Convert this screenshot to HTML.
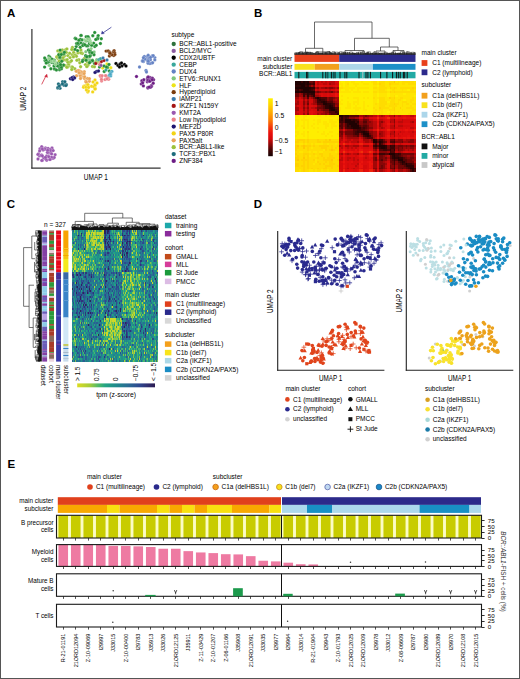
<!DOCTYPE html>
<html><head><meta charset="utf-8"><style>
html,body{margin:0;padding:0;background:#fff;}
svg{display:block;font-family:"Liberation Sans",sans-serif;}
</style></head><body>
<svg width="520" height="679" viewBox="0 0 520 679">
<rect x="0" y="0" width="520" height="679" fill="#fff"/>
<text x="6.9" y="16.6" font-size="11.5" fill="#000" font-weight="bold">A</text>
<g fill="#9cc23a" stroke="#fff" stroke-width="0.35" stroke-opacity="0.6"><circle cx="65.7" cy="49.6" r="1.7"/><circle cx="72.1" cy="54.8" r="1.7"/><circle cx="57.7" cy="58.2" r="1.7"/><circle cx="57.1" cy="56.4" r="1.7"/><circle cx="68.7" cy="65.8" r="1.7"/><circle cx="59.7" cy="51.4" r="1.7"/><circle cx="74.8" cy="68.7" r="1.7"/><circle cx="73.3" cy="55.5" r="1.7"/><circle cx="81.8" cy="53.0" r="1.7"/><circle cx="65.3" cy="65.6" r="1.7"/><circle cx="61.4" cy="60.0" r="1.7"/><circle cx="75.2" cy="54.9" r="1.7"/><circle cx="72.4" cy="47.5" r="1.7"/><circle cx="57.8" cy="50.9" r="1.7"/><circle cx="76.4" cy="56.3" r="1.7"/><circle cx="65.4" cy="60.1" r="1.7"/><circle cx="69.6" cy="53.2" r="1.7"/><circle cx="79.8" cy="62.8" r="1.7"/><circle cx="63.3" cy="59.8" r="1.7"/><circle cx="71.8" cy="67.0" r="1.7"/><circle cx="77.9" cy="52.9" r="1.7"/><circle cx="68.5" cy="64.2" r="1.7"/><circle cx="60.6" cy="57.7" r="1.7"/><circle cx="78.9" cy="59.8" r="1.7"/><circle cx="82.3" cy="53.5" r="1.7"/><circle cx="76.9" cy="60.3" r="1.7"/><circle cx="73.4" cy="56.9" r="1.7"/><circle cx="70.2" cy="61.9" r="1.7"/><circle cx="80.7" cy="52.8" r="1.7"/><circle cx="67.6" cy="62.0" r="1.7"/><circle cx="56.7" cy="57.1" r="1.7"/><circle cx="59.9" cy="51.9" r="1.7"/><circle cx="67.7" cy="66.9" r="1.7"/><circle cx="58.4" cy="56.8" r="1.7"/><circle cx="72.5" cy="67.2" r="1.7"/><circle cx="80.6" cy="66.7" r="1.7"/><circle cx="64.4" cy="56.0" r="1.7"/><circle cx="66.8" cy="67.2" r="1.7"/><circle cx="61.3" cy="51.6" r="1.7"/><circle cx="63.0" cy="57.6" r="1.7"/><circle cx="73.7" cy="52.3" r="1.7"/><circle cx="67.1" cy="59.6" r="1.7"/><circle cx="71.5" cy="60.8" r="1.7"/><circle cx="67.8" cy="55.6" r="1.7"/><circle cx="59.1" cy="61.2" r="1.7"/><circle cx="62.3" cy="49.9" r="1.7"/><circle cx="59.0" cy="54.7" r="1.7"/><circle cx="74.4" cy="49.6" r="1.7"/><circle cx="63.6" cy="54.3" r="1.7"/><circle cx="66.9" cy="48.9" r="1.7"/><circle cx="70.0" cy="57.6" r="1.7"/><circle cx="66.3" cy="52.4" r="1.7"/><circle cx="80.9" cy="49.9" r="1.7"/><circle cx="71.8" cy="49.5" r="1.7"/><circle cx="71.8" cy="69.5" r="1.7"/></g>
<g fill="#9cc23a" stroke="#fff" stroke-width="0.35" stroke-opacity="0.6"><circle cx="88.2" cy="59.9" r="1.7"/><circle cx="86.7" cy="66.4" r="1.7"/><circle cx="92.5" cy="66.5" r="1.7"/><circle cx="89.3" cy="57.6" r="1.7"/><circle cx="87.6" cy="62.3" r="1.7"/><circle cx="84.4" cy="58.5" r="1.7"/><circle cx="88.1" cy="65.1" r="1.7"/><circle cx="99.3" cy="61.2" r="1.7"/><circle cx="99.3" cy="59.8" r="1.7"/><circle cx="87.5" cy="57.6" r="1.7"/><circle cx="87.1" cy="57.3" r="1.7"/><circle cx="97.4" cy="61.7" r="1.7"/><circle cx="94.4" cy="66.8" r="1.7"/><circle cx="85.4" cy="64.6" r="1.7"/><circle cx="96.0" cy="61.6" r="1.7"/><circle cx="86.9" cy="66.6" r="1.7"/></g>
<g fill="#80c67e" stroke="#fff" stroke-width="0.35" stroke-opacity="0.6"><circle cx="88.7" cy="59.6" r="1.7"/><circle cx="89.6" cy="61.4" r="1.7"/><circle cx="94.1" cy="52.0" r="1.7"/><circle cx="85.8" cy="51.8" r="1.7"/><circle cx="96.7" cy="59.7" r="1.7"/><circle cx="88.9" cy="56.6" r="1.7"/><circle cx="91.4" cy="61.2" r="1.7"/><circle cx="90.1" cy="60.5" r="1.7"/></g>
<g fill="#268f36" stroke="#fff" stroke-width="0.35" stroke-opacity="0.6"><circle cx="97.8" cy="37.5" r="1.7"/><circle cx="80.6" cy="39.6" r="1.7"/><circle cx="80.2" cy="47.2" r="1.7"/><circle cx="80.8" cy="42.9" r="1.7"/><circle cx="83.6" cy="43.9" r="1.7"/><circle cx="90.5" cy="55.5" r="1.7"/><circle cx="85.6" cy="55.9" r="1.7"/><circle cx="88.0" cy="45.8" r="1.7"/><circle cx="86.2" cy="36.8" r="1.7"/><circle cx="78.2" cy="44.3" r="1.7"/><circle cx="94.8" cy="46.5" r="1.7"/><circle cx="82.8" cy="45.5" r="1.7"/><circle cx="89.7" cy="52.4" r="1.7"/><circle cx="76.2" cy="46.6" r="1.7"/><circle cx="80.5" cy="39.2" r="1.7"/><circle cx="96.2" cy="45.2" r="1.7"/><circle cx="89.9" cy="51.8" r="1.7"/><circle cx="100.4" cy="43.5" r="1.7"/><circle cx="91.4" cy="45.1" r="1.7"/><circle cx="88.4" cy="50.0" r="1.7"/><circle cx="86.6" cy="45.9" r="1.7"/><circle cx="87.3" cy="56.5" r="1.7"/><circle cx="94.0" cy="54.8" r="1.7"/><circle cx="101.3" cy="38.7" r="1.7"/><circle cx="89.8" cy="56.5" r="1.7"/><circle cx="98.2" cy="35.6" r="1.7"/><circle cx="76.6" cy="43.5" r="1.7"/><circle cx="75.2" cy="38.3" r="1.7"/><circle cx="75.2" cy="49.4" r="1.7"/><circle cx="77.6" cy="50.6" r="1.7"/><circle cx="92.8" cy="35.7" r="1.7"/><circle cx="84.9" cy="44.7" r="1.7"/><circle cx="77.8" cy="43.2" r="1.7"/><circle cx="88.5" cy="40.8" r="1.7"/><circle cx="78.9" cy="40.3" r="1.7"/><circle cx="94.7" cy="32.5" r="1.7"/><circle cx="89.6" cy="43.5" r="1.7"/><circle cx="91.7" cy="45.3" r="1.7"/><circle cx="76.1" cy="38.9" r="1.7"/><circle cx="81.1" cy="35.4" r="1.7"/><circle cx="85.7" cy="55.7" r="1.7"/><circle cx="97.6" cy="38.7" r="1.7"/><circle cx="90.1" cy="50.2" r="1.7"/><circle cx="93.6" cy="43.1" r="1.7"/><circle cx="92.0" cy="52.8" r="1.7"/><circle cx="86.6" cy="40.8" r="1.7"/><circle cx="89.6" cy="56.1" r="1.7"/><circle cx="81.0" cy="35.4" r="1.7"/><circle cx="88.8" cy="38.2" r="1.7"/><circle cx="82.4" cy="39.9" r="1.7"/><circle cx="95.8" cy="39.5" r="1.7"/><circle cx="88.0" cy="36.6" r="1.7"/></g>
<g fill="#268f36" stroke="#fff" stroke-width="0.35" stroke-opacity="0.6"><circle cx="59.9" cy="63.5" r="1.7"/><circle cx="47.4" cy="62.0" r="1.7"/><circle cx="61.8" cy="61.2" r="1.7"/><circle cx="54.4" cy="68.9" r="1.7"/><circle cx="52.0" cy="62.6" r="1.7"/><circle cx="50.9" cy="68.8" r="1.7"/><circle cx="59.3" cy="65.1" r="1.7"/><circle cx="52.3" cy="59.6" r="1.7"/><circle cx="44.6" cy="67.1" r="1.7"/><circle cx="48.9" cy="56.1" r="1.7"/><circle cx="63.0" cy="65.7" r="1.7"/><circle cx="49.5" cy="57.6" r="1.7"/><circle cx="49.7" cy="61.7" r="1.7"/><circle cx="46.6" cy="61.5" r="1.7"/><circle cx="50.1" cy="59.8" r="1.7"/><circle cx="53.9" cy="62.6" r="1.7"/><circle cx="47.6" cy="62.6" r="1.7"/><circle cx="45.1" cy="60.6" r="1.7"/><circle cx="50.0" cy="57.4" r="1.7"/><circle cx="56.5" cy="63.1" r="1.7"/><circle cx="60.3" cy="65.5" r="1.7"/><circle cx="59.5" cy="69.7" r="1.7"/><circle cx="52.0" cy="59.2" r="1.7"/><circle cx="59.7" cy="65.2" r="1.7"/><circle cx="63.5" cy="64.9" r="1.7"/><circle cx="59.9" cy="68.4" r="1.7"/><circle cx="46.2" cy="63.0" r="1.7"/><circle cx="54.6" cy="68.9" r="1.7"/><circle cx="61.5" cy="68.7" r="1.7"/><circle cx="56.4" cy="70.0" r="1.7"/><circle cx="58.7" cy="66.2" r="1.7"/><circle cx="46.1" cy="59.9" r="1.7"/><circle cx="55.8" cy="64.9" r="1.7"/><circle cx="57.4" cy="65.9" r="1.7"/><circle cx="61.3" cy="67.2" r="1.7"/><circle cx="54.6" cy="63.2" r="1.7"/><circle cx="59.9" cy="57.8" r="1.7"/><circle cx="44.7" cy="58.0" r="1.7"/><circle cx="59.8" cy="56.9" r="1.7"/><circle cx="54.4" cy="60.3" r="1.7"/><circle cx="54.0" cy="66.0" r="1.7"/><circle cx="60.6" cy="64.7" r="1.7"/></g>
<g fill="#268f36" stroke="#fff" stroke-width="0.35" stroke-opacity="0.6"><circle cx="82.7" cy="60.1" r="1.7"/><circle cx="99.5" cy="67.1" r="1.7"/><circle cx="94.5" cy="63.4" r="1.7"/><circle cx="109.3" cy="71.0" r="1.7"/><circle cx="104.2" cy="71.5" r="1.7"/><circle cx="92.4" cy="60.3" r="1.7"/><circle cx="106.4" cy="67.3" r="1.7"/><circle cx="92.4" cy="60.8" r="1.7"/><circle cx="82.5" cy="61.5" r="1.7"/><circle cx="107.6" cy="67.4" r="1.7"/><circle cx="89.9" cy="62.3" r="1.7"/><circle cx="89.5" cy="62.8" r="1.7"/><circle cx="86.8" cy="56.8" r="1.7"/><circle cx="86.0" cy="60.3" r="1.7"/></g>
<g fill="#268f36" stroke="#fff" stroke-width="0.35" stroke-opacity="0.6"><circle cx="60.1" cy="50.1" r="1.7"/><circle cx="58.7" cy="54.7" r="1.7"/><circle cx="63.8" cy="53.9" r="1.7"/><circle cx="61.3" cy="54.5" r="1.7"/><circle cx="64.4" cy="52.3" r="1.7"/></g>
<g fill="#8fd08a" stroke="#fff" stroke-width="0.35" stroke-opacity="0.6"><circle cx="55.3" cy="62.5" r="1.7"/><circle cx="55.5" cy="64.4" r="1.7"/><circle cx="49.0" cy="58.5" r="1.7"/><circle cx="51.6" cy="61.4" r="1.7"/><circle cx="49.2" cy="65.4" r="1.7"/><circle cx="54.2" cy="61.0" r="1.7"/></g>
<g fill="#8fd08a" stroke="#fff" stroke-width="0.35" stroke-opacity="0.6"><circle cx="90.9" cy="42.7" r="1.7"/><circle cx="84.7" cy="39.9" r="1.7"/><circle cx="90.0" cy="40.6" r="1.7"/><circle cx="89.2" cy="39.7" r="1.7"/><circle cx="87.5" cy="39.1" r="1.7"/><circle cx="85.8" cy="41.1" r="1.7"/><circle cx="91.1" cy="48.6" r="1.7"/></g>
<g fill="#7c3c0c" stroke="#fff" stroke-width="0.35" stroke-opacity="0.6"><circle cx="113.0" cy="52.1" r="1.7"/><circle cx="109.6" cy="53.0" r="1.7"/><circle cx="109.3" cy="51.6" r="1.7"/><circle cx="106.1" cy="51.1" r="1.7"/><circle cx="110.5" cy="53.8" r="1.7"/><circle cx="114.1" cy="50.6" r="1.7"/><circle cx="108.2" cy="50.9" r="1.7"/><circle cx="109.5" cy="52.4" r="1.7"/><circle cx="114.5" cy="52.6" r="1.7"/><circle cx="109.4" cy="56.0" r="1.7"/><circle cx="113.8" cy="55.5" r="1.7"/><circle cx="110.7" cy="54.2" r="1.7"/><circle cx="114.9" cy="54.5" r="1.7"/><circle cx="112.0" cy="54.8" r="1.7"/><circle cx="110.1" cy="53.2" r="1.7"/></g>
<g fill="#000000" stroke="#fff" stroke-width="0.35" stroke-opacity="0.6"><circle cx="116.0" cy="63.5" r="1.7"/><circle cx="118.0" cy="65.5" r="1.7"/><circle cx="120.0" cy="64.0" r="1.7"/><circle cx="122.0" cy="66.0" r="1.7"/><circle cx="121.5" cy="63.0" r="1.7"/><circle cx="124.5" cy="64.5" r="1.7"/><circle cx="126.0" cy="66.0" r="1.7"/><circle cx="119.5" cy="67.0" r="1.7"/></g>
<g fill="#eaa458" stroke="#fff" stroke-width="0.35" stroke-opacity="0.6"><circle cx="76.6" cy="75.7" r="1.7"/><circle cx="83.3" cy="74.1" r="1.7"/><circle cx="78.8" cy="70.4" r="1.7"/><circle cx="81.3" cy="76.7" r="1.7"/><circle cx="80.8" cy="75.2" r="1.7"/><circle cx="81.3" cy="71.9" r="1.7"/><circle cx="84.3" cy="71.8" r="1.7"/><circle cx="79.4" cy="73.0" r="1.7"/><circle cx="84.4" cy="78.4" r="1.7"/><circle cx="84.6" cy="76.8" r="1.7"/><circle cx="79.8" cy="71.1" r="1.7"/><circle cx="80.1" cy="75.7" r="1.7"/><circle cx="81.4" cy="72.3" r="1.7"/><circle cx="80.5" cy="78.5" r="1.7"/><circle cx="79.9" cy="72.9" r="1.7"/><circle cx="84.1" cy="73.6" r="1.7"/></g>
<g fill="#eaa458" stroke="#fff" stroke-width="0.35" stroke-opacity="0.6"><circle cx="89.3" cy="81.2" r="1.7"/><circle cx="87.5" cy="78.5" r="1.7"/><circle cx="89.4" cy="78.7" r="1.7"/><circle cx="85.8" cy="81.3" r="1.7"/><circle cx="86.3" cy="82.3" r="1.7"/></g>
<g fill="#eaa458" stroke="#fff" stroke-width="0.35" stroke-opacity="0.6"><circle cx="78.0" cy="70.6" r="1.7"/><circle cx="76.3" cy="71.3" r="1.7"/><circle cx="79.0" cy="72.8" r="1.7"/></g>
<g fill="#f2d414" stroke="#fff" stroke-width="0.35" stroke-opacity="0.6"><circle cx="84.9" cy="86.3" r="1.7"/><circle cx="83.8" cy="86.3" r="1.7"/><circle cx="95.1" cy="85.6" r="1.7"/><circle cx="91.6" cy="86.2" r="1.7"/><circle cx="87.9" cy="85.6" r="1.7"/><circle cx="86.6" cy="85.9" r="1.7"/><circle cx="87.6" cy="91.0" r="1.7"/><circle cx="93.7" cy="86.8" r="1.7"/><circle cx="83.6" cy="87.2" r="1.7"/><circle cx="87.8" cy="92.1" r="1.7"/><circle cx="85.5" cy="86.0" r="1.7"/><circle cx="88.3" cy="90.9" r="1.7"/><circle cx="95.0" cy="84.8" r="1.7"/><circle cx="92.7" cy="91.9" r="1.7"/><circle cx="87.4" cy="85.0" r="1.7"/><circle cx="95.4" cy="88.8" r="1.7"/><circle cx="86.4" cy="89.9" r="1.7"/><circle cx="87.1" cy="85.0" r="1.7"/><circle cx="94.9" cy="89.0" r="1.7"/><circle cx="86.0" cy="87.2" r="1.7"/><circle cx="88.0" cy="84.8" r="1.7"/><circle cx="88.6" cy="87.4" r="1.7"/></g>
<g fill="#f2d414" stroke="#fff" stroke-width="0.35" stroke-opacity="0.6"><circle cx="95.0" cy="80.0" r="1.7"/><circle cx="93.0" cy="82.0" r="1.7"/><circle cx="97.0" cy="83.0" r="1.7"/></g>
<g fill="#1c6c7c" stroke="#fff" stroke-width="0.35" stroke-opacity="0.6"><circle cx="66.1" cy="84.6" r="1.7"/><circle cx="66.4" cy="84.7" r="1.7"/><circle cx="62.7" cy="83.4" r="1.7"/><circle cx="59.9" cy="85.2" r="1.7"/><circle cx="60.0" cy="88.2" r="1.7"/><circle cx="57.7" cy="88.0" r="1.7"/><circle cx="58.4" cy="83.9" r="1.7"/><circle cx="58.1" cy="87.3" r="1.7"/><circle cx="64.1" cy="83.5" r="1.7"/><circle cx="59.2" cy="86.1" r="1.7"/><circle cx="64.0" cy="85.3" r="1.7"/><circle cx="65.9" cy="85.6" r="1.7"/><circle cx="62.6" cy="81.8" r="1.7"/><circle cx="64.9" cy="81.8" r="1.7"/><circle cx="62.4" cy="83.9" r="1.7"/></g>
<g fill="#1c1470" stroke="#fff" stroke-width="0.35" stroke-opacity="0.6"><circle cx="73.5" cy="76.9" r="1.7"/><circle cx="70.4" cy="78.7" r="1.7"/><circle cx="72.6" cy="77.8" r="1.7"/><circle cx="72.0" cy="77.8" r="1.7"/><circle cx="74.6" cy="78.0" r="1.7"/><circle cx="72.7" cy="79.6" r="1.7"/></g>
<g fill="#1c1470" stroke="#fff" stroke-width="0.35" stroke-opacity="0.6"><circle cx="96.5" cy="71.5" r="1.7"/><circle cx="98.5" cy="71.0" r="1.7"/><circle cx="95.0" cy="72.5" r="1.7"/></g>
<g fill="#ec8088" stroke="#fff" stroke-width="0.35" stroke-opacity="0.6"><circle cx="100.2" cy="75.7" r="1.7"/><circle cx="108.7" cy="79.2" r="1.7"/><circle cx="108.3" cy="77.4" r="1.7"/><circle cx="107.7" cy="78.0" r="1.7"/><circle cx="101.6" cy="81.0" r="1.7"/><circle cx="105.0" cy="79.6" r="1.7"/><circle cx="101.2" cy="77.3" r="1.7"/><circle cx="100.4" cy="75.8" r="1.7"/><circle cx="101.5" cy="79.4" r="1.7"/><circle cx="105.5" cy="75.8" r="1.7"/><circle cx="105.8" cy="75.7" r="1.7"/><circle cx="102.1" cy="75.8" r="1.7"/><circle cx="107.0" cy="78.9" r="1.7"/></g>
<g fill="#ec8088" stroke="#fff" stroke-width="0.35" stroke-opacity="0.6"><circle cx="100.4" cy="62.7" r="1.7"/><circle cx="99.5" cy="64.5" r="1.7"/></g>
<g fill="#48a8c4" stroke="#fff" stroke-width="0.35" stroke-opacity="0.6"><circle cx="110.8" cy="74.0" r="1.7"/><circle cx="111.9" cy="71.4" r="1.7"/><circle cx="109.3" cy="75.2" r="1.7"/><circle cx="110.5" cy="72.9" r="1.7"/><circle cx="110.7" cy="75.9" r="1.7"/><circle cx="110.2" cy="74.3" r="1.7"/></g>
<g fill="#a41414" stroke="#fff" stroke-width="0.35" stroke-opacity="0.6"><circle cx="95.8" cy="63.5" r="1.7"/><circle cx="101.5" cy="61.5" r="1.7"/><circle cx="104.0" cy="60.5" r="1.7"/></g>
<g fill="#3aa89c" stroke="#fff" stroke-width="0.35" stroke-opacity="0.6"><circle cx="98.8" cy="59.6" r="1.7"/><circle cx="100.5" cy="58.8" r="1.7"/><circle cx="106.0" cy="70.0" r="1.7"/></g>
<g fill="#ece418" stroke="#fff" stroke-width="0.35" stroke-opacity="0.6"><circle cx="110.8" cy="67.7" r="1.7"/><circle cx="102.7" cy="68.1" r="1.7"/><circle cx="107.0" cy="64.0" r="1.7"/></g>
<g fill="#268f36" stroke="#fff" stroke-width="0.35" stroke-opacity="0.6"><circle cx="104.0" cy="66.0" r="1.7"/><circle cx="106.5" cy="67.0" r="1.7"/><circle cx="109.0" cy="64.5" r="1.7"/></g>
<g fill="#3a7aac" stroke="#fff" stroke-width="0.35" stroke-opacity="0.6"><circle cx="103.0" cy="58.0" r="1.7"/><circle cx="107.0" cy="60.0" r="1.7"/></g>
<g fill="#8c5aa0" stroke="#fff" stroke-width="0.35" stroke-opacity="0.6"><circle cx="101.0" cy="65.5" r="1.7"/></g>
<g fill="#6482c4" stroke="#fff" stroke-width="0.35" stroke-opacity="0.6"><circle cx="146.9" cy="59.0" r="1.7"/><circle cx="146.7" cy="56.9" r="1.7"/><circle cx="151.8" cy="56.2" r="1.7"/><circle cx="148.4" cy="62.7" r="1.7"/><circle cx="148.2" cy="63.3" r="1.7"/><circle cx="148.0" cy="56.4" r="1.7"/><circle cx="142.3" cy="60.9" r="1.7"/><circle cx="151.5" cy="63.1" r="1.7"/><circle cx="143.5" cy="61.5" r="1.7"/><circle cx="147.2" cy="59.8" r="1.7"/><circle cx="143.8" cy="58.1" r="1.7"/><circle cx="149.9" cy="63.5" r="1.7"/><circle cx="143.6" cy="60.2" r="1.7"/><circle cx="144.3" cy="56.5" r="1.7"/><circle cx="148.2" cy="55.3" r="1.7"/><circle cx="154.8" cy="57.6" r="1.7"/><circle cx="154.8" cy="59.9" r="1.7"/><circle cx="153.0" cy="55.6" r="1.7"/><circle cx="152.6" cy="56.3" r="1.7"/><circle cx="148.1" cy="63.0" r="1.7"/><circle cx="153.1" cy="55.8" r="1.7"/><circle cx="145.0" cy="59.1" r="1.7"/><circle cx="149.1" cy="58.4" r="1.7"/><circle cx="143.4" cy="57.8" r="1.7"/><circle cx="152.6" cy="62.8" r="1.7"/><circle cx="142.7" cy="61.0" r="1.7"/><circle cx="150.4" cy="59.8" r="1.7"/><circle cx="150.5" cy="57.4" r="1.7"/><circle cx="148.0" cy="60.4" r="1.7"/><circle cx="148.2" cy="61.2" r="1.7"/></g>
<g fill="#6482c4" stroke="#fff" stroke-width="0.35" stroke-opacity="0.6"><circle cx="139.5" cy="67.0" r="1.7"/><circle cx="146.0" cy="70.5" r="1.7"/><circle cx="146.5" cy="72.0" r="1.7"/></g>
<g fill="#6c1c84" stroke="#fff" stroke-width="0.35" stroke-opacity="0.6"><circle cx="147.3" cy="81.8" r="1.7"/><circle cx="141.3" cy="83.9" r="1.7"/><circle cx="147.9" cy="79.3" r="1.7"/><circle cx="151.7" cy="85.9" r="1.7"/><circle cx="147.4" cy="78.7" r="1.7"/><circle cx="147.6" cy="77.8" r="1.7"/><circle cx="142.8" cy="81.7" r="1.7"/><circle cx="142.3" cy="81.8" r="1.7"/><circle cx="148.1" cy="77.0" r="1.7"/><circle cx="149.9" cy="77.5" r="1.7"/><circle cx="151.3" cy="85.8" r="1.7"/><circle cx="148.2" cy="77.2" r="1.7"/><circle cx="148.1" cy="81.0" r="1.7"/><circle cx="151.2" cy="86.3" r="1.7"/><circle cx="147.9" cy="88.0" r="1.7"/><circle cx="141.9" cy="80.7" r="1.7"/><circle cx="151.6" cy="78.4" r="1.7"/><circle cx="153.6" cy="79.8" r="1.7"/><circle cx="152.4" cy="78.2" r="1.7"/><circle cx="148.0" cy="87.5" r="1.7"/><circle cx="143.9" cy="79.7" r="1.7"/><circle cx="148.1" cy="80.3" r="1.7"/><circle cx="150.5" cy="87.2" r="1.7"/><circle cx="143.4" cy="85.9" r="1.7"/><circle cx="142.6" cy="82.9" r="1.7"/><circle cx="149.9" cy="80.8" r="1.7"/><circle cx="153.2" cy="83.2" r="1.7"/><circle cx="149.1" cy="87.1" r="1.7"/><circle cx="149.8" cy="81.2" r="1.7"/><circle cx="152.2" cy="79.7" r="1.7"/></g>
<g fill="#6c1c84" stroke="#fff" stroke-width="0.35" stroke-opacity="0.6"><circle cx="136.5" cy="76.5" r="1.7"/></g>
<g fill="#9a58b0" stroke="#fff" stroke-width="0.35" stroke-opacity="0.6"><circle cx="55.1" cy="154.8" r="1.7"/><circle cx="44.0" cy="158.1" r="1.7"/><circle cx="45.5" cy="147.9" r="1.7"/><circle cx="52.1" cy="149.3" r="1.7"/><circle cx="48.0" cy="156.3" r="1.7"/><circle cx="48.5" cy="152.3" r="1.7"/><circle cx="46.7" cy="160.3" r="1.7"/><circle cx="40.0" cy="148.8" r="1.7"/><circle cx="39.6" cy="151.0" r="1.7"/><circle cx="41.6" cy="154.9" r="1.7"/><circle cx="48.1" cy="148.4" r="1.7"/><circle cx="48.7" cy="153.1" r="1.7"/><circle cx="42.0" cy="147.5" r="1.7"/><circle cx="39.4" cy="155.9" r="1.7"/><circle cx="53.0" cy="158.4" r="1.7"/><circle cx="44.8" cy="149.4" r="1.7"/><circle cx="47.6" cy="150.9" r="1.7"/><circle cx="49.1" cy="152.5" r="1.7"/><circle cx="54.2" cy="157.5" r="1.7"/><circle cx="42.1" cy="160.4" r="1.7"/><circle cx="38.5" cy="154.0" r="1.7"/><circle cx="44.8" cy="149.0" r="1.7"/><circle cx="37.9" cy="154.4" r="1.7"/><circle cx="41.2" cy="155.4" r="1.7"/><circle cx="46.6" cy="155.9" r="1.7"/><circle cx="52.0" cy="147.9" r="1.7"/><circle cx="43.1" cy="150.1" r="1.7"/><circle cx="51.5" cy="157.2" r="1.7"/><circle cx="50.8" cy="152.9" r="1.7"/><circle cx="50.8" cy="152.7" r="1.7"/><circle cx="41.7" cy="146.7" r="1.7"/><circle cx="43.6" cy="157.8" r="1.7"/><circle cx="49.9" cy="159.4" r="1.7"/><circle cx="50.2" cy="149.5" r="1.7"/><circle cx="47.4" cy="152.4" r="1.7"/><circle cx="51.6" cy="153.9" r="1.7"/><circle cx="42.4" cy="155.9" r="1.7"/><circle cx="42.3" cy="149.0" r="1.7"/><circle cx="50.8" cy="150.5" r="1.7"/><circle cx="53.2" cy="150.6" r="1.7"/><circle cx="41.9" cy="160.5" r="1.7"/><circle cx="48.8" cy="156.8" r="1.7"/><circle cx="46.0" cy="159.3" r="1.7"/><circle cx="50.0" cy="159.6" r="1.7"/><circle cx="45.4" cy="157.4" r="1.7"/><circle cx="47.7" cy="150.2" r="1.7"/></g>
<g fill="#9a58b0" stroke="#fff" stroke-width="0.35" stroke-opacity="0.6"><circle cx="38.0" cy="159.0" r="1.7"/></g>
<path d="M111.4 27.2 L102.4 33.3" stroke="#3a3a96" stroke-width="0.8" fill="none"/>
<path d="M101.3 34.1 L102.1 30.9 L104.3 33.6 Z" stroke="#3a3a96" stroke-width="0.3" fill="#3a3a96"/>
<path d="M41.7 84.4 L46.2 75.4" stroke="#d0283c" stroke-width="0.8" fill="none"/>
<path d="M46.9 74 L44.6 76.4 L47.6 77.4 Z" stroke="#d0283c" stroke-width="0.3" fill="#d0283c"/>
<line x1="31.90" y1="29.00" x2="31.90" y2="168.60" stroke="#333" stroke-width="1.2"/>
<line x1="31.30" y1="168.10" x2="160.60" y2="168.10" stroke="#333" stroke-width="1.2"/>
<text x="26.4" y="98.7" font-size="8.8" text-anchor="middle" textLength="24" lengthAdjust="spacingAndGlyphs" transform="rotate(-90 26.4 98.7)">UMAP 2</text>
<text x="95.8" y="180.0" font-size="8.8" text-anchor="middle" textLength="23.9" lengthAdjust="spacingAndGlyphs">UMAP 1</text>
<text x="171.5" y="36.6" font-size="6.5">subtype</text>
<circle cx="173.7" cy="44.00" r="2.15" fill="#2e723c"/>
<text x="179.2" y="46.2" font-size="6.5">BCR::ABL1-positive</text>
<circle cx="173.7" cy="50.88" r="2.15" fill="#8c5aa0"/>
<text x="179.2" y="53.1" font-size="6.5">BCL2/MYC</text>
<circle cx="173.7" cy="57.76" r="2.15" fill="#000000"/>
<text x="179.2" y="60.0" font-size="6.5">CDX2/UBTF</text>
<circle cx="173.7" cy="64.64" r="2.15" fill="#3aa89c"/>
<text x="179.2" y="66.9" font-size="6.5">CEBP</text>
<circle cx="173.7" cy="71.52" r="2.15" fill="#6482c4"/>
<text x="179.2" y="73.8" font-size="6.5">DUX4</text>
<circle cx="173.7" cy="78.40" r="2.15" fill="#80c67e"/>
<text x="179.2" y="80.7" font-size="6.5">ETV6::RUNX1</text>
<circle cx="173.7" cy="85.28" r="2.15" fill="#ece418"/>
<text x="179.2" y="87.5" font-size="6.5">HLF</text>
<circle cx="173.7" cy="92.16" r="2.15" fill="#7c3c0c"/>
<text x="179.2" y="94.4" font-size="6.5">Hyperdiploid</text>
<circle cx="173.7" cy="99.04" r="2.15" fill="#3a7aac"/>
<text x="179.2" y="101.3" font-size="6.5">iAMP21</text>
<circle cx="173.7" cy="105.92" r="2.15" fill="#a41414"/>
<text x="179.2" y="108.2" font-size="6.5">IKZF1 N159Y</text>
<circle cx="173.7" cy="112.80" r="2.15" fill="#9a58b0"/>
<text x="179.2" y="115.0" font-size="6.5">KMT2A</text>
<circle cx="173.7" cy="119.68" r="2.15" fill="#ec8088"/>
<text x="179.2" y="121.9" font-size="6.5">Low hypodiploid</text>
<circle cx="173.7" cy="126.56" r="2.15" fill="#1c1470"/>
<text x="179.2" y="128.8" font-size="6.5">MEF2D</text>
<circle cx="173.7" cy="133.44" r="2.15" fill="#f2d414"/>
<text x="179.2" y="135.7" font-size="6.5">PAX5 P80R</text>
<circle cx="173.7" cy="140.32" r="2.15" fill="#eaa458"/>
<text x="179.2" y="142.6" font-size="6.5">PAX5alt</text>
<circle cx="173.7" cy="147.20" r="2.15" fill="#9cc23a"/>
<text x="179.2" y="149.4" font-size="6.5">BCR::ABL1-like</text>
<circle cx="173.7" cy="154.08" r="2.15" fill="#1c6c7c"/>
<text x="179.2" y="156.3" font-size="6.5">TCF3::PBX1</text>
<circle cx="173.7" cy="160.96" r="2.15" fill="#6c1c84"/>
<text x="179.2" y="163.2" font-size="6.5">ZNF384</text>
<text x="254.0" y="16.6" font-size="11.5" fill="#000" font-weight="bold">B</text>
<path d="M314.5 48.3V22H372V38.3 M305.5 52V48.3H322.8V52 M354.5 50.5V38.3H389.3V47 M380.5 51V47H398V50.5 M345 53V50.5H364V53 M299 53.5V52.3H311V53.5 M316 53.5V52H330V53.5 M376 53.5V51H385V53.5 M393 53.5V50.5H404V53.5" stroke="#3a3a3a" stroke-width="0.75" fill="none"/>
<path d="M294.8 54.8V52.7H296.9V54.8M296.8 54.8V52.6H299.0V54.8M298.5 54.8V52.6H300.1V54.8M299.8 54.8V51.8H302.6V54.8M301.6 54.8V53.2H303.0V54.8M302.8 54.8V53.6H304.1V54.8M304.0 54.8V52.8H306.5V54.8M305.5 54.8V52.7H306.7V54.8M306.1 54.8V52.1H307.7V54.8M307.0 54.8V52.5H309.1V54.8M308.9 54.8V52.9H311.2V54.8M310.6 54.8V52.5H313.1V54.8M312.2 54.8V53.6H315.4V54.8M315.2 54.8V52.2H317.8V54.8M316.8 54.8V51.7H318.5V54.8M318.3 54.8V53.3H320.3V54.8M319.7 54.8V53.3H322.8V54.8M321.3 54.8V53.4H322.9V54.8M322.5 54.8V52.4H325.6V54.8M324.2 54.8V53.2H326.6V54.8M325.7 54.8V52.3H327.1V54.8M327.1 54.8V51.8H329.8V54.8M328.8 54.8V51.7H330.2V54.8M330.0 54.8V52.7H331.6V54.8M331.2 54.8V53.1H332.7V54.8M332.0 54.8V51.8H334.5V54.8M333.8 54.8V52.1H335.4V54.8M335.4 54.8V52.2H338.2V54.8M338.1 54.8V52.4H339.7V54.8M339.6 54.8V51.8H342.0V54.8M342.0 54.8V52.1H343.7V54.8M343.5 54.8V52.2H345.3V54.8M344.5 54.8V52.8H345.9V54.8M345.3 54.8V52.3H347.7V54.8M347.1 54.8V52.6H350.2V54.8M349.5 54.8V52.0H352.5V54.8M351.2 54.8V53.2H354.2V54.8M353.1 54.8V53.1H354.7V54.8M354.6 54.8V53.5H356.2V54.8M356.1 54.8V52.4H358.5V54.8M357.5 54.8V53.5H358.7V54.8M358.3 54.8V52.1H360.9V54.8M360.6 54.8V52.2H363.0V54.8M362.0 54.8V51.7H364.7V54.8M363.7 54.8V53.3H366.0V54.8M365.5 54.8V53.4H367.3V54.8M366.6 54.8V52.1H367.8V54.8M367.5 54.8V52.0H368.8V54.8M368.4 54.8V51.9H370.7V54.8M370.0 54.8V53.6H373.0V54.8M372.5 54.8V52.8H375.0V54.8M373.9 54.8V51.6H375.2V54.8M375.1 54.8V53.5H377.7V54.8M376.5 54.8V52.6H378.9V54.8M378.6 54.8V53.6H380.5V54.8M379.6 54.8V53.1H381.9V54.8M381.8 54.8V53.0H384.5V54.8M384.2 54.8V52.3H387.2V54.8M386.7 54.8V53.3H389.7V54.8M388.9 54.8V53.3H391.6V54.8M391.0 54.8V52.4H393.5V54.8M393.0 54.8V51.8H395.4V54.8M395.0 54.8V53.4H398.2V54.8M397.7 54.8V53.1H399.7V54.8M399.3 54.8V53.3H401.4V54.8M400.4 54.8V51.7H403.1V54.8M402.6 54.8V52.1H404.7V54.8M404.4 54.8V52.8H406.6V54.8M406.5 54.8V51.6H408.2V54.8M407.6 54.8V52.0H410.2V54.8M409.1 54.8V52.9H412.1V54.8M411.3 54.8V52.3H414.3V54.8M413.8 54.8V52.5H415.3V54.8" stroke="#1a1a1a" stroke-width="0.5" fill="none"/>
<rect x="294.50" y="53.30" width="121.00" height="1.60" fill="#1a1a1a"/>
<rect x="294.50" y="54.80" width="44.70" height="7.10" fill="#e8401c"/>
<rect x="339.20" y="54.80" width="76.30" height="7.10" fill="#2c2a8c"/>
<rect x="294.50" y="63.90" width="20.30" height="5.90" fill="#f8e21c"/>
<rect x="314.80" y="63.90" width="24.40" height="5.90" fill="#f2a01c"/>
<rect x="339.20" y="63.90" width="33.70" height="5.90" fill="#acd6ea"/>
<rect x="372.90" y="63.90" width="42.60" height="5.90" fill="#1c90c8"/>
<rect x="294.50" y="71.90" width="121.00" height="6.40" fill="#22aaa4"/>
<rect x="298.30" y="71.90" width="1.00" height="6.40" fill="#111"/>
<rect x="306.10" y="71.90" width="1.00" height="6.40" fill="#111"/>
<rect x="307.30" y="71.90" width="1.00" height="6.40" fill="#111"/>
<rect x="322.30" y="71.90" width="1.00" height="6.40" fill="#111"/>
<rect x="325.30" y="71.90" width="1.00" height="6.40" fill="#111"/>
<rect x="330.90" y="71.90" width="1.00" height="6.40" fill="#111"/>
<rect x="334.50" y="71.90" width="1.00" height="6.40" fill="#111"/>
<rect x="339.50" y="71.90" width="1.00" height="6.40" fill="#111"/>
<rect x="344.40" y="71.90" width="1.00" height="6.40" fill="#111"/>
<rect x="346.30" y="71.90" width="1.00" height="6.40" fill="#111"/>
<rect x="358.50" y="71.90" width="1.00" height="6.40" fill="#111"/>
<rect x="365.50" y="71.90" width="1.00" height="6.40" fill="#111"/>
<rect x="367.40" y="71.90" width="1.00" height="6.40" fill="#111"/>
<rect x="369.90" y="71.90" width="1.00" height="6.40" fill="#111"/>
<rect x="380.10" y="71.90" width="1.00" height="6.40" fill="#111"/>
<rect x="386.40" y="71.90" width="1.00" height="6.40" fill="#111"/>
<rect x="392.10" y="71.90" width="1.00" height="6.40" fill="#111"/>
<rect x="395.90" y="71.90" width="1.00" height="6.40" fill="#111"/>
<rect x="397.80" y="71.90" width="1.00" height="6.40" fill="#111"/>
<rect x="399.70" y="71.90" width="1.00" height="6.40" fill="#111"/>
<rect x="402.90" y="71.90" width="1.00" height="6.40" fill="#111"/>
<rect x="404.20" y="71.90" width="1.00" height="6.40" fill="#111"/>
<rect x="406.70" y="71.90" width="1.00" height="6.40" fill="#111"/>
<rect x="327.20" y="71.90" width="1.20" height="6.40" fill="#0c4c4c"/>
<rect x="332.70" y="71.90" width="1.20" height="6.40" fill="#0c4c4c"/>
<rect x="362.40" y="71.90" width="0.90" height="6.40" fill="#c8c8c8"/>
<text x="292.3" y="60.6" font-size="6.5" text-anchor="end">main cluster</text>
<text x="292.3" y="68.5" font-size="6.5" text-anchor="end">subcluster</text>
<text x="292.3" y="76.2" font-size="6.5" text-anchor="end">BCR::ABL1</text>
<path shape-rendering="crispEdges" fill="#1f0202" d="M294.5 80.7h6.2v2.2h-6.2zM302.6 80.7h2.2v2.2h-2.2zM306.6 80.7h2.2v2.2h-2.2zM294.5 82.7h10.2v2.2h-10.2zM306.6 82.7h2.2v2.2h-2.2zM300.6 84.7h4.2v2.2h-4.2zM294.5 86.7h16.3v2.2h-16.3zM302.6 88.8h6.2v2.2h-6.2zM294.5 90.8h4.2v2.2h-4.2zM300.6 90.8h14.3v2.2h-14.3zM316.7 96.8h2.2v2.2h-2.2zM322.7 100.8h2.2v2.2h-2.2zM322.7 102.8h4.2v2.2h-4.2zM328.8 104.9h2.2v2.2h-2.2zM328.8 106.9h4.2v2.2h-4.2zM330.8 108.9h4.2v2.2h-4.2zM338.9 114.9h4.2v2.2h-4.2zM344.9 119.0h6.2v2.2h-6.2zM344.9 121.0h10.2v2.2h-10.2zM348.9 123.0h8.2v2.2h-8.2zM351.0 125.0h8.2v2.2h-8.2zM353.0 127.0h6.2v2.2h-6.2zM363.1 131.0h2.2v2.2h-2.2zM363.1 133.0h6.2v2.2h-6.2zM367.1 135.1h2.2v2.2h-2.2zM373.1 139.1h2.2v2.2h-2.2zM373.1 141.1h4.2v2.2h-4.2zM379.2 141.1h2.2v2.2h-2.2zM379.2 145.1h6.2v2.2h-6.2zM381.2 147.1h4.2v2.2h-4.2zM389.3 153.2h6.2v2.2h-6.2zM393.3 155.2h2.2v2.2h-2.2zM393.3 157.2h2.2v2.2h-2.2zM397.4 157.2h2.2v2.2h-2.2zM397.4 159.2h6.2v2.2h-6.2zM401.4 161.2h2.2v2.2h-2.2zM405.4 163.2h2.2v2.2h-2.2zM409.4 167.3h4.2v2.2h-4.2z"/>
<path shape-rendering="crispEdges" fill="#2d0303" d="M304.6 80.7h2.2v2.2h-2.2zM304.6 82.7h2.2v2.2h-2.2zM294.5 84.7h6.2v2.2h-6.2zM306.6 84.7h2.2v2.2h-2.2zM310.6 86.7h4.2v2.2h-4.2zM296.5 88.8h2.2v2.2h-2.2zM308.6 88.8h2.2v2.2h-2.2zM298.5 90.8h2.2v2.2h-2.2zM306.6 92.8h2.2v2.2h-2.2zM310.6 92.8h4.2v2.2h-4.2zM306.6 94.8h2.2v2.2h-2.2zM312.6 94.8h2.2v2.2h-2.2zM318.7 98.8h2.2v2.2h-2.2zM320.7 100.8h2.2v2.2h-2.2zM324.8 100.8h2.2v2.2h-2.2zM326.8 102.8h4.2v2.2h-4.2zM324.8 104.9h4.2v2.2h-4.2zM330.8 104.9h2.2v2.2h-2.2zM324.8 106.9h4.2v2.2h-4.2zM332.8 106.9h2.2v2.2h-2.2zM328.8 108.9h2.2v2.2h-2.2zM334.8 110.9h2.2v2.2h-2.2zM336.9 112.9h2.2v2.2h-2.2zM344.9 114.9h4.2v2.2h-4.2zM340.9 116.9h2.2v2.2h-2.2zM340.9 119.0h2.2v2.2h-2.2zM353.0 119.0h2.2v2.2h-2.2zM357.0 121.0h2.2v2.2h-2.2zM346.9 123.0h2.2v2.2h-2.2zM346.9 125.0h2.2v2.2h-2.2zM351.0 127.0h2.2v2.2h-2.2zM359.0 127.0h2.2v2.2h-2.2zM357.0 131.0h2.2v2.2h-2.2zM361.1 131.0h2.2v2.2h-2.2zM365.1 131.0h2.2v2.2h-2.2zM365.1 135.1h2.2v2.2h-2.2zM375.2 139.1h2.2v2.2h-2.2zM381.2 141.1h2.2v2.2h-2.2zM379.2 143.1h2.2v2.2h-2.2zM375.2 145.1h2.2v2.2h-2.2zM385.2 145.1h2.2v2.2h-2.2zM389.3 145.1h2.2v2.2h-2.2zM393.3 145.1h2.2v2.2h-2.2zM379.2 147.1h2.2v2.2h-2.2zM385.2 147.1h2.2v2.2h-2.2zM389.3 149.2h2.2v2.2h-2.2zM393.3 149.2h2.2v2.2h-2.2zM397.4 153.2h2.2v2.2h-2.2zM391.3 155.2h2.2v2.2h-2.2zM391.3 157.2h2.2v2.2h-2.2zM395.3 157.2h2.2v2.2h-2.2zM399.4 157.2h4.2v2.2h-4.2zM393.3 159.2h2.2v2.2h-2.2zM403.4 161.2h2.2v2.2h-2.2zM401.4 163.2h2.2v2.2h-2.2zM405.4 165.3h8.2v2.2h-8.2zM411.5 169.3h2.2v2.2h-2.2z"/>
<path shape-rendering="crispEdges" fill="#3c0404" d="M300.6 80.7h2.2v2.2h-2.2zM308.6 82.7h2.2v2.2h-2.2zM312.6 82.7h2.2v2.2h-2.2zM304.6 84.7h2.2v2.2h-2.2zM294.5 88.8h2.2v2.2h-2.2zM300.6 88.8h2.2v2.2h-2.2zM310.6 88.8h2.2v2.2h-2.2zM302.6 92.8h2.2v2.2h-2.2zM308.6 92.8h2.2v2.2h-2.2zM302.6 94.8h2.2v2.2h-2.2zM314.7 96.8h2.2v2.2h-2.2zM318.7 96.8h2.2v2.2h-2.2zM316.7 98.8h2.2v2.2h-2.2zM320.7 98.8h4.2v2.2h-4.2zM316.7 100.8h4.2v2.2h-4.2zM330.8 102.8h2.2v2.2h-2.2zM334.8 108.9h2.2v2.2h-2.2zM336.9 110.9h2.2v2.2h-2.2zM342.9 114.9h2.2v2.2h-2.2zM344.9 116.9h2.2v2.2h-2.2zM338.9 119.0h2.2v2.2h-2.2zM351.0 119.0h2.2v2.2h-2.2zM355.0 119.0h2.2v2.2h-2.2zM338.9 121.0h4.2v2.2h-4.2zM355.0 121.0h2.2v2.2h-2.2zM357.0 123.0h2.2v2.2h-2.2zM348.9 125.0h2.2v2.2h-2.2zM346.9 127.0h4.2v2.2h-4.2zM363.1 127.0h2.2v2.2h-2.2zM357.0 129.0h4.2v2.2h-4.2zM355.0 131.0h2.2v2.2h-2.2zM359.0 131.0h2.2v2.2h-2.2zM367.1 131.0h2.2v2.2h-2.2zM355.0 133.0h4.2v2.2h-4.2zM363.1 135.1h2.2v2.2h-2.2zM369.1 135.1h2.2v2.2h-2.2zM379.2 139.1h4.2v2.2h-4.2zM393.3 141.1h2.2v2.2h-2.2zM373.1 145.1h2.2v2.2h-2.2zM391.3 145.1h2.2v2.2h-2.2zM389.3 147.1h6.2v2.2h-6.2zM383.2 149.2h4.2v2.2h-4.2zM389.3 151.2h2.2v2.2h-2.2zM379.2 153.2h6.2v2.2h-6.2zM395.3 153.2h2.2v2.2h-2.2zM399.4 153.2h2.2v2.2h-2.2zM395.3 155.2h4.2v2.2h-4.2zM393.3 161.2h2.2v2.2h-2.2zM399.4 161.2h2.2v2.2h-2.2zM393.3 163.2h2.2v2.2h-2.2zM403.4 163.2h2.2v2.2h-2.2zM407.4 163.2h4.2v2.2h-4.2zM393.3 167.3h2.2v2.2h-2.2zM407.4 167.3h2.2v2.2h-2.2zM413.5 167.3h2.2v2.2h-2.2z"/>
<path shape-rendering="crispEdges" fill="#520404" d="M312.6 80.7h2.2v2.2h-2.2zM310.6 82.7h2.2v2.2h-2.2zM298.5 88.8h2.2v2.2h-2.2zM312.6 88.8h2.2v2.2h-2.2zM304.6 92.8h2.2v2.2h-2.2zM310.6 94.8h2.2v2.2h-2.2zM306.6 96.8h2.2v2.2h-2.2zM320.7 96.8h6.2v2.2h-6.2zM324.8 98.8h2.2v2.2h-2.2zM326.8 100.8h6.2v2.2h-6.2zM316.7 102.8h6.2v2.2h-6.2zM332.8 102.8h2.2v2.2h-2.2zM322.7 104.9h2.2v2.2h-2.2zM332.8 104.9h2.2v2.2h-2.2zM322.7 106.9h2.2v2.2h-2.2zM334.8 106.9h4.2v2.2h-4.2zM336.9 108.9h2.2v2.2h-2.2zM328.8 110.9h6.2v2.2h-6.2zM330.8 112.9h6.2v2.2h-6.2zM348.9 114.9h10.2v2.2h-10.2zM338.9 116.9h2.2v2.2h-2.2zM342.9 116.9h2.2v2.2h-2.2zM346.9 116.9h2.2v2.2h-2.2zM342.9 119.0h2.2v2.2h-2.2zM357.0 119.0h2.2v2.2h-2.2zM342.9 121.0h2.2v2.2h-2.2zM363.1 121.0h4.2v2.2h-4.2zM340.9 123.0h2.2v2.2h-2.2zM344.9 123.0h2.2v2.2h-2.2zM338.9 125.0h4.2v2.2h-4.2zM344.9 125.0h2.2v2.2h-2.2zM359.0 125.0h2.2v2.2h-2.2zM363.1 125.0h4.2v2.2h-4.2zM340.9 127.0h2.2v2.2h-2.2zM344.9 127.0h2.2v2.2h-2.2zM361.1 127.0h2.2v2.2h-2.2zM365.1 127.0h2.2v2.2h-2.2zM353.0 129.0h4.2v2.2h-4.2zM361.1 129.0h4.2v2.2h-4.2zM353.0 131.0h2.2v2.2h-2.2zM353.0 133.0h2.2v2.2h-2.2zM361.1 133.0h2.2v2.2h-2.2zM357.0 135.1h2.2v2.2h-2.2zM367.1 137.1h6.2v2.2h-6.2zM393.3 139.1h2.2v2.2h-2.2zM377.2 141.1h2.2v2.2h-2.2zM383.2 141.1h2.2v2.2h-2.2zM389.3 141.1h4.2v2.2h-4.2zM375.2 143.1h2.2v2.2h-2.2zM381.2 143.1h2.2v2.2h-2.2zM377.2 145.1h2.2v2.2h-2.2zM375.2 147.1h2.2v2.2h-2.2zM379.2 149.2h4.2v2.2h-4.2zM387.3 149.2h2.2v2.2h-2.2zM391.3 149.2h2.2v2.2h-2.2zM391.3 151.2h4.2v2.2h-4.2zM385.2 153.2h4.2v2.2h-4.2zM389.3 155.2h2.2v2.2h-2.2zM399.4 155.2h2.2v2.2h-2.2zM389.3 157.2h2.2v2.2h-2.2zM403.4 157.2h2.2v2.2h-2.2zM381.2 159.2h2.2v2.2h-2.2zM391.3 159.2h2.2v2.2h-2.2zM395.3 159.2h2.2v2.2h-2.2zM403.4 159.2h4.2v2.2h-4.2zM397.4 161.2h2.2v2.2h-2.2zM405.4 161.2h2.2v2.2h-2.2zM399.4 163.2h2.2v2.2h-2.2zM411.5 163.2h2.2v2.2h-2.2zM393.3 165.3h2.2v2.2h-2.2zM403.4 165.3h2.2v2.2h-2.2zM401.4 167.3h2.2v2.2h-2.2zM405.4 167.3h2.2v2.2h-2.2zM409.4 169.3h2.2v2.2h-2.2zM413.5 169.3h2.2v2.2h-2.2z"/>
<path shape-rendering="crispEdges" fill="#6d0505" d="M308.6 80.7h4.2v2.2h-4.2zM308.6 84.7h2.2v2.2h-2.2zM312.6 84.7h2.2v2.2h-2.2zM316.7 90.8h2.2v2.2h-2.2zM330.8 90.8h2.2v2.2h-2.2zM294.5 92.8h4.2v2.2h-4.2zM294.5 94.8h4.2v2.2h-4.2zM308.6 94.8h2.2v2.2h-2.2zM312.6 96.8h2.2v2.2h-2.2zM328.8 96.8h4.2v2.2h-4.2zM328.8 98.8h4.2v2.2h-4.2zM306.6 102.8h2.2v2.2h-2.2zM320.7 104.9h2.2v2.2h-2.2zM316.7 106.9h6.2v2.2h-6.2zM316.7 108.9h2.2v2.2h-2.2zM322.7 108.9h6.2v2.2h-6.2zM328.8 112.9h2.2v2.2h-2.2zM365.1 114.9h2.2v2.2h-2.2zM363.1 119.0h4.2v2.2h-4.2zM338.9 123.0h2.2v2.2h-2.2zM363.1 123.0h4.2v2.2h-4.2zM361.1 125.0h2.2v2.2h-2.2zM367.1 125.0h2.2v2.2h-2.2zM338.9 127.0h2.2v2.2h-2.2zM367.1 127.0h2.2v2.2h-2.2zM365.1 129.0h2.2v2.2h-2.2zM338.9 131.0h4.2v2.2h-4.2zM344.9 131.0h8.2v2.2h-8.2zM340.9 133.0h2.2v2.2h-2.2zM344.9 133.0h8.2v2.2h-8.2zM369.1 133.0h2.2v2.2h-2.2zM353.0 135.1h4.2v2.2h-4.2zM371.1 135.1h2.2v2.2h-2.2zM365.1 137.1h2.2v2.2h-2.2zM377.2 139.1h2.2v2.2h-2.2zM383.2 139.1h2.2v2.2h-2.2zM389.3 139.1h4.2v2.2h-4.2zM385.2 141.1h2.2v2.2h-2.2zM401.4 141.1h2.2v2.2h-2.2zM387.3 145.1h2.2v2.2h-2.2zM397.4 145.1h6.2v2.2h-6.2zM405.4 145.1h2.2v2.2h-2.2zM409.4 145.1h4.2v2.2h-4.2zM373.1 147.1h2.2v2.2h-2.2zM387.3 147.1h2.2v2.2h-2.2zM397.4 147.1h2.2v2.2h-2.2zM401.4 147.1h2.2v2.2h-2.2zM397.4 149.2h2.2v2.2h-2.2zM373.1 153.2h4.2v2.2h-4.2zM401.4 153.2h12.3v2.2h-12.3zM379.2 155.2h4.2v2.2h-4.2zM401.4 155.2h2.2v2.2h-2.2zM375.2 157.2h2.2v2.2h-2.2zM379.2 157.2h4.2v2.2h-4.2zM385.2 157.2h2.2v2.2h-2.2zM405.4 157.2h2.2v2.2h-2.2zM409.4 157.2h4.2v2.2h-4.2zM375.2 159.2h2.2v2.2h-2.2zM379.2 159.2h2.2v2.2h-2.2zM389.3 159.2h2.2v2.2h-2.2zM407.4 159.2h4.2v2.2h-4.2zM389.3 161.2h4.2v2.2h-4.2zM407.4 161.2h6.2v2.2h-6.2zM391.3 163.2h2.2v2.2h-2.2zM397.4 163.2h2.2v2.2h-2.2zM381.2 165.3h2.2v2.2h-2.2zM389.3 165.3h2.2v2.2h-2.2zM397.4 165.3h6.2v2.2h-6.2zM379.2 167.3h4.2v2.2h-4.2zM389.3 167.3h4.2v2.2h-4.2zM397.4 167.3h4.2v2.2h-4.2zM403.4 167.3h2.2v2.2h-2.2z"/>
<path shape-rendering="crispEdges" fill="#870606" d="M316.7 86.7h2.2v2.2h-2.2zM324.8 86.7h2.2v2.2h-2.2zM328.8 86.7h4.2v2.2h-4.2zM314.7 90.8h2.2v2.2h-2.2zM318.7 90.8h2.2v2.2h-2.2zM324.8 90.8h2.2v2.2h-2.2zM328.8 90.8h2.2v2.2h-2.2zM300.6 92.8h2.2v2.2h-2.2zM304.6 94.8h2.2v2.2h-2.2zM302.6 96.8h2.2v2.2h-2.2zM326.8 96.8h2.2v2.2h-2.2zM332.8 96.8h2.2v2.2h-2.2zM314.7 98.8h2.2v2.2h-2.2zM326.8 98.8h2.2v2.2h-2.2zM302.6 100.8h2.2v2.2h-2.2zM306.6 100.8h2.2v2.2h-2.2zM314.7 100.8h2.2v2.2h-2.2zM332.8 100.8h2.2v2.2h-2.2zM302.6 102.8h2.2v2.2h-2.2zM334.8 102.8h4.2v2.2h-4.2zM316.7 104.9h4.2v2.2h-4.2zM336.9 104.9h2.2v2.2h-2.2zM302.6 106.9h2.2v2.2h-2.2zM306.6 106.9h2.2v2.2h-2.2zM320.7 108.9h2.2v2.2h-2.2zM324.8 110.9h4.2v2.2h-4.2zM306.6 112.9h2.2v2.2h-2.2zM324.8 112.9h2.2v2.2h-2.2zM363.1 114.9h2.2v2.2h-2.2zM367.1 114.9h2.2v2.2h-2.2zM393.3 114.9h2.2v2.2h-2.2zM348.9 116.9h6.2v2.2h-6.2zM367.1 119.0h2.2v2.2h-2.2zM393.3 119.0h2.2v2.2h-2.2zM359.0 121.0h4.2v2.2h-4.2zM367.1 121.0h4.2v2.2h-4.2zM381.2 121.0h2.2v2.2h-2.2zM393.3 121.0h2.2v2.2h-2.2zM342.9 123.0h2.2v2.2h-2.2zM359.0 123.0h4.2v2.2h-4.2zM367.1 123.0h2.2v2.2h-2.2zM342.9 125.0h2.2v2.2h-2.2zM393.3 125.0h2.2v2.2h-2.2zM369.1 127.0h4.2v2.2h-4.2zM346.9 129.0h6.2v2.2h-6.2zM367.1 129.0h2.2v2.2h-2.2zM369.1 131.0h4.2v2.2h-4.2zM393.3 131.0h2.2v2.2h-2.2zM338.9 133.0h2.2v2.2h-2.2zM359.0 133.0h2.2v2.2h-2.2zM371.1 133.0h2.2v2.2h-2.2zM379.2 133.0h2.2v2.2h-2.2zM338.9 135.1h4.2v2.2h-4.2zM346.9 135.1h6.2v2.2h-6.2zM361.1 135.1h2.2v2.2h-2.2zM363.1 137.1h2.2v2.2h-2.2zM371.1 139.1h2.2v2.2h-2.2zM397.4 139.1h6.2v2.2h-6.2zM409.4 139.1h4.2v2.2h-4.2zM395.3 141.1h6.2v2.2h-6.2zM407.4 141.1h6.2v2.2h-6.2zM373.1 143.1h2.2v2.2h-2.2zM383.2 143.1h2.2v2.2h-2.2zM393.3 143.1h2.2v2.2h-2.2zM395.3 145.1h2.2v2.2h-2.2zM403.4 145.1h2.2v2.2h-2.2zM407.4 145.1h2.2v2.2h-2.2zM377.2 147.1h2.2v2.2h-2.2zM395.3 147.1h2.2v2.2h-2.2zM399.4 147.1h2.2v2.2h-2.2zM405.4 147.1h2.2v2.2h-2.2zM409.4 147.1h4.2v2.2h-4.2zM375.2 149.2h2.2v2.2h-2.2zM399.4 149.2h4.2v2.2h-4.2zM379.2 151.2h8.2v2.2h-8.2zM383.2 155.2h2.2v2.2h-2.2zM403.4 155.2h4.2v2.2h-4.2zM409.4 155.2h4.2v2.2h-4.2zM373.1 157.2h2.2v2.2h-2.2zM383.2 157.2h2.2v2.2h-2.2zM407.4 157.2h2.2v2.2h-2.2zM373.1 159.2h2.2v2.2h-2.2zM383.2 159.2h4.2v2.2h-4.2zM411.5 159.2h2.2v2.2h-2.2zM379.2 161.2h4.2v2.2h-4.2zM395.3 161.2h2.2v2.2h-2.2zM379.2 163.2h6.2v2.2h-6.2zM389.3 163.2h2.2v2.2h-2.2zM395.3 163.2h2.2v2.2h-2.2zM413.5 163.2h2.2v2.2h-2.2zM379.2 165.3h2.2v2.2h-2.2zM383.2 165.3h2.2v2.2h-2.2zM391.3 165.3h2.2v2.2h-2.2zM413.5 165.3h2.2v2.2h-2.2zM373.1 167.3h4.2v2.2h-4.2zM383.2 167.3h2.2v2.2h-2.2zM393.3 169.3h2.2v2.2h-2.2zM407.4 169.3h2.2v2.2h-2.2z"/>
<path shape-rendering="crispEdges" fill="#a20707" d="M328.8 82.7h2.2v2.2h-2.2zM310.6 84.7h2.2v2.2h-2.2zM314.7 86.7h2.2v2.2h-2.2zM320.7 86.7h4.2v2.2h-4.2zM326.8 86.7h2.2v2.2h-2.2zM332.8 86.7h2.2v2.2h-2.2zM336.9 86.7h2.2v2.2h-2.2zM320.7 90.8h4.2v2.2h-4.2zM326.8 90.8h2.2v2.2h-2.2zM332.8 90.8h2.2v2.2h-2.2zM336.9 90.8h2.2v2.2h-2.2zM298.5 92.8h2.2v2.2h-2.2zM298.5 94.8h4.2v2.2h-4.2zM314.7 94.8h4.2v2.2h-4.2zM294.5 96.8h4.2v2.2h-4.2zM304.6 96.8h2.2v2.2h-2.2zM310.6 96.8h2.2v2.2h-2.2zM334.8 96.8h4.2v2.2h-4.2zM302.6 98.8h2.2v2.2h-2.2zM306.6 98.8h2.2v2.2h-2.2zM312.6 98.8h2.2v2.2h-2.2zM332.8 98.8h2.2v2.2h-2.2zM336.9 98.8h2.2v2.2h-2.2zM296.5 100.8h2.2v2.2h-2.2zM312.6 100.8h2.2v2.2h-2.2zM334.8 100.8h4.2v2.2h-4.2zM294.5 102.8h4.2v2.2h-4.2zM312.6 102.8h4.2v2.2h-4.2zM302.6 104.9h2.2v2.2h-2.2zM306.6 104.9h2.2v2.2h-2.2zM334.8 104.9h2.2v2.2h-2.2zM294.5 106.9h4.2v2.2h-4.2zM314.7 106.9h2.2v2.2h-2.2zM294.5 108.9h4.2v2.2h-4.2zM302.6 108.9h2.2v2.2h-2.2zM306.6 108.9h2.2v2.2h-2.2zM318.7 108.9h2.2v2.2h-2.2zM306.6 110.9h2.2v2.2h-2.2zM322.7 110.9h2.2v2.2h-2.2zM302.6 112.9h2.2v2.2h-2.2zM316.7 112.9h2.2v2.2h-2.2zM320.7 112.9h4.2v2.2h-4.2zM326.8 112.9h2.2v2.2h-2.2zM359.0 114.9h4.2v2.2h-4.2zM369.1 114.9h4.2v2.2h-4.2zM381.2 114.9h2.2v2.2h-2.2zM355.0 116.9h4.2v2.2h-4.2zM363.1 116.9h2.2v2.2h-2.2zM359.0 119.0h4.2v2.2h-4.2zM371.1 121.0h2.2v2.2h-2.2zM379.2 121.0h2.2v2.2h-2.2zM389.3 121.0h2.2v2.2h-2.2zM411.5 121.0h2.2v2.2h-2.2zM369.1 123.0h4.2v2.2h-4.2zM379.2 123.0h2.2v2.2h-2.2zM393.3 123.0h2.2v2.2h-2.2zM369.1 125.0h4.2v2.2h-4.2zM379.2 125.0h2.2v2.2h-2.2zM342.9 127.0h2.2v2.2h-2.2zM381.2 127.0h2.2v2.2h-2.2zM393.3 127.0h2.2v2.2h-2.2zM338.9 129.0h4.2v2.2h-4.2zM344.9 129.0h2.2v2.2h-2.2zM342.9 131.0h2.2v2.2h-2.2zM373.1 131.0h4.2v2.2h-4.2zM379.2 131.0h4.2v2.2h-4.2zM373.1 133.0h4.2v2.2h-4.2zM381.2 133.0h2.2v2.2h-2.2zM389.3 133.0h2.2v2.2h-2.2zM393.3 133.0h2.2v2.2h-2.2zM344.9 135.1h2.2v2.2h-2.2zM359.0 135.1h2.2v2.2h-2.2zM373.1 135.1h4.2v2.2h-4.2zM379.2 135.1h4.2v2.2h-4.2zM393.3 135.1h2.2v2.2h-2.2zM340.9 137.1h2.2v2.2h-2.2zM346.9 137.1h12.2v2.2h-12.2zM373.1 137.1h2.2v2.2h-2.2zM363.1 139.1h6.2v2.2h-6.2zM385.2 139.1h2.2v2.2h-2.2zM395.3 139.1h2.2v2.2h-2.2zM405.4 139.1h4.2v2.2h-4.2zM357.0 141.1h2.2v2.2h-2.2zM365.1 141.1h4.2v2.2h-4.2zM371.1 141.1h2.2v2.2h-2.2zM403.4 141.1h4.2v2.2h-4.2zM377.2 143.1h2.2v2.2h-2.2zM391.3 143.1h2.2v2.2h-2.2zM338.9 145.1h2.2v2.2h-2.2zM344.9 145.1h4.2v2.2h-4.2zM353.0 145.1h6.2v2.2h-6.2zM363.1 145.1h6.2v2.2h-6.2zM413.5 145.1h2.2v2.2h-2.2zM403.4 147.1h2.2v2.2h-2.2zM407.4 147.1h2.2v2.2h-2.2zM373.1 149.2h2.2v2.2h-2.2zM395.3 149.2h2.2v2.2h-2.2zM403.4 149.2h2.2v2.2h-2.2zM407.4 149.2h2.2v2.2h-2.2zM411.5 149.2h2.2v2.2h-2.2zM387.3 151.2h2.2v2.2h-2.2zM397.4 151.2h4.2v2.2h-4.2zM340.9 153.2h2.2v2.2h-2.2zM346.9 153.2h2.2v2.2h-2.2zM357.0 153.2h2.2v2.2h-2.2zM377.2 153.2h2.2v2.2h-2.2zM413.5 153.2h2.2v2.2h-2.2zM373.1 155.2h4.2v2.2h-4.2zM385.2 155.2h2.2v2.2h-2.2zM407.4 155.2h2.2v2.2h-2.2zM387.3 157.2h2.2v2.2h-2.2zM413.5 157.2h2.2v2.2h-2.2zM413.5 159.2h2.2v2.2h-2.2zM373.1 161.2h4.2v2.2h-4.2zM383.2 161.2h2.2v2.2h-2.2zM373.1 163.2h4.2v2.2h-4.2zM385.2 163.2h2.2v2.2h-2.2zM373.1 165.3h4.2v2.2h-4.2zM395.3 165.3h2.2v2.2h-2.2zM385.2 167.3h2.2v2.2h-2.2zM395.3 167.3h2.2v2.2h-2.2zM375.2 169.3h2.2v2.2h-2.2zM379.2 169.3h4.2v2.2h-4.2zM391.3 169.3h2.2v2.2h-2.2zM397.4 169.3h6.2v2.2h-6.2zM405.4 169.3h2.2v2.2h-2.2z"/>
<path shape-rendering="crispEdges" fill="#bc0909" d="M316.7 80.7h2.2v2.2h-2.2zM320.7 80.7h2.2v2.2h-2.2zM324.8 80.7h2.2v2.2h-2.2zM328.8 80.7h6.2v2.2h-6.2zM316.7 82.7h2.2v2.2h-2.2zM322.7 82.7h4.2v2.2h-4.2zM330.8 82.7h4.2v2.2h-4.2zM318.7 86.7h2.2v2.2h-2.2zM334.8 86.7h2.2v2.2h-2.2zM316.7 88.8h2.2v2.2h-2.2zM328.8 88.8h2.2v2.2h-2.2zM334.8 90.8h2.2v2.2h-2.2zM314.7 92.8h4.2v2.2h-4.2zM318.7 94.8h2.2v2.2h-2.2zM300.6 96.8h2.2v2.2h-2.2zM308.6 96.8h2.2v2.2h-2.2zM294.5 98.8h4.2v2.2h-4.2zM334.8 98.8h2.2v2.2h-2.2zM294.5 100.8h2.2v2.2h-2.2zM304.6 100.8h2.2v2.2h-2.2zM304.6 102.8h2.2v2.2h-2.2zM310.6 102.8h2.2v2.2h-2.2zM294.5 104.9h2.2v2.2h-2.2zM304.6 106.9h2.2v2.2h-2.2zM310.6 106.9h4.2v2.2h-4.2zM294.5 110.9h2.2v2.2h-2.2zM302.6 110.9h2.2v2.2h-2.2zM316.7 110.9h6.2v2.2h-6.2zM294.5 112.9h4.2v2.2h-4.2zM318.7 112.9h2.2v2.2h-2.2zM373.1 114.9h4.2v2.2h-4.2zM379.2 114.9h2.2v2.2h-2.2zM383.2 114.9h2.2v2.2h-2.2zM389.3 114.9h4.2v2.2h-4.2zM397.4 114.9h4.2v2.2h-4.2zM409.4 114.9h4.2v2.2h-4.2zM365.1 116.9h4.2v2.2h-4.2zM369.1 119.0h4.2v2.2h-4.2zM379.2 119.0h4.2v2.2h-4.2zM389.3 119.0h4.2v2.2h-4.2zM401.4 119.0h2.2v2.2h-2.2zM373.1 121.0h4.2v2.2h-4.2zM383.2 121.0h2.2v2.2h-2.2zM391.3 121.0h2.2v2.2h-2.2zM397.4 121.0h6.2v2.2h-6.2zM409.4 121.0h2.2v2.2h-2.2zM373.1 123.0h4.2v2.2h-4.2zM381.2 123.0h2.2v2.2h-2.2zM373.1 125.0h4.2v2.2h-4.2zM381.2 125.0h2.2v2.2h-2.2zM389.3 125.0h4.2v2.2h-4.2zM397.4 125.0h6.2v2.2h-6.2zM373.1 127.0h4.2v2.2h-4.2zM379.2 127.0h2.2v2.2h-2.2zM383.2 127.0h2.2v2.2h-2.2zM389.3 127.0h4.2v2.2h-4.2zM409.4 127.0h4.2v2.2h-4.2zM369.1 129.0h4.2v2.2h-4.2zM383.2 131.0h2.2v2.2h-2.2zM389.3 131.0h4.2v2.2h-4.2zM399.4 131.0h2.2v2.2h-2.2zM411.5 131.0h2.2v2.2h-2.2zM342.9 133.0h2.2v2.2h-2.2zM383.2 133.0h2.2v2.2h-2.2zM391.3 133.0h2.2v2.2h-2.2zM397.4 133.0h2.2v2.2h-2.2zM383.2 135.1h2.2v2.2h-2.2zM389.3 135.1h2.2v2.2h-2.2zM338.9 137.1h2.2v2.2h-2.2zM344.9 137.1h2.2v2.2h-2.2zM361.1 137.1h2.2v2.2h-2.2zM375.2 137.1h2.2v2.2h-2.2zM379.2 137.1h2.2v2.2h-2.2zM338.9 139.1h4.2v2.2h-4.2zM346.9 139.1h4.2v2.2h-4.2zM353.0 139.1h6.2v2.2h-6.2zM369.1 139.1h2.2v2.2h-2.2zM387.3 139.1h2.2v2.2h-2.2zM403.4 139.1h2.2v2.2h-2.2zM413.5 139.1h2.2v2.2h-2.2zM338.9 141.1h2.2v2.2h-2.2zM344.9 141.1h4.2v2.2h-4.2zM351.0 141.1h6.2v2.2h-6.2zM363.1 141.1h2.2v2.2h-2.2zM369.1 141.1h2.2v2.2h-2.2zM387.3 141.1h2.2v2.2h-2.2zM413.5 141.1h2.2v2.2h-2.2zM385.2 143.1h2.2v2.2h-2.2zM389.3 143.1h2.2v2.2h-2.2zM399.4 143.1h2.2v2.2h-2.2zM340.9 145.1h2.2v2.2h-2.2zM348.9 145.1h4.2v2.2h-4.2zM340.9 147.1h2.2v2.2h-2.2zM346.9 147.1h2.2v2.2h-2.2zM351.0 147.1h2.2v2.2h-2.2zM355.0 147.1h2.2v2.2h-2.2zM413.5 147.1h2.2v2.2h-2.2zM405.4 149.2h2.2v2.2h-2.2zM409.4 149.2h2.2v2.2h-2.2zM375.2 151.2h2.2v2.2h-2.2zM395.3 151.2h2.2v2.2h-2.2zM401.4 151.2h2.2v2.2h-2.2zM338.9 153.2h2.2v2.2h-2.2zM344.9 153.2h2.2v2.2h-2.2zM348.9 153.2h2.2v2.2h-2.2zM353.0 153.2h4.2v2.2h-4.2zM363.1 153.2h6.2v2.2h-6.2zM387.3 155.2h2.2v2.2h-2.2zM413.5 155.2h2.2v2.2h-2.2zM340.9 157.2h2.2v2.2h-2.2zM346.9 157.2h4.2v2.2h-4.2zM353.0 157.2h2.2v2.2h-2.2zM365.1 157.2h2.2v2.2h-2.2zM338.9 159.2h4.2v2.2h-4.2zM346.9 159.2h2.2v2.2h-2.2zM353.0 159.2h2.2v2.2h-2.2zM357.0 159.2h2.2v2.2h-2.2zM377.2 159.2h2.2v2.2h-2.2zM387.3 159.2h2.2v2.2h-2.2zM385.2 161.2h2.2v2.2h-2.2zM413.5 161.2h2.2v2.2h-2.2zM357.0 163.2h2.2v2.2h-2.2zM355.0 165.3h2.2v2.2h-2.2zM385.2 165.3h2.2v2.2h-2.2zM346.9 167.3h2.2v2.2h-2.2zM353.0 167.3h2.2v2.2h-2.2zM383.2 169.3h2.2v2.2h-2.2zM389.3 169.3h2.2v2.2h-2.2zM403.4 169.3h2.2v2.2h-2.2z"/>
<path shape-rendering="crispEdges" fill="#d50a0a" d="M318.7 80.7h2.2v2.2h-2.2zM322.7 80.7h2.2v2.2h-2.2zM326.8 80.7h2.2v2.2h-2.2zM318.7 82.7h4.2v2.2h-4.2zM326.8 82.7h2.2v2.2h-2.2zM334.8 82.7h4.2v2.2h-4.2zM316.7 84.7h2.2v2.2h-2.2zM328.8 84.7h4.2v2.2h-4.2zM314.7 88.8h2.2v2.2h-2.2zM318.7 88.8h10.2v2.2h-10.2zM330.8 88.8h4.2v2.2h-4.2zM318.7 92.8h2.2v2.2h-2.2zM322.7 92.8h4.2v2.2h-4.2zM328.8 92.8h2.2v2.2h-2.2zM322.7 94.8h4.2v2.2h-4.2zM328.8 94.8h4.2v2.2h-4.2zM298.5 96.8h2.2v2.2h-2.2zM304.6 98.8h2.2v2.2h-2.2zM308.6 98.8h4.2v2.2h-4.2zM298.5 100.8h4.2v2.2h-4.2zM308.6 100.8h4.2v2.2h-4.2zM298.5 102.8h4.2v2.2h-4.2zM308.6 102.8h2.2v2.2h-2.2zM296.5 104.9h2.2v2.2h-2.2zM300.6 104.9h2.2v2.2h-2.2zM304.6 104.9h2.2v2.2h-2.2zM312.6 104.9h4.2v2.2h-4.2zM298.5 106.9h4.2v2.2h-4.2zM308.6 106.9h2.2v2.2h-2.2zM304.6 108.9h2.2v2.2h-2.2zM308.6 108.9h2.2v2.2h-2.2zM312.6 108.9h4.2v2.2h-4.2zM296.5 110.9h2.2v2.2h-2.2zM304.6 110.9h2.2v2.2h-2.2zM314.7 110.9h2.2v2.2h-2.2zM304.6 112.9h2.2v2.2h-2.2zM312.6 112.9h4.2v2.2h-4.2zM395.3 114.9h2.2v2.2h-2.2zM401.4 114.9h2.2v2.2h-2.2zM405.4 114.9h4.2v2.2h-4.2zM393.3 116.9h2.2v2.2h-2.2zM373.1 119.0h4.2v2.2h-4.2zM383.2 119.0h2.2v2.2h-2.2zM397.4 119.0h4.2v2.2h-4.2zM403.4 119.0h10.2v2.2h-10.2zM395.3 121.0h2.2v2.2h-2.2zM403.4 121.0h6.2v2.2h-6.2zM383.2 123.0h2.2v2.2h-2.2zM389.3 123.0h4.2v2.2h-4.2zM397.4 123.0h6.2v2.2h-6.2zM409.4 123.0h4.2v2.2h-4.2zM383.2 125.0h4.2v2.2h-4.2zM403.4 125.0h10.2v2.2h-10.2zM395.3 127.0h8.2v2.2h-8.2zM405.4 127.0h2.2v2.2h-2.2zM379.2 129.0h2.2v2.2h-2.2zM393.3 129.0h2.2v2.2h-2.2zM385.2 131.0h2.2v2.2h-2.2zM397.4 131.0h2.2v2.2h-2.2zM401.4 131.0h4.2v2.2h-4.2zM407.4 131.0h4.2v2.2h-4.2zM385.2 133.0h2.2v2.2h-2.2zM401.4 133.0h2.2v2.2h-2.2zM409.4 133.0h4.2v2.2h-4.2zM342.9 135.1h2.2v2.2h-2.2zM391.3 135.1h2.2v2.2h-2.2zM397.4 135.1h4.2v2.2h-4.2zM409.4 135.1h4.2v2.2h-4.2zM359.0 137.1h2.2v2.2h-2.2zM381.2 137.1h2.2v2.2h-2.2zM393.3 137.1h2.2v2.2h-2.2zM344.9 139.1h2.2v2.2h-2.2zM351.0 139.1h2.2v2.2h-2.2zM340.9 141.1h2.2v2.2h-2.2zM348.9 141.1h2.2v2.2h-2.2zM397.4 143.1h2.2v2.2h-2.2zM401.4 143.1h2.2v2.2h-2.2zM409.4 143.1h4.2v2.2h-4.2zM359.0 145.1h4.2v2.2h-4.2zM369.1 145.1h4.2v2.2h-4.2zM338.9 147.1h2.2v2.2h-2.2zM344.9 147.1h2.2v2.2h-2.2zM348.9 147.1h2.2v2.2h-2.2zM353.0 147.1h2.2v2.2h-2.2zM357.0 147.1h2.2v2.2h-2.2zM363.1 147.1h6.2v2.2h-6.2zM338.9 149.2h2.2v2.2h-2.2zM346.9 149.2h2.2v2.2h-2.2zM351.0 149.2h4.2v2.2h-4.2zM357.0 149.2h2.2v2.2h-2.2zM377.2 149.2h2.2v2.2h-2.2zM413.5 149.2h2.2v2.2h-2.2zM373.1 151.2h2.2v2.2h-2.2zM403.4 151.2h2.2v2.2h-2.2zM407.4 151.2h6.2v2.2h-6.2zM351.0 153.2h2.2v2.2h-2.2zM338.9 155.2h4.2v2.2h-4.2zM346.9 155.2h2.2v2.2h-2.2zM355.0 155.2h2.2v2.2h-2.2zM365.1 155.2h2.2v2.2h-2.2zM338.9 157.2h2.2v2.2h-2.2zM344.9 157.2h2.2v2.2h-2.2zM351.0 157.2h2.2v2.2h-2.2zM355.0 157.2h4.2v2.2h-4.2zM363.1 157.2h2.2v2.2h-2.2zM367.1 157.2h2.2v2.2h-2.2zM377.2 157.2h2.2v2.2h-2.2zM344.9 159.2h2.2v2.2h-2.2zM348.9 159.2h4.2v2.2h-4.2zM355.0 159.2h2.2v2.2h-2.2zM363.1 159.2h6.2v2.2h-6.2zM338.9 161.2h2.2v2.2h-2.2zM353.0 161.2h6.2v2.2h-6.2zM387.3 161.2h2.2v2.2h-2.2zM338.9 163.2h4.2v2.2h-4.2zM346.9 163.2h2.2v2.2h-2.2zM351.0 163.2h6.2v2.2h-6.2zM338.9 165.3h4.2v2.2h-4.2zM346.9 165.3h2.2v2.2h-2.2zM357.0 165.3h2.2v2.2h-2.2zM363.1 165.3h4.2v2.2h-4.2zM338.9 167.3h4.2v2.2h-4.2zM344.9 167.3h2.2v2.2h-2.2zM351.0 167.3h2.2v2.2h-2.2zM355.0 167.3h4.2v2.2h-4.2zM363.1 167.3h4.2v2.2h-4.2zM377.2 167.3h2.2v2.2h-2.2zM387.3 167.3h2.2v2.2h-2.2zM340.9 169.3h2.2v2.2h-2.2zM373.1 169.3h2.2v2.2h-2.2zM385.2 169.3h2.2v2.2h-2.2zM395.3 169.3h2.2v2.2h-2.2z"/>
<path shape-rendering="crispEdges" fill="#dd0c0b" d="M314.7 80.7h2.2v2.2h-2.2zM334.8 80.7h4.2v2.2h-4.2zM314.7 82.7h2.2v2.2h-2.2zM322.7 84.7h6.2v2.2h-6.2zM332.8 84.7h2.2v2.2h-2.2zM336.9 84.7h2.2v2.2h-2.2zM336.9 88.8h2.2v2.2h-2.2zM320.7 92.8h2.2v2.2h-2.2zM326.8 92.8h2.2v2.2h-2.2zM330.8 92.8h4.2v2.2h-4.2zM320.7 94.8h2.2v2.2h-2.2zM326.8 94.8h2.2v2.2h-2.2zM332.8 94.8h2.2v2.2h-2.2zM298.5 98.8h4.2v2.2h-4.2zM298.5 104.9h2.2v2.2h-2.2zM308.6 104.9h4.2v2.2h-4.2zM298.5 108.9h4.2v2.2h-4.2zM310.6 108.9h2.2v2.2h-2.2zM298.5 110.9h4.2v2.2h-4.2zM312.6 110.9h2.2v2.2h-2.2zM298.5 112.9h4.2v2.2h-4.2zM308.6 112.9h2.2v2.2h-2.2zM385.2 114.9h4.2v2.2h-4.2zM403.4 114.9h2.2v2.2h-2.2zM413.5 114.9h2.2v2.2h-2.2zM359.0 116.9h4.2v2.2h-4.2zM369.1 116.9h4.2v2.2h-4.2zM379.2 116.9h4.2v2.2h-4.2zM389.3 116.9h4.2v2.2h-4.2zM385.2 119.0h2.2v2.2h-2.2zM395.3 119.0h2.2v2.2h-2.2zM413.5 119.0h2.2v2.2h-2.2zM385.2 121.0h2.2v2.2h-2.2zM413.5 121.0h2.2v2.2h-2.2zM385.2 123.0h2.2v2.2h-2.2zM395.3 123.0h2.2v2.2h-2.2zM403.4 123.0h6.2v2.2h-6.2zM395.3 125.0h2.2v2.2h-2.2zM385.2 127.0h2.2v2.2h-2.2zM403.4 127.0h2.2v2.2h-2.2zM407.4 127.0h2.2v2.2h-2.2zM413.5 127.0h2.2v2.2h-2.2zM342.9 129.0h2.2v2.2h-2.2zM373.1 129.0h4.2v2.2h-4.2zM381.2 129.0h4.2v2.2h-4.2zM391.3 129.0h2.2v2.2h-2.2zM401.4 129.0h2.2v2.2h-2.2zM395.3 131.0h2.2v2.2h-2.2zM405.4 131.0h2.2v2.2h-2.2zM413.5 131.0h2.2v2.2h-2.2zM395.3 133.0h2.2v2.2h-2.2zM399.4 133.0h2.2v2.2h-2.2zM403.4 133.0h6.2v2.2h-6.2zM377.2 135.1h2.2v2.2h-2.2zM385.2 135.1h2.2v2.2h-2.2zM395.3 135.1h2.2v2.2h-2.2zM401.4 135.1h6.2v2.2h-6.2zM342.9 137.1h2.2v2.2h-2.2zM383.2 137.1h2.2v2.2h-2.2zM389.3 137.1h4.2v2.2h-4.2zM397.4 137.1h2.2v2.2h-2.2zM361.1 139.1h2.2v2.2h-2.2zM342.9 141.1h2.2v2.2h-2.2zM359.0 141.1h4.2v2.2h-4.2zM353.0 143.1h2.2v2.2h-2.2zM387.3 143.1h2.2v2.2h-2.2zM395.3 143.1h2.2v2.2h-2.2zM403.4 143.1h6.2v2.2h-6.2zM342.9 145.1h2.2v2.2h-2.2zM361.1 147.1h2.2v2.2h-2.2zM369.1 147.1h4.2v2.2h-4.2zM340.9 149.2h2.2v2.2h-2.2zM344.9 149.2h2.2v2.2h-2.2zM348.9 149.2h2.2v2.2h-2.2zM363.1 149.2h6.2v2.2h-6.2zM405.4 151.2h2.2v2.2h-2.2zM413.5 151.2h2.2v2.2h-2.2zM342.9 153.2h2.2v2.2h-2.2zM359.0 153.2h4.2v2.2h-4.2zM369.1 153.2h4.2v2.2h-4.2zM344.9 155.2h2.2v2.2h-2.2zM348.9 155.2h6.2v2.2h-6.2zM357.0 155.2h2.2v2.2h-2.2zM367.1 155.2h2.2v2.2h-2.2zM377.2 155.2h2.2v2.2h-2.2zM371.1 157.2h2.2v2.2h-2.2zM369.1 159.2h2.2v2.2h-2.2zM340.9 161.2h2.2v2.2h-2.2zM344.9 161.2h6.2v2.2h-6.2zM363.1 161.2h4.2v2.2h-4.2zM377.2 161.2h2.2v2.2h-2.2zM344.9 163.2h2.2v2.2h-2.2zM348.9 163.2h2.2v2.2h-2.2zM363.1 163.2h6.2v2.2h-6.2zM377.2 163.2h2.2v2.2h-2.2zM387.3 163.2h2.2v2.2h-2.2zM344.9 165.3h2.2v2.2h-2.2zM348.9 165.3h6.2v2.2h-6.2zM367.1 165.3h2.2v2.2h-2.2zM377.2 165.3h2.2v2.2h-2.2zM387.3 165.3h2.2v2.2h-2.2zM348.9 167.3h2.2v2.2h-2.2zM361.1 167.3h2.2v2.2h-2.2zM367.1 167.3h2.2v2.2h-2.2zM338.9 169.3h2.2v2.2h-2.2zM344.9 169.3h4.2v2.2h-4.2zM353.0 169.3h4.2v2.2h-4.2zM363.1 169.3h2.2v2.2h-2.2z"/>
<path shape-rendering="crispEdges" fill="#e40e0c" d="M314.7 84.7h2.2v2.2h-2.2zM318.7 84.7h4.2v2.2h-4.2zM334.8 84.7h2.2v2.2h-2.2zM334.8 88.8h2.2v2.2h-2.2zM336.9 92.8h2.2v2.2h-2.2zM336.9 94.8h2.2v2.2h-2.2zM308.6 110.9h4.2v2.2h-4.2zM310.6 112.9h2.2v2.2h-2.2zM377.2 114.9h2.2v2.2h-2.2zM373.1 116.9h4.2v2.2h-4.2zM383.2 116.9h2.2v2.2h-2.2zM397.4 116.9h6.2v2.2h-6.2zM405.4 116.9h8.2v2.2h-8.2zM387.3 119.0h2.2v2.2h-2.2zM377.2 121.0h2.2v2.2h-2.2zM387.3 121.0h2.2v2.2h-2.2zM413.5 123.0h2.2v2.2h-2.2zM377.2 125.0h2.2v2.2h-2.2zM387.3 125.0h2.2v2.2h-2.2zM413.5 125.0h2.2v2.2h-2.2zM377.2 127.0h2.2v2.2h-2.2zM387.3 127.0h2.2v2.2h-2.2zM385.2 129.0h2.2v2.2h-2.2zM389.3 129.0h2.2v2.2h-2.2zM397.4 129.0h4.2v2.2h-4.2zM403.4 129.0h2.2v2.2h-2.2zM407.4 129.0h6.2v2.2h-6.2zM377.2 131.0h2.2v2.2h-2.2zM387.3 131.0h2.2v2.2h-2.2zM377.2 133.0h2.2v2.2h-2.2zM387.3 133.0h2.2v2.2h-2.2zM413.5 133.0h2.2v2.2h-2.2zM407.4 135.1h2.2v2.2h-2.2zM385.2 137.1h2.2v2.2h-2.2zM399.4 137.1h4.2v2.2h-4.2zM405.4 137.1h2.2v2.2h-2.2zM409.4 137.1h4.2v2.2h-4.2zM342.9 139.1h2.2v2.2h-2.2zM359.0 139.1h2.2v2.2h-2.2zM338.9 143.1h4.2v2.2h-4.2zM346.9 143.1h2.2v2.2h-2.2zM351.0 143.1h2.2v2.2h-2.2zM355.0 143.1h4.2v2.2h-4.2zM363.1 143.1h6.2v2.2h-6.2zM413.5 143.1h2.2v2.2h-2.2zM342.9 147.1h2.2v2.2h-2.2zM359.0 147.1h2.2v2.2h-2.2zM355.0 149.2h2.2v2.2h-2.2zM369.1 149.2h4.2v2.2h-4.2zM338.9 151.2h4.2v2.2h-4.2zM346.9 151.2h2.2v2.2h-2.2zM353.0 151.2h6.2v2.2h-6.2zM363.1 151.2h4.2v2.2h-4.2zM377.2 151.2h2.2v2.2h-2.2zM363.1 155.2h2.2v2.2h-2.2zM342.9 157.2h2.2v2.2h-2.2zM359.0 157.2h4.2v2.2h-4.2zM369.1 157.2h2.2v2.2h-2.2zM342.9 159.2h2.2v2.2h-2.2zM359.0 159.2h4.2v2.2h-4.2zM371.1 159.2h2.2v2.2h-2.2zM351.0 161.2h2.2v2.2h-2.2zM359.0 161.2h2.2v2.2h-2.2zM367.1 161.2h2.2v2.2h-2.2zM371.1 161.2h2.2v2.2h-2.2zM342.9 163.2h2.2v2.2h-2.2zM361.1 163.2h2.2v2.2h-2.2zM371.1 165.3h2.2v2.2h-2.2zM342.9 167.3h2.2v2.2h-2.2zM359.0 167.3h2.2v2.2h-2.2zM369.1 167.3h4.2v2.2h-4.2zM348.9 169.3h4.2v2.2h-4.2zM357.0 169.3h2.2v2.2h-2.2zM365.1 169.3h4.2v2.2h-4.2zM377.2 169.3h2.2v2.2h-2.2zM387.3 169.3h2.2v2.2h-2.2z"/>
<path shape-rendering="crispEdges" fill="#eb140c" d="M334.8 92.8h2.2v2.2h-2.2zM334.8 94.8h2.2v2.2h-2.2zM385.2 116.9h2.2v2.2h-2.2zM395.3 116.9h2.2v2.2h-2.2zM403.4 116.9h2.2v2.2h-2.2zM377.2 119.0h2.2v2.2h-2.2zM377.2 123.0h2.2v2.2h-2.2zM387.3 123.0h2.2v2.2h-2.2zM395.3 129.0h2.2v2.2h-2.2zM405.4 129.0h2.2v2.2h-2.2zM387.3 135.1h2.2v2.2h-2.2zM413.5 135.1h2.2v2.2h-2.2zM377.2 137.1h2.2v2.2h-2.2zM387.3 137.1h2.2v2.2h-2.2zM395.3 137.1h2.2v2.2h-2.2zM403.4 137.1h2.2v2.2h-2.2zM407.4 137.1h2.2v2.2h-2.2zM413.5 137.1h2.2v2.2h-2.2zM344.9 143.1h2.2v2.2h-2.2zM348.9 143.1h2.2v2.2h-2.2zM369.1 143.1h4.2v2.2h-4.2zM342.9 149.2h2.2v2.2h-2.2zM359.0 149.2h4.2v2.2h-4.2zM344.9 151.2h2.2v2.2h-2.2zM348.9 151.2h4.2v2.2h-4.2zM367.1 151.2h2.2v2.2h-2.2zM342.9 155.2h2.2v2.2h-2.2zM359.0 155.2h4.2v2.2h-4.2zM369.1 155.2h4.2v2.2h-4.2zM342.9 161.2h2.2v2.2h-2.2zM361.1 161.2h2.2v2.2h-2.2zM369.1 161.2h2.2v2.2h-2.2zM359.0 163.2h2.2v2.2h-2.2zM369.1 163.2h4.2v2.2h-4.2zM342.9 165.3h2.2v2.2h-2.2zM359.0 165.3h4.2v2.2h-4.2zM369.1 165.3h2.2v2.2h-2.2z"/>
<path shape-rendering="crispEdges" fill="#ef230b" d="M413.5 116.9h2.2v2.2h-2.2zM377.2 129.0h2.2v2.2h-2.2zM387.3 129.0h2.2v2.2h-2.2zM413.5 129.0h2.2v2.2h-2.2zM359.0 143.1h4.2v2.2h-4.2zM359.0 151.2h2.2v2.2h-2.2zM371.1 151.2h2.2v2.2h-2.2zM342.9 169.3h2.2v2.2h-2.2zM359.0 169.3h4.2v2.2h-4.2zM369.1 169.3h4.2v2.2h-4.2z"/>
<path shape-rendering="crispEdges" fill="#f2310a" d="M377.2 116.9h2.2v2.2h-2.2zM387.3 116.9h2.2v2.2h-2.2zM342.9 143.1h2.2v2.2h-2.2zM342.9 151.2h2.2v2.2h-2.2zM361.1 151.2h2.2v2.2h-2.2zM369.1 151.2h2.2v2.2h-2.2z"/>
<path shape-rendering="crispEdges" fill="#ffc600" d="M393.3 80.7h2.2v2.2h-2.2zM328.8 139.1h2.2v2.2h-2.2zM296.5 145.1h2.2v2.2h-2.2zM302.6 145.1h2.2v2.2h-2.2zM302.6 147.1h2.2v2.2h-2.2zM330.8 149.2h2.2v2.2h-2.2zM302.6 157.2h2.2v2.2h-2.2zM296.5 159.2h2.2v2.2h-2.2zM330.8 159.2h2.2v2.2h-2.2z"/>
<path shape-rendering="crispEdges" fill="#ffd200" d="M379.2 82.7h2.2v2.2h-2.2zM389.3 82.7h2.2v2.2h-2.2zM389.3 86.7h2.2v2.2h-2.2zM393.3 86.7h2.2v2.2h-2.2zM411.5 86.7h2.2v2.2h-2.2zM389.3 90.8h2.2v2.2h-2.2zM393.3 90.8h2.2v2.2h-2.2zM389.3 96.8h2.2v2.2h-2.2zM393.3 96.8h2.2v2.2h-2.2zM393.3 102.8h2.2v2.2h-2.2zM379.2 106.9h2.2v2.2h-2.2zM393.3 106.9h2.2v2.2h-2.2zM399.4 106.9h2.2v2.2h-2.2zM393.3 108.9h2.2v2.2h-2.2zM393.3 112.9h2.2v2.2h-2.2zM296.5 139.1h8.2v2.2h-8.2zM306.6 139.1h2.2v2.2h-2.2zM316.7 139.1h2.2v2.2h-2.2zM324.8 139.1h2.2v2.2h-2.2zM294.5 141.1h4.2v2.2h-4.2zM302.6 141.1h2.2v2.2h-2.2zM306.6 141.1h2.2v2.2h-2.2zM316.7 141.1h4.2v2.2h-4.2zM322.7 141.1h16.3v2.2h-16.3zM294.5 145.1h2.2v2.2h-2.2zM300.6 145.1h2.2v2.2h-2.2zM304.6 145.1h6.2v2.2h-6.2zM312.6 145.1h2.2v2.2h-2.2zM318.7 145.1h10.2v2.2h-10.2zM330.8 145.1h2.2v2.2h-2.2zM336.9 145.1h2.2v2.2h-2.2zM294.5 147.1h4.2v2.2h-4.2zM306.6 147.1h2.2v2.2h-2.2zM320.7 147.1h6.2v2.2h-6.2zM330.8 147.1h2.2v2.2h-2.2zM334.8 147.1h2.2v2.2h-2.2zM294.5 149.2h2.2v2.2h-2.2zM306.6 149.2h2.2v2.2h-2.2zM324.8 149.2h2.2v2.2h-2.2zM328.8 149.2h2.2v2.2h-2.2zM332.8 149.2h2.2v2.2h-2.2zM294.5 153.2h2.2v2.2h-2.2zM302.6 153.2h6.2v2.2h-6.2zM312.6 153.2h2.2v2.2h-2.2zM318.7 153.2h4.2v2.2h-4.2zM328.8 153.2h2.2v2.2h-2.2zM336.9 153.2h2.2v2.2h-2.2zM296.5 155.2h2.2v2.2h-2.2zM302.6 155.2h2.2v2.2h-2.2zM306.6 155.2h2.2v2.2h-2.2zM320.7 155.2h2.2v2.2h-2.2zM328.8 155.2h4.2v2.2h-4.2zM294.5 157.2h4.2v2.2h-4.2zM306.6 157.2h2.2v2.2h-2.2zM316.7 157.2h2.2v2.2h-2.2zM322.7 157.2h2.2v2.2h-2.2zM326.8 157.2h8.2v2.2h-8.2zM294.5 159.2h2.2v2.2h-2.2zM300.6 159.2h8.2v2.2h-8.2zM312.6 159.2h2.2v2.2h-2.2zM322.7 159.2h8.2v2.2h-8.2zM336.9 159.2h2.2v2.2h-2.2zM302.6 161.2h2.2v2.2h-2.2zM306.6 161.2h2.2v2.2h-2.2zM316.7 161.2h2.2v2.2h-2.2zM324.8 161.2h2.2v2.2h-2.2zM328.8 161.2h4.2v2.2h-4.2zM294.5 163.2h4.2v2.2h-4.2zM302.6 163.2h2.2v2.2h-2.2zM306.6 163.2h2.2v2.2h-2.2zM318.7 163.2h2.2v2.2h-2.2zM322.7 163.2h2.2v2.2h-2.2zM328.8 163.2h6.2v2.2h-6.2zM294.5 165.3h4.2v2.2h-4.2zM300.6 165.3h4.2v2.2h-4.2zM306.6 165.3h2.2v2.2h-2.2zM324.8 165.3h8.2v2.2h-8.2zM336.9 165.3h2.2v2.2h-2.2zM302.6 167.3h2.2v2.2h-2.2zM306.6 167.3h2.2v2.2h-2.2zM310.6 167.3h2.2v2.2h-2.2zM316.7 167.3h2.2v2.2h-2.2zM322.7 167.3h4.2v2.2h-4.2zM330.8 167.3h2.2v2.2h-2.2zM302.6 169.3h2.2v2.2h-2.2z"/>
<path shape-rendering="crispEdges" fill="#ffdc00" d="M373.1 80.7h4.2v2.2h-4.2zM379.2 80.7h6.2v2.2h-6.2zM389.3 80.7h4.2v2.2h-4.2zM397.4 80.7h2.2v2.2h-2.2zM401.4 80.7h12.3v2.2h-12.3zM346.9 82.7h2.2v2.2h-2.2zM373.1 82.7h4.2v2.2h-4.2zM381.2 82.7h4.2v2.2h-4.2zM391.3 82.7h8.2v2.2h-8.2zM401.4 82.7h4.2v2.2h-4.2zM407.4 82.7h8.2v2.2h-8.2zM379.2 84.7h6.2v2.2h-6.2zM389.3 84.7h2.2v2.2h-2.2zM338.9 86.7h4.2v2.2h-4.2zM373.1 86.7h4.2v2.2h-4.2zM379.2 86.7h8.2v2.2h-8.2zM391.3 86.7h2.2v2.2h-2.2zM395.3 86.7h2.2v2.2h-2.2zM399.4 86.7h12.3v2.2h-12.3zM413.5 86.7h2.2v2.2h-2.2zM379.2 88.8h6.2v2.2h-6.2zM391.3 88.8h4.2v2.2h-4.2zM401.4 88.8h2.2v2.2h-2.2zM409.4 88.8h4.2v2.2h-4.2zM373.1 90.8h4.2v2.2h-4.2zM379.2 90.8h8.2v2.2h-8.2zM391.3 90.8h2.2v2.2h-2.2zM395.3 90.8h20.3v2.2h-20.3zM393.3 94.8h2.2v2.2h-2.2zM373.1 96.8h2.2v2.2h-2.2zM379.2 96.8h6.2v2.2h-6.2zM391.3 96.8h2.2v2.2h-2.2zM399.4 96.8h4.2v2.2h-4.2zM411.5 96.8h2.2v2.2h-2.2zM379.2 98.8h6.2v2.2h-6.2zM391.3 98.8h4.2v2.2h-4.2zM397.4 98.8h4.2v2.2h-4.2zM409.4 98.8h4.2v2.2h-4.2zM379.2 100.8h8.2v2.2h-8.2zM389.3 100.8h6.2v2.2h-6.2zM397.4 100.8h2.2v2.2h-2.2zM401.4 100.8h6.2v2.2h-6.2zM409.4 100.8h2.2v2.2h-2.2zM375.2 102.8h2.2v2.2h-2.2zM379.2 102.8h8.2v2.2h-8.2zM389.3 102.8h4.2v2.2h-4.2zM395.3 102.8h4.2v2.2h-4.2zM401.4 102.8h2.2v2.2h-2.2zM405.4 102.8h4.2v2.2h-4.2zM411.5 102.8h4.2v2.2h-4.2zM379.2 104.9h6.2v2.2h-6.2zM389.3 104.9h8.2v2.2h-8.2zM401.4 104.9h2.2v2.2h-2.2zM409.4 104.9h2.2v2.2h-2.2zM373.1 106.9h2.2v2.2h-2.2zM381.2 106.9h8.2v2.2h-8.2zM391.3 106.9h2.2v2.2h-2.2zM405.4 106.9h8.2v2.2h-8.2zM375.2 108.9h2.2v2.2h-2.2zM379.2 108.9h4.2v2.2h-4.2zM389.3 108.9h4.2v2.2h-4.2zM401.4 108.9h2.2v2.2h-2.2zM411.5 108.9h4.2v2.2h-4.2zM381.2 110.9h2.2v2.2h-2.2zM389.3 110.9h2.2v2.2h-2.2zM393.3 110.9h2.2v2.2h-2.2zM397.4 110.9h2.2v2.2h-2.2zM409.4 110.9h2.2v2.2h-2.2zM373.1 112.9h2.2v2.2h-2.2zM379.2 112.9h4.2v2.2h-4.2zM389.3 112.9h2.2v2.2h-2.2zM407.4 112.9h4.2v2.2h-4.2zM302.6 127.0h2.2v2.2h-2.2zM306.6 131.0h2.2v2.2h-2.2zM294.5 139.1h2.2v2.2h-2.2zM304.6 139.1h2.2v2.2h-2.2zM308.6 139.1h8.2v2.2h-8.2zM318.7 139.1h6.2v2.2h-6.2zM326.8 139.1h2.2v2.2h-2.2zM330.8 139.1h8.2v2.2h-8.2zM298.5 141.1h4.2v2.2h-4.2zM304.6 141.1h2.2v2.2h-2.2zM308.6 141.1h8.2v2.2h-8.2zM320.7 141.1h2.2v2.2h-2.2zM294.5 143.1h4.2v2.2h-4.2zM302.6 143.1h2.2v2.2h-2.2zM306.6 143.1h4.2v2.2h-4.2zM312.6 143.1h2.2v2.2h-2.2zM322.7 143.1h4.2v2.2h-4.2zM328.8 143.1h6.2v2.2h-6.2zM336.9 143.1h2.2v2.2h-2.2zM298.5 145.1h2.2v2.2h-2.2zM310.6 145.1h2.2v2.2h-2.2zM314.7 145.1h4.2v2.2h-4.2zM328.8 145.1h2.2v2.2h-2.2zM332.8 145.1h4.2v2.2h-4.2zM298.5 147.1h4.2v2.2h-4.2zM304.6 147.1h2.2v2.2h-2.2zM308.6 147.1h2.2v2.2h-2.2zM312.6 147.1h8.2v2.2h-8.2zM326.8 147.1h4.2v2.2h-4.2zM332.8 147.1h2.2v2.2h-2.2zM336.9 147.1h2.2v2.2h-2.2zM296.5 149.2h10.2v2.2h-10.2zM308.6 149.2h14.3v2.2h-14.3zM326.8 149.2h2.2v2.2h-2.2zM334.8 149.2h4.2v2.2h-4.2zM294.5 151.2h4.2v2.2h-4.2zM302.6 151.2h6.2v2.2h-6.2zM310.6 151.2h2.2v2.2h-2.2zM316.7 151.2h2.2v2.2h-2.2zM322.7 151.2h12.2v2.2h-12.2zM336.9 151.2h2.2v2.2h-2.2zM296.5 153.2h6.2v2.2h-6.2zM308.6 153.2h4.2v2.2h-4.2zM314.7 153.2h4.2v2.2h-4.2zM322.7 153.2h6.2v2.2h-6.2zM330.8 153.2h6.2v2.2h-6.2zM294.5 155.2h2.2v2.2h-2.2zM298.5 155.2h4.2v2.2h-4.2zM304.6 155.2h2.2v2.2h-2.2zM310.6 155.2h4.2v2.2h-4.2zM316.7 155.2h4.2v2.2h-4.2zM322.7 155.2h6.2v2.2h-6.2zM332.8 155.2h6.2v2.2h-6.2zM298.5 157.2h4.2v2.2h-4.2zM304.6 157.2h2.2v2.2h-2.2zM308.6 157.2h8.2v2.2h-8.2zM318.7 157.2h4.2v2.2h-4.2zM324.8 157.2h2.2v2.2h-2.2zM334.8 157.2h4.2v2.2h-4.2zM298.5 159.2h2.2v2.2h-2.2zM308.6 159.2h4.2v2.2h-4.2zM316.7 159.2h6.2v2.2h-6.2zM332.8 159.2h4.2v2.2h-4.2zM294.5 161.2h8.2v2.2h-8.2zM304.6 161.2h2.2v2.2h-2.2zM308.6 161.2h6.2v2.2h-6.2zM318.7 161.2h6.2v2.2h-6.2zM326.8 161.2h2.2v2.2h-2.2zM332.8 161.2h6.2v2.2h-6.2zM298.5 163.2h4.2v2.2h-4.2zM304.6 163.2h2.2v2.2h-2.2zM308.6 163.2h4.2v2.2h-4.2zM314.7 163.2h4.2v2.2h-4.2zM320.7 163.2h2.2v2.2h-2.2zM324.8 163.2h4.2v2.2h-4.2zM334.8 163.2h4.2v2.2h-4.2zM298.5 165.3h2.2v2.2h-2.2zM304.6 165.3h2.2v2.2h-2.2zM308.6 165.3h16.3v2.2h-16.3zM332.8 165.3h4.2v2.2h-4.2zM294.5 167.3h8.2v2.2h-8.2zM304.6 167.3h2.2v2.2h-2.2zM308.6 167.3h2.2v2.2h-2.2zM312.6 167.3h4.2v2.2h-4.2zM318.7 167.3h4.2v2.2h-4.2zM326.8 167.3h4.2v2.2h-4.2zM332.8 167.3h6.2v2.2h-6.2zM294.5 169.3h4.2v2.2h-4.2zM300.6 169.3h2.2v2.2h-2.2zM304.6 169.3h4.2v2.2h-4.2zM312.6 169.3h2.2v2.2h-2.2zM316.7 169.3h4.2v2.2h-4.2zM322.7 169.3h4.2v2.2h-4.2zM328.8 169.3h10.2v2.2h-10.2z"/>
<path shape-rendering="crispEdges" fill="#ffe500" d="M338.9 80.7h2.2v2.2h-2.2zM344.9 80.7h4.2v2.2h-4.2zM351.0 80.7h4.2v2.2h-4.2zM361.1 80.7h2.2v2.2h-2.2zM371.1 80.7h2.2v2.2h-2.2zM385.2 80.7h4.2v2.2h-4.2zM395.3 80.7h2.2v2.2h-2.2zM399.4 80.7h2.2v2.2h-2.2zM413.5 80.7h2.2v2.2h-2.2zM338.9 82.7h4.2v2.2h-4.2zM344.9 82.7h2.2v2.2h-2.2zM353.0 82.7h6.2v2.2h-6.2zM363.1 82.7h6.2v2.2h-6.2zM377.2 82.7h2.2v2.2h-2.2zM385.2 82.7h4.2v2.2h-4.2zM399.4 82.7h2.2v2.2h-2.2zM405.4 82.7h2.2v2.2h-2.2zM340.9 84.7h2.2v2.2h-2.2zM344.9 84.7h4.2v2.2h-4.2zM355.0 84.7h2.2v2.2h-2.2zM373.1 84.7h4.2v2.2h-4.2zM385.2 84.7h4.2v2.2h-4.2zM391.3 84.7h24.3v2.2h-24.3zM342.9 86.7h12.3v2.2h-12.3zM357.0 86.7h12.3v2.2h-12.3zM377.2 86.7h2.2v2.2h-2.2zM387.3 86.7h2.2v2.2h-2.2zM397.4 86.7h2.2v2.2h-2.2zM338.9 88.8h2.2v2.2h-2.2zM344.9 88.8h4.2v2.2h-4.2zM351.0 88.8h2.2v2.2h-2.2zM357.0 88.8h2.2v2.2h-2.2zM373.1 88.8h6.2v2.2h-6.2zM385.2 88.8h2.2v2.2h-2.2zM389.3 88.8h2.2v2.2h-2.2zM395.3 88.8h6.2v2.2h-6.2zM403.4 88.8h4.2v2.2h-4.2zM413.5 88.8h2.2v2.2h-2.2zM338.9 90.8h12.3v2.2h-12.3zM353.0 90.8h8.2v2.2h-8.2zM363.1 90.8h6.2v2.2h-6.2zM377.2 90.8h2.2v2.2h-2.2zM387.3 90.8h2.2v2.2h-2.2zM373.1 92.8h4.2v2.2h-4.2zM379.2 92.8h8.2v2.2h-8.2zM389.3 92.8h14.3v2.2h-14.3zM405.4 92.8h10.2v2.2h-10.2zM340.9 94.8h2.2v2.2h-2.2zM373.1 94.8h4.2v2.2h-4.2zM379.2 94.8h8.2v2.2h-8.2zM389.3 94.8h4.2v2.2h-4.2zM397.4 94.8h16.3v2.2h-16.3zM346.9 96.8h2.2v2.2h-2.2zM353.0 96.8h6.2v2.2h-6.2zM363.1 96.8h2.2v2.2h-2.2zM367.1 96.8h2.2v2.2h-2.2zM375.2 96.8h4.2v2.2h-4.2zM385.2 96.8h4.2v2.2h-4.2zM395.3 96.8h4.2v2.2h-4.2zM403.4 96.8h8.2v2.2h-8.2zM413.5 96.8h2.2v2.2h-2.2zM340.9 98.8h2.2v2.2h-2.2zM357.0 98.8h2.2v2.2h-2.2zM373.1 98.8h4.2v2.2h-4.2zM385.2 98.8h6.2v2.2h-6.2zM395.3 98.8h2.2v2.2h-2.2zM401.4 98.8h2.2v2.2h-2.2zM405.4 98.8h4.2v2.2h-4.2zM413.5 98.8h2.2v2.2h-2.2zM338.9 100.8h2.2v2.2h-2.2zM346.9 100.8h2.2v2.2h-2.2zM353.0 100.8h6.2v2.2h-6.2zM363.1 100.8h2.2v2.2h-2.2zM373.1 100.8h4.2v2.2h-4.2zM395.3 100.8h2.2v2.2h-2.2zM399.4 100.8h2.2v2.2h-2.2zM407.4 100.8h2.2v2.2h-2.2zM411.5 100.8h4.2v2.2h-4.2zM338.9 102.8h4.2v2.2h-4.2zM346.9 102.8h4.2v2.2h-4.2zM353.0 102.8h2.2v2.2h-2.2zM357.0 102.8h2.2v2.2h-2.2zM363.1 102.8h2.2v2.2h-2.2zM373.1 102.8h2.2v2.2h-2.2zM377.2 102.8h2.2v2.2h-2.2zM387.3 102.8h2.2v2.2h-2.2zM399.4 102.8h2.2v2.2h-2.2zM403.4 102.8h2.2v2.2h-2.2zM409.4 102.8h2.2v2.2h-2.2zM346.9 104.9h4.2v2.2h-4.2zM355.0 104.9h2.2v2.2h-2.2zM363.1 104.9h2.2v2.2h-2.2zM367.1 104.9h2.2v2.2h-2.2zM373.1 104.9h6.2v2.2h-6.2zM385.2 104.9h4.2v2.2h-4.2zM397.4 104.9h4.2v2.2h-4.2zM403.4 104.9h6.2v2.2h-6.2zM411.5 104.9h4.2v2.2h-4.2zM338.9 106.9h2.2v2.2h-2.2zM344.9 106.9h6.2v2.2h-6.2zM353.0 106.9h8.2v2.2h-8.2zM363.1 106.9h2.2v2.2h-2.2zM375.2 106.9h4.2v2.2h-4.2zM389.3 106.9h2.2v2.2h-2.2zM395.3 106.9h4.2v2.2h-4.2zM401.4 106.9h4.2v2.2h-4.2zM413.5 106.9h2.2v2.2h-2.2zM338.9 108.9h2.2v2.2h-2.2zM355.0 108.9h4.2v2.2h-4.2zM363.1 108.9h4.2v2.2h-4.2zM373.1 108.9h2.2v2.2h-2.2zM377.2 108.9h2.2v2.2h-2.2zM383.2 108.9h6.2v2.2h-6.2zM395.3 108.9h6.2v2.2h-6.2zM403.4 108.9h8.2v2.2h-8.2zM373.1 110.9h8.2v2.2h-8.2zM383.2 110.9h4.2v2.2h-4.2zM391.3 110.9h2.2v2.2h-2.2zM395.3 110.9h2.2v2.2h-2.2zM399.4 110.9h10.2v2.2h-10.2zM411.5 110.9h4.2v2.2h-4.2zM355.0 112.9h2.2v2.2h-2.2zM375.2 112.9h2.2v2.2h-2.2zM383.2 112.9h6.2v2.2h-6.2zM391.3 112.9h2.2v2.2h-2.2zM395.3 112.9h12.3v2.2h-12.3zM411.5 112.9h4.2v2.2h-4.2zM294.5 114.9h4.2v2.2h-4.2zM302.6 114.9h4.2v2.2h-4.2zM316.7 114.9h4.2v2.2h-4.2zM324.8 114.9h2.2v2.2h-2.2zM328.8 114.9h6.2v2.2h-6.2zM302.6 116.9h2.2v2.2h-2.2zM294.5 119.0h4.2v2.2h-4.2zM300.6 119.0h8.2v2.2h-8.2zM312.6 119.0h2.2v2.2h-2.2zM316.7 119.0h4.2v2.2h-4.2zM328.8 119.0h4.2v2.2h-4.2zM336.9 119.0h2.2v2.2h-2.2zM296.5 121.0h2.2v2.2h-2.2zM302.6 121.0h2.2v2.2h-2.2zM306.6 121.0h2.2v2.2h-2.2zM316.7 121.0h4.2v2.2h-4.2zM322.7 121.0h4.2v2.2h-4.2zM328.8 121.0h8.2v2.2h-8.2zM296.5 123.0h2.2v2.2h-2.2zM302.6 123.0h2.2v2.2h-2.2zM306.6 123.0h2.2v2.2h-2.2zM312.6 123.0h2.2v2.2h-2.2zM316.7 123.0h2.2v2.2h-2.2zM322.7 123.0h6.2v2.2h-6.2zM330.8 123.0h4.2v2.2h-4.2zM294.5 125.0h4.2v2.2h-4.2zM300.6 125.0h4.2v2.2h-4.2zM306.6 125.0h2.2v2.2h-2.2zM310.6 125.0h2.2v2.2h-2.2zM324.8 125.0h4.2v2.2h-4.2zM330.8 125.0h6.2v2.2h-6.2zM294.5 127.0h2.2v2.2h-2.2zM306.6 127.0h2.2v2.2h-2.2zM312.6 127.0h2.2v2.2h-2.2zM316.7 127.0h2.2v2.2h-2.2zM324.8 127.0h2.2v2.2h-2.2zM330.8 127.0h2.2v2.2h-2.2zM294.5 131.0h4.2v2.2h-4.2zM302.6 131.0h2.2v2.2h-2.2zM316.7 131.0h2.2v2.2h-2.2zM322.7 131.0h2.2v2.2h-2.2zM328.8 131.0h4.2v2.2h-4.2zM296.5 133.0h2.2v2.2h-2.2zM300.6 133.0h4.2v2.2h-4.2zM306.6 133.0h2.2v2.2h-2.2zM320.7 133.0h4.2v2.2h-4.2zM326.8 133.0h2.2v2.2h-2.2zM336.9 133.0h2.2v2.2h-2.2zM294.5 135.1h2.2v2.2h-2.2zM302.6 135.1h2.2v2.2h-2.2zM306.6 135.1h2.2v2.2h-2.2zM324.8 135.1h2.2v2.2h-2.2zM330.8 135.1h2.2v2.2h-2.2zM306.6 137.1h2.2v2.2h-2.2zM298.5 143.1h4.2v2.2h-4.2zM304.6 143.1h2.2v2.2h-2.2zM310.6 143.1h2.2v2.2h-2.2zM314.7 143.1h8.2v2.2h-8.2zM326.8 143.1h2.2v2.2h-2.2zM334.8 143.1h2.2v2.2h-2.2zM310.6 147.1h2.2v2.2h-2.2zM322.7 149.2h2.2v2.2h-2.2zM298.5 151.2h4.2v2.2h-4.2zM308.6 151.2h2.2v2.2h-2.2zM312.6 151.2h4.2v2.2h-4.2zM318.7 151.2h4.2v2.2h-4.2zM334.8 151.2h2.2v2.2h-2.2zM308.6 155.2h2.2v2.2h-2.2zM314.7 155.2h2.2v2.2h-2.2zM314.7 159.2h2.2v2.2h-2.2zM314.7 161.2h2.2v2.2h-2.2zM312.6 163.2h2.2v2.2h-2.2zM298.5 169.3h2.2v2.2h-2.2zM308.6 169.3h4.2v2.2h-4.2zM314.7 169.3h2.2v2.2h-2.2zM320.7 169.3h2.2v2.2h-2.2zM326.8 169.3h2.2v2.2h-2.2z"/>
<path shape-rendering="crispEdges" fill="#ffee00" d="M340.9 80.7h4.2v2.2h-4.2zM348.9 80.7h2.2v2.2h-2.2zM355.0 80.7h6.2v2.2h-6.2zM363.1 80.7h8.2v2.2h-8.2zM377.2 80.7h2.2v2.2h-2.2zM342.9 82.7h2.2v2.2h-2.2zM348.9 82.7h4.2v2.2h-4.2zM359.0 82.7h4.2v2.2h-4.2zM369.1 82.7h4.2v2.2h-4.2zM338.9 84.7h2.2v2.2h-2.2zM342.9 84.7h2.2v2.2h-2.2zM348.9 84.7h6.2v2.2h-6.2zM357.0 84.7h16.3v2.2h-16.3zM377.2 84.7h2.2v2.2h-2.2zM355.0 86.7h2.2v2.2h-2.2zM369.1 86.7h4.2v2.2h-4.2zM340.9 88.8h4.2v2.2h-4.2zM348.9 88.8h2.2v2.2h-2.2zM353.0 88.8h4.2v2.2h-4.2zM359.0 88.8h14.3v2.2h-14.3zM387.3 88.8h2.2v2.2h-2.2zM407.4 88.8h2.2v2.2h-2.2zM351.0 90.8h2.2v2.2h-2.2zM361.1 90.8h2.2v2.2h-2.2zM369.1 90.8h4.2v2.2h-4.2zM338.9 92.8h34.4v2.2h-34.4zM377.2 92.8h2.2v2.2h-2.2zM387.3 92.8h2.2v2.2h-2.2zM403.4 92.8h2.2v2.2h-2.2zM338.9 94.8h2.2v2.2h-2.2zM342.9 94.8h30.4v2.2h-30.4zM377.2 94.8h2.2v2.2h-2.2zM387.3 94.8h2.2v2.2h-2.2zM395.3 94.8h2.2v2.2h-2.2zM413.5 94.8h2.2v2.2h-2.2zM338.9 96.8h8.2v2.2h-8.2zM348.9 96.8h4.2v2.2h-4.2zM359.0 96.8h4.2v2.2h-4.2zM365.1 96.8h2.2v2.2h-2.2zM369.1 96.8h4.2v2.2h-4.2zM338.9 98.8h2.2v2.2h-2.2zM342.9 98.8h14.3v2.2h-14.3zM359.0 98.8h14.3v2.2h-14.3zM377.2 98.8h2.2v2.2h-2.2zM403.4 98.8h2.2v2.2h-2.2zM340.9 100.8h6.2v2.2h-6.2zM348.9 100.8h4.2v2.2h-4.2zM359.0 100.8h4.2v2.2h-4.2zM365.1 100.8h8.2v2.2h-8.2zM377.2 100.8h2.2v2.2h-2.2zM387.3 100.8h2.2v2.2h-2.2zM342.9 102.8h4.2v2.2h-4.2zM351.0 102.8h2.2v2.2h-2.2zM355.0 102.8h2.2v2.2h-2.2zM359.0 102.8h4.2v2.2h-4.2zM365.1 102.8h8.2v2.2h-8.2zM338.9 104.9h8.2v2.2h-8.2zM351.0 104.9h4.2v2.2h-4.2zM357.0 104.9h6.2v2.2h-6.2zM365.1 104.9h2.2v2.2h-2.2zM369.1 104.9h4.2v2.2h-4.2zM340.9 106.9h4.2v2.2h-4.2zM351.0 106.9h2.2v2.2h-2.2zM361.1 106.9h2.2v2.2h-2.2zM365.1 106.9h8.2v2.2h-8.2zM340.9 108.9h14.3v2.2h-14.3zM359.0 108.9h4.2v2.2h-4.2zM367.1 108.9h6.2v2.2h-6.2zM338.9 110.9h34.4v2.2h-34.4zM387.3 110.9h2.2v2.2h-2.2zM338.9 112.9h16.3v2.2h-16.3zM357.0 112.9h16.3v2.2h-16.3zM377.2 112.9h2.2v2.2h-2.2zM298.5 114.9h4.2v2.2h-4.2zM306.6 114.9h10.2v2.2h-10.2zM320.7 114.9h4.2v2.2h-4.2zM326.8 114.9h2.2v2.2h-2.2zM334.8 114.9h4.2v2.2h-4.2zM294.5 116.9h8.2v2.2h-8.2zM304.6 116.9h34.4v2.2h-34.4zM298.5 119.0h2.2v2.2h-2.2zM308.6 119.0h4.2v2.2h-4.2zM314.7 119.0h2.2v2.2h-2.2zM320.7 119.0h8.2v2.2h-8.2zM332.8 119.0h4.2v2.2h-4.2zM294.5 121.0h2.2v2.2h-2.2zM298.5 121.0h4.2v2.2h-4.2zM304.6 121.0h2.2v2.2h-2.2zM308.6 121.0h8.2v2.2h-8.2zM320.7 121.0h2.2v2.2h-2.2zM326.8 121.0h2.2v2.2h-2.2zM336.9 121.0h2.2v2.2h-2.2zM294.5 123.0h2.2v2.2h-2.2zM298.5 123.0h4.2v2.2h-4.2zM304.6 123.0h2.2v2.2h-2.2zM308.6 123.0h4.2v2.2h-4.2zM314.7 123.0h2.2v2.2h-2.2zM318.7 123.0h4.2v2.2h-4.2zM328.8 123.0h2.2v2.2h-2.2zM334.8 123.0h4.2v2.2h-4.2zM298.5 125.0h2.2v2.2h-2.2zM304.6 125.0h2.2v2.2h-2.2zM308.6 125.0h2.2v2.2h-2.2zM312.6 125.0h12.3v2.2h-12.3zM328.8 125.0h2.2v2.2h-2.2zM336.9 125.0h2.2v2.2h-2.2zM296.5 127.0h6.2v2.2h-6.2zM304.6 127.0h2.2v2.2h-2.2zM308.6 127.0h4.2v2.2h-4.2zM314.7 127.0h2.2v2.2h-2.2zM318.7 127.0h6.2v2.2h-6.2zM326.8 127.0h4.2v2.2h-4.2zM332.8 127.0h6.2v2.2h-6.2zM294.5 129.0h44.5v2.2h-44.5zM298.5 131.0h4.2v2.2h-4.2zM304.6 131.0h2.2v2.2h-2.2zM308.6 131.0h8.2v2.2h-8.2zM318.7 131.0h4.2v2.2h-4.2zM324.8 131.0h4.2v2.2h-4.2zM332.8 131.0h6.2v2.2h-6.2zM294.5 133.0h2.2v2.2h-2.2zM298.5 133.0h2.2v2.2h-2.2zM304.6 133.0h2.2v2.2h-2.2zM308.6 133.0h12.2v2.2h-12.2zM324.8 133.0h2.2v2.2h-2.2zM328.8 133.0h8.2v2.2h-8.2zM296.5 135.1h6.2v2.2h-6.2zM304.6 135.1h2.2v2.2h-2.2zM308.6 135.1h16.3v2.2h-16.3zM326.8 135.1h4.2v2.2h-4.2zM332.8 135.1h6.2v2.2h-6.2zM294.5 137.1h12.3v2.2h-12.3zM308.6 137.1h30.4v2.2h-30.4z"/>
<defs><linearGradient id="gB" x1="0" y1="1" x2="0" y2="0"><stop offset="0" stop-color="#180202"/><stop offset="0.1" stop-color="#400404"/><stop offset="0.2" stop-color="#8a0606"/><stop offset="0.3" stop-color="#d40a0a"/><stop offset="0.4" stop-color="#ea100c"/><stop offset="0.5" stop-color="#f4380a"/><stop offset="0.62" stop-color="#fc7c04"/><stop offset="0.75" stop-color="#ffa800"/><stop offset="0.88" stop-color="#ffd400"/><stop offset="1" stop-color="#fff200"/></linearGradient></defs>
<rect x="268.20" y="98.30" width="4.60" height="57.90" fill="url(#gB)"/>
<text x="274.8" y="105.9" font-size="6.8">1</text>
<text x="274.8" y="118.1" font-size="6.8">0.5</text>
<text x="274.8" y="130.3" font-size="6.8">0</text>
<text x="274.8" y="142.6" font-size="6.8">−0.5</text>
<text x="274.8" y="154.4" font-size="6.8">−1</text>
<text x="421.6" y="55.2" font-size="6.5">main cluster</text>
<rect x="421.60" y="60.10" width="5.80" height="5.80" fill="#e8401c"/>
<text x="432.2" y="65.2" font-size="6.5">C1 (multilineage)</text>
<rect x="421.60" y="69.40" width="5.80" height="5.80" fill="#2c2a8c"/>
<text x="432.2" y="74.5" font-size="6.5">C2 (lymphoid)</text>
<text x="421.6" y="86.9" font-size="6.5">subcluster</text>
<rect x="421.60" y="92.80" width="5.80" height="5.80" fill="#f2a01c"/>
<text x="432.2" y="97.9" font-size="6.5">C1a (delHBS1L)</text>
<rect x="421.60" y="102.30" width="5.80" height="5.80" fill="#f8e21c"/>
<text x="432.2" y="107.4" font-size="6.5">C1b (del7)</text>
<rect x="421.60" y="111.80" width="5.80" height="5.80" fill="#acd6ea"/>
<text x="432.2" y="116.9" font-size="6.5">C2a (IKZF1)</text>
<rect x="421.60" y="121.30" width="5.80" height="5.80" fill="#1c90c8"/>
<text x="432.2" y="126.4" font-size="6.5">C2b (CDKN2A/PAX5)</text>
<text x="421.6" y="139.4" font-size="6.5">BCR::ABL1</text>
<rect x="421.60" y="143.50" width="5.80" height="5.80" fill="#111"/>
<text x="432.2" y="148.6" font-size="6.5">Major</text>
<rect x="421.60" y="153.00" width="5.80" height="5.80" fill="#22aaa4"/>
<text x="432.2" y="158.1" font-size="6.5">minor</text>
<rect x="421.60" y="162.10" width="5.80" height="5.80" fill="#c8c8c8"/>
<text x="432.2" y="167.2" font-size="6.5">atypical</text>
<text x="6.8" y="207.5" font-size="11.5" fill="#000" font-weight="bold">C</text>
<text x="44.0" y="227.3" font-size="6.5">n = 327</text>
<path d="M84.7 221.4V213.3H122.8V218 M75.2 225V221.4H93.4V225 M112.4 223.2V218H132.3V222.3 M107.7 225V223.2H118.4V225 M126.2 225V222.3H139.2V225 M136 225V223.7H150V225 M72.5 226V224.5H80V226 M88 226V224H97V226 M99 226V224.6H104V226 M142 226V224.2H155V226" stroke="#3a3a3a" stroke-width="0.7" fill="none"/>
<path d="M71.7 228V226.0H73.2V228M73.0 228V225.0H75.1V228M74.9 228V225.6H77.7V228M77.0 228V224.6H78.7V228M78.2 228V224.7H80.5V228M80.3 228V225.1H81.9V228M81.1 228V226.1H84.3V228M84.1 228V224.7H86.6V228M85.8 228V224.8H88.0V228M87.9 228V224.9H89.8V228M89.7 228V226.5H91.1V228M90.7 228V225.3H93.0V228M92.4 228V224.7H94.0V228M93.9 228V226.2H95.6V228M94.9 228V226.4H98.0V228M97.7 228V225.8H100.4V228M100.0 228V225.6H101.5V228M101.3 228V226.4H102.9V228M102.8 228V225.3H104.9V228M104.3 228V226.6H106.3V228M105.7 228V224.8H106.9V228M106.8 228V225.6H109.9V228M109.1 228V226.1H111.4V228M110.5 228V225.7H112.9V228M112.5 228V224.9H114.1V228M113.5 228V225.3H116.6V228M116.0 228V224.8H117.8V228M117.0 228V226.2H119.8V228M118.9 228V226.0H121.5V228M121.3 228V225.4H124.4V228M124.4 228V225.8H127.6V228M127.4 228V225.4H129.6V228M128.7 228V224.9H131.7V228M130.3 228V226.1H133.1V228M132.4 228V224.7H135.3V228M134.2 228V225.4H136.0V228M135.2 228V225.3H136.6V228M136.5 228V226.1H139.7V228M138.9 228V226.5H140.6V228M140.2 228V224.7H142.8V228M141.8 228V226.2H144.6V228M144.5 228V225.5H146.9V228M146.4 228V225.2H149.3V228M148.6 228V226.1H150.3V228M149.5 228V226.5H152.1V228M150.8 228V225.9H153.2V228M153.0 228V225.1H155.4V228M154.7 228V226.4H157.8V228M156.4 228V224.8H157.8V228M157.2 228V224.9H158.0V228" stroke="#2a2a2a" stroke-width="0.5" fill="none"/>
<path fill="#111" d="M71.7 230.4 L71.7 227.1 L72.5 226.8 L73.6 226.7 L74.5 226.0 L75.4 226.5 L76.9 226.9 L77.7 227.2 L79.3 227.4 L80.9 225.6 L82.1 225.7 L83.7 226.0 L85.1 226.2 L86.6 226.3 L87.3 226.5 L88.4 227.7 L89.4 226.8 L90.7 227.8 L91.5 227.0 L92.8 227.3 L94.5 226.3 L96.0 226.8 L97.3 225.7 L98.9 227.8 L100.0 226.3 L101.8 225.8 L102.6 225.8 L104.2 227.3 L105.4 227.0 L106.1 227.1 L107.3 226.8 L108.4 226.5 L109.4 225.7 L110.5 226.2 L112.0 227.5 L113.5 226.6 L114.5 226.5 L115.7 227.1 L117.5 225.8 L118.7 226.7 L120.2 227.6 L121.7 227.0 L123.3 227.1 L124.9 227.2 L126.4 226.2 L128.1 226.5 L129.5 227.5 L131.2 227.9 L131.9 226.3 L133.0 226.5 L133.8 226.9 L134.6 226.3 L136.4 227.3 L137.6 225.8 L139.3 227.2 L140.2 226.4 L141.7 227.2 L142.6 227.8 L143.7 226.2 L145.3 226.0 L146.8 226.1 L148.1 226.2 L149.2 227.8 L150.5 226.6 L151.8 226.2 L152.7 226.5 L153.7 226.0 L155.5 225.7 L157.1 227.7 L158.1 227.5 L158.1 230.4Z"/>
<path d="M23.6 306.3V247.6H31.8 M31.8 236V258.7 M31.8 236H36.5 M31.8 258.7H35 M23.6 306.3H29.1 M29.1 285.2V327.5 M28.8 285.2H34 M29.1 327.5H33.2 M33.2 318V347.4 M33.2 318H36 M33.2 347.4H35.5 M34.5 262V272H36.5 M35 292V302H37 M34.5 334V340H36.5 M35.2 350V358H37 M34.7 242V250H36.8" stroke="#3a3a3a" stroke-width="0.7" fill="none"/>
<path d="M40 230.6H35.7V233.7H40M40 232.2H35.8V235.4H40M40 234.0H36.2V236.5H40M40 236.4H37.5V238.0H40M40 237.4H37.5V239.9H40M40 239.5H37.0V242.5H40M40 241.1H36.7V244.0H40M40 243.0H37.3V244.6H40M40 244.3H37.1V247.3H40M40 247.3H36.9V249.6H40M40 249.2H37.5V250.9H40M40 250.3H37.5V253.0H40M40 252.6H37.2V254.1H40M40 253.8H35.5V255.4H40M40 255.0H37.4V256.3H40M40 256.0H36.3V258.2H40M40 257.8H36.1V260.8H40M40 259.9H36.1V262.3H40M40 261.8H36.4V264.1H40M40 263.7H35.6V266.0H40M40 265.9H36.3V267.9H40M40 267.3H37.5V270.3H40M40 269.6H35.6V271.6H40M40 271.5H36.6V273.0H40M40 272.5H36.2V274.4H40M40 273.6H36.6V274.9H40M40 274.8H35.8V277.3H40M40 276.9H36.3V278.2H40M40 278.1H36.4V281.1H40M40 280.9H36.6V283.1H40M40 282.6H37.0V285.8H40M40 285.0H36.8V287.6H40M40 286.8H37.2V289.6H40M40 289.0H35.4V292.1H40M40 291.3H36.1V293.8H40M40 292.8H36.4V295.4H40M40 294.4H37.5V295.7H40M40 295.3H35.9V296.7H40M40 296.2H35.8V299.1H40M40 298.1H36.4V299.4H40M40 298.9H37.0V300.8H40M40 300.7H35.5V303.6H40M40 302.7H35.5V305.6H40M40 304.4H36.2V306.6H40M40 306.3H36.4V309.0H40M40 308.0H36.0V309.6H40M40 308.9H35.7V311.4H40M40 311.3H35.5V313.8H40M40 313.1H35.5V315.5H40M40 314.9H37.1V316.2H40M40 315.6H37.6V318.0H40M40 317.8H36.6V319.5H40M40 318.8H37.3V320.7H40M40 320.5H36.2V321.7H40M40 321.5H37.2V323.0H40M40 323.0H36.2V325.3H40M40 325.1H35.8V327.3H40M40 326.5H37.2V328.0H40M40 327.7H37.2V330.2H40M40 330.2H36.3V331.8H40M40 331.7H36.3V334.4H40M40 333.9H35.8V335.5H40M40 334.8H35.9V336.7H40M40 336.3H35.7V339.4H40M40 338.7H36.7V341.6H40M40 341.0H35.4V343.7H40M40 343.6H37.2V346.2H40M40 346.0H35.5V347.4H40M40 346.8H37.5V349.0H40M40 348.9H36.8V350.9H40M40 350.7H37.5V352.5H40M40 352.5H37.4V355.1H40M40 354.9H36.1V357.4H40M40 356.5H35.5V358.1H40M40 358.1H35.5V359.9H40M40 359.3H36.4V360.7H40M40 360.2H36.4V361.5H40" stroke="#2a2a2a" stroke-width="0.5" fill="none"/>
<path fill="#111" d="M41.8 230.5 L37.8 230.5 L37.7 232.4 L38.9 234.0 L37.8 236.1 L39.1 237.0 L37.5 238.5 L37.5 239.5 L37.3 240.7 L39.2 241.6 L37.2 243.5 L38.8 245.0 L37.2 246.5 L37.8 247.8 L38.3 249.9 L38.4 251.3 L38.5 252.2 L38.5 254.1 L37.6 255.4 L37.2 256.2 L38.0 257.3 L37.5 259.1 L38.4 260.6 L37.0 262.3 L38.3 264.4 L37.5 265.6 L39.1 267.4 L37.9 268.6 L37.4 270.2 L39.0 271.6 L38.8 273.2 L38.9 274.3 L37.5 276.2 L38.5 277.8 L38.3 279.4 L38.2 280.5 L38.8 281.8 L39.2 283.1 L37.5 284.7 L37.3 286.1 L37.1 288.0 L37.7 289.6 L37.3 291.5 L38.6 293.2 L37.3 294.4 L38.4 295.7 L37.0 296.9 L38.8 298.3 L39.1 299.3 L37.4 300.8 L37.8 301.7 L37.4 303.2 L38.1 304.1 L38.0 305.3 L38.5 306.7 L37.5 308.3 L38.9 309.4 L37.3 310.2 L38.8 311.1 L39.0 312.7 L37.7 314.4 L38.6 315.8 L38.8 316.9 L37.1 318.3 L38.2 319.6 L39.0 320.6 L38.1 322.7 L38.5 324.7 L37.3 326.3 L39.0 328.4 L37.8 329.8 L38.4 330.7 L37.9 332.7 L38.3 334.0 L37.4 335.9 L38.4 337.1 L38.8 337.9 L38.8 339.2 L37.4 340.6 L37.2 341.4 L38.7 342.6 L38.4 344.5 L38.5 345.7 L37.8 347.6 L38.0 348.5 L37.4 349.6 L37.2 350.9 L37.6 353.0 L38.6 355.0 L39.0 355.9 L38.2 357.8 L38.1 359.8 L37.3 360.7 L38.5 361.5 L41.8 361.5Z"/>
<rect x="42.20" y="230.50" width="4.90" height="1.10" fill="#8440a4"/>
<rect x="42.20" y="231.50" width="4.90" height="3.30" fill="#8440a4"/>
<rect x="42.20" y="234.70" width="4.90" height="1.10" fill="#8440a4"/>
<rect x="42.20" y="235.70" width="4.90" height="1.10" fill="#8ccce8"/>
<rect x="42.20" y="236.70" width="4.90" height="6.10" fill="#6a5cb8"/>
<rect x="42.20" y="242.70" width="4.90" height="1.70" fill="#b8a4e2"/>
<rect x="42.20" y="244.30" width="4.90" height="1.10" fill="#8ccce8"/>
<rect x="42.20" y="245.30" width="4.90" height="1.70" fill="#8440a4"/>
<rect x="42.20" y="246.90" width="4.90" height="6.10" fill="#8440a4"/>
<rect x="42.20" y="252.90" width="4.90" height="3.30" fill="#8440a4"/>
<rect x="42.20" y="256.10" width="4.90" height="4.60" fill="#8440a4"/>
<rect x="42.20" y="260.60" width="4.90" height="1.10" fill="#6a5cb8"/>
<rect x="42.20" y="261.60" width="4.90" height="3.30" fill="#8440a4"/>
<rect x="42.20" y="264.80" width="4.90" height="1.70" fill="#8440a4"/>
<rect x="42.20" y="266.40" width="4.90" height="2.50" fill="#8ccce8"/>
<rect x="42.20" y="268.80" width="4.90" height="1.70" fill="#8440a4"/>
<rect x="42.20" y="270.40" width="4.90" height="1.70" fill="#8440a4"/>
<rect x="42.20" y="272.00" width="4.90" height="6.10" fill="#8ccce8"/>
<rect x="42.20" y="278.00" width="4.90" height="1.10" fill="#6a5cb8"/>
<rect x="42.20" y="279.00" width="4.90" height="2.50" fill="#8440a4"/>
<rect x="42.20" y="281.40" width="4.90" height="1.70" fill="#6a5cb8"/>
<rect x="42.20" y="283.00" width="4.90" height="3.30" fill="#8440a4"/>
<rect x="42.20" y="286.20" width="4.90" height="6.10" fill="#8ccce8"/>
<rect x="42.20" y="292.20" width="4.90" height="3.30" fill="#8ccce8"/>
<rect x="42.20" y="295.40" width="4.90" height="1.70" fill="#8440a4"/>
<rect x="42.20" y="297.00" width="4.90" height="3.30" fill="#6a5cb8"/>
<rect x="42.20" y="300.20" width="4.90" height="1.70" fill="#8440a4"/>
<rect x="42.20" y="301.80" width="4.90" height="1.70" fill="#8ccce8"/>
<rect x="42.20" y="303.40" width="4.90" height="2.50" fill="#8440a4"/>
<rect x="42.20" y="305.80" width="4.90" height="2.50" fill="#8ccce8"/>
<rect x="42.20" y="308.20" width="4.90" height="3.30" fill="#8ccce8"/>
<rect x="42.20" y="311.40" width="4.90" height="2.50" fill="#6a5cb8"/>
<rect x="42.20" y="313.80" width="4.90" height="6.10" fill="#b8a4e2"/>
<rect x="42.20" y="319.80" width="4.90" height="2.50" fill="#6a5cb8"/>
<rect x="42.20" y="322.20" width="4.90" height="4.60" fill="#8ccce8"/>
<rect x="42.20" y="326.70" width="4.90" height="4.60" fill="#6a5cb8"/>
<rect x="42.20" y="331.20" width="4.90" height="2.50" fill="#8440a4"/>
<rect x="42.20" y="333.60" width="4.90" height="1.70" fill="#8440a4"/>
<rect x="42.20" y="335.20" width="4.90" height="4.60" fill="#8440a4"/>
<rect x="42.20" y="339.70" width="4.90" height="1.10" fill="#8ccce8"/>
<rect x="42.20" y="340.70" width="4.90" height="2.50" fill="#6a5cb8"/>
<rect x="42.20" y="343.10" width="4.90" height="6.10" fill="#6a5cb8"/>
<rect x="42.20" y="349.10" width="4.90" height="1.70" fill="#8440a4"/>
<rect x="42.20" y="350.70" width="4.90" height="1.70" fill="#6a5cb8"/>
<rect x="42.20" y="352.30" width="4.90" height="3.30" fill="#8440a4"/>
<rect x="42.20" y="355.50" width="4.90" height="1.10" fill="#8ccce8"/>
<rect x="42.20" y="356.50" width="4.90" height="1.10" fill="#8440a4"/>
<rect x="42.20" y="357.50" width="4.90" height="4.10" fill="#8440a4"/>
<rect x="49.10" y="230.50" width="4.90" height="1.10" fill="#8a6a5c"/>
<rect x="49.10" y="231.50" width="4.90" height="1.70" fill="#a83c28"/>
<rect x="49.10" y="233.10" width="4.90" height="1.70" fill="#2c9a3c"/>
<rect x="49.10" y="234.70" width="4.90" height="6.10" fill="#a83c28"/>
<rect x="49.10" y="240.70" width="4.90" height="2.50" fill="#2c9a3c"/>
<rect x="49.10" y="243.10" width="4.90" height="1.10" fill="#2c9a3c"/>
<rect x="49.10" y="244.10" width="4.90" height="3.30" fill="#a83c28"/>
<rect x="49.10" y="247.30" width="4.90" height="1.10" fill="#2c9a3c"/>
<rect x="49.10" y="248.30" width="4.90" height="1.70" fill="#2c9a3c"/>
<rect x="49.10" y="249.90" width="4.90" height="3.30" fill="#e8ccd6"/>
<rect x="49.10" y="253.10" width="4.90" height="1.70" fill="#8a6a5c"/>
<rect x="49.10" y="254.70" width="4.90" height="1.70" fill="#2c9a3c"/>
<rect x="49.10" y="256.30" width="4.90" height="2.50" fill="#a83c28"/>
<rect x="49.10" y="258.70" width="4.90" height="4.60" fill="#a83c28"/>
<rect x="49.10" y="263.20" width="4.90" height="1.70" fill="#2c9a3c"/>
<rect x="49.10" y="264.80" width="4.90" height="3.30" fill="#a83c28"/>
<rect x="49.10" y="268.00" width="4.90" height="1.10" fill="#2c9a3c"/>
<rect x="49.10" y="269.00" width="4.90" height="1.70" fill="#a83c28"/>
<rect x="49.10" y="270.60" width="4.90" height="2.50" fill="#e8ccd6"/>
<rect x="49.10" y="273.00" width="4.90" height="3.30" fill="#a83c28"/>
<rect x="49.10" y="276.20" width="4.90" height="6.10" fill="#a83c28"/>
<rect x="49.10" y="282.20" width="4.90" height="4.60" fill="#2c9a3c"/>
<rect x="49.10" y="286.70" width="4.90" height="1.10" fill="#2c9a3c"/>
<rect x="49.10" y="287.70" width="4.90" height="1.70" fill="#a83c28"/>
<rect x="49.10" y="289.30" width="4.90" height="1.10" fill="#a83c28"/>
<rect x="49.10" y="290.30" width="4.90" height="3.30" fill="#8a6a5c"/>
<rect x="49.10" y="293.50" width="4.90" height="2.50" fill="#2c9a3c"/>
<rect x="49.10" y="295.90" width="4.90" height="1.10" fill="#e8ccd6"/>
<rect x="49.10" y="296.90" width="4.90" height="1.10" fill="#e8ccd6"/>
<rect x="49.10" y="297.90" width="4.90" height="3.30" fill="#a83c28"/>
<rect x="49.10" y="301.10" width="4.90" height="1.10" fill="#8a6a5c"/>
<rect x="49.10" y="302.10" width="4.90" height="1.70" fill="#2c9a3c"/>
<rect x="49.10" y="303.70" width="4.90" height="1.10" fill="#2c9a3c"/>
<rect x="49.10" y="304.70" width="4.90" height="1.70" fill="#a83c28"/>
<rect x="49.10" y="306.30" width="4.90" height="1.70" fill="#2c9a3c"/>
<rect x="49.10" y="307.90" width="4.90" height="3.30" fill="#a83c28"/>
<rect x="49.10" y="311.10" width="4.90" height="4.60" fill="#2c9a3c"/>
<rect x="49.10" y="315.60" width="4.90" height="2.50" fill="#2c9a3c"/>
<rect x="49.10" y="318.00" width="4.90" height="1.70" fill="#2c9a3c"/>
<rect x="49.10" y="319.60" width="4.90" height="4.60" fill="#2c9a3c"/>
<rect x="49.10" y="324.10" width="4.90" height="1.70" fill="#a83c28"/>
<rect x="49.10" y="325.70" width="4.90" height="3.30" fill="#2c9a3c"/>
<rect x="49.10" y="328.90" width="4.90" height="2.50" fill="#a83c28"/>
<rect x="49.10" y="331.30" width="4.90" height="4.60" fill="#a83c28"/>
<rect x="49.10" y="335.80" width="4.90" height="6.10" fill="#8a6a5c"/>
<rect x="49.10" y="341.80" width="4.90" height="6.10" fill="#a83c28"/>
<rect x="49.10" y="347.80" width="4.90" height="4.60" fill="#a83c28"/>
<rect x="49.10" y="352.30" width="4.90" height="1.10" fill="#2c9a3c"/>
<rect x="49.10" y="353.30" width="4.90" height="1.10" fill="#d8407c"/>
<rect x="49.10" y="354.30" width="4.90" height="4.60" fill="#8a6a5c"/>
<rect x="49.10" y="358.80" width="4.90" height="1.70" fill="#e8ccd6"/>
<rect x="49.10" y="360.40" width="4.90" height="1.20" fill="#e8ccd6"/>
<rect x="56.10" y="230.50" width="4.90" height="41.90" fill="#e8081c"/>
<rect x="56.10" y="272.30" width="4.90" height="7.30" fill="#4a2c92"/>
<rect x="56.10" y="279.50" width="4.90" height="82.10" fill="#3a3aa8"/>
<rect x="56.10" y="234.00" width="4.90" height="0.80" fill="#f06070"/>
<rect x="56.10" y="239.50" width="4.90" height="0.80" fill="#f05060"/>
<rect x="56.10" y="246.00" width="4.90" height="0.80" fill="#f04050"/>
<rect x="56.10" y="251.50" width="4.90" height="0.80" fill="#f8a0a8"/>
<rect x="56.10" y="256.00" width="4.90" height="0.80" fill="#f06070"/>
<rect x="56.10" y="259.50" width="4.90" height="0.80" fill="#f8b0b8"/>
<rect x="56.10" y="265.00" width="4.90" height="0.80" fill="#f03040"/>
<rect x="56.10" y="268.50" width="4.90" height="0.80" fill="#f07080"/>
<rect x="56.10" y="315.50" width="4.90" height="0.80" fill="#7878c8"/>
<rect x="56.10" y="340.50" width="4.90" height="0.80" fill="#7070c0"/>
<rect x="56.10" y="343.80" width="4.90" height="0.80" fill="#8a3a9a"/>
<rect x="56.10" y="276.00" width="4.90" height="0.80" fill="#3a3aa8"/>
<rect x="63.30" y="230.50" width="5.10" height="22.30" fill="#f8a400"/>
<rect x="63.30" y="252.70" width="5.10" height="6.30" fill="#f6c610"/>
<rect x="63.30" y="258.90" width="5.10" height="13.50" fill="#f4e81c"/>
<rect x="63.30" y="272.30" width="5.10" height="7.30" fill="#3a6aa6"/>
<rect x="63.30" y="279.50" width="5.10" height="38.10" fill="#3a84c8"/>
<rect x="63.30" y="317.50" width="5.10" height="26.60" fill="#d0e6f6"/>
<rect x="63.30" y="344.00" width="5.10" height="2.10" fill="#c8cc60"/>
<rect x="63.30" y="346.00" width="5.10" height="15.60" fill="#c8dcec"/>
<rect x="63.30" y="248.00" width="5.10" height="1.00" fill="#f8c820"/>
<rect x="63.30" y="250.50" width="5.10" height="1.00" fill="#f8d020"/>
<rect x="63.30" y="255.00" width="5.10" height="1.00" fill="#f4a800"/>
<rect x="63.30" y="284.00" width="5.10" height="1.00" fill="#5a9ad0"/>
<rect x="63.30" y="291.00" width="5.10" height="1.00" fill="#6aa8d8"/>
<rect x="63.30" y="300.00" width="5.10" height="1.00" fill="#5a98d0"/>
<rect x="63.30" y="348.00" width="5.10" height="1.00" fill="#3a84c8"/>
<rect x="63.30" y="352.00" width="5.10" height="1.00" fill="#a8b8c8"/>
<rect x="63.30" y="355.00" width="5.10" height="1.00" fill="#3a84c8"/>
<rect x="63.30" y="358.00" width="5.10" height="1.00" fill="#b8c8d8"/>
<path shape-rendering="crispEdges" fill="#2e235f" d="M103.8 230.4h2.2v2.1h-2.2zM106.9 230.4h2.2v2.1h-2.2zM80.7 232.4h1.2v2.1h-1.2zM103.8 232.4h2.2v2.1h-2.2zM106.9 232.4h1.2v2.1h-1.2zM77.7 234.4h1.2v2.1h-1.2zM108.9 234.4h1.2v2.1h-1.2zM121.9 234.4h1.2v2.1h-1.2zM123.9 234.4h1.2v2.1h-1.2zM143.0 234.4h1.2v2.1h-1.2zM104.9 236.4h1.2v2.1h-1.2zM108.9 236.4h1.2v2.1h-1.2zM105.9 238.4h1.2v2.1h-1.2zM108.9 238.4h2.2v2.1h-2.2zM123.9 238.4h1.2v2.1h-1.2zM104.9 240.3h1.2v2.1h-1.2zM107.9 240.3h1.2v2.1h-1.2zM127.0 240.3h1.2v2.1h-1.2zM129.0 240.3h1.2v2.1h-1.2zM104.9 242.3h1.2v2.1h-1.2zM106.9 242.3h1.2v2.1h-1.2zM121.9 242.3h1.2v2.1h-1.2zM126.0 242.3h1.2v2.1h-1.2zM107.9 244.3h1.2v2.1h-1.2zM108.9 246.3h1.2v2.1h-1.2zM122.9 246.3h1.2v2.1h-1.2zM83.8 248.3h1.2v2.1h-1.2zM105.9 248.3h1.2v2.1h-1.2zM109.9 248.3h1.2v2.1h-1.2zM126.0 252.3h2.2v2.1h-2.2zM121.9 254.3h1.2v2.1h-1.2zM123.9 254.3h1.2v2.1h-1.2zM121.9 256.2h1.2v2.1h-1.2zM107.9 260.2h1.2v2.1h-1.2zM129.0 262.2h1.2v2.1h-1.2zM107.9 268.2h1.2v2.1h-1.2zM124.9 270.2h1.2v2.1h-1.2zM76.7 274.1h1.2v2.1h-1.2zM79.7 274.1h1.2v2.1h-1.2zM103.8 274.1h1.2v2.1h-1.2zM90.8 276.1h1.2v2.1h-1.2zM155.1 278.1h1.2v2.1h-1.2zM105.9 280.1h1.2v2.1h-1.2zM75.7 282.1h1.2v2.1h-1.2zM80.7 284.1h1.2v2.1h-1.2zM76.7 286.1h1.2v2.1h-1.2zM85.8 286.1h1.2v2.1h-1.2zM104.9 286.1h1.2v2.1h-1.2zM71.7 288.0h1.2v2.1h-1.2zM80.7 288.0h1.2v2.1h-1.2zM88.8 288.0h1.2v2.1h-1.2zM89.8 290.0h1.2v2.1h-1.2zM75.7 292.0h1.2v2.1h-1.2zM82.8 292.0h1.2v2.1h-1.2zM86.8 292.0h1.2v2.1h-1.2zM79.7 296.0h1.2v2.1h-1.2zM79.7 298.0h1.2v2.1h-1.2zM108.9 298.0h1.2v2.1h-1.2zM78.7 300.0h1.2v2.1h-1.2zM89.8 300.0h1.2v2.1h-1.2zM82.8 304.0h1.2v2.1h-1.2zM84.8 304.0h1.2v2.1h-1.2zM119.9 307.9h1.2v2.1h-1.2zM79.7 309.9h1.2v2.1h-1.2zM107.9 309.9h1.2v2.1h-1.2zM115.9 309.9h1.2v2.1h-1.2zM119.9 309.9h1.2v2.1h-1.2zM87.8 311.9h1.2v2.1h-1.2zM89.8 311.9h1.2v2.1h-1.2zM104.9 311.9h1.2v2.1h-1.2zM156.1 311.9h1.2v2.1h-1.2zM77.7 315.9h1.2v2.1h-1.2zM89.8 315.9h1.2v2.1h-1.2zM104.9 315.9h1.2v2.1h-1.2zM115.9 315.9h1.2v2.1h-1.2zM121.9 317.9h1.2v2.1h-1.2zM124.9 321.8h1.2v2.1h-1.2zM87.8 323.8h1.2v2.1h-1.2zM98.8 323.8h1.2v2.1h-1.2zM149.1 323.8h1.2v2.1h-1.2zM123.9 325.8h1.2v2.1h-1.2zM145.0 327.8h1.2v2.1h-1.2zM97.8 333.8h1.2v2.1h-1.2zM126.0 335.8h1.2v2.1h-1.2zM75.7 345.7h1.2v2.1h-1.2zM108.9 347.7h1.2v2.1h-1.2z"/>
<path shape-rendering="crispEdges" fill="#2f367a" d="M127.0 230.4h1.2v2.1h-1.2zM129.0 230.4h1.2v2.1h-1.2zM141.0 230.4h1.2v2.1h-1.2zM107.9 232.4h1.2v2.1h-1.2zM121.9 232.4h1.2v2.1h-1.2zM126.0 232.4h1.2v2.1h-1.2zM129.0 232.4h1.2v2.1h-1.2zM80.7 234.4h1.2v2.1h-1.2zM104.9 234.4h1.2v2.1h-1.2zM124.9 234.4h1.2v2.1h-1.2zM127.0 234.4h2.2v2.1h-2.2zM103.8 236.4h1.2v2.1h-1.2zM107.9 236.4h1.2v2.1h-1.2zM103.8 238.4h2.2v2.1h-2.2zM124.9 238.4h3.2v2.1h-3.2zM142.0 238.4h1.2v2.1h-1.2zM153.1 238.4h1.2v2.1h-1.2zM103.8 240.3h1.2v2.1h-1.2zM109.9 240.3h1.2v2.1h-1.2zM112.9 240.3h1.2v2.1h-1.2zM128.0 240.3h1.2v2.1h-1.2zM130.0 240.3h1.2v2.1h-1.2zM153.1 240.3h1.2v2.1h-1.2zM127.0 242.3h1.2v2.1h-1.2zM129.0 242.3h1.2v2.1h-1.2zM104.9 244.3h1.2v2.1h-1.2zM121.9 244.3h1.2v2.1h-1.2zM127.0 244.3h1.2v2.1h-1.2zM129.0 244.3h1.2v2.1h-1.2zM104.9 246.3h2.2v2.1h-2.2zM107.9 246.3h1.2v2.1h-1.2zM126.0 246.3h1.2v2.1h-1.2zM130.0 246.3h1.2v2.1h-1.2zM153.1 246.3h1.2v2.1h-1.2zM77.7 248.3h1.2v2.1h-1.2zM124.9 248.3h2.2v2.1h-2.2zM128.0 248.3h2.2v2.1h-2.2zM140.0 248.3h1.2v2.1h-1.2zM121.9 250.3h2.2v2.1h-2.2zM124.9 250.3h1.2v2.1h-1.2zM106.9 252.3h2.2v2.1h-2.2zM119.9 252.3h1.2v2.1h-1.2zM121.9 252.3h1.2v2.1h-1.2zM104.9 254.3h1.2v2.1h-1.2zM126.0 254.3h2.2v2.1h-2.2zM127.0 256.2h1.2v2.1h-1.2zM137.0 258.2h1.2v2.1h-1.2zM104.9 260.2h1.2v2.1h-1.2zM106.9 260.2h1.2v2.1h-1.2zM140.0 260.2h2.2v2.1h-2.2zM130.0 262.2h1.2v2.1h-1.2zM128.0 264.2h1.2v2.1h-1.2zM140.0 264.2h1.2v2.1h-1.2zM107.9 266.2h1.2v2.1h-1.2zM126.0 266.2h1.2v2.1h-1.2zM104.9 268.2h1.2v2.1h-1.2zM126.0 268.2h2.2v2.1h-2.2zM121.9 270.2h1.2v2.1h-1.2zM126.0 270.2h1.2v2.1h-1.2zM128.0 270.2h1.2v2.1h-1.2zM75.7 272.1h1.2v2.1h-1.2zM78.7 272.1h1.2v2.1h-1.2zM82.8 272.1h1.2v2.1h-1.2zM84.8 272.1h2.2v2.1h-2.2zM115.9 272.1h1.2v2.1h-1.2zM71.7 274.1h2.2v2.1h-2.2zM75.7 274.1h1.2v2.1h-1.2zM88.8 274.1h1.2v2.1h-1.2zM90.8 274.1h1.2v2.1h-1.2zM118.9 274.1h1.2v2.1h-1.2zM72.7 276.1h1.2v2.1h-1.2zM84.8 276.1h1.2v2.1h-1.2zM115.9 276.1h1.2v2.1h-1.2zM104.9 280.1h1.2v2.1h-1.2zM112.9 280.1h1.2v2.1h-1.2zM81.7 282.1h1.2v2.1h-1.2zM87.8 282.1h1.2v2.1h-1.2zM104.9 282.1h1.2v2.1h-1.2zM145.0 282.1h1.2v2.1h-1.2zM115.9 284.1h1.2v2.1h-1.2zM149.1 284.1h1.2v2.1h-1.2zM75.7 286.1h1.2v2.1h-1.2zM88.8 286.1h1.2v2.1h-1.2zM111.9 286.1h1.2v2.1h-1.2zM152.1 286.1h1.2v2.1h-1.2zM78.7 288.0h1.2v2.1h-1.2zM98.8 288.0h1.2v2.1h-1.2zM86.8 290.0h1.2v2.1h-1.2zM88.8 290.0h1.2v2.1h-1.2zM104.9 290.0h1.2v2.1h-1.2zM81.7 292.0h1.2v2.1h-1.2zM92.8 292.0h1.2v2.1h-1.2zM107.9 292.0h1.2v2.1h-1.2zM80.7 294.0h1.2v2.1h-1.2zM89.8 296.0h1.2v2.1h-1.2zM108.9 296.0h1.2v2.1h-1.2zM86.8 298.0h1.2v2.1h-1.2zM113.9 298.0h1.2v2.1h-1.2zM154.1 298.0h1.2v2.1h-1.2zM76.7 300.0h1.2v2.1h-1.2zM80.7 300.0h2.2v2.1h-2.2zM88.8 300.0h1.2v2.1h-1.2zM107.9 300.0h1.2v2.1h-1.2zM114.9 300.0h1.2v2.1h-1.2zM77.7 302.0h1.2v2.1h-1.2zM83.8 302.0h1.2v2.1h-1.2zM118.9 302.0h1.2v2.1h-1.2zM85.8 304.0h1.2v2.1h-1.2zM90.8 304.0h1.2v2.1h-1.2zM111.9 304.0h1.2v2.1h-1.2zM83.8 305.9h1.2v2.1h-1.2zM86.8 305.9h1.2v2.1h-1.2zM115.9 305.9h1.2v2.1h-1.2zM71.7 307.9h1.2v2.1h-1.2zM106.9 307.9h1.2v2.1h-1.2zM98.8 309.9h1.2v2.1h-1.2zM114.9 309.9h1.2v2.1h-1.2zM75.7 311.9h1.2v2.1h-1.2zM78.7 311.9h1.2v2.1h-1.2zM84.8 311.9h1.2v2.1h-1.2zM91.8 311.9h1.2v2.1h-1.2zM84.8 313.9h1.2v2.1h-1.2zM106.9 313.9h1.2v2.1h-1.2zM78.7 315.9h1.2v2.1h-1.2zM99.8 319.9h1.2v2.1h-1.2zM135.0 319.9h1.2v2.1h-1.2zM122.9 321.8h1.2v2.1h-1.2zM126.0 321.8h1.2v2.1h-1.2zM126.0 323.8h1.2v2.1h-1.2zM128.0 323.8h1.2v2.1h-1.2zM141.0 325.8h1.2v2.1h-1.2zM99.8 327.8h1.2v2.1h-1.2zM121.9 327.8h1.2v2.1h-1.2zM102.8 329.8h1.2v2.1h-1.2zM123.9 329.8h1.2v2.1h-1.2zM126.0 329.8h1.2v2.1h-1.2zM130.0 329.8h1.2v2.1h-1.2zM140.0 329.8h1.2v2.1h-1.2zM145.0 329.8h1.2v2.1h-1.2zM126.0 331.8h1.2v2.1h-1.2zM143.0 331.8h1.2v2.1h-1.2zM121.9 333.8h1.2v2.1h-1.2zM126.0 333.8h1.2v2.1h-1.2zM145.0 333.8h1.2v2.1h-1.2zM121.9 335.8h1.2v2.1h-1.2zM127.0 335.8h1.2v2.1h-1.2zM129.0 335.8h1.2v2.1h-1.2zM90.8 337.7h1.2v2.1h-1.2zM84.8 349.7h1.2v2.1h-1.2zM103.8 355.6h1.2v2.1h-1.2z"/>
<path shape-rendering="crispEdges" fill="#2e4a90" d="M108.9 230.4h1.2v2.1h-1.2zM121.9 230.4h3.2v2.1h-3.2zM126.0 230.4h1.2v2.1h-1.2zM146.0 230.4h1.2v2.1h-1.2zM108.9 232.4h1.2v2.1h-1.2zM114.9 232.4h1.2v2.1h-1.2zM127.0 232.4h1.2v2.1h-1.2zM83.8 234.4h1.2v2.1h-1.2zM105.9 234.4h1.2v2.1h-1.2zM122.9 234.4h1.2v2.1h-1.2zM129.0 234.4h1.2v2.1h-1.2zM138.0 234.4h1.2v2.1h-1.2zM81.7 236.4h1.2v2.1h-1.2zM122.9 236.4h2.2v2.1h-2.2zM126.0 236.4h2.2v2.1h-2.2zM77.7 238.4h1.2v2.1h-1.2zM106.9 238.4h1.2v2.1h-1.2zM121.9 238.4h2.2v2.1h-2.2zM129.0 238.4h1.2v2.1h-1.2zM139.0 238.4h1.2v2.1h-1.2zM143.0 238.4h1.2v2.1h-1.2zM154.1 238.4h1.2v2.1h-1.2zM84.8 240.3h1.2v2.1h-1.2zM105.9 240.3h1.2v2.1h-1.2zM121.9 240.3h1.2v2.1h-1.2zM123.9 240.3h3.2v2.1h-3.2zM140.0 240.3h1.2v2.1h-1.2zM143.0 240.3h1.2v2.1h-1.2zM72.7 242.3h1.2v2.1h-1.2zM103.8 242.3h1.2v2.1h-1.2zM112.9 242.3h1.2v2.1h-1.2zM130.0 242.3h1.2v2.1h-1.2zM135.0 242.3h1.2v2.1h-1.2zM142.0 242.3h2.2v2.1h-2.2zM148.1 242.3h1.2v2.1h-1.2zM154.1 242.3h1.2v2.1h-1.2zM77.7 244.3h1.2v2.1h-1.2zM84.8 244.3h1.2v2.1h-1.2zM106.9 244.3h1.2v2.1h-1.2zM123.9 244.3h1.2v2.1h-1.2zM126.0 244.3h1.2v2.1h-1.2zM106.9 246.3h1.2v2.1h-1.2zM109.9 246.3h1.2v2.1h-1.2zM127.0 246.3h2.2v2.1h-2.2zM141.0 246.3h2.2v2.1h-2.2zM104.9 248.3h1.2v2.1h-1.2zM121.9 248.3h1.2v2.1h-1.2zM123.9 248.3h1.2v2.1h-1.2zM127.0 248.3h1.2v2.1h-1.2zM130.0 248.3h1.2v2.1h-1.2zM141.0 248.3h1.2v2.1h-1.2zM152.1 248.3h1.2v2.1h-1.2zM127.0 250.3h1.2v2.1h-1.2zM142.0 250.3h2.2v2.1h-2.2zM104.9 252.3h1.2v2.1h-1.2zM123.9 252.3h1.2v2.1h-1.2zM103.8 254.3h1.2v2.1h-1.2zM124.9 256.2h2.2v2.1h-2.2zM99.8 258.2h1.2v2.1h-1.2zM121.9 258.2h1.2v2.1h-1.2zM123.9 258.2h1.2v2.1h-1.2zM126.0 258.2h1.2v2.1h-1.2zM129.0 258.2h1.2v2.1h-1.2zM150.1 258.2h1.2v2.1h-1.2zM121.9 260.2h1.2v2.1h-1.2zM129.0 260.2h1.2v2.1h-1.2zM146.0 260.2h1.2v2.1h-1.2zM154.1 260.2h1.2v2.1h-1.2zM108.9 262.2h1.2v2.1h-1.2zM121.9 262.2h1.2v2.1h-1.2zM123.9 262.2h2.2v2.1h-2.2zM140.0 262.2h1.2v2.1h-1.2zM141.0 264.2h1.2v2.1h-1.2zM123.9 266.2h1.2v2.1h-1.2zM96.8 268.2h1.2v2.1h-1.2zM103.8 268.2h1.2v2.1h-1.2zM135.0 268.2h1.2v2.1h-1.2zM104.9 270.2h1.2v2.1h-1.2zM123.9 270.2h1.2v2.1h-1.2zM152.1 270.2h1.2v2.1h-1.2zM71.7 272.1h1.2v2.1h-1.2zM81.7 272.1h1.2v2.1h-1.2zM90.8 272.1h1.2v2.1h-1.2zM92.8 272.1h1.2v2.1h-1.2zM98.8 272.1h1.2v2.1h-1.2zM103.8 272.1h1.2v2.1h-1.2zM105.9 272.1h1.2v2.1h-1.2zM110.9 272.1h1.2v2.1h-1.2zM112.9 272.1h1.2v2.1h-1.2zM118.9 272.1h1.2v2.1h-1.2zM157.1 272.1h1.2v2.1h-1.2zM78.7 274.1h1.2v2.1h-1.2zM84.8 274.1h1.2v2.1h-1.2zM87.8 274.1h1.2v2.1h-1.2zM92.8 274.1h1.2v2.1h-1.2zM104.9 274.1h2.2v2.1h-2.2zM108.9 274.1h1.2v2.1h-1.2zM77.7 276.1h1.2v2.1h-1.2zM83.8 276.1h1.2v2.1h-1.2zM92.8 276.1h1.2v2.1h-1.2zM103.8 276.1h2.2v2.1h-2.2zM148.1 276.1h1.2v2.1h-1.2zM150.1 276.1h1.2v2.1h-1.2zM78.7 278.1h1.2v2.1h-1.2zM80.7 278.1h1.2v2.1h-1.2zM85.8 278.1h1.2v2.1h-1.2zM98.8 278.1h1.2v2.1h-1.2zM104.9 278.1h1.2v2.1h-1.2zM108.9 278.1h1.2v2.1h-1.2zM110.9 278.1h1.2v2.1h-1.2zM75.7 280.1h2.2v2.1h-2.2zM80.7 280.1h1.2v2.1h-1.2zM82.8 280.1h1.2v2.1h-1.2zM87.8 280.1h1.2v2.1h-1.2zM115.9 280.1h1.2v2.1h-1.2zM156.1 280.1h1.2v2.1h-1.2zM72.7 282.1h1.2v2.1h-1.2zM77.7 282.1h1.2v2.1h-1.2zM80.7 282.1h1.2v2.1h-1.2zM86.8 282.1h1.2v2.1h-1.2zM88.8 282.1h1.2v2.1h-1.2zM117.9 282.1h1.2v2.1h-1.2zM120.9 282.1h1.2v2.1h-1.2zM156.1 282.1h1.2v2.1h-1.2zM71.7 284.1h1.2v2.1h-1.2zM75.7 284.1h1.2v2.1h-1.2zM77.7 284.1h1.2v2.1h-1.2zM84.8 284.1h3.2v2.1h-3.2zM104.9 284.1h1.2v2.1h-1.2zM145.0 284.1h1.2v2.1h-1.2zM79.7 286.1h1.2v2.1h-1.2zM82.8 286.1h1.2v2.1h-1.2zM86.8 286.1h1.2v2.1h-1.2zM99.8 286.1h2.2v2.1h-2.2zM115.9 286.1h3.2v2.1h-3.2zM120.9 286.1h1.2v2.1h-1.2zM149.1 286.1h1.2v2.1h-1.2zM153.1 286.1h1.2v2.1h-1.2zM73.7 288.0h1.2v2.1h-1.2zM76.7 288.0h1.2v2.1h-1.2zM82.8 288.0h1.2v2.1h-1.2zM107.9 288.0h3.2v2.1h-3.2zM115.9 288.0h1.2v2.1h-1.2zM117.9 288.0h1.2v2.1h-1.2zM73.7 290.0h1.2v2.1h-1.2zM75.7 290.0h1.2v2.1h-1.2zM79.7 290.0h1.2v2.1h-1.2zM82.8 290.0h1.2v2.1h-1.2zM108.9 290.0h1.2v2.1h-1.2zM111.9 290.0h1.2v2.1h-1.2zM72.7 292.0h1.2v2.1h-1.2zM77.7 292.0h2.2v2.1h-2.2zM83.8 292.0h1.2v2.1h-1.2zM87.8 292.0h1.2v2.1h-1.2zM91.8 292.0h1.2v2.1h-1.2zM117.9 292.0h1.2v2.1h-1.2zM153.1 292.0h1.2v2.1h-1.2zM72.7 294.0h1.2v2.1h-1.2zM75.7 294.0h5.2v2.1h-5.2zM92.8 294.0h1.2v2.1h-1.2zM104.9 294.0h1.2v2.1h-1.2zM107.9 294.0h1.2v2.1h-1.2zM110.9 294.0h1.2v2.1h-1.2zM112.9 294.0h1.2v2.1h-1.2zM118.9 294.0h1.2v2.1h-1.2zM149.1 294.0h1.2v2.1h-1.2zM75.7 296.0h1.2v2.1h-1.2zM82.8 296.0h1.2v2.1h-1.2zM88.8 296.0h1.2v2.1h-1.2zM91.8 296.0h1.2v2.1h-1.2zM99.8 296.0h1.2v2.1h-1.2zM104.9 296.0h1.2v2.1h-1.2zM115.9 296.0h1.2v2.1h-1.2zM149.1 296.0h1.2v2.1h-1.2zM153.1 296.0h1.2v2.1h-1.2zM71.7 298.0h1.2v2.1h-1.2zM76.7 298.0h1.2v2.1h-1.2zM95.8 298.0h1.2v2.1h-1.2zM109.9 298.0h1.2v2.1h-1.2zM111.9 298.0h1.2v2.1h-1.2zM117.9 298.0h1.2v2.1h-1.2zM79.7 300.0h1.2v2.1h-1.2zM82.8 300.0h1.2v2.1h-1.2zM86.8 300.0h1.2v2.1h-1.2zM104.9 300.0h1.2v2.1h-1.2zM108.9 300.0h1.2v2.1h-1.2zM115.9 300.0h1.2v2.1h-1.2zM120.9 300.0h1.2v2.1h-1.2zM150.1 300.0h1.2v2.1h-1.2zM72.7 302.0h1.2v2.1h-1.2zM80.7 302.0h1.2v2.1h-1.2zM104.9 302.0h1.2v2.1h-1.2zM115.9 302.0h1.2v2.1h-1.2zM88.8 304.0h1.2v2.1h-1.2zM92.8 304.0h1.2v2.1h-1.2zM115.9 304.0h1.2v2.1h-1.2zM79.7 305.9h1.2v2.1h-1.2zM82.8 305.9h1.2v2.1h-1.2zM90.8 305.9h1.2v2.1h-1.2zM103.8 305.9h1.2v2.1h-1.2zM114.9 305.9h1.2v2.1h-1.2zM72.7 307.9h1.2v2.1h-1.2zM76.7 307.9h1.2v2.1h-1.2zM81.7 307.9h1.2v2.1h-1.2zM84.8 307.9h1.2v2.1h-1.2zM90.8 307.9h1.2v2.1h-1.2zM96.8 307.9h1.2v2.1h-1.2zM154.1 307.9h1.2v2.1h-1.2zM76.7 309.9h1.2v2.1h-1.2zM80.7 309.9h1.2v2.1h-1.2zM88.8 309.9h1.2v2.1h-1.2zM105.9 309.9h1.2v2.1h-1.2zM108.9 309.9h1.2v2.1h-1.2zM113.9 309.9h1.2v2.1h-1.2zM117.9 309.9h1.2v2.1h-1.2zM71.7 311.9h1.2v2.1h-1.2zM76.7 311.9h1.2v2.1h-1.2zM82.8 311.9h1.2v2.1h-1.2zM86.8 311.9h1.2v2.1h-1.2zM90.8 311.9h1.2v2.1h-1.2zM96.8 311.9h1.2v2.1h-1.2zM98.8 311.9h1.2v2.1h-1.2zM107.9 311.9h1.2v2.1h-1.2zM110.9 311.9h1.2v2.1h-1.2zM115.9 311.9h2.2v2.1h-2.2zM126.0 311.9h1.2v2.1h-1.2zM154.1 311.9h1.2v2.1h-1.2zM71.7 313.9h1.2v2.1h-1.2zM76.7 313.9h1.2v2.1h-1.2zM80.7 313.9h1.2v2.1h-1.2zM90.8 313.9h1.2v2.1h-1.2zM96.8 313.9h1.2v2.1h-1.2zM107.9 313.9h1.2v2.1h-1.2zM109.9 313.9h1.2v2.1h-1.2zM74.7 315.9h1.2v2.1h-1.2zM103.8 315.9h1.2v2.1h-1.2zM120.9 315.9h1.2v2.1h-1.2zM81.7 317.9h1.2v2.1h-1.2zM126.0 317.9h2.2v2.1h-2.2zM130.0 317.9h1.2v2.1h-1.2zM90.8 319.9h1.2v2.1h-1.2zM128.0 319.9h1.2v2.1h-1.2zM80.7 321.8h1.2v2.1h-1.2zM121.9 321.8h1.2v2.1h-1.2zM127.0 321.8h3.2v2.1h-3.2zM123.9 323.8h2.2v2.1h-2.2zM129.0 323.8h2.2v2.1h-2.2zM135.0 323.8h1.2v2.1h-1.2zM141.0 323.8h1.2v2.1h-1.2zM90.8 325.8h1.2v2.1h-1.2zM121.9 325.8h2.2v2.1h-2.2zM128.0 325.8h1.2v2.1h-1.2zM149.1 325.8h1.2v2.1h-1.2zM98.8 327.8h1.2v2.1h-1.2zM96.8 329.8h1.2v2.1h-1.2zM122.9 329.8h1.2v2.1h-1.2zM129.0 329.8h1.2v2.1h-1.2zM94.8 331.8h1.2v2.1h-1.2zM123.9 331.8h1.2v2.1h-1.2zM127.0 331.8h1.2v2.1h-1.2zM76.7 333.8h1.2v2.1h-1.2zM80.7 333.8h1.2v2.1h-1.2zM127.0 333.8h1.2v2.1h-1.2zM74.7 335.8h1.2v2.1h-1.2zM92.8 335.8h1.2v2.1h-1.2zM95.8 335.8h1.2v2.1h-1.2zM123.9 335.8h1.2v2.1h-1.2zM145.0 335.8h1.2v2.1h-1.2zM99.8 337.7h1.2v2.1h-1.2zM121.9 337.7h1.2v2.1h-1.2zM140.0 337.7h1.2v2.1h-1.2zM152.1 337.7h2.2v2.1h-2.2zM104.9 341.7h1.2v2.1h-1.2zM132.0 343.7h1.2v2.1h-1.2zM77.7 347.7h1.2v2.1h-1.2zM79.7 347.7h1.2v2.1h-1.2zM98.8 347.7h1.2v2.1h-1.2zM112.9 347.7h1.2v2.1h-1.2zM80.7 349.7h1.2v2.1h-1.2zM82.8 349.7h1.2v2.1h-1.2zM71.7 351.7h1.2v2.1h-1.2zM76.7 351.7h1.2v2.1h-1.2zM83.8 351.7h1.2v2.1h-1.2zM119.9 351.7h1.2v2.1h-1.2zM104.9 353.6h1.2v2.1h-1.2zM141.0 353.6h1.2v2.1h-1.2zM78.7 355.6h1.2v2.1h-1.2zM81.7 355.6h1.2v2.1h-1.2zM97.8 355.6h2.2v2.1h-2.2zM97.8 357.6h1.2v2.1h-1.2zM98.8 359.6h1.2v2.1h-1.2z"/>
<path shape-rendering="crispEdges" fill="#2b5e93" d="M72.7 230.4h1.2v2.1h-1.2zM77.7 230.4h1.2v2.1h-1.2zM105.9 230.4h1.2v2.1h-1.2zM128.0 230.4h1.2v2.1h-1.2zM130.0 230.4h1.2v2.1h-1.2zM137.0 230.4h1.2v2.1h-1.2zM142.0 230.4h1.2v2.1h-1.2zM145.0 230.4h1.2v2.1h-1.2zM157.1 230.4h1.2v2.1h-1.2zM83.8 232.4h1.2v2.1h-1.2zM105.9 232.4h1.2v2.1h-1.2zM112.9 232.4h1.2v2.1h-1.2zM141.0 232.4h1.2v2.1h-1.2zM155.1 232.4h1.2v2.1h-1.2zM78.7 234.4h1.2v2.1h-1.2zM103.8 234.4h1.2v2.1h-1.2zM110.9 234.4h1.2v2.1h-1.2zM126.0 234.4h1.2v2.1h-1.2zM141.0 234.4h2.2v2.1h-2.2zM146.0 234.4h1.2v2.1h-1.2zM154.1 234.4h1.2v2.1h-1.2zM156.1 234.4h1.2v2.1h-1.2zM77.7 236.4h1.2v2.1h-1.2zM80.7 236.4h1.2v2.1h-1.2zM106.9 236.4h1.2v2.1h-1.2zM124.9 236.4h1.2v2.1h-1.2zM128.0 236.4h2.2v2.1h-2.2zM141.0 236.4h1.2v2.1h-1.2zM80.7 238.4h1.2v2.1h-1.2zM112.9 238.4h1.2v2.1h-1.2zM130.0 238.4h1.2v2.1h-1.2zM144.0 238.4h1.2v2.1h-1.2zM148.1 238.4h1.2v2.1h-1.2zM156.1 238.4h1.2v2.1h-1.2zM75.7 240.3h1.2v2.1h-1.2zM110.9 240.3h2.2v2.1h-2.2zM138.0 240.3h1.2v2.1h-1.2zM141.0 240.3h1.2v2.1h-1.2zM145.0 240.3h1.2v2.1h-1.2zM107.9 242.3h3.2v2.1h-3.2zM115.9 242.3h1.2v2.1h-1.2zM122.9 242.3h1.2v2.1h-1.2zM140.0 242.3h1.2v2.1h-1.2zM149.1 242.3h1.2v2.1h-1.2zM156.1 242.3h1.2v2.1h-1.2zM79.7 244.3h1.2v2.1h-1.2zM108.9 244.3h2.2v2.1h-2.2zM124.9 244.3h1.2v2.1h-1.2zM130.0 244.3h1.2v2.1h-1.2zM79.7 246.3h1.2v2.1h-1.2zM82.8 246.3h1.2v2.1h-1.2zM84.8 246.3h1.2v2.1h-1.2zM103.8 246.3h1.2v2.1h-1.2zM121.9 246.3h1.2v2.1h-1.2zM123.9 246.3h2.2v2.1h-2.2zM156.1 246.3h1.2v2.1h-1.2zM106.9 248.3h3.2v2.1h-3.2zM145.0 248.3h1.2v2.1h-1.2zM153.1 248.3h1.2v2.1h-1.2zM155.1 248.3h1.2v2.1h-1.2zM97.8 250.3h1.2v2.1h-1.2zM109.9 250.3h1.2v2.1h-1.2zM118.9 250.3h1.2v2.1h-1.2zM130.0 250.3h1.2v2.1h-1.2zM148.1 250.3h1.2v2.1h-1.2zM96.8 252.3h1.2v2.1h-1.2zM98.8 252.3h1.2v2.1h-1.2zM103.8 252.3h1.2v2.1h-1.2zM108.9 252.3h1.2v2.1h-1.2zM122.9 252.3h1.2v2.1h-1.2zM130.0 252.3h1.2v2.1h-1.2zM140.0 252.3h1.2v2.1h-1.2zM142.0 252.3h1.2v2.1h-1.2zM150.1 252.3h1.2v2.1h-1.2zM153.1 252.3h1.2v2.1h-1.2zM106.9 254.3h2.2v2.1h-2.2zM109.9 254.3h1.2v2.1h-1.2zM112.9 254.3h1.2v2.1h-1.2zM129.0 254.3h2.2v2.1h-2.2zM149.1 254.3h1.2v2.1h-1.2zM140.0 256.2h1.2v2.1h-1.2zM142.0 256.2h1.2v2.1h-1.2zM156.1 256.2h1.2v2.1h-1.2zM101.8 258.2h1.2v2.1h-1.2zM104.9 258.2h1.2v2.1h-1.2zM112.9 258.2h1.2v2.1h-1.2zM127.0 258.2h2.2v2.1h-2.2zM130.0 258.2h1.2v2.1h-1.2zM141.0 258.2h1.2v2.1h-1.2zM154.1 258.2h1.2v2.1h-1.2zM109.9 260.2h1.2v2.1h-1.2zM155.1 260.2h1.2v2.1h-1.2zM109.9 262.2h1.2v2.1h-1.2zM126.0 262.2h3.2v2.1h-3.2zM137.0 262.2h1.2v2.1h-1.2zM103.8 264.2h2.2v2.1h-2.2zM108.9 264.2h1.2v2.1h-1.2zM111.9 264.2h1.2v2.1h-1.2zM121.9 264.2h1.2v2.1h-1.2zM129.0 264.2h1.2v2.1h-1.2zM143.0 264.2h1.2v2.1h-1.2zM155.1 264.2h1.2v2.1h-1.2zM121.9 266.2h1.2v2.1h-1.2zM127.0 266.2h1.2v2.1h-1.2zM99.8 268.2h1.2v2.1h-1.2zM106.9 268.2h1.2v2.1h-1.2zM108.9 268.2h1.2v2.1h-1.2zM123.9 268.2h1.2v2.1h-1.2zM128.0 268.2h1.2v2.1h-1.2zM103.8 270.2h1.2v2.1h-1.2zM112.9 270.2h1.2v2.1h-1.2zM127.0 270.2h1.2v2.1h-1.2zM129.0 270.2h1.2v2.1h-1.2zM142.0 270.2h1.2v2.1h-1.2zM72.7 272.1h1.2v2.1h-1.2zM77.7 272.1h1.2v2.1h-1.2zM80.7 272.1h1.2v2.1h-1.2zM87.8 272.1h2.2v2.1h-2.2zM101.8 272.1h1.2v2.1h-1.2zM104.9 272.1h1.2v2.1h-1.2zM106.9 272.1h1.2v2.1h-1.2zM111.9 272.1h1.2v2.1h-1.2zM113.9 272.1h1.2v2.1h-1.2zM117.9 272.1h1.2v2.1h-1.2zM119.9 272.1h1.2v2.1h-1.2zM135.0 272.1h1.2v2.1h-1.2zM149.1 272.1h1.2v2.1h-1.2zM153.1 272.1h1.2v2.1h-1.2zM77.7 274.1h1.2v2.1h-1.2zM80.7 274.1h1.2v2.1h-1.2zM82.8 274.1h1.2v2.1h-1.2zM89.8 274.1h1.2v2.1h-1.2zM107.9 274.1h1.2v2.1h-1.2zM112.9 274.1h1.2v2.1h-1.2zM120.9 274.1h1.2v2.1h-1.2zM146.0 274.1h1.2v2.1h-1.2zM150.1 274.1h1.2v2.1h-1.2zM153.1 274.1h1.2v2.1h-1.2zM71.7 276.1h1.2v2.1h-1.2zM73.7 276.1h1.2v2.1h-1.2zM82.8 276.1h1.2v2.1h-1.2zM85.8 276.1h1.2v2.1h-1.2zM87.8 276.1h1.2v2.1h-1.2zM89.8 276.1h1.2v2.1h-1.2zM149.1 276.1h1.2v2.1h-1.2zM154.1 276.1h1.2v2.1h-1.2zM156.1 276.1h1.2v2.1h-1.2zM103.8 278.1h1.2v2.1h-1.2zM149.1 278.1h1.2v2.1h-1.2zM77.7 280.1h1.2v2.1h-1.2zM81.7 280.1h1.2v2.1h-1.2zM85.8 280.1h1.2v2.1h-1.2zM89.8 280.1h1.2v2.1h-1.2zM95.8 280.1h1.2v2.1h-1.2zM99.8 280.1h2.2v2.1h-2.2zM106.9 280.1h1.2v2.1h-1.2zM110.9 280.1h1.2v2.1h-1.2zM116.9 280.1h2.2v2.1h-2.2zM120.9 280.1h1.2v2.1h-1.2zM71.7 282.1h1.2v2.1h-1.2zM105.9 282.1h1.2v2.1h-1.2zM107.9 282.1h1.2v2.1h-1.2zM115.9 282.1h1.2v2.1h-1.2zM119.9 282.1h1.2v2.1h-1.2zM143.0 282.1h1.2v2.1h-1.2zM149.1 282.1h1.2v2.1h-1.2zM78.7 284.1h1.2v2.1h-1.2zM81.7 284.1h1.2v2.1h-1.2zM88.8 284.1h3.2v2.1h-3.2zM94.8 284.1h1.2v2.1h-1.2zM103.8 284.1h1.2v2.1h-1.2zM106.9 284.1h1.2v2.1h-1.2zM110.9 284.1h1.2v2.1h-1.2zM150.1 284.1h1.2v2.1h-1.2zM73.7 286.1h1.2v2.1h-1.2zM78.7 286.1h1.2v2.1h-1.2zM80.7 286.1h1.2v2.1h-1.2zM83.8 286.1h1.2v2.1h-1.2zM87.8 286.1h1.2v2.1h-1.2zM92.8 286.1h1.2v2.1h-1.2zM105.9 286.1h1.2v2.1h-1.2zM112.9 286.1h2.2v2.1h-2.2zM119.9 286.1h1.2v2.1h-1.2zM137.0 286.1h1.2v2.1h-1.2zM148.1 286.1h1.2v2.1h-1.2zM77.7 288.0h1.2v2.1h-1.2zM84.8 288.0h1.2v2.1h-1.2zM90.8 288.0h1.2v2.1h-1.2zM97.8 288.0h1.2v2.1h-1.2zM104.9 288.0h1.2v2.1h-1.2zM112.9 288.0h1.2v2.1h-1.2zM114.9 288.0h1.2v2.1h-1.2zM116.9 288.0h1.2v2.1h-1.2zM142.0 288.0h2.2v2.1h-2.2zM72.7 290.0h1.2v2.1h-1.2zM76.7 290.0h2.2v2.1h-2.2zM87.8 290.0h1.2v2.1h-1.2zM90.8 290.0h1.2v2.1h-1.2zM93.8 290.0h1.2v2.1h-1.2zM97.8 290.0h1.2v2.1h-1.2zM113.9 290.0h1.2v2.1h-1.2zM115.9 290.0h1.2v2.1h-1.2zM117.9 290.0h3.2v2.1h-3.2zM130.0 290.0h1.2v2.1h-1.2zM147.0 290.0h1.2v2.1h-1.2zM149.1 290.0h1.2v2.1h-1.2zM152.1 290.0h1.2v2.1h-1.2zM156.1 290.0h1.2v2.1h-1.2zM76.7 292.0h1.2v2.1h-1.2zM79.7 292.0h1.2v2.1h-1.2zM84.8 292.0h1.2v2.1h-1.2zM89.8 292.0h2.2v2.1h-2.2zM97.8 292.0h1.2v2.1h-1.2zM105.9 292.0h1.2v2.1h-1.2zM112.9 292.0h2.2v2.1h-2.2zM119.9 292.0h1.2v2.1h-1.2zM145.0 292.0h2.2v2.1h-2.2zM156.1 292.0h1.2v2.1h-1.2zM81.7 294.0h3.2v2.1h-3.2zM90.8 294.0h1.2v2.1h-1.2zM103.8 294.0h1.2v2.1h-1.2zM148.1 294.0h1.2v2.1h-1.2zM152.1 294.0h1.2v2.1h-1.2zM78.7 296.0h1.2v2.1h-1.2zM80.7 296.0h1.2v2.1h-1.2zM83.8 296.0h2.2v2.1h-2.2zM86.8 296.0h1.2v2.1h-1.2zM90.8 296.0h1.2v2.1h-1.2zM98.8 296.0h1.2v2.1h-1.2zM107.9 296.0h1.2v2.1h-1.2zM109.9 296.0h2.2v2.1h-2.2zM114.9 296.0h1.2v2.1h-1.2zM145.0 296.0h1.2v2.1h-1.2zM150.1 296.0h1.2v2.1h-1.2zM152.1 296.0h1.2v2.1h-1.2zM77.7 298.0h2.2v2.1h-2.2zM80.7 298.0h1.2v2.1h-1.2zM83.8 298.0h1.2v2.1h-1.2zM88.8 298.0h1.2v2.1h-1.2zM90.8 298.0h1.2v2.1h-1.2zM105.9 298.0h1.2v2.1h-1.2zM107.9 298.0h1.2v2.1h-1.2zM140.0 298.0h1.2v2.1h-1.2zM153.1 298.0h1.2v2.1h-1.2zM156.1 298.0h1.2v2.1h-1.2zM71.7 300.0h1.2v2.1h-1.2zM74.7 300.0h1.2v2.1h-1.2zM77.7 300.0h1.2v2.1h-1.2zM83.8 300.0h1.2v2.1h-1.2zM95.8 300.0h1.2v2.1h-1.2zM103.8 300.0h1.2v2.1h-1.2zM105.9 300.0h1.2v2.1h-1.2zM109.9 300.0h2.2v2.1h-2.2zM112.9 300.0h1.2v2.1h-1.2zM119.9 300.0h1.2v2.1h-1.2zM146.0 300.0h1.2v2.1h-1.2zM75.7 302.0h1.2v2.1h-1.2zM82.8 302.0h1.2v2.1h-1.2zM85.8 302.0h1.2v2.1h-1.2zM97.8 302.0h1.2v2.1h-1.2zM72.7 304.0h1.2v2.1h-1.2zM76.7 304.0h1.2v2.1h-1.2zM78.7 304.0h2.2v2.1h-2.2zM107.9 304.0h2.2v2.1h-2.2zM120.9 304.0h1.2v2.1h-1.2zM149.1 304.0h1.2v2.1h-1.2zM153.1 304.0h1.2v2.1h-1.2zM157.1 304.0h1.2v2.1h-1.2zM71.7 305.9h1.2v2.1h-1.2zM76.7 305.9h1.2v2.1h-1.2zM84.8 305.9h1.2v2.1h-1.2zM88.8 305.9h2.2v2.1h-2.2zM92.8 305.9h1.2v2.1h-1.2zM105.9 305.9h1.2v2.1h-1.2zM107.9 305.9h1.2v2.1h-1.2zM154.1 305.9h1.2v2.1h-1.2zM77.7 307.9h2.2v2.1h-2.2zM83.8 307.9h1.2v2.1h-1.2zM88.8 307.9h1.2v2.1h-1.2zM111.9 307.9h1.2v2.1h-1.2zM115.9 307.9h1.2v2.1h-1.2zM123.9 307.9h1.2v2.1h-1.2zM142.0 307.9h1.2v2.1h-1.2zM75.7 309.9h1.2v2.1h-1.2zM81.7 309.9h2.2v2.1h-2.2zM84.8 309.9h1.2v2.1h-1.2zM89.8 309.9h1.2v2.1h-1.2zM99.8 309.9h1.2v2.1h-1.2zM103.8 309.9h2.2v2.1h-2.2zM112.9 309.9h1.2v2.1h-1.2zM146.0 309.9h1.2v2.1h-1.2zM150.1 309.9h1.2v2.1h-1.2zM80.7 311.9h1.2v2.1h-1.2zM88.8 311.9h1.2v2.1h-1.2zM106.9 311.9h1.2v2.1h-1.2zM149.1 311.9h2.2v2.1h-2.2zM78.7 313.9h1.2v2.1h-1.2zM82.8 313.9h1.2v2.1h-1.2zM87.8 313.9h1.2v2.1h-1.2zM95.8 313.9h1.2v2.1h-1.2zM114.9 313.9h1.2v2.1h-1.2zM118.9 313.9h1.2v2.1h-1.2zM145.0 313.9h1.2v2.1h-1.2zM156.1 313.9h1.2v2.1h-1.2zM83.8 315.9h1.2v2.1h-1.2zM87.8 315.9h1.2v2.1h-1.2zM109.9 315.9h1.2v2.1h-1.2zM117.9 315.9h1.2v2.1h-1.2zM119.9 315.9h1.2v2.1h-1.2zM154.1 315.9h1.2v2.1h-1.2zM82.8 317.9h1.2v2.1h-1.2zM86.8 317.9h1.2v2.1h-1.2zM95.8 317.9h2.2v2.1h-2.2zM98.8 317.9h1.2v2.1h-1.2zM102.8 317.9h1.2v2.1h-1.2zM129.0 317.9h1.2v2.1h-1.2zM148.1 317.9h1.2v2.1h-1.2zM82.8 319.9h1.2v2.1h-1.2zM126.0 319.9h2.2v2.1h-2.2zM129.0 319.9h1.2v2.1h-1.2zM78.7 321.8h1.2v2.1h-1.2zM93.8 321.8h1.2v2.1h-1.2zM95.8 321.8h2.2v2.1h-2.2zM123.9 321.8h1.2v2.1h-1.2zM140.0 321.8h1.2v2.1h-1.2zM80.7 323.8h1.2v2.1h-1.2zM88.8 323.8h1.2v2.1h-1.2zM99.8 323.8h1.2v2.1h-1.2zM121.9 323.8h1.2v2.1h-1.2zM146.0 323.8h1.2v2.1h-1.2zM152.1 323.8h1.2v2.1h-1.2zM78.7 325.8h1.2v2.1h-1.2zM85.8 325.8h1.2v2.1h-1.2zM89.8 325.8h1.2v2.1h-1.2zM94.8 325.8h1.2v2.1h-1.2zM126.0 325.8h1.2v2.1h-1.2zM129.0 325.8h1.2v2.1h-1.2zM142.0 325.8h1.2v2.1h-1.2zM148.1 325.8h1.2v2.1h-1.2zM77.7 327.8h1.2v2.1h-1.2zM91.8 327.8h1.2v2.1h-1.2zM102.8 327.8h1.2v2.1h-1.2zM126.0 327.8h2.2v2.1h-2.2zM129.0 327.8h1.2v2.1h-1.2zM135.0 327.8h1.2v2.1h-1.2zM140.0 327.8h2.2v2.1h-2.2zM153.1 327.8h1.2v2.1h-1.2zM79.7 329.8h1.2v2.1h-1.2zM87.8 329.8h1.2v2.1h-1.2zM95.8 329.8h1.2v2.1h-1.2zM99.8 329.8h1.2v2.1h-1.2zM121.9 329.8h1.2v2.1h-1.2zM127.0 329.8h2.2v2.1h-2.2zM131.0 329.8h1.2v2.1h-1.2zM143.0 329.8h1.2v2.1h-1.2zM151.1 329.8h1.2v2.1h-1.2zM153.1 329.8h1.2v2.1h-1.2zM91.8 331.8h1.2v2.1h-1.2zM145.0 331.8h1.2v2.1h-1.2zM152.1 331.8h2.2v2.1h-2.2zM78.7 333.8h1.2v2.1h-1.2zM88.8 333.8h1.2v2.1h-1.2zM90.8 333.8h1.2v2.1h-1.2zM100.8 333.8h1.2v2.1h-1.2zM78.7 335.8h1.2v2.1h-1.2zM84.8 335.8h1.2v2.1h-1.2zM94.8 335.8h1.2v2.1h-1.2zM128.0 335.8h1.2v2.1h-1.2zM130.0 335.8h1.2v2.1h-1.2zM79.7 337.7h1.2v2.1h-1.2zM86.8 337.7h1.2v2.1h-1.2zM93.8 337.7h1.2v2.1h-1.2zM98.8 337.7h1.2v2.1h-1.2zM100.8 337.7h1.2v2.1h-1.2zM122.9 337.7h1.2v2.1h-1.2zM126.0 337.7h1.2v2.1h-1.2zM129.0 337.7h1.2v2.1h-1.2zM143.0 337.7h1.2v2.1h-1.2zM156.1 339.7h1.2v2.1h-1.2zM82.8 341.7h1.2v2.1h-1.2zM99.8 341.7h1.2v2.1h-1.2zM115.9 341.7h1.2v2.1h-1.2zM142.0 341.7h1.2v2.1h-1.2zM78.7 345.7h1.2v2.1h-1.2zM80.7 345.7h1.2v2.1h-1.2zM82.8 345.7h1.2v2.1h-1.2zM99.8 345.7h2.2v2.1h-2.2zM103.8 345.7h1.2v2.1h-1.2zM121.9 345.7h1.2v2.1h-1.2zM145.0 345.7h1.2v2.1h-1.2zM152.1 345.7h1.2v2.1h-1.2zM83.8 347.7h1.2v2.1h-1.2zM141.0 347.7h1.2v2.1h-1.2zM145.0 347.7h1.2v2.1h-1.2zM148.1 347.7h1.2v2.1h-1.2zM75.7 349.7h1.2v2.1h-1.2zM90.8 349.7h1.2v2.1h-1.2zM99.8 349.7h1.2v2.1h-1.2zM121.9 349.7h1.2v2.1h-1.2zM128.0 349.7h1.2v2.1h-1.2zM77.7 351.7h1.2v2.1h-1.2zM80.7 351.7h1.2v2.1h-1.2zM84.8 351.7h1.2v2.1h-1.2zM88.8 351.7h1.2v2.1h-1.2zM100.8 351.7h1.2v2.1h-1.2zM121.9 351.7h1.2v2.1h-1.2zM126.0 351.7h1.2v2.1h-1.2zM141.0 351.7h1.2v2.1h-1.2zM145.0 351.7h1.2v2.1h-1.2zM153.1 351.7h1.2v2.1h-1.2zM71.7 353.6h1.2v2.1h-1.2zM78.7 353.6h1.2v2.1h-1.2zM80.7 353.6h1.2v2.1h-1.2zM90.8 353.6h1.2v2.1h-1.2zM153.1 353.6h1.2v2.1h-1.2zM71.7 355.6h1.2v2.1h-1.2zM77.7 355.6h1.2v2.1h-1.2zM80.7 355.6h1.2v2.1h-1.2zM84.8 355.6h2.2v2.1h-2.2zM90.8 355.6h1.2v2.1h-1.2zM95.8 355.6h1.2v2.1h-1.2zM99.8 355.6h1.2v2.1h-1.2zM106.9 355.6h1.2v2.1h-1.2zM126.0 355.6h1.2v2.1h-1.2zM140.0 355.6h1.2v2.1h-1.2zM153.1 355.6h1.2v2.1h-1.2zM156.1 355.6h1.2v2.1h-1.2zM84.8 357.6h2.2v2.1h-2.2zM92.8 357.6h1.2v2.1h-1.2zM95.8 357.6h1.2v2.1h-1.2zM108.9 357.6h1.2v2.1h-1.2zM112.9 357.6h1.2v2.1h-1.2zM138.0 357.6h1.2v2.1h-1.2zM71.7 359.6h1.2v2.1h-1.2zM73.7 359.6h1.2v2.1h-1.2zM82.8 359.6h2.2v2.1h-2.2zM91.8 359.6h2.2v2.1h-2.2zM112.9 359.6h1.2v2.1h-1.2zM115.9 359.6h1.2v2.1h-1.2zM118.9 359.6h1.2v2.1h-1.2zM126.0 359.6h1.2v2.1h-1.2zM141.0 359.6h1.2v2.1h-1.2zM145.0 359.6h1.2v2.1h-1.2z"/>
<path shape-rendering="crispEdges" fill="#287192" d="M83.8 230.4h2.2v2.1h-2.2zM109.9 230.4h1.2v2.1h-1.2zM115.9 230.4h1.2v2.1h-1.2zM124.9 230.4h1.2v2.1h-1.2zM133.0 230.4h1.2v2.1h-1.2zM135.0 230.4h1.2v2.1h-1.2zM148.1 230.4h1.2v2.1h-1.2zM150.1 230.4h3.2v2.1h-3.2zM155.1 230.4h1.2v2.1h-1.2zM77.7 232.4h1.2v2.1h-1.2zM84.8 232.4h1.2v2.1h-1.2zM122.9 232.4h1.2v2.1h-1.2zM124.9 232.4h1.2v2.1h-1.2zM137.0 232.4h2.2v2.1h-2.2zM140.0 232.4h1.2v2.1h-1.2zM153.1 232.4h1.2v2.1h-1.2zM75.7 234.4h1.2v2.1h-1.2zM106.9 234.4h2.2v2.1h-2.2zM109.9 234.4h1.2v2.1h-1.2zM115.9 234.4h1.2v2.1h-1.2zM117.9 234.4h1.2v2.1h-1.2zM119.9 234.4h1.2v2.1h-1.2zM130.0 234.4h1.2v2.1h-1.2zM148.1 234.4h1.2v2.1h-1.2zM152.1 234.4h2.2v2.1h-2.2zM71.7 236.4h1.2v2.1h-1.2zM82.8 236.4h1.2v2.1h-1.2zM111.9 236.4h1.2v2.1h-1.2zM137.0 236.4h1.2v2.1h-1.2zM142.0 236.4h1.2v2.1h-1.2zM146.0 236.4h1.2v2.1h-1.2zM157.1 236.4h1.2v2.1h-1.2zM71.7 238.4h1.2v2.1h-1.2zM74.7 238.4h1.2v2.1h-1.2zM76.7 238.4h1.2v2.1h-1.2zM81.7 238.4h2.2v2.1h-2.2zM84.8 238.4h1.2v2.1h-1.2zM107.9 238.4h1.2v2.1h-1.2zM115.9 238.4h1.2v2.1h-1.2zM117.9 238.4h1.2v2.1h-1.2zM133.0 238.4h1.2v2.1h-1.2zM135.0 238.4h1.2v2.1h-1.2zM145.0 238.4h1.2v2.1h-1.2zM80.7 240.3h1.2v2.1h-1.2zM106.9 240.3h1.2v2.1h-1.2zM108.9 240.3h1.2v2.1h-1.2zM115.9 240.3h1.2v2.1h-1.2zM122.9 240.3h1.2v2.1h-1.2zM131.0 240.3h1.2v2.1h-1.2zM156.1 240.3h1.2v2.1h-1.2zM75.7 242.3h1.2v2.1h-1.2zM80.7 242.3h1.2v2.1h-1.2zM82.8 242.3h1.2v2.1h-1.2zM105.9 242.3h1.2v2.1h-1.2zM118.9 242.3h1.2v2.1h-1.2zM123.9 242.3h1.2v2.1h-1.2zM128.0 242.3h1.2v2.1h-1.2zM141.0 242.3h1.2v2.1h-1.2zM144.0 242.3h1.2v2.1h-1.2zM155.1 242.3h1.2v2.1h-1.2zM75.7 244.3h1.2v2.1h-1.2zM80.7 244.3h2.2v2.1h-2.2zM103.8 244.3h1.2v2.1h-1.2zM110.9 244.3h1.2v2.1h-1.2zM114.9 244.3h1.2v2.1h-1.2zM137.0 244.3h1.2v2.1h-1.2zM140.0 244.3h2.2v2.1h-2.2zM153.1 244.3h1.2v2.1h-1.2zM157.1 244.3h1.2v2.1h-1.2zM77.7 246.3h1.2v2.1h-1.2zM113.9 246.3h1.2v2.1h-1.2zM119.9 246.3h1.2v2.1h-1.2zM129.0 246.3h1.2v2.1h-1.2zM137.0 246.3h1.2v2.1h-1.2zM140.0 246.3h1.2v2.1h-1.2zM145.0 246.3h1.2v2.1h-1.2zM155.1 246.3h1.2v2.1h-1.2zM81.7 248.3h1.2v2.1h-1.2zM112.9 248.3h1.2v2.1h-1.2zM115.9 248.3h1.2v2.1h-1.2zM122.9 248.3h1.2v2.1h-1.2zM133.0 248.3h1.2v2.1h-1.2zM142.0 248.3h2.2v2.1h-2.2zM149.1 248.3h1.2v2.1h-1.2zM93.8 250.3h1.2v2.1h-1.2zM98.8 250.3h1.2v2.1h-1.2zM104.9 250.3h1.2v2.1h-1.2zM106.9 250.3h1.2v2.1h-1.2zM131.0 250.3h1.2v2.1h-1.2zM141.0 250.3h1.2v2.1h-1.2zM152.1 250.3h1.2v2.1h-1.2zM154.1 250.3h1.2v2.1h-1.2zM86.8 252.3h1.2v2.1h-1.2zM93.8 252.3h1.2v2.1h-1.2zM102.8 252.3h1.2v2.1h-1.2zM105.9 252.3h1.2v2.1h-1.2zM128.0 252.3h2.2v2.1h-2.2zM137.0 252.3h1.2v2.1h-1.2zM145.0 252.3h1.2v2.1h-1.2zM156.1 252.3h1.2v2.1h-1.2zM105.9 254.3h1.2v2.1h-1.2zM117.9 254.3h1.2v2.1h-1.2zM141.0 254.3h2.2v2.1h-2.2zM150.1 254.3h1.2v2.1h-1.2zM104.9 256.2h1.2v2.1h-1.2zM108.9 256.2h1.2v2.1h-1.2zM123.9 256.2h1.2v2.1h-1.2zM129.0 256.2h1.2v2.1h-1.2zM152.1 256.2h1.2v2.1h-1.2zM87.8 258.2h2.2v2.1h-2.2zM106.9 258.2h4.2v2.1h-4.2zM111.9 258.2h1.2v2.1h-1.2zM114.9 258.2h1.2v2.1h-1.2zM117.9 258.2h1.2v2.1h-1.2zM131.0 258.2h1.2v2.1h-1.2zM139.0 258.2h1.2v2.1h-1.2zM142.0 258.2h2.2v2.1h-2.2zM149.1 258.2h1.2v2.1h-1.2zM156.1 258.2h1.2v2.1h-1.2zM103.8 260.2h1.2v2.1h-1.2zM105.9 260.2h1.2v2.1h-1.2zM108.9 260.2h1.2v2.1h-1.2zM112.9 260.2h1.2v2.1h-1.2zM117.9 260.2h1.2v2.1h-1.2zM122.9 260.2h6.2v2.1h-6.2zM142.0 260.2h2.2v2.1h-2.2zM145.0 260.2h1.2v2.1h-1.2zM153.1 260.2h1.2v2.1h-1.2zM156.1 260.2h1.2v2.1h-1.2zM94.8 262.2h1.2v2.1h-1.2zM104.9 262.2h1.2v2.1h-1.2zM106.9 262.2h1.2v2.1h-1.2zM122.9 262.2h1.2v2.1h-1.2zM145.0 262.2h1.2v2.1h-1.2zM97.8 264.2h2.2v2.1h-2.2zM105.9 264.2h1.2v2.1h-1.2zM115.9 264.2h1.2v2.1h-1.2zM120.9 264.2h1.2v2.1h-1.2zM122.9 264.2h1.2v2.1h-1.2zM124.9 264.2h1.2v2.1h-1.2zM127.0 264.2h1.2v2.1h-1.2zM135.0 264.2h1.2v2.1h-1.2zM139.0 264.2h1.2v2.1h-1.2zM142.0 264.2h1.2v2.1h-1.2zM104.9 266.2h3.2v2.1h-3.2zM122.9 266.2h1.2v2.1h-1.2zM128.0 266.2h1.2v2.1h-1.2zM142.0 266.2h2.2v2.1h-2.2zM146.0 266.2h1.2v2.1h-1.2zM153.1 266.2h1.2v2.1h-1.2zM157.1 266.2h1.2v2.1h-1.2zM124.9 268.2h1.2v2.1h-1.2zM140.0 268.2h1.2v2.1h-1.2zM143.0 268.2h1.2v2.1h-1.2zM149.1 268.2h1.2v2.1h-1.2zM157.1 268.2h1.2v2.1h-1.2zM88.8 270.2h1.2v2.1h-1.2zM91.8 270.2h1.2v2.1h-1.2zM105.9 270.2h1.2v2.1h-1.2zM108.9 270.2h2.2v2.1h-2.2zM122.9 270.2h1.2v2.1h-1.2zM130.0 270.2h2.2v2.1h-2.2zM138.0 270.2h4.2v2.1h-4.2zM146.0 270.2h1.2v2.1h-1.2zM148.1 270.2h1.2v2.1h-1.2zM150.1 270.2h1.2v2.1h-1.2zM153.1 270.2h1.2v2.1h-1.2zM76.7 272.1h1.2v2.1h-1.2zM86.8 272.1h1.2v2.1h-1.2zM99.8 272.1h1.2v2.1h-1.2zM107.9 272.1h2.2v2.1h-2.2zM114.9 272.1h1.2v2.1h-1.2zM116.9 272.1h1.2v2.1h-1.2zM137.0 272.1h1.2v2.1h-1.2zM143.0 272.1h1.2v2.1h-1.2zM148.1 272.1h1.2v2.1h-1.2zM152.1 272.1h1.2v2.1h-1.2zM154.1 272.1h1.2v2.1h-1.2zM156.1 272.1h1.2v2.1h-1.2zM81.7 274.1h1.2v2.1h-1.2zM85.8 274.1h1.2v2.1h-1.2zM91.8 274.1h1.2v2.1h-1.2zM98.8 274.1h1.2v2.1h-1.2zM109.9 274.1h1.2v2.1h-1.2zM113.9 274.1h1.2v2.1h-1.2zM115.9 274.1h3.2v2.1h-3.2zM119.9 274.1h1.2v2.1h-1.2zM149.1 274.1h1.2v2.1h-1.2zM151.1 274.1h2.2v2.1h-2.2zM75.7 276.1h1.2v2.1h-1.2zM78.7 276.1h2.2v2.1h-2.2zM88.8 276.1h1.2v2.1h-1.2zM91.8 276.1h1.2v2.1h-1.2zM93.8 276.1h1.2v2.1h-1.2zM95.8 276.1h1.2v2.1h-1.2zM98.8 276.1h1.2v2.1h-1.2zM102.8 276.1h1.2v2.1h-1.2zM106.9 276.1h3.2v2.1h-3.2zM116.9 276.1h1.2v2.1h-1.2zM118.9 276.1h1.2v2.1h-1.2zM120.9 276.1h1.2v2.1h-1.2zM123.9 276.1h1.2v2.1h-1.2zM145.0 276.1h1.2v2.1h-1.2zM75.7 278.1h3.2v2.1h-3.2zM84.8 278.1h1.2v2.1h-1.2zM88.8 278.1h3.2v2.1h-3.2zM116.9 278.1h2.2v2.1h-2.2zM150.1 278.1h1.2v2.1h-1.2zM154.1 278.1h1.2v2.1h-1.2zM72.7 280.1h1.2v2.1h-1.2zM83.8 280.1h2.2v2.1h-2.2zM86.8 280.1h1.2v2.1h-1.2zM90.8 280.1h3.2v2.1h-3.2zM94.8 280.1h1.2v2.1h-1.2zM103.8 280.1h1.2v2.1h-1.2zM108.9 280.1h1.2v2.1h-1.2zM129.0 280.1h1.2v2.1h-1.2zM146.0 280.1h1.2v2.1h-1.2zM148.1 280.1h2.2v2.1h-2.2zM155.1 280.1h1.2v2.1h-1.2zM76.7 282.1h1.2v2.1h-1.2zM82.8 282.1h2.2v2.1h-2.2zM92.8 282.1h1.2v2.1h-1.2zM94.8 282.1h1.2v2.1h-1.2zM96.8 282.1h1.2v2.1h-1.2zM98.8 282.1h1.2v2.1h-1.2zM108.9 282.1h2.2v2.1h-2.2zM111.9 282.1h1.2v2.1h-1.2zM118.9 282.1h1.2v2.1h-1.2zM147.0 282.1h1.2v2.1h-1.2zM151.1 282.1h1.2v2.1h-1.2zM72.7 284.1h2.2v2.1h-2.2zM79.7 284.1h1.2v2.1h-1.2zM96.8 284.1h1.2v2.1h-1.2zM105.9 284.1h1.2v2.1h-1.2zM107.9 284.1h1.2v2.1h-1.2zM109.9 284.1h1.2v2.1h-1.2zM116.9 284.1h4.2v2.1h-4.2zM141.0 284.1h1.2v2.1h-1.2zM152.1 284.1h2.2v2.1h-2.2zM71.7 286.1h2.2v2.1h-2.2zM74.7 286.1h1.2v2.1h-1.2zM77.7 286.1h1.2v2.1h-1.2zM81.7 286.1h1.2v2.1h-1.2zM84.8 286.1h1.2v2.1h-1.2zM89.8 286.1h1.2v2.1h-1.2zM91.8 286.1h1.2v2.1h-1.2zM106.9 286.1h2.2v2.1h-2.2zM110.9 286.1h1.2v2.1h-1.2zM142.0 286.1h2.2v2.1h-2.2zM145.0 286.1h1.2v2.1h-1.2zM156.1 286.1h1.2v2.1h-1.2zM75.7 288.0h1.2v2.1h-1.2zM79.7 288.0h1.2v2.1h-1.2zM81.7 288.0h1.2v2.1h-1.2zM83.8 288.0h1.2v2.1h-1.2zM86.8 288.0h2.2v2.1h-2.2zM89.8 288.0h1.2v2.1h-1.2zM94.8 288.0h2.2v2.1h-2.2zM99.8 288.0h1.2v2.1h-1.2zM110.9 288.0h1.2v2.1h-1.2zM120.9 288.0h1.2v2.1h-1.2zM123.9 288.0h1.2v2.1h-1.2zM140.0 288.0h1.2v2.1h-1.2zM153.1 288.0h2.2v2.1h-2.2zM81.7 290.0h1.2v2.1h-1.2zM84.8 290.0h2.2v2.1h-2.2zM96.8 290.0h1.2v2.1h-1.2zM106.9 290.0h2.2v2.1h-2.2zM109.9 290.0h2.2v2.1h-2.2zM116.9 290.0h1.2v2.1h-1.2zM142.0 290.0h2.2v2.1h-2.2zM146.0 290.0h1.2v2.1h-1.2zM154.1 290.0h1.2v2.1h-1.2zM71.7 292.0h1.2v2.1h-1.2zM73.7 292.0h1.2v2.1h-1.2zM96.8 292.0h1.2v2.1h-1.2zM100.8 292.0h1.2v2.1h-1.2zM103.8 292.0h2.2v2.1h-2.2zM106.9 292.0h1.2v2.1h-1.2zM115.9 292.0h1.2v2.1h-1.2zM149.1 292.0h1.2v2.1h-1.2zM154.1 292.0h1.2v2.1h-1.2zM71.7 294.0h1.2v2.1h-1.2zM73.7 294.0h1.2v2.1h-1.2zM84.8 294.0h1.2v2.1h-1.2zM91.8 294.0h1.2v2.1h-1.2zM100.8 294.0h1.2v2.1h-1.2zM105.9 294.0h1.2v2.1h-1.2zM108.9 294.0h1.2v2.1h-1.2zM115.9 294.0h3.2v2.1h-3.2zM119.9 294.0h1.2v2.1h-1.2zM153.1 294.0h1.2v2.1h-1.2zM156.1 294.0h1.2v2.1h-1.2zM71.7 296.0h1.2v2.1h-1.2zM73.7 296.0h1.2v2.1h-1.2zM76.7 296.0h1.2v2.1h-1.2zM85.8 296.0h1.2v2.1h-1.2zM97.8 296.0h1.2v2.1h-1.2zM100.8 296.0h1.2v2.1h-1.2zM105.9 296.0h2.2v2.1h-2.2zM116.9 296.0h2.2v2.1h-2.2zM119.9 296.0h1.2v2.1h-1.2zM141.0 296.0h1.2v2.1h-1.2zM146.0 296.0h1.2v2.1h-1.2zM155.1 296.0h1.2v2.1h-1.2zM82.8 298.0h1.2v2.1h-1.2zM84.8 298.0h1.2v2.1h-1.2zM87.8 298.0h1.2v2.1h-1.2zM92.8 298.0h1.2v2.1h-1.2zM96.8 298.0h1.2v2.1h-1.2zM98.8 298.0h1.2v2.1h-1.2zM103.8 298.0h1.2v2.1h-1.2zM112.9 298.0h1.2v2.1h-1.2zM115.9 298.0h2.2v2.1h-2.2zM143.0 298.0h1.2v2.1h-1.2zM145.0 298.0h1.2v2.1h-1.2zM150.1 298.0h1.2v2.1h-1.2zM72.7 300.0h1.2v2.1h-1.2zM75.7 300.0h1.2v2.1h-1.2zM90.8 300.0h1.2v2.1h-1.2zM92.8 300.0h1.2v2.1h-1.2zM94.8 300.0h1.2v2.1h-1.2zM102.8 300.0h1.2v2.1h-1.2zM141.0 300.0h2.2v2.1h-2.2zM148.1 300.0h1.2v2.1h-1.2zM153.1 300.0h1.2v2.1h-1.2zM155.1 300.0h2.2v2.1h-2.2zM74.7 302.0h1.2v2.1h-1.2zM84.8 302.0h1.2v2.1h-1.2zM87.8 302.0h1.2v2.1h-1.2zM89.8 302.0h2.2v2.1h-2.2zM94.8 302.0h1.2v2.1h-1.2zM98.8 302.0h1.2v2.1h-1.2zM107.9 302.0h3.2v2.1h-3.2zM112.9 302.0h1.2v2.1h-1.2zM116.9 302.0h1.2v2.1h-1.2zM120.9 302.0h1.2v2.1h-1.2zM151.1 302.0h1.2v2.1h-1.2zM156.1 302.0h1.2v2.1h-1.2zM75.7 304.0h1.2v2.1h-1.2zM80.7 304.0h1.2v2.1h-1.2zM93.8 304.0h1.2v2.1h-1.2zM96.8 304.0h1.2v2.1h-1.2zM99.8 304.0h1.2v2.1h-1.2zM121.9 304.0h1.2v2.1h-1.2zM145.0 304.0h1.2v2.1h-1.2zM156.1 304.0h1.2v2.1h-1.2zM78.7 305.9h1.2v2.1h-1.2zM81.7 305.9h1.2v2.1h-1.2zM87.8 305.9h1.2v2.1h-1.2zM97.8 305.9h1.2v2.1h-1.2zM104.9 305.9h1.2v2.1h-1.2zM113.9 305.9h1.2v2.1h-1.2zM116.9 305.9h1.2v2.1h-1.2zM119.9 305.9h2.2v2.1h-2.2zM141.0 305.9h1.2v2.1h-1.2zM148.1 305.9h1.2v2.1h-1.2zM150.1 305.9h1.2v2.1h-1.2zM153.1 305.9h1.2v2.1h-1.2zM156.1 305.9h1.2v2.1h-1.2zM74.7 307.9h2.2v2.1h-2.2zM82.8 307.9h1.2v2.1h-1.2zM92.8 307.9h1.2v2.1h-1.2zM95.8 307.9h1.2v2.1h-1.2zM101.8 307.9h1.2v2.1h-1.2zM107.9 307.9h1.2v2.1h-1.2zM116.9 307.9h1.2v2.1h-1.2zM118.9 307.9h1.2v2.1h-1.2zM120.9 307.9h1.2v2.1h-1.2zM149.1 307.9h1.2v2.1h-1.2zM153.1 307.9h1.2v2.1h-1.2zM156.1 307.9h1.2v2.1h-1.2zM72.7 309.9h2.2v2.1h-2.2zM78.7 309.9h1.2v2.1h-1.2zM85.8 309.9h1.2v2.1h-1.2zM106.9 309.9h1.2v2.1h-1.2zM116.9 309.9h1.2v2.1h-1.2zM142.0 309.9h1.2v2.1h-1.2zM145.0 309.9h1.2v2.1h-1.2zM149.1 309.9h1.2v2.1h-1.2zM72.7 311.9h3.2v2.1h-3.2zM77.7 311.9h1.2v2.1h-1.2zM92.8 311.9h2.2v2.1h-2.2zM111.9 311.9h2.2v2.1h-2.2zM114.9 311.9h1.2v2.1h-1.2zM118.9 311.9h2.2v2.1h-2.2zM127.0 311.9h1.2v2.1h-1.2zM142.0 311.9h1.2v2.1h-1.2zM79.7 313.9h1.2v2.1h-1.2zM89.8 313.9h1.2v2.1h-1.2zM103.8 313.9h1.2v2.1h-1.2zM108.9 313.9h1.2v2.1h-1.2zM110.9 313.9h1.2v2.1h-1.2zM113.9 313.9h1.2v2.1h-1.2zM116.9 313.9h2.2v2.1h-2.2zM119.9 313.9h1.2v2.1h-1.2zM153.1 313.9h1.2v2.1h-1.2zM71.7 315.9h1.2v2.1h-1.2zM73.7 315.9h1.2v2.1h-1.2zM75.7 315.9h1.2v2.1h-1.2zM84.8 315.9h2.2v2.1h-2.2zM90.8 315.9h1.2v2.1h-1.2zM98.8 315.9h1.2v2.1h-1.2zM107.9 315.9h1.2v2.1h-1.2zM111.9 315.9h1.2v2.1h-1.2zM114.9 315.9h1.2v2.1h-1.2zM145.0 315.9h1.2v2.1h-1.2zM151.1 315.9h3.2v2.1h-3.2zM78.7 317.9h1.2v2.1h-1.2zM84.8 317.9h1.2v2.1h-1.2zM88.8 317.9h1.2v2.1h-1.2zM94.8 317.9h1.2v2.1h-1.2zM122.9 317.9h3.2v2.1h-3.2zM131.0 317.9h1.2v2.1h-1.2zM141.0 317.9h3.2v2.1h-3.2zM145.0 317.9h1.2v2.1h-1.2zM151.1 317.9h1.2v2.1h-1.2zM77.7 319.9h2.2v2.1h-2.2zM81.7 319.9h1.2v2.1h-1.2zM87.8 319.9h1.2v2.1h-1.2zM94.8 319.9h1.2v2.1h-1.2zM98.8 319.9h1.2v2.1h-1.2zM130.0 319.9h1.2v2.1h-1.2zM141.0 319.9h1.2v2.1h-1.2zM156.1 319.9h2.2v2.1h-2.2zM72.7 321.8h1.2v2.1h-1.2zM82.8 321.8h1.2v2.1h-1.2zM89.8 321.8h1.2v2.1h-1.2zM92.8 321.8h1.2v2.1h-1.2zM94.8 321.8h1.2v2.1h-1.2zM98.8 321.8h1.2v2.1h-1.2zM100.8 321.8h1.2v2.1h-1.2zM130.0 321.8h1.2v2.1h-1.2zM135.0 321.8h1.2v2.1h-1.2zM138.0 321.8h1.2v2.1h-1.2zM143.0 321.8h2.2v2.1h-2.2zM146.0 321.8h2.2v2.1h-2.2zM153.1 321.8h1.2v2.1h-1.2zM156.1 321.8h1.2v2.1h-1.2zM76.7 323.8h2.2v2.1h-2.2zM85.8 323.8h2.2v2.1h-2.2zM90.8 323.8h1.2v2.1h-1.2zM92.8 323.8h1.2v2.1h-1.2zM94.8 323.8h1.2v2.1h-1.2zM97.8 323.8h1.2v2.1h-1.2zM122.9 323.8h1.2v2.1h-1.2zM148.1 323.8h1.2v2.1h-1.2zM75.7 325.8h1.2v2.1h-1.2zM79.7 325.8h1.2v2.1h-1.2zM84.8 325.8h1.2v2.1h-1.2zM88.8 325.8h1.2v2.1h-1.2zM93.8 325.8h1.2v2.1h-1.2zM98.8 325.8h1.2v2.1h-1.2zM101.8 325.8h1.2v2.1h-1.2zM124.9 325.8h1.2v2.1h-1.2zM127.0 325.8h1.2v2.1h-1.2zM136.0 325.8h2.2v2.1h-2.2zM150.1 325.8h1.2v2.1h-1.2zM75.7 327.8h1.2v2.1h-1.2zM79.7 327.8h2.2v2.1h-2.2zM82.8 327.8h1.2v2.1h-1.2zM84.8 327.8h1.2v2.1h-1.2zM86.8 327.8h1.2v2.1h-1.2zM90.8 327.8h1.2v2.1h-1.2zM95.8 327.8h3.2v2.1h-3.2zM123.9 327.8h1.2v2.1h-1.2zM128.0 327.8h1.2v2.1h-1.2zM148.1 327.8h1.2v2.1h-1.2zM151.1 327.8h2.2v2.1h-2.2zM156.1 327.8h1.2v2.1h-1.2zM94.8 329.8h1.2v2.1h-1.2zM124.9 329.8h1.2v2.1h-1.2zM146.0 329.8h1.2v2.1h-1.2zM156.1 329.8h1.2v2.1h-1.2zM82.8 331.8h1.2v2.1h-1.2zM88.8 331.8h1.2v2.1h-1.2zM90.8 331.8h1.2v2.1h-1.2zM98.8 331.8h1.2v2.1h-1.2zM102.8 331.8h1.2v2.1h-1.2zM129.0 331.8h1.2v2.1h-1.2zM133.0 331.8h1.2v2.1h-1.2zM140.0 331.8h2.2v2.1h-2.2zM150.1 331.8h1.2v2.1h-1.2zM75.7 333.8h1.2v2.1h-1.2zM86.8 333.8h1.2v2.1h-1.2zM89.8 333.8h1.2v2.1h-1.2zM124.9 333.8h1.2v2.1h-1.2zM130.0 333.8h1.2v2.1h-1.2zM133.0 333.8h1.2v2.1h-1.2zM135.0 333.8h1.2v2.1h-1.2zM143.0 333.8h2.2v2.1h-2.2zM150.1 333.8h1.2v2.1h-1.2zM77.7 335.8h1.2v2.1h-1.2zM88.8 335.8h3.2v2.1h-3.2zM93.8 335.8h1.2v2.1h-1.2zM98.8 335.8h2.2v2.1h-2.2zM122.9 335.8h1.2v2.1h-1.2zM133.0 335.8h2.2v2.1h-2.2zM139.0 335.8h3.2v2.1h-3.2zM144.0 335.8h1.2v2.1h-1.2zM156.1 335.8h1.2v2.1h-1.2zM72.7 337.7h1.2v2.1h-1.2zM80.7 337.7h1.2v2.1h-1.2zM88.8 337.7h1.2v2.1h-1.2zM91.8 337.7h1.2v2.1h-1.2zM123.9 337.7h2.2v2.1h-2.2zM127.0 337.7h2.2v2.1h-2.2zM130.0 337.7h1.2v2.1h-1.2zM135.0 337.7h1.2v2.1h-1.2zM148.1 337.7h1.2v2.1h-1.2zM81.7 339.7h1.2v2.1h-1.2zM89.8 339.7h2.2v2.1h-2.2zM132.0 339.7h1.2v2.1h-1.2zM136.0 339.7h1.2v2.1h-1.2zM78.7 341.7h1.2v2.1h-1.2zM118.9 341.7h1.2v2.1h-1.2zM121.9 341.7h1.2v2.1h-1.2zM135.0 341.7h1.2v2.1h-1.2zM139.0 341.7h1.2v2.1h-1.2zM145.0 341.7h1.2v2.1h-1.2zM152.1 341.7h1.2v2.1h-1.2zM156.1 341.7h1.2v2.1h-1.2zM78.7 343.7h1.2v2.1h-1.2zM82.8 343.7h1.2v2.1h-1.2zM110.9 343.7h1.2v2.1h-1.2zM117.9 343.7h1.2v2.1h-1.2zM127.0 343.7h1.2v2.1h-1.2zM130.0 343.7h1.2v2.1h-1.2zM133.0 343.7h1.2v2.1h-1.2zM145.0 343.7h2.2v2.1h-2.2zM149.1 343.7h1.2v2.1h-1.2zM156.1 343.7h1.2v2.1h-1.2zM72.7 345.7h2.2v2.1h-2.2zM77.7 345.7h1.2v2.1h-1.2zM79.7 345.7h1.2v2.1h-1.2zM81.7 345.7h1.2v2.1h-1.2zM84.8 345.7h1.2v2.1h-1.2zM91.8 345.7h2.2v2.1h-2.2zM95.8 345.7h1.2v2.1h-1.2zM98.8 345.7h1.2v2.1h-1.2zM113.9 345.7h1.2v2.1h-1.2zM115.9 345.7h1.2v2.1h-1.2zM122.9 345.7h2.2v2.1h-2.2zM128.0 345.7h1.2v2.1h-1.2zM134.0 345.7h2.2v2.1h-2.2zM140.0 345.7h1.2v2.1h-1.2zM143.0 345.7h1.2v2.1h-1.2zM148.1 345.7h1.2v2.1h-1.2zM151.1 345.7h1.2v2.1h-1.2zM156.1 345.7h1.2v2.1h-1.2zM74.7 347.7h1.2v2.1h-1.2zM81.7 347.7h1.2v2.1h-1.2zM88.8 347.7h3.2v2.1h-3.2zM106.9 347.7h1.2v2.1h-1.2zM119.9 347.7h1.2v2.1h-1.2zM123.9 347.7h1.2v2.1h-1.2zM147.0 347.7h1.2v2.1h-1.2zM149.1 347.7h1.2v2.1h-1.2zM76.7 349.7h1.2v2.1h-1.2zM78.7 349.7h1.2v2.1h-1.2zM97.8 349.7h1.2v2.1h-1.2zM115.9 349.7h1.2v2.1h-1.2zM126.0 349.7h1.2v2.1h-1.2zM140.0 349.7h1.2v2.1h-1.2zM143.0 349.7h1.2v2.1h-1.2zM78.7 351.7h1.2v2.1h-1.2zM95.8 351.7h1.2v2.1h-1.2zM98.8 351.7h1.2v2.1h-1.2zM101.8 351.7h1.2v2.1h-1.2zM109.9 351.7h1.2v2.1h-1.2zM115.9 351.7h1.2v2.1h-1.2zM123.9 351.7h1.2v2.1h-1.2zM156.1 351.7h1.2v2.1h-1.2zM75.7 353.6h1.2v2.1h-1.2zM84.8 353.6h1.2v2.1h-1.2zM87.8 353.6h2.2v2.1h-2.2zM96.8 353.6h3.2v2.1h-3.2zM100.8 353.6h1.2v2.1h-1.2zM120.9 353.6h1.2v2.1h-1.2zM126.0 353.6h1.2v2.1h-1.2zM145.0 353.6h1.2v2.1h-1.2zM148.1 353.6h1.2v2.1h-1.2zM76.7 355.6h1.2v2.1h-1.2zM79.7 355.6h1.2v2.1h-1.2zM82.8 355.6h1.2v2.1h-1.2zM104.9 355.6h1.2v2.1h-1.2zM127.0 355.6h1.2v2.1h-1.2zM129.0 355.6h1.2v2.1h-1.2zM141.0 355.6h1.2v2.1h-1.2zM149.1 355.6h1.2v2.1h-1.2zM152.1 355.6h1.2v2.1h-1.2zM82.8 357.6h1.2v2.1h-1.2zM87.8 357.6h1.2v2.1h-1.2zM89.8 357.6h1.2v2.1h-1.2zM103.8 357.6h1.2v2.1h-1.2zM110.9 357.6h1.2v2.1h-1.2zM115.9 357.6h1.2v2.1h-1.2zM140.0 357.6h1.2v2.1h-1.2zM156.1 357.6h1.2v2.1h-1.2zM75.7 359.6h2.2v2.1h-2.2zM78.7 359.6h2.2v2.1h-2.2zM81.7 359.6h1.2v2.1h-1.2zM85.8 359.6h1.2v2.1h-1.2zM95.8 359.6h1.2v2.1h-1.2zM105.9 359.6h1.2v2.1h-1.2zM111.9 359.6h1.2v2.1h-1.2zM122.9 359.6h1.2v2.1h-1.2zM156.1 359.6h1.2v2.1h-1.2z"/>
<path shape-rendering="crispEdges" fill="#22828e" d="M71.7 230.4h1.2v2.1h-1.2zM78.7 230.4h1.2v2.1h-1.2zM81.7 230.4h1.2v2.1h-1.2zM139.0 230.4h2.2v2.1h-2.2zM143.0 230.4h1.2v2.1h-1.2zM149.1 230.4h1.2v2.1h-1.2zM156.1 230.4h1.2v2.1h-1.2zM71.7 232.4h1.2v2.1h-1.2zM75.7 232.4h1.2v2.1h-1.2zM78.7 232.4h1.2v2.1h-1.2zM81.7 232.4h1.2v2.1h-1.2zM89.8 232.4h1.2v2.1h-1.2zM110.9 232.4h1.2v2.1h-1.2zM123.9 232.4h1.2v2.1h-1.2zM130.0 232.4h1.2v2.1h-1.2zM134.0 232.4h1.2v2.1h-1.2zM148.1 232.4h2.2v2.1h-2.2zM76.7 234.4h1.2v2.1h-1.2zM79.7 234.4h1.2v2.1h-1.2zM111.9 234.4h1.2v2.1h-1.2zM137.0 234.4h1.2v2.1h-1.2zM140.0 234.4h1.2v2.1h-1.2zM144.0 234.4h1.2v2.1h-1.2zM73.7 236.4h1.2v2.1h-1.2zM76.7 236.4h1.2v2.1h-1.2zM78.7 236.4h2.2v2.1h-2.2zM84.8 236.4h1.2v2.1h-1.2zM109.9 236.4h1.2v2.1h-1.2zM117.9 236.4h1.2v2.1h-1.2zM130.0 236.4h1.2v2.1h-1.2zM139.0 236.4h1.2v2.1h-1.2zM145.0 236.4h1.2v2.1h-1.2zM149.1 236.4h2.2v2.1h-2.2zM153.1 236.4h4.2v2.1h-4.2zM72.7 238.4h1.2v2.1h-1.2zM75.7 238.4h1.2v2.1h-1.2zM78.7 238.4h1.2v2.1h-1.2zM110.9 238.4h1.2v2.1h-1.2zM128.0 238.4h1.2v2.1h-1.2zM136.0 238.4h1.2v2.1h-1.2zM140.0 238.4h1.2v2.1h-1.2zM146.0 238.4h1.2v2.1h-1.2zM149.1 238.4h2.2v2.1h-2.2zM152.1 238.4h1.2v2.1h-1.2zM155.1 238.4h1.2v2.1h-1.2zM157.1 238.4h1.2v2.1h-1.2zM73.7 240.3h2.2v2.1h-2.2zM77.7 240.3h3.2v2.1h-3.2zM82.8 240.3h1.2v2.1h-1.2zM113.9 240.3h2.2v2.1h-2.2zM119.9 240.3h1.2v2.1h-1.2zM134.0 240.3h1.2v2.1h-1.2zM137.0 240.3h1.2v2.1h-1.2zM142.0 240.3h1.2v2.1h-1.2zM147.0 240.3h5.2v2.1h-5.2zM157.1 240.3h1.2v2.1h-1.2zM77.7 242.3h1.2v2.1h-1.2zM79.7 242.3h1.2v2.1h-1.2zM83.8 242.3h1.2v2.1h-1.2zM137.0 242.3h1.2v2.1h-1.2zM139.0 242.3h1.2v2.1h-1.2zM145.0 242.3h1.2v2.1h-1.2zM150.1 242.3h1.2v2.1h-1.2zM157.1 242.3h1.2v2.1h-1.2zM82.8 244.3h1.2v2.1h-1.2zM94.8 244.3h1.2v2.1h-1.2zM105.9 244.3h1.2v2.1h-1.2zM111.9 244.3h2.2v2.1h-2.2zM128.0 244.3h1.2v2.1h-1.2zM142.0 244.3h2.2v2.1h-2.2zM145.0 244.3h1.2v2.1h-1.2zM149.1 244.3h2.2v2.1h-2.2zM155.1 244.3h2.2v2.1h-2.2zM72.7 246.3h1.2v2.1h-1.2zM75.7 246.3h1.2v2.1h-1.2zM80.7 246.3h1.2v2.1h-1.2zM115.9 246.3h1.2v2.1h-1.2zM117.9 246.3h1.2v2.1h-1.2zM138.0 246.3h2.2v2.1h-2.2zM148.1 246.3h1.2v2.1h-1.2zM80.7 248.3h1.2v2.1h-1.2zM82.8 248.3h1.2v2.1h-1.2zM84.8 248.3h1.2v2.1h-1.2zM103.8 248.3h1.2v2.1h-1.2zM111.9 248.3h1.2v2.1h-1.2zM138.0 248.3h1.2v2.1h-1.2zM150.1 248.3h1.2v2.1h-1.2zM101.8 250.3h1.2v2.1h-1.2zM103.8 250.3h1.2v2.1h-1.2zM107.9 250.3h1.2v2.1h-1.2zM112.9 250.3h2.2v2.1h-2.2zM119.9 250.3h2.2v2.1h-2.2zM123.9 250.3h1.2v2.1h-1.2zM128.0 250.3h1.2v2.1h-1.2zM140.0 250.3h1.2v2.1h-1.2zM144.0 250.3h2.2v2.1h-2.2zM147.0 250.3h1.2v2.1h-1.2zM157.1 250.3h1.2v2.1h-1.2zM77.7 252.3h1.2v2.1h-1.2zM85.8 252.3h1.2v2.1h-1.2zM89.8 252.3h1.2v2.1h-1.2zM97.8 252.3h1.2v2.1h-1.2zM99.8 252.3h1.2v2.1h-1.2zM110.9 252.3h2.2v2.1h-2.2zM124.9 252.3h1.2v2.1h-1.2zM139.0 252.3h1.2v2.1h-1.2zM141.0 252.3h1.2v2.1h-1.2zM143.0 252.3h1.2v2.1h-1.2zM155.1 252.3h1.2v2.1h-1.2zM95.8 254.3h1.2v2.1h-1.2zM97.8 254.3h1.2v2.1h-1.2zM101.8 254.3h2.2v2.1h-2.2zM108.9 254.3h1.2v2.1h-1.2zM114.9 254.3h1.2v2.1h-1.2zM122.9 254.3h1.2v2.1h-1.2zM138.0 254.3h1.2v2.1h-1.2zM143.0 254.3h1.2v2.1h-1.2zM145.0 254.3h1.2v2.1h-1.2zM148.1 254.3h1.2v2.1h-1.2zM79.7 256.2h1.2v2.1h-1.2zM103.8 256.2h1.2v2.1h-1.2zM107.9 256.2h1.2v2.1h-1.2zM109.9 256.2h1.2v2.1h-1.2zM111.9 256.2h2.2v2.1h-2.2zM122.9 256.2h1.2v2.1h-1.2zM128.0 256.2h1.2v2.1h-1.2zM135.0 256.2h1.2v2.1h-1.2zM139.0 256.2h1.2v2.1h-1.2zM141.0 256.2h1.2v2.1h-1.2zM143.0 256.2h1.2v2.1h-1.2zM146.0 256.2h1.2v2.1h-1.2zM150.1 256.2h1.2v2.1h-1.2zM80.7 258.2h1.2v2.1h-1.2zM94.8 258.2h1.2v2.1h-1.2zM98.8 258.2h1.2v2.1h-1.2zM103.8 258.2h1.2v2.1h-1.2zM110.9 258.2h1.2v2.1h-1.2zM115.9 258.2h1.2v2.1h-1.2zM122.9 258.2h1.2v2.1h-1.2zM124.9 258.2h1.2v2.1h-1.2zM135.0 258.2h1.2v2.1h-1.2zM144.0 258.2h1.2v2.1h-1.2zM148.1 258.2h1.2v2.1h-1.2zM153.1 258.2h1.2v2.1h-1.2zM155.1 258.2h1.2v2.1h-1.2zM80.7 260.2h1.2v2.1h-1.2zM94.8 260.2h1.2v2.1h-1.2zM96.8 260.2h1.2v2.1h-1.2zM100.8 260.2h1.2v2.1h-1.2zM130.0 260.2h1.2v2.1h-1.2zM139.0 260.2h1.2v2.1h-1.2zM144.0 260.2h1.2v2.1h-1.2zM150.1 260.2h1.2v2.1h-1.2zM84.8 262.2h2.2v2.1h-2.2zM102.8 262.2h2.2v2.1h-2.2zM112.9 262.2h1.2v2.1h-1.2zM116.9 262.2h1.2v2.1h-1.2zM133.0 262.2h1.2v2.1h-1.2zM146.0 262.2h1.2v2.1h-1.2zM148.1 262.2h1.2v2.1h-1.2zM156.1 262.2h1.2v2.1h-1.2zM90.8 264.2h1.2v2.1h-1.2zM95.8 264.2h2.2v2.1h-2.2zM106.9 264.2h2.2v2.1h-2.2zM110.9 264.2h1.2v2.1h-1.2zM112.9 264.2h1.2v2.1h-1.2zM114.9 264.2h1.2v2.1h-1.2zM117.9 264.2h1.2v2.1h-1.2zM123.9 264.2h1.2v2.1h-1.2zM130.0 264.2h1.2v2.1h-1.2zM144.0 264.2h1.2v2.1h-1.2zM146.0 264.2h1.2v2.1h-1.2zM153.1 264.2h2.2v2.1h-2.2zM88.8 266.2h1.2v2.1h-1.2zM102.8 266.2h1.2v2.1h-1.2zM108.9 266.2h2.2v2.1h-2.2zM129.0 266.2h1.2v2.1h-1.2zM137.0 266.2h2.2v2.1h-2.2zM140.0 266.2h1.2v2.1h-1.2zM88.8 268.2h1.2v2.1h-1.2zM100.8 268.2h1.2v2.1h-1.2zM109.9 268.2h1.2v2.1h-1.2zM120.9 268.2h2.2v2.1h-2.2zM137.0 268.2h2.2v2.1h-2.2zM141.0 268.2h1.2v2.1h-1.2zM150.1 268.2h1.2v2.1h-1.2zM153.1 268.2h1.2v2.1h-1.2zM156.1 268.2h1.2v2.1h-1.2zM87.8 270.2h1.2v2.1h-1.2zM89.8 270.2h1.2v2.1h-1.2zM93.8 270.2h2.2v2.1h-2.2zM96.8 270.2h3.2v2.1h-3.2zM106.9 270.2h2.2v2.1h-2.2zM110.9 270.2h1.2v2.1h-1.2zM115.9 270.2h1.2v2.1h-1.2zM120.9 270.2h1.2v2.1h-1.2zM135.0 270.2h1.2v2.1h-1.2zM137.0 270.2h1.2v2.1h-1.2zM143.0 270.2h1.2v2.1h-1.2zM149.1 270.2h1.2v2.1h-1.2zM79.7 272.1h1.2v2.1h-1.2zM89.8 272.1h1.2v2.1h-1.2zM95.8 272.1h1.2v2.1h-1.2zM109.9 272.1h1.2v2.1h-1.2zM139.0 272.1h1.2v2.1h-1.2zM141.0 272.1h1.2v2.1h-1.2zM145.0 272.1h1.2v2.1h-1.2zM150.1 272.1h1.2v2.1h-1.2zM74.7 274.1h1.2v2.1h-1.2zM83.8 274.1h1.2v2.1h-1.2zM86.8 274.1h1.2v2.1h-1.2zM94.8 274.1h1.2v2.1h-1.2zM97.8 274.1h1.2v2.1h-1.2zM100.8 274.1h1.2v2.1h-1.2zM110.9 274.1h2.2v2.1h-2.2zM127.0 274.1h1.2v2.1h-1.2zM129.0 274.1h1.2v2.1h-1.2zM145.0 274.1h1.2v2.1h-1.2zM147.0 274.1h1.2v2.1h-1.2zM154.1 274.1h1.2v2.1h-1.2zM157.1 274.1h1.2v2.1h-1.2zM86.8 276.1h1.2v2.1h-1.2zM96.8 276.1h2.2v2.1h-2.2zM101.8 276.1h1.2v2.1h-1.2zM105.9 276.1h1.2v2.1h-1.2zM111.9 276.1h2.2v2.1h-2.2zM114.9 276.1h1.2v2.1h-1.2zM117.9 276.1h1.2v2.1h-1.2zM119.9 276.1h1.2v2.1h-1.2zM126.0 276.1h1.2v2.1h-1.2zM134.0 276.1h2.2v2.1h-2.2zM140.0 276.1h1.2v2.1h-1.2zM146.0 276.1h1.2v2.1h-1.2zM151.1 276.1h1.2v2.1h-1.2zM72.7 278.1h1.2v2.1h-1.2zM74.7 278.1h1.2v2.1h-1.2zM83.8 278.1h1.2v2.1h-1.2zM86.8 278.1h2.2v2.1h-2.2zM91.8 278.1h1.2v2.1h-1.2zM96.8 278.1h1.2v2.1h-1.2zM107.9 278.1h1.2v2.1h-1.2zM112.9 278.1h1.2v2.1h-1.2zM114.9 278.1h2.2v2.1h-2.2zM118.9 278.1h3.2v2.1h-3.2zM122.9 278.1h1.2v2.1h-1.2zM143.0 278.1h1.2v2.1h-1.2zM145.0 278.1h1.2v2.1h-1.2zM152.1 278.1h1.2v2.1h-1.2zM156.1 278.1h1.2v2.1h-1.2zM71.7 280.1h1.2v2.1h-1.2zM78.7 280.1h2.2v2.1h-2.2zM96.8 280.1h1.2v2.1h-1.2zM107.9 280.1h1.2v2.1h-1.2zM111.9 280.1h1.2v2.1h-1.2zM113.9 280.1h1.2v2.1h-1.2zM135.0 280.1h1.2v2.1h-1.2zM142.0 280.1h1.2v2.1h-1.2zM152.1 280.1h2.2v2.1h-2.2zM78.7 282.1h1.2v2.1h-1.2zM84.8 282.1h2.2v2.1h-2.2zM89.8 282.1h3.2v2.1h-3.2zM95.8 282.1h1.2v2.1h-1.2zM97.8 282.1h1.2v2.1h-1.2zM100.8 282.1h1.2v2.1h-1.2zM103.8 282.1h1.2v2.1h-1.2zM106.9 282.1h1.2v2.1h-1.2zM114.9 282.1h1.2v2.1h-1.2zM142.0 282.1h1.2v2.1h-1.2zM148.1 282.1h1.2v2.1h-1.2zM150.1 282.1h1.2v2.1h-1.2zM154.1 282.1h1.2v2.1h-1.2zM74.7 284.1h1.2v2.1h-1.2zM76.7 284.1h1.2v2.1h-1.2zM82.8 284.1h1.2v2.1h-1.2zM92.8 284.1h2.2v2.1h-2.2zM97.8 284.1h2.2v2.1h-2.2zM108.9 284.1h1.2v2.1h-1.2zM111.9 284.1h2.2v2.1h-2.2zM137.0 284.1h1.2v2.1h-1.2zM151.1 284.1h1.2v2.1h-1.2zM156.1 284.1h1.2v2.1h-1.2zM90.8 286.1h1.2v2.1h-1.2zM95.8 286.1h2.2v2.1h-2.2zM102.8 286.1h1.2v2.1h-1.2zM108.9 286.1h1.2v2.1h-1.2zM114.9 286.1h1.2v2.1h-1.2zM123.9 286.1h1.2v2.1h-1.2zM126.0 286.1h1.2v2.1h-1.2zM135.0 286.1h1.2v2.1h-1.2zM141.0 286.1h1.2v2.1h-1.2zM150.1 286.1h1.2v2.1h-1.2zM72.7 288.0h1.2v2.1h-1.2zM74.7 288.0h1.2v2.1h-1.2zM91.8 288.0h2.2v2.1h-2.2zM102.8 288.0h2.2v2.1h-2.2zM111.9 288.0h1.2v2.1h-1.2zM113.9 288.0h1.2v2.1h-1.2zM118.9 288.0h1.2v2.1h-1.2zM145.0 288.0h2.2v2.1h-2.2zM148.1 288.0h1.2v2.1h-1.2zM150.1 288.0h1.2v2.1h-1.2zM152.1 288.0h1.2v2.1h-1.2zM156.1 288.0h1.2v2.1h-1.2zM71.7 290.0h1.2v2.1h-1.2zM74.7 290.0h1.2v2.1h-1.2zM102.8 290.0h1.2v2.1h-1.2zM131.0 290.0h1.2v2.1h-1.2zM136.0 290.0h1.2v2.1h-1.2zM138.0 290.0h1.2v2.1h-1.2zM141.0 290.0h1.2v2.1h-1.2zM145.0 290.0h1.2v2.1h-1.2zM151.1 290.0h1.2v2.1h-1.2zM153.1 290.0h1.2v2.1h-1.2zM74.7 292.0h1.2v2.1h-1.2zM80.7 292.0h1.2v2.1h-1.2zM85.8 292.0h1.2v2.1h-1.2zM88.8 292.0h1.2v2.1h-1.2zM94.8 292.0h2.2v2.1h-2.2zM109.9 292.0h1.2v2.1h-1.2zM116.9 292.0h1.2v2.1h-1.2zM121.9 292.0h1.2v2.1h-1.2zM135.0 292.0h1.2v2.1h-1.2zM138.0 292.0h1.2v2.1h-1.2zM148.1 292.0h1.2v2.1h-1.2zM150.1 292.0h1.2v2.1h-1.2zM152.1 292.0h1.2v2.1h-1.2zM74.7 294.0h1.2v2.1h-1.2zM85.8 294.0h1.2v2.1h-1.2zM97.8 294.0h1.2v2.1h-1.2zM101.8 294.0h1.2v2.1h-1.2zM106.9 294.0h1.2v2.1h-1.2zM109.9 294.0h1.2v2.1h-1.2zM113.9 294.0h2.2v2.1h-2.2zM138.0 294.0h1.2v2.1h-1.2zM143.0 294.0h1.2v2.1h-1.2zM145.0 294.0h1.2v2.1h-1.2zM154.1 294.0h2.2v2.1h-2.2zM77.7 296.0h1.2v2.1h-1.2zM81.7 296.0h1.2v2.1h-1.2zM87.8 296.0h1.2v2.1h-1.2zM103.8 296.0h1.2v2.1h-1.2zM112.9 296.0h1.2v2.1h-1.2zM118.9 296.0h1.2v2.1h-1.2zM137.0 296.0h1.2v2.1h-1.2zM148.1 296.0h1.2v2.1h-1.2zM156.1 296.0h2.2v2.1h-2.2zM72.7 298.0h1.2v2.1h-1.2zM74.7 298.0h2.2v2.1h-2.2zM85.8 298.0h1.2v2.1h-1.2zM99.8 298.0h1.2v2.1h-1.2zM104.9 298.0h1.2v2.1h-1.2zM106.9 298.0h1.2v2.1h-1.2zM118.9 298.0h1.2v2.1h-1.2zM120.9 298.0h1.2v2.1h-1.2zM139.0 298.0h1.2v2.1h-1.2zM147.0 298.0h1.2v2.1h-1.2zM152.1 298.0h1.2v2.1h-1.2zM84.8 300.0h2.2v2.1h-2.2zM91.8 300.0h1.2v2.1h-1.2zM96.8 300.0h1.2v2.1h-1.2zM99.8 300.0h1.2v2.1h-1.2zM101.8 300.0h1.2v2.1h-1.2zM111.9 300.0h1.2v2.1h-1.2zM113.9 300.0h1.2v2.1h-1.2zM116.9 300.0h1.2v2.1h-1.2zM118.9 300.0h1.2v2.1h-1.2zM137.0 300.0h1.2v2.1h-1.2zM149.1 300.0h1.2v2.1h-1.2zM154.1 300.0h1.2v2.1h-1.2zM157.1 300.0h1.2v2.1h-1.2zM78.7 302.0h1.2v2.1h-1.2zM81.7 302.0h1.2v2.1h-1.2zM88.8 302.0h1.2v2.1h-1.2zM91.8 302.0h1.2v2.1h-1.2zM96.8 302.0h1.2v2.1h-1.2zM101.8 302.0h1.2v2.1h-1.2zM103.8 302.0h1.2v2.1h-1.2zM106.9 302.0h1.2v2.1h-1.2zM110.9 302.0h1.2v2.1h-1.2zM113.9 302.0h1.2v2.1h-1.2zM119.9 302.0h1.2v2.1h-1.2zM144.0 302.0h2.2v2.1h-2.2zM147.0 302.0h1.2v2.1h-1.2zM150.1 302.0h1.2v2.1h-1.2zM155.1 302.0h1.2v2.1h-1.2zM74.7 304.0h1.2v2.1h-1.2zM77.7 304.0h1.2v2.1h-1.2zM83.8 304.0h1.2v2.1h-1.2zM86.8 304.0h1.2v2.1h-1.2zM89.8 304.0h1.2v2.1h-1.2zM97.8 304.0h2.2v2.1h-2.2zM105.9 304.0h1.2v2.1h-1.2zM110.9 304.0h1.2v2.1h-1.2zM118.9 304.0h2.2v2.1h-2.2zM148.1 304.0h1.2v2.1h-1.2zM150.1 304.0h1.2v2.1h-1.2zM152.1 304.0h1.2v2.1h-1.2zM72.7 305.9h1.2v2.1h-1.2zM74.7 305.9h1.2v2.1h-1.2zM77.7 305.9h1.2v2.1h-1.2zM80.7 305.9h1.2v2.1h-1.2zM85.8 305.9h1.2v2.1h-1.2zM96.8 305.9h1.2v2.1h-1.2zM98.8 305.9h1.2v2.1h-1.2zM106.9 305.9h1.2v2.1h-1.2zM108.9 305.9h2.2v2.1h-2.2zM112.9 305.9h1.2v2.1h-1.2zM117.9 305.9h1.2v2.1h-1.2zM136.0 305.9h1.2v2.1h-1.2zM146.0 305.9h2.2v2.1h-2.2zM152.1 305.9h1.2v2.1h-1.2zM155.1 305.9h1.2v2.1h-1.2zM157.1 305.9h1.2v2.1h-1.2zM79.7 307.9h2.2v2.1h-2.2zM85.8 307.9h3.2v2.1h-3.2zM91.8 307.9h1.2v2.1h-1.2zM98.8 307.9h1.2v2.1h-1.2zM104.9 307.9h2.2v2.1h-2.2zM108.9 307.9h1.2v2.1h-1.2zM110.9 307.9h1.2v2.1h-1.2zM112.9 307.9h1.2v2.1h-1.2zM145.0 307.9h1.2v2.1h-1.2zM147.0 307.9h2.2v2.1h-2.2zM152.1 307.9h1.2v2.1h-1.2zM155.1 307.9h1.2v2.1h-1.2zM77.7 309.9h1.2v2.1h-1.2zM83.8 309.9h1.2v2.1h-1.2zM87.8 309.9h1.2v2.1h-1.2zM90.8 309.9h1.2v2.1h-1.2zM92.8 309.9h1.2v2.1h-1.2zM95.8 309.9h2.2v2.1h-2.2zM110.9 309.9h1.2v2.1h-1.2zM118.9 309.9h1.2v2.1h-1.2zM135.0 309.9h1.2v2.1h-1.2zM137.0 309.9h1.2v2.1h-1.2zM141.0 309.9h1.2v2.1h-1.2zM154.1 309.9h1.2v2.1h-1.2zM156.1 309.9h1.2v2.1h-1.2zM81.7 311.9h1.2v2.1h-1.2zM83.8 311.9h1.2v2.1h-1.2zM95.8 311.9h1.2v2.1h-1.2zM97.8 311.9h1.2v2.1h-1.2zM99.8 311.9h1.2v2.1h-1.2zM101.8 311.9h3.2v2.1h-3.2zM113.9 311.9h1.2v2.1h-1.2zM117.9 311.9h1.2v2.1h-1.2zM121.9 311.9h1.2v2.1h-1.2zM123.9 311.9h1.2v2.1h-1.2zM145.0 311.9h4.2v2.1h-4.2zM151.1 311.9h2.2v2.1h-2.2zM157.1 311.9h1.2v2.1h-1.2zM77.7 313.9h1.2v2.1h-1.2zM85.8 313.9h2.2v2.1h-2.2zM88.8 313.9h1.2v2.1h-1.2zM91.8 313.9h3.2v2.1h-3.2zM98.8 313.9h1.2v2.1h-1.2zM104.9 313.9h1.2v2.1h-1.2zM149.1 313.9h1.2v2.1h-1.2zM155.1 313.9h1.2v2.1h-1.2zM76.7 315.9h1.2v2.1h-1.2zM80.7 315.9h1.2v2.1h-1.2zM82.8 315.9h1.2v2.1h-1.2zM88.8 315.9h1.2v2.1h-1.2zM92.8 315.9h1.2v2.1h-1.2zM95.8 315.9h1.2v2.1h-1.2zM97.8 315.9h1.2v2.1h-1.2zM110.9 315.9h1.2v2.1h-1.2zM118.9 315.9h1.2v2.1h-1.2zM134.0 315.9h1.2v2.1h-1.2zM147.0 315.9h2.2v2.1h-2.2zM156.1 315.9h1.2v2.1h-1.2zM74.7 317.9h1.2v2.1h-1.2zM79.7 317.9h2.2v2.1h-2.2zM89.8 317.9h1.2v2.1h-1.2zM101.8 317.9h1.2v2.1h-1.2zM104.9 317.9h1.2v2.1h-1.2zM133.0 317.9h1.2v2.1h-1.2zM135.0 317.9h2.2v2.1h-2.2zM140.0 317.9h1.2v2.1h-1.2zM153.1 317.9h1.2v2.1h-1.2zM93.8 319.9h1.2v2.1h-1.2zM121.9 319.9h1.2v2.1h-1.2zM124.9 319.9h1.2v2.1h-1.2zM133.0 319.9h1.2v2.1h-1.2zM149.1 319.9h3.2v2.1h-3.2zM154.1 319.9h1.2v2.1h-1.2zM73.7 321.8h1.2v2.1h-1.2zM76.7 321.8h2.2v2.1h-2.2zM88.8 321.8h1.2v2.1h-1.2zM90.8 321.8h1.2v2.1h-1.2zM97.8 321.8h1.2v2.1h-1.2zM99.8 321.8h1.2v2.1h-1.2zM103.8 321.8h1.2v2.1h-1.2zM139.0 321.8h1.2v2.1h-1.2zM141.0 321.8h2.2v2.1h-2.2zM149.1 321.8h1.2v2.1h-1.2zM152.1 321.8h1.2v2.1h-1.2zM157.1 321.8h1.2v2.1h-1.2zM71.7 323.8h1.2v2.1h-1.2zM75.7 323.8h1.2v2.1h-1.2zM81.7 323.8h1.2v2.1h-1.2zM89.8 323.8h1.2v2.1h-1.2zM95.8 323.8h1.2v2.1h-1.2zM100.8 323.8h1.2v2.1h-1.2zM133.0 323.8h1.2v2.1h-1.2zM136.0 323.8h1.2v2.1h-1.2zM140.0 323.8h1.2v2.1h-1.2zM142.0 323.8h2.2v2.1h-2.2zM147.0 323.8h1.2v2.1h-1.2zM153.1 323.8h1.2v2.1h-1.2zM95.8 325.8h3.2v2.1h-3.2zM99.8 325.8h1.2v2.1h-1.2zM131.0 325.8h1.2v2.1h-1.2zM146.0 325.8h1.2v2.1h-1.2zM152.1 325.8h3.2v2.1h-3.2zM81.7 327.8h1.2v2.1h-1.2zM85.8 327.8h1.2v2.1h-1.2zM88.8 327.8h1.2v2.1h-1.2zM92.8 327.8h1.2v2.1h-1.2zM104.9 327.8h1.2v2.1h-1.2zM122.9 327.8h1.2v2.1h-1.2zM124.9 327.8h1.2v2.1h-1.2zM131.0 327.8h1.2v2.1h-1.2zM133.0 327.8h1.2v2.1h-1.2zM142.0 327.8h1.2v2.1h-1.2zM144.0 327.8h1.2v2.1h-1.2zM147.0 327.8h1.2v2.1h-1.2zM150.1 327.8h1.2v2.1h-1.2zM154.1 327.8h1.2v2.1h-1.2zM72.7 329.8h2.2v2.1h-2.2zM76.7 329.8h1.2v2.1h-1.2zM84.8 329.8h1.2v2.1h-1.2zM89.8 329.8h2.2v2.1h-2.2zM97.8 329.8h2.2v2.1h-2.2zM132.0 329.8h2.2v2.1h-2.2zM135.0 329.8h3.2v2.1h-3.2zM141.0 329.8h1.2v2.1h-1.2zM144.0 329.8h1.2v2.1h-1.2zM147.0 329.8h2.2v2.1h-2.2zM150.1 329.8h1.2v2.1h-1.2zM152.1 329.8h1.2v2.1h-1.2zM73.7 331.8h2.2v2.1h-2.2zM80.7 331.8h2.2v2.1h-2.2zM85.8 331.8h1.2v2.1h-1.2zM87.8 331.8h1.2v2.1h-1.2zM100.8 331.8h1.2v2.1h-1.2zM121.9 331.8h1.2v2.1h-1.2zM130.0 331.8h1.2v2.1h-1.2zM132.0 331.8h1.2v2.1h-1.2zM137.0 331.8h1.2v2.1h-1.2zM144.0 331.8h1.2v2.1h-1.2zM146.0 331.8h1.2v2.1h-1.2zM148.1 331.8h1.2v2.1h-1.2zM156.1 331.8h1.2v2.1h-1.2zM87.8 333.8h1.2v2.1h-1.2zM92.8 333.8h1.2v2.1h-1.2zM98.8 333.8h2.2v2.1h-2.2zM129.0 333.8h1.2v2.1h-1.2zM139.0 333.8h1.2v2.1h-1.2zM148.1 333.8h1.2v2.1h-1.2zM151.1 333.8h1.2v2.1h-1.2zM76.7 335.8h1.2v2.1h-1.2zM86.8 335.8h2.2v2.1h-2.2zM91.8 335.8h1.2v2.1h-1.2zM96.8 335.8h2.2v2.1h-2.2zM101.8 335.8h1.2v2.1h-1.2zM112.9 335.8h1.2v2.1h-1.2zM124.9 335.8h1.2v2.1h-1.2zM136.0 335.8h2.2v2.1h-2.2zM146.0 335.8h3.2v2.1h-3.2zM151.1 335.8h2.2v2.1h-2.2zM157.1 335.8h1.2v2.1h-1.2zM94.8 337.7h2.2v2.1h-2.2zM97.8 337.7h1.2v2.1h-1.2zM132.0 337.7h1.2v2.1h-1.2zM136.0 337.7h2.2v2.1h-2.2zM139.0 337.7h1.2v2.1h-1.2zM146.0 337.7h2.2v2.1h-2.2zM156.1 337.7h1.2v2.1h-1.2zM77.7 339.7h1.2v2.1h-1.2zM100.8 339.7h1.2v2.1h-1.2zM115.9 339.7h1.2v2.1h-1.2zM117.9 339.7h1.2v2.1h-1.2zM121.9 339.7h1.2v2.1h-1.2zM123.9 339.7h1.2v2.1h-1.2zM126.0 339.7h1.2v2.1h-1.2zM139.0 339.7h1.2v2.1h-1.2zM145.0 339.7h1.2v2.1h-1.2zM152.1 339.7h1.2v2.1h-1.2zM71.7 341.7h1.2v2.1h-1.2zM75.7 341.7h2.2v2.1h-2.2zM80.7 341.7h1.2v2.1h-1.2zM86.8 341.7h1.2v2.1h-1.2zM88.8 341.7h2.2v2.1h-2.2zM95.8 341.7h1.2v2.1h-1.2zM97.8 341.7h1.2v2.1h-1.2zM108.9 341.7h1.2v2.1h-1.2zM112.9 341.7h1.2v2.1h-1.2zM122.9 341.7h1.2v2.1h-1.2zM128.0 341.7h1.2v2.1h-1.2zM130.0 341.7h1.2v2.1h-1.2zM140.0 341.7h2.2v2.1h-2.2zM144.0 341.7h1.2v2.1h-1.2zM148.1 341.7h1.2v2.1h-1.2zM150.1 341.7h1.2v2.1h-1.2zM157.1 341.7h1.2v2.1h-1.2zM71.7 343.7h1.2v2.1h-1.2zM75.7 343.7h1.2v2.1h-1.2zM81.7 343.7h1.2v2.1h-1.2zM99.8 343.7h1.2v2.1h-1.2zM103.8 343.7h2.2v2.1h-2.2zM111.9 343.7h1.2v2.1h-1.2zM123.9 343.7h1.2v2.1h-1.2zM129.0 343.7h1.2v2.1h-1.2zM135.0 343.7h1.2v2.1h-1.2zM71.7 345.7h1.2v2.1h-1.2zM74.7 345.7h1.2v2.1h-1.2zM76.7 345.7h1.2v2.1h-1.2zM87.8 345.7h1.2v2.1h-1.2zM89.8 345.7h2.2v2.1h-2.2zM96.8 345.7h1.2v2.1h-1.2zM102.8 345.7h1.2v2.1h-1.2zM109.9 345.7h1.2v2.1h-1.2zM120.9 345.7h1.2v2.1h-1.2zM124.9 345.7h2.2v2.1h-2.2zM138.0 345.7h1.2v2.1h-1.2zM142.0 345.7h1.2v2.1h-1.2zM153.1 345.7h1.2v2.1h-1.2zM73.7 347.7h1.2v2.1h-1.2zM75.7 347.7h1.2v2.1h-1.2zM78.7 347.7h1.2v2.1h-1.2zM80.7 347.7h1.2v2.1h-1.2zM82.8 347.7h1.2v2.1h-1.2zM84.8 347.7h1.2v2.1h-1.2zM86.8 347.7h2.2v2.1h-2.2zM92.8 347.7h1.2v2.1h-1.2zM94.8 347.7h3.2v2.1h-3.2zM99.8 347.7h1.2v2.1h-1.2zM101.8 347.7h1.2v2.1h-1.2zM109.9 347.7h1.2v2.1h-1.2zM126.0 347.7h1.2v2.1h-1.2zM137.0 347.7h1.2v2.1h-1.2zM156.1 347.7h2.2v2.1h-2.2zM74.7 349.7h1.2v2.1h-1.2zM79.7 349.7h1.2v2.1h-1.2zM85.8 349.7h2.2v2.1h-2.2zM89.8 349.7h1.2v2.1h-1.2zM108.9 349.7h1.2v2.1h-1.2zM112.9 349.7h1.2v2.1h-1.2zM118.9 349.7h1.2v2.1h-1.2zM120.9 349.7h1.2v2.1h-1.2zM131.0 349.7h1.2v2.1h-1.2zM149.1 349.7h1.2v2.1h-1.2zM151.1 349.7h1.2v2.1h-1.2zM154.1 349.7h1.2v2.1h-1.2zM72.7 351.7h1.2v2.1h-1.2zM85.8 351.7h3.2v2.1h-3.2zM89.8 351.7h3.2v2.1h-3.2zM94.8 351.7h1.2v2.1h-1.2zM96.8 351.7h1.2v2.1h-1.2zM99.8 351.7h1.2v2.1h-1.2zM106.9 351.7h1.2v2.1h-1.2zM108.9 351.7h1.2v2.1h-1.2zM114.9 351.7h1.2v2.1h-1.2zM135.0 351.7h1.2v2.1h-1.2zM143.0 351.7h1.2v2.1h-1.2zM152.1 351.7h1.2v2.1h-1.2zM154.1 351.7h1.2v2.1h-1.2zM77.7 353.6h1.2v2.1h-1.2zM89.8 353.6h1.2v2.1h-1.2zM95.8 353.6h1.2v2.1h-1.2zM103.8 353.6h1.2v2.1h-1.2zM112.9 353.6h2.2v2.1h-2.2zM116.9 353.6h1.2v2.1h-1.2zM119.9 353.6h1.2v2.1h-1.2zM132.0 353.6h1.2v2.1h-1.2zM135.0 353.6h1.2v2.1h-1.2zM143.0 353.6h1.2v2.1h-1.2zM146.0 353.6h1.2v2.1h-1.2zM73.7 355.6h1.2v2.1h-1.2zM86.8 355.6h4.2v2.1h-4.2zM92.8 355.6h3.2v2.1h-3.2zM100.8 355.6h1.2v2.1h-1.2zM107.9 355.6h1.2v2.1h-1.2zM110.9 355.6h1.2v2.1h-1.2zM112.9 355.6h1.2v2.1h-1.2zM114.9 355.6h2.2v2.1h-2.2zM130.0 355.6h1.2v2.1h-1.2zM148.1 355.6h1.2v2.1h-1.2zM154.1 355.6h1.2v2.1h-1.2zM72.7 357.6h1.2v2.1h-1.2zM81.7 357.6h1.2v2.1h-1.2zM86.8 357.6h1.2v2.1h-1.2zM88.8 357.6h1.2v2.1h-1.2zM96.8 357.6h1.2v2.1h-1.2zM99.8 357.6h1.2v2.1h-1.2zM102.8 357.6h1.2v2.1h-1.2zM106.9 357.6h1.2v2.1h-1.2zM113.9 357.6h1.2v2.1h-1.2zM118.9 357.6h1.2v2.1h-1.2zM127.0 357.6h1.2v2.1h-1.2zM131.0 357.6h1.2v2.1h-1.2zM145.0 357.6h1.2v2.1h-1.2zM148.1 357.6h1.2v2.1h-1.2zM153.1 357.6h1.2v2.1h-1.2zM155.1 357.6h1.2v2.1h-1.2zM77.7 359.6h1.2v2.1h-1.2zM86.8 359.6h2.2v2.1h-2.2zM90.8 359.6h1.2v2.1h-1.2zM96.8 359.6h2.2v2.1h-2.2zM100.8 359.6h1.2v2.1h-1.2zM102.8 359.6h2.2v2.1h-2.2zM119.9 359.6h1.2v2.1h-1.2zM127.0 359.6h1.2v2.1h-1.2zM131.0 359.6h1.2v2.1h-1.2zM139.0 359.6h1.2v2.1h-1.2zM149.1 359.6h1.2v2.1h-1.2z"/>
<path shape-rendering="crispEdges" fill="#20928a" d="M75.7 230.4h1.2v2.1h-1.2zM79.7 230.4h2.2v2.1h-2.2zM92.8 230.4h1.2v2.1h-1.2zM98.8 230.4h1.2v2.1h-1.2zM112.9 230.4h1.2v2.1h-1.2zM114.9 230.4h1.2v2.1h-1.2zM116.9 230.4h1.2v2.1h-1.2zM118.9 230.4h2.2v2.1h-2.2zM131.0 230.4h1.2v2.1h-1.2zM138.0 230.4h1.2v2.1h-1.2zM147.0 230.4h1.2v2.1h-1.2zM154.1 230.4h1.2v2.1h-1.2zM72.7 232.4h3.2v2.1h-3.2zM82.8 232.4h1.2v2.1h-1.2zM109.9 232.4h1.2v2.1h-1.2zM119.9 232.4h1.2v2.1h-1.2zM128.0 232.4h1.2v2.1h-1.2zM131.0 232.4h1.2v2.1h-1.2zM139.0 232.4h1.2v2.1h-1.2zM142.0 232.4h1.2v2.1h-1.2zM144.0 232.4h3.2v2.1h-3.2zM150.1 232.4h3.2v2.1h-3.2zM154.1 232.4h1.2v2.1h-1.2zM156.1 232.4h2.2v2.1h-2.2zM71.7 234.4h3.2v2.1h-3.2zM82.8 234.4h1.2v2.1h-1.2zM112.9 234.4h3.2v2.1h-3.2zM135.0 234.4h2.2v2.1h-2.2zM145.0 234.4h1.2v2.1h-1.2zM150.1 234.4h1.2v2.1h-1.2zM157.1 234.4h1.2v2.1h-1.2zM83.8 236.4h1.2v2.1h-1.2zM105.9 236.4h1.2v2.1h-1.2zM112.9 236.4h1.2v2.1h-1.2zM115.9 236.4h1.2v2.1h-1.2zM118.9 236.4h1.2v2.1h-1.2zM135.0 236.4h1.2v2.1h-1.2zM138.0 236.4h1.2v2.1h-1.2zM140.0 236.4h1.2v2.1h-1.2zM143.0 236.4h2.2v2.1h-2.2zM79.7 238.4h1.2v2.1h-1.2zM83.8 238.4h1.2v2.1h-1.2zM88.8 238.4h1.2v2.1h-1.2zM98.8 238.4h1.2v2.1h-1.2zM102.8 238.4h1.2v2.1h-1.2zM113.9 238.4h2.2v2.1h-2.2zM138.0 238.4h1.2v2.1h-1.2zM147.0 238.4h1.2v2.1h-1.2zM72.7 240.3h1.2v2.1h-1.2zM76.7 240.3h1.2v2.1h-1.2zM83.8 240.3h1.2v2.1h-1.2zM118.9 240.3h1.2v2.1h-1.2zM132.0 240.3h1.2v2.1h-1.2zM144.0 240.3h1.2v2.1h-1.2zM152.1 240.3h1.2v2.1h-1.2zM154.1 240.3h1.2v2.1h-1.2zM71.7 242.3h1.2v2.1h-1.2zM73.7 242.3h1.2v2.1h-1.2zM76.7 242.3h1.2v2.1h-1.2zM78.7 242.3h1.2v2.1h-1.2zM111.9 242.3h1.2v2.1h-1.2zM113.9 242.3h2.2v2.1h-2.2zM117.9 242.3h1.2v2.1h-1.2zM124.9 242.3h1.2v2.1h-1.2zM132.0 242.3h1.2v2.1h-1.2zM136.0 242.3h1.2v2.1h-1.2zM138.0 242.3h1.2v2.1h-1.2zM152.1 242.3h1.2v2.1h-1.2zM78.7 244.3h1.2v2.1h-1.2zM113.9 244.3h1.2v2.1h-1.2zM115.9 244.3h1.2v2.1h-1.2zM117.9 244.3h1.2v2.1h-1.2zM122.9 244.3h1.2v2.1h-1.2zM144.0 244.3h1.2v2.1h-1.2zM147.0 244.3h2.2v2.1h-2.2zM152.1 244.3h1.2v2.1h-1.2zM73.7 246.3h2.2v2.1h-2.2zM76.7 246.3h1.2v2.1h-1.2zM110.9 246.3h1.2v2.1h-1.2zM114.9 246.3h1.2v2.1h-1.2zM120.9 246.3h1.2v2.1h-1.2zM135.0 246.3h1.2v2.1h-1.2zM144.0 246.3h1.2v2.1h-1.2zM147.0 246.3h1.2v2.1h-1.2zM150.1 246.3h1.2v2.1h-1.2zM154.1 246.3h1.2v2.1h-1.2zM71.7 248.3h1.2v2.1h-1.2zM75.7 248.3h2.2v2.1h-2.2zM78.7 248.3h1.2v2.1h-1.2zM95.8 248.3h1.2v2.1h-1.2zM134.0 248.3h1.2v2.1h-1.2zM144.0 248.3h1.2v2.1h-1.2zM71.7 250.3h1.2v2.1h-1.2zM82.8 250.3h1.2v2.1h-1.2zM89.8 250.3h1.2v2.1h-1.2zM92.8 250.3h1.2v2.1h-1.2zM96.8 250.3h1.2v2.1h-1.2zM99.8 250.3h1.2v2.1h-1.2zM111.9 250.3h1.2v2.1h-1.2zM114.9 250.3h1.2v2.1h-1.2zM116.9 250.3h1.2v2.1h-1.2zM126.0 250.3h1.2v2.1h-1.2zM129.0 250.3h1.2v2.1h-1.2zM132.0 250.3h1.2v2.1h-1.2zM135.0 250.3h1.2v2.1h-1.2zM153.1 250.3h1.2v2.1h-1.2zM155.1 250.3h2.2v2.1h-2.2zM84.8 252.3h1.2v2.1h-1.2zM87.8 252.3h2.2v2.1h-2.2zM109.9 252.3h1.2v2.1h-1.2zM114.9 252.3h5.2v2.1h-5.2zM135.0 252.3h1.2v2.1h-1.2zM149.1 252.3h1.2v2.1h-1.2zM152.1 252.3h1.2v2.1h-1.2zM154.1 252.3h1.2v2.1h-1.2zM72.7 254.3h1.2v2.1h-1.2zM82.8 254.3h1.2v2.1h-1.2zM89.8 254.3h2.2v2.1h-2.2zM92.8 254.3h1.2v2.1h-1.2zM94.8 254.3h1.2v2.1h-1.2zM96.8 254.3h1.2v2.1h-1.2zM110.9 254.3h1.2v2.1h-1.2zM115.9 254.3h1.2v2.1h-1.2zM124.9 254.3h1.2v2.1h-1.2zM128.0 254.3h1.2v2.1h-1.2zM134.0 254.3h1.2v2.1h-1.2zM140.0 254.3h1.2v2.1h-1.2zM146.0 254.3h1.2v2.1h-1.2zM154.1 254.3h1.2v2.1h-1.2zM93.8 256.2h1.2v2.1h-1.2zM96.8 256.2h2.2v2.1h-2.2zM99.8 256.2h2.2v2.1h-2.2zM105.9 256.2h2.2v2.1h-2.2zM110.9 256.2h1.2v2.1h-1.2zM114.9 256.2h1.2v2.1h-1.2zM131.0 256.2h1.2v2.1h-1.2zM153.1 256.2h2.2v2.1h-2.2zM157.1 256.2h1.2v2.1h-1.2zM84.8 258.2h2.2v2.1h-2.2zM96.8 258.2h1.2v2.1h-1.2zM100.8 258.2h1.2v2.1h-1.2zM105.9 258.2h1.2v2.1h-1.2zM116.9 258.2h1.2v2.1h-1.2zM140.0 258.2h1.2v2.1h-1.2zM145.0 258.2h1.2v2.1h-1.2zM85.8 260.2h1.2v2.1h-1.2zM98.8 260.2h1.2v2.1h-1.2zM102.8 260.2h1.2v2.1h-1.2zM110.9 260.2h1.2v2.1h-1.2zM113.9 260.2h1.2v2.1h-1.2zM115.9 260.2h1.2v2.1h-1.2zM118.9 260.2h1.2v2.1h-1.2zM134.0 260.2h2.2v2.1h-2.2zM149.1 260.2h1.2v2.1h-1.2zM151.1 260.2h1.2v2.1h-1.2zM79.7 262.2h1.2v2.1h-1.2zM90.8 262.2h1.2v2.1h-1.2zM95.8 262.2h1.2v2.1h-1.2zM105.9 262.2h1.2v2.1h-1.2zM111.9 262.2h1.2v2.1h-1.2zM115.9 262.2h1.2v2.1h-1.2zM118.9 262.2h1.2v2.1h-1.2zM138.0 262.2h2.2v2.1h-2.2zM141.0 262.2h1.2v2.1h-1.2zM144.0 262.2h1.2v2.1h-1.2zM152.1 262.2h2.2v2.1h-2.2zM155.1 262.2h1.2v2.1h-1.2zM75.7 264.2h1.2v2.1h-1.2zM88.8 264.2h1.2v2.1h-1.2zM92.8 264.2h1.2v2.1h-1.2zM99.8 264.2h2.2v2.1h-2.2zM109.9 264.2h1.2v2.1h-1.2zM113.9 264.2h1.2v2.1h-1.2zM118.9 264.2h1.2v2.1h-1.2zM126.0 264.2h1.2v2.1h-1.2zM134.0 264.2h1.2v2.1h-1.2zM152.1 264.2h1.2v2.1h-1.2zM77.7 266.2h1.2v2.1h-1.2zM84.8 266.2h1.2v2.1h-1.2zM93.8 266.2h1.2v2.1h-1.2zM97.8 266.2h1.2v2.1h-1.2zM100.8 266.2h1.2v2.1h-1.2zM103.8 266.2h1.2v2.1h-1.2zM110.9 266.2h1.2v2.1h-1.2zM115.9 266.2h1.2v2.1h-1.2zM130.0 266.2h1.2v2.1h-1.2zM133.0 266.2h1.2v2.1h-1.2zM135.0 266.2h2.2v2.1h-2.2zM149.1 266.2h1.2v2.1h-1.2zM154.1 266.2h1.2v2.1h-1.2zM72.7 268.2h1.2v2.1h-1.2zM95.8 268.2h1.2v2.1h-1.2zM97.8 268.2h2.2v2.1h-2.2zM101.8 268.2h1.2v2.1h-1.2zM110.9 268.2h3.2v2.1h-3.2zM114.9 268.2h2.2v2.1h-2.2zM122.9 268.2h1.2v2.1h-1.2zM129.0 268.2h1.2v2.1h-1.2zM152.1 268.2h1.2v2.1h-1.2zM73.7 270.2h1.2v2.1h-1.2zM86.8 270.2h1.2v2.1h-1.2zM95.8 270.2h1.2v2.1h-1.2zM99.8 270.2h1.2v2.1h-1.2zM101.8 270.2h2.2v2.1h-2.2zM114.9 270.2h1.2v2.1h-1.2zM118.9 270.2h1.2v2.1h-1.2zM132.0 270.2h1.2v2.1h-1.2zM136.0 270.2h1.2v2.1h-1.2zM145.0 270.2h1.2v2.1h-1.2zM151.1 270.2h1.2v2.1h-1.2zM154.1 270.2h3.2v2.1h-3.2zM93.8 272.1h1.2v2.1h-1.2zM120.9 272.1h1.2v2.1h-1.2zM138.0 272.1h1.2v2.1h-1.2zM140.0 272.1h1.2v2.1h-1.2zM151.1 272.1h1.2v2.1h-1.2zM155.1 272.1h1.2v2.1h-1.2zM73.7 274.1h1.2v2.1h-1.2zM93.8 274.1h1.2v2.1h-1.2zM102.8 274.1h1.2v2.1h-1.2zM106.9 274.1h1.2v2.1h-1.2zM123.9 274.1h1.2v2.1h-1.2zM128.0 274.1h1.2v2.1h-1.2zM155.1 274.1h1.2v2.1h-1.2zM76.7 276.1h1.2v2.1h-1.2zM80.7 276.1h1.2v2.1h-1.2zM94.8 276.1h1.2v2.1h-1.2zM99.8 276.1h1.2v2.1h-1.2zM121.9 276.1h1.2v2.1h-1.2zM141.0 276.1h1.2v2.1h-1.2zM143.0 276.1h1.2v2.1h-1.2zM147.0 276.1h1.2v2.1h-1.2zM79.7 278.1h1.2v2.1h-1.2zM81.7 278.1h2.2v2.1h-2.2zM92.8 278.1h4.2v2.1h-4.2zM97.8 278.1h1.2v2.1h-1.2zM101.8 278.1h1.2v2.1h-1.2zM105.9 278.1h2.2v2.1h-2.2zM148.1 278.1h1.2v2.1h-1.2zM73.7 280.1h2.2v2.1h-2.2zM88.8 280.1h1.2v2.1h-1.2zM98.8 280.1h1.2v2.1h-1.2zM102.8 280.1h1.2v2.1h-1.2zM109.9 280.1h1.2v2.1h-1.2zM118.9 280.1h2.2v2.1h-2.2zM121.9 280.1h1.2v2.1h-1.2zM126.0 280.1h1.2v2.1h-1.2zM140.0 280.1h2.2v2.1h-2.2zM150.1 280.1h1.2v2.1h-1.2zM73.7 282.1h1.2v2.1h-1.2zM79.7 282.1h1.2v2.1h-1.2zM93.8 282.1h1.2v2.1h-1.2zM99.8 282.1h1.2v2.1h-1.2zM101.8 282.1h1.2v2.1h-1.2zM112.9 282.1h2.2v2.1h-2.2zM116.9 282.1h1.2v2.1h-1.2zM126.0 282.1h1.2v2.1h-1.2zM129.0 282.1h1.2v2.1h-1.2zM135.0 282.1h1.2v2.1h-1.2zM141.0 282.1h1.2v2.1h-1.2zM146.0 282.1h1.2v2.1h-1.2zM153.1 282.1h1.2v2.1h-1.2zM155.1 282.1h1.2v2.1h-1.2zM157.1 282.1h1.2v2.1h-1.2zM87.8 284.1h1.2v2.1h-1.2zM101.8 284.1h1.2v2.1h-1.2zM120.9 284.1h1.2v2.1h-1.2zM142.0 284.1h2.2v2.1h-2.2zM146.0 284.1h1.2v2.1h-1.2zM148.1 284.1h1.2v2.1h-1.2zM154.1 284.1h1.2v2.1h-1.2zM94.8 286.1h1.2v2.1h-1.2zM97.8 286.1h2.2v2.1h-2.2zM109.9 286.1h1.2v2.1h-1.2zM127.0 286.1h1.2v2.1h-1.2zM134.0 286.1h1.2v2.1h-1.2zM136.0 286.1h1.2v2.1h-1.2zM147.0 286.1h1.2v2.1h-1.2zM151.1 286.1h1.2v2.1h-1.2zM155.1 286.1h1.2v2.1h-1.2zM85.8 288.0h1.2v2.1h-1.2zM100.8 288.0h2.2v2.1h-2.2zM105.9 288.0h2.2v2.1h-2.2zM126.0 288.0h1.2v2.1h-1.2zM134.0 288.0h1.2v2.1h-1.2zM136.0 288.0h1.2v2.1h-1.2zM151.1 288.0h1.2v2.1h-1.2zM155.1 288.0h1.2v2.1h-1.2zM78.7 290.0h1.2v2.1h-1.2zM83.8 290.0h1.2v2.1h-1.2zM91.8 290.0h1.2v2.1h-1.2zM98.8 290.0h1.2v2.1h-1.2zM103.8 290.0h1.2v2.1h-1.2zM105.9 290.0h1.2v2.1h-1.2zM112.9 290.0h1.2v2.1h-1.2zM114.9 290.0h1.2v2.1h-1.2zM120.9 290.0h2.2v2.1h-2.2zM129.0 290.0h1.2v2.1h-1.2zM132.0 290.0h1.2v2.1h-1.2zM135.0 290.0h1.2v2.1h-1.2zM139.0 290.0h2.2v2.1h-2.2zM148.1 290.0h1.2v2.1h-1.2zM150.1 290.0h1.2v2.1h-1.2zM93.8 292.0h1.2v2.1h-1.2zM98.8 292.0h1.2v2.1h-1.2zM108.9 292.0h1.2v2.1h-1.2zM110.9 292.0h1.2v2.1h-1.2zM114.9 292.0h1.2v2.1h-1.2zM118.9 292.0h1.2v2.1h-1.2zM120.9 292.0h1.2v2.1h-1.2zM126.0 292.0h1.2v2.1h-1.2zM140.0 292.0h1.2v2.1h-1.2zM143.0 292.0h1.2v2.1h-1.2zM147.0 292.0h1.2v2.1h-1.2zM151.1 292.0h1.2v2.1h-1.2zM155.1 292.0h1.2v2.1h-1.2zM86.8 294.0h4.2v2.1h-4.2zM93.8 294.0h1.2v2.1h-1.2zM95.8 294.0h1.2v2.1h-1.2zM99.8 294.0h1.2v2.1h-1.2zM102.8 294.0h1.2v2.1h-1.2zM121.9 294.0h1.2v2.1h-1.2zM137.0 294.0h1.2v2.1h-1.2zM141.0 294.0h1.2v2.1h-1.2zM146.0 294.0h1.2v2.1h-1.2zM74.7 296.0h1.2v2.1h-1.2zM92.8 296.0h1.2v2.1h-1.2zM96.8 296.0h1.2v2.1h-1.2zM102.8 296.0h1.2v2.1h-1.2zM111.9 296.0h1.2v2.1h-1.2zM120.9 296.0h1.2v2.1h-1.2zM135.0 296.0h1.2v2.1h-1.2zM142.0 296.0h1.2v2.1h-1.2zM151.1 296.0h1.2v2.1h-1.2zM73.7 298.0h1.2v2.1h-1.2zM93.8 298.0h2.2v2.1h-2.2zM101.8 298.0h1.2v2.1h-1.2zM114.9 298.0h1.2v2.1h-1.2zM119.9 298.0h1.2v2.1h-1.2zM123.9 298.0h1.2v2.1h-1.2zM126.0 298.0h2.2v2.1h-2.2zM138.0 298.0h1.2v2.1h-1.2zM142.0 298.0h1.2v2.1h-1.2zM149.1 298.0h1.2v2.1h-1.2zM151.1 298.0h1.2v2.1h-1.2zM87.8 300.0h1.2v2.1h-1.2zM97.8 300.0h1.2v2.1h-1.2zM106.9 300.0h1.2v2.1h-1.2zM117.9 300.0h1.2v2.1h-1.2zM126.0 300.0h1.2v2.1h-1.2zM128.0 300.0h1.2v2.1h-1.2zM131.0 300.0h1.2v2.1h-1.2zM139.0 300.0h1.2v2.1h-1.2zM145.0 300.0h1.2v2.1h-1.2zM151.1 300.0h1.2v2.1h-1.2zM71.7 302.0h1.2v2.1h-1.2zM79.7 302.0h1.2v2.1h-1.2zM92.8 302.0h1.2v2.1h-1.2zM95.8 302.0h1.2v2.1h-1.2zM99.8 302.0h1.2v2.1h-1.2zM111.9 302.0h1.2v2.1h-1.2zM114.9 302.0h1.2v2.1h-1.2zM117.9 302.0h1.2v2.1h-1.2zM146.0 302.0h1.2v2.1h-1.2zM148.1 302.0h2.2v2.1h-2.2zM152.1 302.0h1.2v2.1h-1.2zM73.7 304.0h1.2v2.1h-1.2zM94.8 304.0h1.2v2.1h-1.2zM109.9 304.0h1.2v2.1h-1.2zM113.9 304.0h2.2v2.1h-2.2zM116.9 304.0h2.2v2.1h-2.2zM123.9 304.0h1.2v2.1h-1.2zM128.0 304.0h1.2v2.1h-1.2zM135.0 304.0h1.2v2.1h-1.2zM141.0 304.0h1.2v2.1h-1.2zM154.1 304.0h1.2v2.1h-1.2zM73.7 305.9h1.2v2.1h-1.2zM75.7 305.9h1.2v2.1h-1.2zM91.8 305.9h1.2v2.1h-1.2zM94.8 305.9h2.2v2.1h-2.2zM118.9 305.9h1.2v2.1h-1.2zM121.9 305.9h1.2v2.1h-1.2zM134.0 305.9h1.2v2.1h-1.2zM149.1 305.9h1.2v2.1h-1.2zM73.7 307.9h1.2v2.1h-1.2zM89.8 307.9h1.2v2.1h-1.2zM93.8 307.9h2.2v2.1h-2.2zM97.8 307.9h1.2v2.1h-1.2zM100.8 307.9h1.2v2.1h-1.2zM103.8 307.9h1.2v2.1h-1.2zM113.9 307.9h2.2v2.1h-2.2zM117.9 307.9h1.2v2.1h-1.2zM140.0 307.9h2.2v2.1h-2.2zM151.1 307.9h1.2v2.1h-1.2zM71.7 309.9h1.2v2.1h-1.2zM74.7 309.9h1.2v2.1h-1.2zM86.8 309.9h1.2v2.1h-1.2zM94.8 309.9h1.2v2.1h-1.2zM97.8 309.9h1.2v2.1h-1.2zM100.8 309.9h1.2v2.1h-1.2zM109.9 309.9h1.2v2.1h-1.2zM121.9 309.9h1.2v2.1h-1.2zM128.0 309.9h1.2v2.1h-1.2zM148.1 309.9h1.2v2.1h-1.2zM151.1 309.9h1.2v2.1h-1.2zM155.1 309.9h1.2v2.1h-1.2zM79.7 311.9h1.2v2.1h-1.2zM85.8 311.9h1.2v2.1h-1.2zM105.9 311.9h1.2v2.1h-1.2zM108.9 311.9h2.2v2.1h-2.2zM120.9 311.9h1.2v2.1h-1.2zM122.9 311.9h1.2v2.1h-1.2zM130.0 311.9h1.2v2.1h-1.2zM138.0 311.9h1.2v2.1h-1.2zM153.1 311.9h1.2v2.1h-1.2zM72.7 313.9h2.2v2.1h-2.2zM75.7 313.9h1.2v2.1h-1.2zM83.8 313.9h1.2v2.1h-1.2zM100.8 313.9h1.2v2.1h-1.2zM102.8 313.9h1.2v2.1h-1.2zM112.9 313.9h1.2v2.1h-1.2zM120.9 313.9h1.2v2.1h-1.2zM126.0 313.9h1.2v2.1h-1.2zM141.0 313.9h1.2v2.1h-1.2zM148.1 313.9h1.2v2.1h-1.2zM151.1 313.9h1.2v2.1h-1.2zM154.1 313.9h1.2v2.1h-1.2zM157.1 313.9h1.2v2.1h-1.2zM72.7 315.9h1.2v2.1h-1.2zM81.7 315.9h1.2v2.1h-1.2zM86.8 315.9h1.2v2.1h-1.2zM91.8 315.9h1.2v2.1h-1.2zM96.8 315.9h1.2v2.1h-1.2zM99.8 315.9h1.2v2.1h-1.2zM102.8 315.9h1.2v2.1h-1.2zM112.9 315.9h1.2v2.1h-1.2zM116.9 315.9h1.2v2.1h-1.2zM127.0 315.9h1.2v2.1h-1.2zM129.0 315.9h2.2v2.1h-2.2zM139.0 315.9h1.2v2.1h-1.2zM142.0 315.9h1.2v2.1h-1.2zM144.0 315.9h1.2v2.1h-1.2zM146.0 315.9h1.2v2.1h-1.2zM149.1 315.9h1.2v2.1h-1.2zM71.7 317.9h2.2v2.1h-2.2zM77.7 317.9h1.2v2.1h-1.2zM83.8 317.9h1.2v2.1h-1.2zM91.8 317.9h2.2v2.1h-2.2zM97.8 317.9h1.2v2.1h-1.2zM99.8 317.9h2.2v2.1h-2.2zM128.0 317.9h1.2v2.1h-1.2zM137.0 317.9h1.2v2.1h-1.2zM146.0 317.9h1.2v2.1h-1.2zM149.1 317.9h2.2v2.1h-2.2zM156.1 317.9h2.2v2.1h-2.2zM76.7 319.9h1.2v2.1h-1.2zM80.7 319.9h1.2v2.1h-1.2zM86.8 319.9h1.2v2.1h-1.2zM88.8 319.9h2.2v2.1h-2.2zM91.8 319.9h1.2v2.1h-1.2zM96.8 319.9h2.2v2.1h-2.2zM102.8 319.9h1.2v2.1h-1.2zM122.9 319.9h2.2v2.1h-2.2zM134.0 319.9h1.2v2.1h-1.2zM137.0 319.9h2.2v2.1h-2.2zM140.0 319.9h1.2v2.1h-1.2zM144.0 319.9h1.2v2.1h-1.2zM146.0 319.9h1.2v2.1h-1.2zM71.7 321.8h1.2v2.1h-1.2zM74.7 321.8h2.2v2.1h-2.2zM84.8 321.8h1.2v2.1h-1.2zM86.8 321.8h1.2v2.1h-1.2zM91.8 321.8h1.2v2.1h-1.2zM102.8 321.8h1.2v2.1h-1.2zM131.0 321.8h2.2v2.1h-2.2zM137.0 321.8h1.2v2.1h-1.2zM148.1 321.8h1.2v2.1h-1.2zM150.1 321.8h2.2v2.1h-2.2zM78.7 323.8h1.2v2.1h-1.2zM83.8 323.8h2.2v2.1h-2.2zM91.8 323.8h1.2v2.1h-1.2zM102.8 323.8h2.2v2.1h-2.2zM132.0 323.8h1.2v2.1h-1.2zM137.0 323.8h1.2v2.1h-1.2zM144.0 323.8h1.2v2.1h-1.2zM150.1 323.8h1.2v2.1h-1.2zM154.1 323.8h1.2v2.1h-1.2zM71.7 325.8h2.2v2.1h-2.2zM76.7 325.8h1.2v2.1h-1.2zM81.7 325.8h1.2v2.1h-1.2zM86.8 325.8h2.2v2.1h-2.2zM91.8 325.8h1.2v2.1h-1.2zM100.8 325.8h1.2v2.1h-1.2zM102.8 325.8h1.2v2.1h-1.2zM120.9 325.8h1.2v2.1h-1.2zM130.0 325.8h1.2v2.1h-1.2zM140.0 325.8h1.2v2.1h-1.2zM145.0 325.8h1.2v2.1h-1.2zM147.0 325.8h1.2v2.1h-1.2zM151.1 325.8h1.2v2.1h-1.2zM156.1 325.8h2.2v2.1h-2.2zM71.7 327.8h2.2v2.1h-2.2zM87.8 327.8h1.2v2.1h-1.2zM89.8 327.8h1.2v2.1h-1.2zM93.8 327.8h1.2v2.1h-1.2zM108.9 327.8h1.2v2.1h-1.2zM130.0 327.8h1.2v2.1h-1.2zM132.0 327.8h1.2v2.1h-1.2zM143.0 327.8h1.2v2.1h-1.2zM146.0 327.8h1.2v2.1h-1.2zM157.1 327.8h1.2v2.1h-1.2zM77.7 329.8h1.2v2.1h-1.2zM83.8 329.8h1.2v2.1h-1.2zM86.8 329.8h1.2v2.1h-1.2zM92.8 329.8h2.2v2.1h-2.2zM100.8 329.8h2.2v2.1h-2.2zM142.0 329.8h1.2v2.1h-1.2zM149.1 329.8h1.2v2.1h-1.2zM71.7 331.8h2.2v2.1h-2.2zM76.7 331.8h4.2v2.1h-4.2zM86.8 331.8h1.2v2.1h-1.2zM89.8 331.8h1.2v2.1h-1.2zM92.8 331.8h2.2v2.1h-2.2zM96.8 331.8h2.2v2.1h-2.2zM99.8 331.8h1.2v2.1h-1.2zM122.9 331.8h1.2v2.1h-1.2zM128.0 331.8h1.2v2.1h-1.2zM131.0 331.8h1.2v2.1h-1.2zM136.0 331.8h1.2v2.1h-1.2zM138.0 331.8h2.2v2.1h-2.2zM142.0 331.8h1.2v2.1h-1.2zM149.1 331.8h1.2v2.1h-1.2zM155.1 331.8h1.2v2.1h-1.2zM157.1 331.8h1.2v2.1h-1.2zM72.7 333.8h1.2v2.1h-1.2zM79.7 333.8h1.2v2.1h-1.2zM82.8 333.8h2.2v2.1h-2.2zM94.8 333.8h2.2v2.1h-2.2zM104.9 333.8h1.2v2.1h-1.2zM122.9 333.8h2.2v2.1h-2.2zM128.0 333.8h1.2v2.1h-1.2zM131.0 333.8h1.2v2.1h-1.2zM134.0 333.8h1.2v2.1h-1.2zM140.0 333.8h2.2v2.1h-2.2zM152.1 333.8h2.2v2.1h-2.2zM71.7 335.8h1.2v2.1h-1.2zM75.7 335.8h1.2v2.1h-1.2zM79.7 335.8h2.2v2.1h-2.2zM83.8 335.8h1.2v2.1h-1.2zM85.8 335.8h1.2v2.1h-1.2zM102.8 335.8h1.2v2.1h-1.2zM131.0 335.8h1.2v2.1h-1.2zM135.0 335.8h1.2v2.1h-1.2zM142.0 335.8h2.2v2.1h-2.2zM153.1 335.8h1.2v2.1h-1.2zM71.7 337.7h1.2v2.1h-1.2zM76.7 337.7h2.2v2.1h-2.2zM83.8 337.7h1.2v2.1h-1.2zM89.8 337.7h1.2v2.1h-1.2zM101.8 337.7h2.2v2.1h-2.2zM106.9 337.7h1.2v2.1h-1.2zM145.0 337.7h1.2v2.1h-1.2zM154.1 337.7h2.2v2.1h-2.2zM157.1 337.7h1.2v2.1h-1.2zM75.7 339.7h1.2v2.1h-1.2zM79.7 339.7h1.2v2.1h-1.2zM82.8 339.7h1.2v2.1h-1.2zM84.8 339.7h2.2v2.1h-2.2zM88.8 339.7h1.2v2.1h-1.2zM93.8 339.7h1.2v2.1h-1.2zM97.8 339.7h1.2v2.1h-1.2zM101.8 339.7h1.2v2.1h-1.2zM107.9 339.7h3.2v2.1h-3.2zM112.9 339.7h2.2v2.1h-2.2zM124.9 339.7h1.2v2.1h-1.2zM127.0 339.7h2.2v2.1h-2.2zM131.0 339.7h1.2v2.1h-1.2zM140.0 339.7h1.2v2.1h-1.2zM144.0 339.7h1.2v2.1h-1.2zM150.1 339.7h1.2v2.1h-1.2zM153.1 339.7h1.2v2.1h-1.2zM90.8 341.7h1.2v2.1h-1.2zM93.8 341.7h1.2v2.1h-1.2zM102.8 341.7h1.2v2.1h-1.2zM105.9 341.7h1.2v2.1h-1.2zM111.9 341.7h1.2v2.1h-1.2zM113.9 341.7h1.2v2.1h-1.2zM116.9 341.7h2.2v2.1h-2.2zM129.0 341.7h1.2v2.1h-1.2zM134.0 341.7h1.2v2.1h-1.2zM138.0 341.7h1.2v2.1h-1.2zM146.0 341.7h1.2v2.1h-1.2zM154.1 341.7h1.2v2.1h-1.2zM76.7 343.7h1.2v2.1h-1.2zM79.7 343.7h1.2v2.1h-1.2zM84.8 343.7h1.2v2.1h-1.2zM90.8 343.7h1.2v2.1h-1.2zM92.8 343.7h1.2v2.1h-1.2zM101.8 343.7h1.2v2.1h-1.2zM126.0 343.7h1.2v2.1h-1.2zM131.0 343.7h1.2v2.1h-1.2zM134.0 343.7h1.2v2.1h-1.2zM137.0 343.7h1.2v2.1h-1.2zM139.0 343.7h1.2v2.1h-1.2zM141.0 343.7h1.2v2.1h-1.2zM144.0 343.7h1.2v2.1h-1.2zM148.1 343.7h1.2v2.1h-1.2zM153.1 343.7h1.2v2.1h-1.2zM157.1 343.7h1.2v2.1h-1.2zM83.8 345.7h1.2v2.1h-1.2zM85.8 345.7h1.2v2.1h-1.2zM97.8 345.7h1.2v2.1h-1.2zM101.8 345.7h1.2v2.1h-1.2zM104.9 345.7h1.2v2.1h-1.2zM110.9 345.7h3.2v2.1h-3.2zM114.9 345.7h1.2v2.1h-1.2zM119.9 345.7h1.2v2.1h-1.2zM139.0 345.7h1.2v2.1h-1.2zM141.0 345.7h1.2v2.1h-1.2zM144.0 345.7h1.2v2.1h-1.2zM149.1 345.7h1.2v2.1h-1.2zM154.1 345.7h1.2v2.1h-1.2zM71.7 347.7h1.2v2.1h-1.2zM76.7 347.7h1.2v2.1h-1.2zM91.8 347.7h1.2v2.1h-1.2zM104.9 347.7h1.2v2.1h-1.2zM107.9 347.7h1.2v2.1h-1.2zM111.9 347.7h1.2v2.1h-1.2zM113.9 347.7h3.2v2.1h-3.2zM122.9 347.7h1.2v2.1h-1.2zM127.0 347.7h1.2v2.1h-1.2zM133.0 347.7h1.2v2.1h-1.2zM135.0 347.7h1.2v2.1h-1.2zM146.0 347.7h1.2v2.1h-1.2zM150.1 347.7h3.2v2.1h-3.2zM154.1 347.7h1.2v2.1h-1.2zM71.7 349.7h1.2v2.1h-1.2zM73.7 349.7h1.2v2.1h-1.2zM77.7 349.7h1.2v2.1h-1.2zM83.8 349.7h1.2v2.1h-1.2zM87.8 349.7h2.2v2.1h-2.2zM91.8 349.7h1.2v2.1h-1.2zM94.8 349.7h2.2v2.1h-2.2zM105.9 349.7h3.2v2.1h-3.2zM113.9 349.7h1.2v2.1h-1.2zM123.9 349.7h1.2v2.1h-1.2zM129.0 349.7h2.2v2.1h-2.2zM138.0 349.7h1.2v2.1h-1.2zM141.0 349.7h2.2v2.1h-2.2zM147.0 349.7h1.2v2.1h-1.2zM153.1 349.7h1.2v2.1h-1.2zM155.1 349.7h1.2v2.1h-1.2zM75.7 351.7h1.2v2.1h-1.2zM81.7 351.7h1.2v2.1h-1.2zM97.8 351.7h1.2v2.1h-1.2zM105.9 351.7h1.2v2.1h-1.2zM112.9 351.7h2.2v2.1h-2.2zM124.9 351.7h1.2v2.1h-1.2zM131.0 351.7h1.2v2.1h-1.2zM136.0 351.7h1.2v2.1h-1.2zM138.0 351.7h1.2v2.1h-1.2zM147.0 351.7h1.2v2.1h-1.2zM150.1 351.7h2.2v2.1h-2.2zM72.7 353.6h2.2v2.1h-2.2zM76.7 353.6h1.2v2.1h-1.2zM82.8 353.6h1.2v2.1h-1.2zM85.8 353.6h1.2v2.1h-1.2zM93.8 353.6h1.2v2.1h-1.2zM101.8 353.6h1.2v2.1h-1.2zM105.9 353.6h1.2v2.1h-1.2zM110.9 353.6h2.2v2.1h-2.2zM114.9 353.6h2.2v2.1h-2.2zM117.9 353.6h2.2v2.1h-2.2zM121.9 353.6h1.2v2.1h-1.2zM123.9 353.6h1.2v2.1h-1.2zM128.0 353.6h1.2v2.1h-1.2zM130.0 353.6h1.2v2.1h-1.2zM136.0 353.6h1.2v2.1h-1.2zM140.0 353.6h1.2v2.1h-1.2zM144.0 353.6h1.2v2.1h-1.2zM147.0 353.6h1.2v2.1h-1.2zM149.1 353.6h1.2v2.1h-1.2zM155.1 353.6h2.2v2.1h-2.2zM74.7 355.6h2.2v2.1h-2.2zM83.8 355.6h1.2v2.1h-1.2zM101.8 355.6h2.2v2.1h-2.2zM116.9 355.6h1.2v2.1h-1.2zM120.9 355.6h2.2v2.1h-2.2zM123.9 355.6h2.2v2.1h-2.2zM132.0 355.6h1.2v2.1h-1.2zM134.0 355.6h1.2v2.1h-1.2zM136.0 355.6h1.2v2.1h-1.2zM138.0 355.6h1.2v2.1h-1.2zM142.0 355.6h2.2v2.1h-2.2zM145.0 355.6h3.2v2.1h-3.2zM155.1 355.6h1.2v2.1h-1.2zM73.7 357.6h1.2v2.1h-1.2zM75.7 357.6h2.2v2.1h-2.2zM78.7 357.6h1.2v2.1h-1.2zM83.8 357.6h1.2v2.1h-1.2zM98.8 357.6h1.2v2.1h-1.2zM100.8 357.6h2.2v2.1h-2.2zM107.9 357.6h1.2v2.1h-1.2zM114.9 357.6h1.2v2.1h-1.2zM120.9 357.6h2.2v2.1h-2.2zM132.0 357.6h2.2v2.1h-2.2zM135.0 357.6h1.2v2.1h-1.2zM141.0 357.6h2.2v2.1h-2.2zM80.7 359.6h1.2v2.1h-1.2zM84.8 359.6h1.2v2.1h-1.2zM99.8 359.6h1.2v2.1h-1.2zM104.9 359.6h1.2v2.1h-1.2zM106.9 359.6h1.2v2.1h-1.2zM110.9 359.6h1.2v2.1h-1.2zM113.9 359.6h2.2v2.1h-2.2zM116.9 359.6h1.2v2.1h-1.2zM120.9 359.6h2.2v2.1h-2.2zM128.0 359.6h1.2v2.1h-1.2zM130.0 359.6h1.2v2.1h-1.2zM136.0 359.6h2.2v2.1h-2.2zM148.1 359.6h1.2v2.1h-1.2zM153.1 359.6h2.2v2.1h-2.2z"/>
<path shape-rendering="crispEdges" fill="#22a185" d="M74.7 230.4h1.2v2.1h-1.2zM82.8 230.4h1.2v2.1h-1.2zM86.8 230.4h1.2v2.1h-1.2zM95.8 230.4h1.2v2.1h-1.2zM99.8 230.4h1.2v2.1h-1.2zM110.9 230.4h1.2v2.1h-1.2zM117.9 230.4h1.2v2.1h-1.2zM144.0 230.4h1.2v2.1h-1.2zM153.1 230.4h1.2v2.1h-1.2zM111.9 232.4h1.2v2.1h-1.2zM120.9 232.4h1.2v2.1h-1.2zM132.0 232.4h1.2v2.1h-1.2zM147.0 232.4h1.2v2.1h-1.2zM74.7 234.4h1.2v2.1h-1.2zM84.8 234.4h1.2v2.1h-1.2zM88.8 234.4h1.2v2.1h-1.2zM95.8 234.4h1.2v2.1h-1.2zM97.8 234.4h1.2v2.1h-1.2zM120.9 234.4h1.2v2.1h-1.2zM132.0 234.4h2.2v2.1h-2.2zM139.0 234.4h1.2v2.1h-1.2zM147.0 234.4h1.2v2.1h-1.2zM72.7 236.4h1.2v2.1h-1.2zM88.8 236.4h1.2v2.1h-1.2zM110.9 236.4h1.2v2.1h-1.2zM121.9 236.4h1.2v2.1h-1.2zM147.0 236.4h1.2v2.1h-1.2zM94.8 238.4h1.2v2.1h-1.2zM97.8 238.4h1.2v2.1h-1.2zM111.9 238.4h1.2v2.1h-1.2zM119.9 238.4h1.2v2.1h-1.2zM137.0 238.4h1.2v2.1h-1.2zM71.7 240.3h1.2v2.1h-1.2zM87.8 240.3h2.2v2.1h-2.2zM96.8 240.3h3.2v2.1h-3.2zM102.8 240.3h1.2v2.1h-1.2zM117.9 240.3h1.2v2.1h-1.2zM120.9 240.3h1.2v2.1h-1.2zM133.0 240.3h1.2v2.1h-1.2zM135.0 240.3h1.2v2.1h-1.2zM139.0 240.3h1.2v2.1h-1.2zM155.1 240.3h1.2v2.1h-1.2zM81.7 242.3h1.2v2.1h-1.2zM84.8 242.3h1.2v2.1h-1.2zM89.8 242.3h1.2v2.1h-1.2zM99.8 242.3h2.2v2.1h-2.2zM133.0 242.3h2.2v2.1h-2.2zM153.1 242.3h1.2v2.1h-1.2zM74.7 244.3h1.2v2.1h-1.2zM76.7 244.3h1.2v2.1h-1.2zM88.8 244.3h2.2v2.1h-2.2zM116.9 244.3h1.2v2.1h-1.2zM120.9 244.3h1.2v2.1h-1.2zM132.0 244.3h1.2v2.1h-1.2zM138.0 244.3h2.2v2.1h-2.2zM154.1 244.3h1.2v2.1h-1.2zM78.7 246.3h1.2v2.1h-1.2zM81.7 246.3h1.2v2.1h-1.2zM93.8 246.3h1.2v2.1h-1.2zM97.8 246.3h1.2v2.1h-1.2zM111.9 246.3h1.2v2.1h-1.2zM131.0 246.3h1.2v2.1h-1.2zM143.0 246.3h1.2v2.1h-1.2zM149.1 246.3h1.2v2.1h-1.2zM157.1 246.3h1.2v2.1h-1.2zM72.7 248.3h1.2v2.1h-1.2zM79.7 248.3h1.2v2.1h-1.2zM89.8 248.3h1.2v2.1h-1.2zM110.9 248.3h1.2v2.1h-1.2zM113.9 248.3h2.2v2.1h-2.2zM116.9 248.3h2.2v2.1h-2.2zM131.0 248.3h1.2v2.1h-1.2zM135.0 248.3h1.2v2.1h-1.2zM137.0 248.3h1.2v2.1h-1.2zM139.0 248.3h1.2v2.1h-1.2zM146.0 248.3h1.2v2.1h-1.2zM148.1 248.3h1.2v2.1h-1.2zM156.1 248.3h2.2v2.1h-2.2zM78.7 250.3h1.2v2.1h-1.2zM84.8 250.3h2.2v2.1h-2.2zM87.8 250.3h1.2v2.1h-1.2zM94.8 250.3h1.2v2.1h-1.2zM105.9 250.3h1.2v2.1h-1.2zM108.9 250.3h1.2v2.1h-1.2zM110.9 250.3h1.2v2.1h-1.2zM137.0 250.3h3.2v2.1h-3.2zM146.0 250.3h1.2v2.1h-1.2zM149.1 250.3h2.2v2.1h-2.2zM73.7 252.3h1.2v2.1h-1.2zM81.7 252.3h1.2v2.1h-1.2zM83.8 252.3h1.2v2.1h-1.2zM90.8 252.3h1.2v2.1h-1.2zM100.8 252.3h2.2v2.1h-2.2zM112.9 252.3h2.2v2.1h-2.2zM133.0 252.3h2.2v2.1h-2.2zM138.0 252.3h1.2v2.1h-1.2zM146.0 252.3h3.2v2.1h-3.2zM151.1 252.3h1.2v2.1h-1.2zM157.1 252.3h1.2v2.1h-1.2zM77.7 254.3h1.2v2.1h-1.2zM84.8 254.3h1.2v2.1h-1.2zM88.8 254.3h1.2v2.1h-1.2zM98.8 254.3h1.2v2.1h-1.2zM111.9 254.3h1.2v2.1h-1.2zM116.9 254.3h1.2v2.1h-1.2zM118.9 254.3h1.2v2.1h-1.2zM120.9 254.3h1.2v2.1h-1.2zM131.0 254.3h3.2v2.1h-3.2zM144.0 254.3h1.2v2.1h-1.2zM151.1 254.3h2.2v2.1h-2.2zM155.1 254.3h3.2v2.1h-3.2zM76.7 256.2h2.2v2.1h-2.2zM82.8 256.2h1.2v2.1h-1.2zM84.8 256.2h1.2v2.1h-1.2zM92.8 256.2h1.2v2.1h-1.2zM94.8 256.2h2.2v2.1h-2.2zM98.8 256.2h1.2v2.1h-1.2zM102.8 256.2h1.2v2.1h-1.2zM113.9 256.2h1.2v2.1h-1.2zM115.9 256.2h2.2v2.1h-2.2zM118.9 256.2h1.2v2.1h-1.2zM130.0 256.2h1.2v2.1h-1.2zM136.0 256.2h3.2v2.1h-3.2zM145.0 256.2h1.2v2.1h-1.2zM148.1 256.2h1.2v2.1h-1.2zM151.1 256.2h1.2v2.1h-1.2zM86.8 258.2h1.2v2.1h-1.2zM90.8 258.2h4.2v2.1h-4.2zM95.8 258.2h1.2v2.1h-1.2zM97.8 258.2h1.2v2.1h-1.2zM102.8 258.2h1.2v2.1h-1.2zM119.9 258.2h2.2v2.1h-2.2zM132.0 258.2h3.2v2.1h-3.2zM138.0 258.2h1.2v2.1h-1.2zM146.0 258.2h2.2v2.1h-2.2zM152.1 258.2h1.2v2.1h-1.2zM157.1 258.2h1.2v2.1h-1.2zM88.8 260.2h1.2v2.1h-1.2zM90.8 260.2h1.2v2.1h-1.2zM93.8 260.2h1.2v2.1h-1.2zM95.8 260.2h1.2v2.1h-1.2zM97.8 260.2h1.2v2.1h-1.2zM99.8 260.2h1.2v2.1h-1.2zM111.9 260.2h1.2v2.1h-1.2zM131.0 260.2h3.2v2.1h-3.2zM137.0 260.2h2.2v2.1h-2.2zM148.1 260.2h1.2v2.1h-1.2zM152.1 260.2h1.2v2.1h-1.2zM76.7 262.2h2.2v2.1h-2.2zM82.8 262.2h1.2v2.1h-1.2zM89.8 262.2h1.2v2.1h-1.2zM91.8 262.2h1.2v2.1h-1.2zM96.8 262.2h1.2v2.1h-1.2zM99.8 262.2h1.2v2.1h-1.2zM101.8 262.2h1.2v2.1h-1.2zM107.9 262.2h1.2v2.1h-1.2zM110.9 262.2h1.2v2.1h-1.2zM117.9 262.2h1.2v2.1h-1.2zM119.9 262.2h1.2v2.1h-1.2zM132.0 262.2h1.2v2.1h-1.2zM134.0 262.2h3.2v2.1h-3.2zM142.0 262.2h2.2v2.1h-2.2zM147.0 262.2h1.2v2.1h-1.2zM149.1 262.2h1.2v2.1h-1.2zM154.1 262.2h1.2v2.1h-1.2zM80.7 264.2h1.2v2.1h-1.2zM89.8 264.2h1.2v2.1h-1.2zM101.8 264.2h1.2v2.1h-1.2zM119.9 264.2h1.2v2.1h-1.2zM132.0 264.2h2.2v2.1h-2.2zM136.0 264.2h1.2v2.1h-1.2zM138.0 264.2h1.2v2.1h-1.2zM145.0 264.2h1.2v2.1h-1.2zM149.1 264.2h2.2v2.1h-2.2zM156.1 264.2h2.2v2.1h-2.2zM76.7 266.2h1.2v2.1h-1.2zM86.8 266.2h1.2v2.1h-1.2zM95.8 266.2h2.2v2.1h-2.2zM99.8 266.2h1.2v2.1h-1.2zM112.9 266.2h1.2v2.1h-1.2zM118.9 266.2h1.2v2.1h-1.2zM124.9 266.2h1.2v2.1h-1.2zM134.0 266.2h1.2v2.1h-1.2zM139.0 266.2h1.2v2.1h-1.2zM141.0 266.2h1.2v2.1h-1.2zM145.0 266.2h1.2v2.1h-1.2zM150.1 266.2h1.2v2.1h-1.2zM84.8 268.2h1.2v2.1h-1.2zM86.8 268.2h1.2v2.1h-1.2zM93.8 268.2h1.2v2.1h-1.2zM102.8 268.2h1.2v2.1h-1.2zM130.0 268.2h1.2v2.1h-1.2zM146.0 268.2h1.2v2.1h-1.2zM148.1 268.2h1.2v2.1h-1.2zM71.7 270.2h1.2v2.1h-1.2zM78.7 270.2h3.2v2.1h-3.2zM85.8 270.2h1.2v2.1h-1.2zM90.8 270.2h1.2v2.1h-1.2zM100.8 270.2h1.2v2.1h-1.2zM111.9 270.2h1.2v2.1h-1.2zM116.9 270.2h1.2v2.1h-1.2zM134.0 270.2h1.2v2.1h-1.2zM147.0 270.2h1.2v2.1h-1.2zM74.7 272.1h1.2v2.1h-1.2zM83.8 272.1h1.2v2.1h-1.2zM123.9 272.1h2.2v2.1h-2.2zM131.0 272.1h2.2v2.1h-2.2zM142.0 272.1h1.2v2.1h-1.2zM146.0 272.1h1.2v2.1h-1.2zM95.8 274.1h1.2v2.1h-1.2zM132.0 274.1h1.2v2.1h-1.2zM135.0 274.1h1.2v2.1h-1.2zM137.0 274.1h1.2v2.1h-1.2zM141.0 274.1h1.2v2.1h-1.2zM144.0 274.1h1.2v2.1h-1.2zM148.1 274.1h1.2v2.1h-1.2zM74.7 276.1h1.2v2.1h-1.2zM81.7 276.1h1.2v2.1h-1.2zM100.8 276.1h1.2v2.1h-1.2zM109.9 276.1h2.2v2.1h-2.2zM129.0 276.1h1.2v2.1h-1.2zM144.0 276.1h1.2v2.1h-1.2zM152.1 276.1h2.2v2.1h-2.2zM155.1 276.1h1.2v2.1h-1.2zM71.7 278.1h1.2v2.1h-1.2zM73.7 278.1h1.2v2.1h-1.2zM109.9 278.1h1.2v2.1h-1.2zM121.9 278.1h1.2v2.1h-1.2zM123.9 278.1h1.2v2.1h-1.2zM126.0 278.1h1.2v2.1h-1.2zM129.0 278.1h1.2v2.1h-1.2zM132.0 278.1h1.2v2.1h-1.2zM140.0 278.1h2.2v2.1h-2.2zM146.0 278.1h1.2v2.1h-1.2zM153.1 278.1h1.2v2.1h-1.2zM157.1 278.1h1.2v2.1h-1.2zM97.8 280.1h1.2v2.1h-1.2zM114.9 280.1h1.2v2.1h-1.2zM128.0 280.1h1.2v2.1h-1.2zM132.0 280.1h2.2v2.1h-2.2zM136.0 280.1h1.2v2.1h-1.2zM139.0 280.1h1.2v2.1h-1.2zM143.0 280.1h3.2v2.1h-3.2zM147.0 280.1h1.2v2.1h-1.2zM110.9 282.1h1.2v2.1h-1.2zM123.9 282.1h1.2v2.1h-1.2zM127.0 282.1h2.2v2.1h-2.2zM137.0 282.1h1.2v2.1h-1.2zM139.0 282.1h1.2v2.1h-1.2zM83.8 284.1h1.2v2.1h-1.2zM91.8 284.1h1.2v2.1h-1.2zM99.8 284.1h1.2v2.1h-1.2zM113.9 284.1h2.2v2.1h-2.2zM123.9 284.1h2.2v2.1h-2.2zM127.0 284.1h2.2v2.1h-2.2zM155.1 284.1h1.2v2.1h-1.2zM157.1 284.1h1.2v2.1h-1.2zM103.8 286.1h1.2v2.1h-1.2zM118.9 286.1h1.2v2.1h-1.2zM131.0 286.1h1.2v2.1h-1.2zM133.0 286.1h1.2v2.1h-1.2zM138.0 286.1h1.2v2.1h-1.2zM146.0 286.1h1.2v2.1h-1.2zM157.1 286.1h1.2v2.1h-1.2zM96.8 288.0h1.2v2.1h-1.2zM119.9 288.0h1.2v2.1h-1.2zM131.0 288.0h1.2v2.1h-1.2zM138.0 288.0h1.2v2.1h-1.2zM141.0 288.0h1.2v2.1h-1.2zM144.0 288.0h1.2v2.1h-1.2zM149.1 288.0h1.2v2.1h-1.2zM157.1 288.0h1.2v2.1h-1.2zM80.7 290.0h1.2v2.1h-1.2zM92.8 290.0h1.2v2.1h-1.2zM94.8 290.0h2.2v2.1h-2.2zM123.9 290.0h1.2v2.1h-1.2zM127.0 290.0h2.2v2.1h-2.2zM137.0 290.0h1.2v2.1h-1.2zM157.1 290.0h1.2v2.1h-1.2zM99.8 292.0h1.2v2.1h-1.2zM101.8 292.0h2.2v2.1h-2.2zM111.9 292.0h1.2v2.1h-1.2zM123.9 292.0h1.2v2.1h-1.2zM127.0 292.0h1.2v2.1h-1.2zM129.0 292.0h3.2v2.1h-3.2zM137.0 292.0h1.2v2.1h-1.2zM142.0 292.0h1.2v2.1h-1.2zM94.8 294.0h1.2v2.1h-1.2zM96.8 294.0h1.2v2.1h-1.2zM98.8 294.0h1.2v2.1h-1.2zM111.9 294.0h1.2v2.1h-1.2zM120.9 294.0h1.2v2.1h-1.2zM122.9 294.0h1.2v2.1h-1.2zM126.0 294.0h1.2v2.1h-1.2zM128.0 294.0h2.2v2.1h-2.2zM132.0 294.0h2.2v2.1h-2.2zM135.0 294.0h1.2v2.1h-1.2zM140.0 294.0h1.2v2.1h-1.2zM142.0 294.0h1.2v2.1h-1.2zM147.0 294.0h1.2v2.1h-1.2zM150.1 294.0h1.2v2.1h-1.2zM72.7 296.0h1.2v2.1h-1.2zM93.8 296.0h1.2v2.1h-1.2zM95.8 296.0h1.2v2.1h-1.2zM113.9 296.0h1.2v2.1h-1.2zM123.9 296.0h2.2v2.1h-2.2zM128.0 296.0h3.2v2.1h-3.2zM139.0 296.0h1.2v2.1h-1.2zM147.0 296.0h1.2v2.1h-1.2zM154.1 296.0h1.2v2.1h-1.2zM81.7 298.0h1.2v2.1h-1.2zM89.8 298.0h1.2v2.1h-1.2zM91.8 298.0h1.2v2.1h-1.2zM102.8 298.0h1.2v2.1h-1.2zM110.9 298.0h1.2v2.1h-1.2zM121.9 298.0h1.2v2.1h-1.2zM135.0 298.0h1.2v2.1h-1.2zM137.0 298.0h1.2v2.1h-1.2zM141.0 298.0h1.2v2.1h-1.2zM148.1 298.0h1.2v2.1h-1.2zM155.1 298.0h1.2v2.1h-1.2zM157.1 298.0h1.2v2.1h-1.2zM73.7 300.0h1.2v2.1h-1.2zM98.8 300.0h1.2v2.1h-1.2zM100.8 300.0h1.2v2.1h-1.2zM123.9 300.0h1.2v2.1h-1.2zM127.0 300.0h1.2v2.1h-1.2zM129.0 300.0h1.2v2.1h-1.2zM133.0 300.0h1.2v2.1h-1.2zM135.0 300.0h2.2v2.1h-2.2zM147.0 300.0h1.2v2.1h-1.2zM152.1 300.0h1.2v2.1h-1.2zM73.7 302.0h1.2v2.1h-1.2zM76.7 302.0h1.2v2.1h-1.2zM86.8 302.0h1.2v2.1h-1.2zM93.8 302.0h1.2v2.1h-1.2zM105.9 302.0h1.2v2.1h-1.2zM123.9 302.0h1.2v2.1h-1.2zM128.0 302.0h1.2v2.1h-1.2zM140.0 302.0h1.2v2.1h-1.2zM143.0 302.0h1.2v2.1h-1.2zM153.1 302.0h1.2v2.1h-1.2zM157.1 302.0h1.2v2.1h-1.2zM71.7 304.0h1.2v2.1h-1.2zM81.7 304.0h1.2v2.1h-1.2zM87.8 304.0h1.2v2.1h-1.2zM91.8 304.0h1.2v2.1h-1.2zM104.9 304.0h1.2v2.1h-1.2zM106.9 304.0h1.2v2.1h-1.2zM112.9 304.0h1.2v2.1h-1.2zM126.0 304.0h1.2v2.1h-1.2zM139.0 304.0h1.2v2.1h-1.2zM147.0 304.0h1.2v2.1h-1.2zM93.8 305.9h1.2v2.1h-1.2zM100.8 305.9h1.2v2.1h-1.2zM102.8 305.9h1.2v2.1h-1.2zM123.9 305.9h2.2v2.1h-2.2zM129.0 305.9h1.2v2.1h-1.2zM138.0 305.9h1.2v2.1h-1.2zM142.0 305.9h2.2v2.1h-2.2zM145.0 305.9h1.2v2.1h-1.2zM151.1 305.9h1.2v2.1h-1.2zM99.8 307.9h1.2v2.1h-1.2zM109.9 307.9h1.2v2.1h-1.2zM121.9 307.9h1.2v2.1h-1.2zM126.0 307.9h1.2v2.1h-1.2zM131.0 307.9h2.2v2.1h-2.2zM146.0 307.9h1.2v2.1h-1.2zM150.1 307.9h1.2v2.1h-1.2zM157.1 307.9h1.2v2.1h-1.2zM91.8 309.9h1.2v2.1h-1.2zM102.8 309.9h1.2v2.1h-1.2zM111.9 309.9h1.2v2.1h-1.2zM120.9 309.9h1.2v2.1h-1.2zM126.0 309.9h1.2v2.1h-1.2zM138.0 309.9h3.2v2.1h-3.2zM143.0 309.9h1.2v2.1h-1.2zM152.1 309.9h1.2v2.1h-1.2zM94.8 311.9h1.2v2.1h-1.2zM124.9 311.9h1.2v2.1h-1.2zM128.0 311.9h2.2v2.1h-2.2zM135.0 311.9h1.2v2.1h-1.2zM137.0 311.9h1.2v2.1h-1.2zM143.0 311.9h1.2v2.1h-1.2zM155.1 311.9h1.2v2.1h-1.2zM74.7 313.9h1.2v2.1h-1.2zM99.8 313.9h1.2v2.1h-1.2zM101.8 313.9h1.2v2.1h-1.2zM111.9 313.9h1.2v2.1h-1.2zM115.9 313.9h1.2v2.1h-1.2zM122.9 313.9h1.2v2.1h-1.2zM127.0 313.9h1.2v2.1h-1.2zM135.0 313.9h3.2v2.1h-3.2zM144.0 313.9h1.2v2.1h-1.2zM146.0 313.9h2.2v2.1h-2.2zM150.1 313.9h1.2v2.1h-1.2zM152.1 313.9h1.2v2.1h-1.2zM79.7 315.9h1.2v2.1h-1.2zM94.8 315.9h1.2v2.1h-1.2zM100.8 315.9h2.2v2.1h-2.2zM106.9 315.9h1.2v2.1h-1.2zM113.9 315.9h1.2v2.1h-1.2zM121.9 315.9h1.2v2.1h-1.2zM137.0 315.9h2.2v2.1h-2.2zM140.0 315.9h1.2v2.1h-1.2zM143.0 315.9h1.2v2.1h-1.2zM150.1 315.9h1.2v2.1h-1.2zM155.1 315.9h1.2v2.1h-1.2zM157.1 315.9h1.2v2.1h-1.2zM73.7 317.9h1.2v2.1h-1.2zM93.8 317.9h1.2v2.1h-1.2zM118.9 317.9h1.2v2.1h-1.2zM120.9 317.9h1.2v2.1h-1.2zM134.0 317.9h1.2v2.1h-1.2zM138.0 317.9h1.2v2.1h-1.2zM144.0 317.9h1.2v2.1h-1.2zM147.0 317.9h1.2v2.1h-1.2zM152.1 317.9h1.2v2.1h-1.2zM154.1 317.9h1.2v2.1h-1.2zM71.7 319.9h1.2v2.1h-1.2zM74.7 319.9h2.2v2.1h-2.2zM83.8 319.9h3.2v2.1h-3.2zM95.8 319.9h1.2v2.1h-1.2zM100.8 319.9h1.2v2.1h-1.2zM108.9 319.9h1.2v2.1h-1.2zM131.0 319.9h1.2v2.1h-1.2zM136.0 319.9h1.2v2.1h-1.2zM139.0 319.9h1.2v2.1h-1.2zM142.0 319.9h2.2v2.1h-2.2zM147.0 319.9h1.2v2.1h-1.2zM153.1 319.9h1.2v2.1h-1.2zM101.8 321.8h1.2v2.1h-1.2zM104.9 321.8h1.2v2.1h-1.2zM117.9 321.8h1.2v2.1h-1.2zM119.9 321.8h1.2v2.1h-1.2zM134.0 321.8h1.2v2.1h-1.2zM145.0 321.8h1.2v2.1h-1.2zM154.1 321.8h2.2v2.1h-2.2zM72.7 323.8h2.2v2.1h-2.2zM79.7 323.8h1.2v2.1h-1.2zM82.8 323.8h1.2v2.1h-1.2zM93.8 323.8h1.2v2.1h-1.2zM96.8 323.8h1.2v2.1h-1.2zM113.9 323.8h1.2v2.1h-1.2zM117.9 323.8h1.2v2.1h-1.2zM127.0 323.8h1.2v2.1h-1.2zM131.0 323.8h1.2v2.1h-1.2zM134.0 323.8h1.2v2.1h-1.2zM138.0 323.8h1.2v2.1h-1.2zM157.1 323.8h1.2v2.1h-1.2zM77.7 325.8h1.2v2.1h-1.2zM92.8 325.8h1.2v2.1h-1.2zM104.9 325.8h1.2v2.1h-1.2zM107.9 325.8h1.2v2.1h-1.2zM115.9 325.8h1.2v2.1h-1.2zM133.0 325.8h3.2v2.1h-3.2zM139.0 325.8h1.2v2.1h-1.2zM143.0 325.8h2.2v2.1h-2.2zM155.1 325.8h1.2v2.1h-1.2zM73.7 327.8h1.2v2.1h-1.2zM76.7 327.8h1.2v2.1h-1.2zM94.8 327.8h1.2v2.1h-1.2zM101.8 327.8h1.2v2.1h-1.2zM107.9 327.8h1.2v2.1h-1.2zM112.9 327.8h1.2v2.1h-1.2zM134.0 327.8h1.2v2.1h-1.2zM136.0 327.8h1.2v2.1h-1.2zM149.1 327.8h1.2v2.1h-1.2zM75.7 329.8h1.2v2.1h-1.2zM81.7 329.8h2.2v2.1h-2.2zM85.8 329.8h1.2v2.1h-1.2zM88.8 329.8h1.2v2.1h-1.2zM91.8 329.8h1.2v2.1h-1.2zM104.9 329.8h1.2v2.1h-1.2zM117.9 329.8h1.2v2.1h-1.2zM134.0 329.8h1.2v2.1h-1.2zM139.0 329.8h1.2v2.1h-1.2zM154.1 329.8h1.2v2.1h-1.2zM75.7 331.8h1.2v2.1h-1.2zM84.8 331.8h1.2v2.1h-1.2zM95.8 331.8h1.2v2.1h-1.2zM108.9 331.8h1.2v2.1h-1.2zM124.9 331.8h1.2v2.1h-1.2zM154.1 331.8h1.2v2.1h-1.2zM84.8 333.8h2.2v2.1h-2.2zM93.8 333.8h1.2v2.1h-1.2zM107.9 333.8h1.2v2.1h-1.2zM112.9 333.8h1.2v2.1h-1.2zM120.9 333.8h1.2v2.1h-1.2zM132.0 333.8h1.2v2.1h-1.2zM137.0 333.8h1.2v2.1h-1.2zM142.0 333.8h1.2v2.1h-1.2zM146.0 333.8h2.2v2.1h-2.2zM149.1 333.8h1.2v2.1h-1.2zM156.1 333.8h1.2v2.1h-1.2zM73.7 335.8h1.2v2.1h-1.2zM82.8 335.8h1.2v2.1h-1.2zM100.8 335.8h1.2v2.1h-1.2zM103.8 335.8h1.2v2.1h-1.2zM107.9 335.8h1.2v2.1h-1.2zM119.9 335.8h1.2v2.1h-1.2zM132.0 335.8h1.2v2.1h-1.2zM149.1 335.8h2.2v2.1h-2.2zM154.1 335.8h2.2v2.1h-2.2zM74.7 337.7h1.2v2.1h-1.2zM78.7 337.7h1.2v2.1h-1.2zM85.8 337.7h1.2v2.1h-1.2zM87.8 337.7h1.2v2.1h-1.2zM92.8 337.7h1.2v2.1h-1.2zM104.9 337.7h1.2v2.1h-1.2zM117.9 337.7h1.2v2.1h-1.2zM133.0 337.7h1.2v2.1h-1.2zM138.0 337.7h1.2v2.1h-1.2zM141.0 337.7h1.2v2.1h-1.2zM149.1 337.7h2.2v2.1h-2.2zM76.7 339.7h1.2v2.1h-1.2zM80.7 339.7h1.2v2.1h-1.2zM92.8 339.7h1.2v2.1h-1.2zM116.9 339.7h1.2v2.1h-1.2zM118.9 339.7h1.2v2.1h-1.2zM129.0 339.7h2.2v2.1h-2.2zM133.0 339.7h1.2v2.1h-1.2zM135.0 339.7h1.2v2.1h-1.2zM138.0 339.7h1.2v2.1h-1.2zM141.0 339.7h1.2v2.1h-1.2zM143.0 339.7h1.2v2.1h-1.2zM146.0 339.7h1.2v2.1h-1.2zM149.1 339.7h1.2v2.1h-1.2zM151.1 339.7h1.2v2.1h-1.2zM154.1 339.7h1.2v2.1h-1.2zM77.7 341.7h1.2v2.1h-1.2zM79.7 341.7h1.2v2.1h-1.2zM81.7 341.7h1.2v2.1h-1.2zM84.8 341.7h1.2v2.1h-1.2zM92.8 341.7h1.2v2.1h-1.2zM94.8 341.7h1.2v2.1h-1.2zM100.8 341.7h1.2v2.1h-1.2zM123.9 341.7h1.2v2.1h-1.2zM126.0 341.7h1.2v2.1h-1.2zM137.0 341.7h1.2v2.1h-1.2zM147.0 341.7h1.2v2.1h-1.2zM149.1 341.7h1.2v2.1h-1.2zM153.1 341.7h1.2v2.1h-1.2zM72.7 343.7h1.2v2.1h-1.2zM77.7 343.7h1.2v2.1h-1.2zM80.7 343.7h1.2v2.1h-1.2zM85.8 343.7h2.2v2.1h-2.2zM89.8 343.7h1.2v2.1h-1.2zM91.8 343.7h1.2v2.1h-1.2zM94.8 343.7h1.2v2.1h-1.2zM106.9 343.7h3.2v2.1h-3.2zM112.9 343.7h1.2v2.1h-1.2zM120.9 343.7h2.2v2.1h-2.2zM124.9 343.7h1.2v2.1h-1.2zM128.0 343.7h1.2v2.1h-1.2zM142.0 343.7h1.2v2.1h-1.2zM150.1 343.7h1.2v2.1h-1.2zM152.1 343.7h1.2v2.1h-1.2zM154.1 343.7h1.2v2.1h-1.2zM94.8 345.7h1.2v2.1h-1.2zM106.9 345.7h2.2v2.1h-2.2zM116.9 345.7h3.2v2.1h-3.2zM127.0 345.7h1.2v2.1h-1.2zM131.0 345.7h2.2v2.1h-2.2zM146.0 345.7h1.2v2.1h-1.2zM150.1 345.7h1.2v2.1h-1.2zM157.1 345.7h1.2v2.1h-1.2zM72.7 347.7h1.2v2.1h-1.2zM85.8 347.7h1.2v2.1h-1.2zM93.8 347.7h1.2v2.1h-1.2zM97.8 347.7h1.2v2.1h-1.2zM100.8 347.7h1.2v2.1h-1.2zM117.9 347.7h2.2v2.1h-2.2zM128.0 347.7h1.2v2.1h-1.2zM130.0 347.7h1.2v2.1h-1.2zM132.0 347.7h1.2v2.1h-1.2zM142.0 347.7h1.2v2.1h-1.2zM93.8 349.7h1.2v2.1h-1.2zM98.8 349.7h1.2v2.1h-1.2zM102.8 349.7h1.2v2.1h-1.2zM110.9 349.7h2.2v2.1h-2.2zM117.9 349.7h1.2v2.1h-1.2zM137.0 349.7h1.2v2.1h-1.2zM145.0 349.7h2.2v2.1h-2.2zM150.1 349.7h1.2v2.1h-1.2zM73.7 351.7h2.2v2.1h-2.2zM79.7 351.7h1.2v2.1h-1.2zM92.8 351.7h1.2v2.1h-1.2zM107.9 351.7h1.2v2.1h-1.2zM111.9 351.7h1.2v2.1h-1.2zM116.9 351.7h2.2v2.1h-2.2zM120.9 351.7h1.2v2.1h-1.2zM122.9 351.7h1.2v2.1h-1.2zM127.0 351.7h1.2v2.1h-1.2zM129.0 351.7h1.2v2.1h-1.2zM140.0 351.7h1.2v2.1h-1.2zM142.0 351.7h1.2v2.1h-1.2zM148.1 351.7h2.2v2.1h-2.2zM157.1 351.7h1.2v2.1h-1.2zM81.7 353.6h1.2v2.1h-1.2zM91.8 353.6h2.2v2.1h-2.2zM94.8 353.6h1.2v2.1h-1.2zM99.8 353.6h1.2v2.1h-1.2zM102.8 353.6h1.2v2.1h-1.2zM108.9 353.6h2.2v2.1h-2.2zM131.0 353.6h1.2v2.1h-1.2zM134.0 353.6h1.2v2.1h-1.2zM138.0 353.6h2.2v2.1h-2.2zM142.0 353.6h1.2v2.1h-1.2zM154.1 353.6h1.2v2.1h-1.2zM91.8 355.6h1.2v2.1h-1.2zM96.8 355.6h1.2v2.1h-1.2zM105.9 355.6h1.2v2.1h-1.2zM108.9 355.6h2.2v2.1h-2.2zM111.9 355.6h1.2v2.1h-1.2zM117.9 355.6h1.2v2.1h-1.2zM119.9 355.6h1.2v2.1h-1.2zM122.9 355.6h1.2v2.1h-1.2zM131.0 355.6h1.2v2.1h-1.2zM135.0 355.6h1.2v2.1h-1.2zM151.1 355.6h1.2v2.1h-1.2zM74.7 357.6h1.2v2.1h-1.2zM79.7 357.6h2.2v2.1h-2.2zM91.8 357.6h1.2v2.1h-1.2zM94.8 357.6h1.2v2.1h-1.2zM104.9 357.6h1.2v2.1h-1.2zM116.9 357.6h2.2v2.1h-2.2zM119.9 357.6h1.2v2.1h-1.2zM122.9 357.6h2.2v2.1h-2.2zM126.0 357.6h1.2v2.1h-1.2zM129.0 357.6h1.2v2.1h-1.2zM136.0 357.6h1.2v2.1h-1.2zM143.0 357.6h2.2v2.1h-2.2zM149.1 357.6h3.2v2.1h-3.2zM154.1 357.6h1.2v2.1h-1.2zM72.7 359.6h1.2v2.1h-1.2zM88.8 359.6h2.2v2.1h-2.2zM93.8 359.6h2.2v2.1h-2.2zM101.8 359.6h1.2v2.1h-1.2zM108.9 359.6h1.2v2.1h-1.2zM117.9 359.6h1.2v2.1h-1.2zM132.0 359.6h1.2v2.1h-1.2zM135.0 359.6h1.2v2.1h-1.2zM140.0 359.6h1.2v2.1h-1.2zM142.0 359.6h1.2v2.1h-1.2zM146.0 359.6h1.2v2.1h-1.2z"/>
<path shape-rendering="crispEdges" fill="#46b46e" d="M76.7 230.4h1.2v2.1h-1.2zM85.8 230.4h1.2v2.1h-1.2zM89.8 230.4h2.2v2.1h-2.2zM96.8 230.4h2.2v2.1h-2.2zM100.8 230.4h1.2v2.1h-1.2zM111.9 230.4h1.2v2.1h-1.2zM113.9 230.4h1.2v2.1h-1.2zM120.9 230.4h1.2v2.1h-1.2zM79.7 232.4h1.2v2.1h-1.2zM91.8 232.4h1.2v2.1h-1.2zM113.9 232.4h1.2v2.1h-1.2zM115.9 232.4h2.2v2.1h-2.2zM118.9 232.4h1.2v2.1h-1.2zM81.7 234.4h1.2v2.1h-1.2zM91.8 234.4h1.2v2.1h-1.2zM96.8 234.4h1.2v2.1h-1.2zM99.8 234.4h1.2v2.1h-1.2zM131.0 234.4h1.2v2.1h-1.2zM134.0 234.4h1.2v2.1h-1.2zM149.1 234.4h1.2v2.1h-1.2zM151.1 234.4h1.2v2.1h-1.2zM155.1 234.4h1.2v2.1h-1.2zM74.7 236.4h2.2v2.1h-2.2zM89.8 236.4h2.2v2.1h-2.2zM101.8 236.4h1.2v2.1h-1.2zM113.9 236.4h2.2v2.1h-2.2zM131.0 236.4h1.2v2.1h-1.2zM148.1 236.4h1.2v2.1h-1.2zM151.1 236.4h1.2v2.1h-1.2zM86.8 238.4h1.2v2.1h-1.2zM89.8 238.4h1.2v2.1h-1.2zM93.8 238.4h1.2v2.1h-1.2zM96.8 238.4h1.2v2.1h-1.2zM116.9 238.4h1.2v2.1h-1.2zM141.0 238.4h1.2v2.1h-1.2zM81.7 240.3h1.2v2.1h-1.2zM86.8 240.3h1.2v2.1h-1.2zM116.9 240.3h1.2v2.1h-1.2zM136.0 240.3h1.2v2.1h-1.2zM146.0 240.3h1.2v2.1h-1.2zM87.8 242.3h1.2v2.1h-1.2zM96.8 242.3h1.2v2.1h-1.2zM110.9 242.3h1.2v2.1h-1.2zM119.9 242.3h2.2v2.1h-2.2zM151.1 242.3h1.2v2.1h-1.2zM71.7 244.3h3.2v2.1h-3.2zM131.0 244.3h1.2v2.1h-1.2zM133.0 244.3h2.2v2.1h-2.2zM146.0 244.3h1.2v2.1h-1.2zM151.1 244.3h1.2v2.1h-1.2zM83.8 246.3h1.2v2.1h-1.2zM88.8 246.3h5.2v2.1h-5.2zM96.8 246.3h1.2v2.1h-1.2zM98.8 246.3h1.2v2.1h-1.2zM112.9 246.3h1.2v2.1h-1.2zM132.0 246.3h3.2v2.1h-3.2zM146.0 246.3h1.2v2.1h-1.2zM151.1 246.3h2.2v2.1h-2.2zM74.7 248.3h1.2v2.1h-1.2zM87.8 248.3h2.2v2.1h-2.2zM92.8 248.3h1.2v2.1h-1.2zM119.9 248.3h1.2v2.1h-1.2zM136.0 248.3h1.2v2.1h-1.2zM147.0 248.3h1.2v2.1h-1.2zM151.1 248.3h1.2v2.1h-1.2zM76.7 250.3h1.2v2.1h-1.2zM79.7 250.3h2.2v2.1h-2.2zM86.8 250.3h1.2v2.1h-1.2zM88.8 250.3h1.2v2.1h-1.2zM95.8 250.3h1.2v2.1h-1.2zM102.8 250.3h1.2v2.1h-1.2zM115.9 250.3h1.2v2.1h-1.2zM136.0 250.3h1.2v2.1h-1.2zM151.1 250.3h1.2v2.1h-1.2zM74.7 252.3h2.2v2.1h-2.2zM80.7 252.3h1.2v2.1h-1.2zM82.8 252.3h1.2v2.1h-1.2zM91.8 252.3h1.2v2.1h-1.2zM95.8 252.3h1.2v2.1h-1.2zM120.9 252.3h1.2v2.1h-1.2zM131.0 252.3h1.2v2.1h-1.2zM73.7 254.3h1.2v2.1h-1.2zM75.7 254.3h1.2v2.1h-1.2zM78.7 254.3h1.2v2.1h-1.2zM85.8 254.3h2.2v2.1h-2.2zM93.8 254.3h1.2v2.1h-1.2zM99.8 254.3h1.2v2.1h-1.2zM113.9 254.3h1.2v2.1h-1.2zM135.0 254.3h1.2v2.1h-1.2zM137.0 254.3h1.2v2.1h-1.2zM71.7 256.2h1.2v2.1h-1.2zM75.7 256.2h1.2v2.1h-1.2zM80.7 256.2h1.2v2.1h-1.2zM83.8 256.2h1.2v2.1h-1.2zM88.8 256.2h4.2v2.1h-4.2zM101.8 256.2h1.2v2.1h-1.2zM117.9 256.2h1.2v2.1h-1.2zM119.9 256.2h1.2v2.1h-1.2zM134.0 256.2h1.2v2.1h-1.2zM144.0 256.2h1.2v2.1h-1.2zM155.1 256.2h1.2v2.1h-1.2zM71.7 258.2h1.2v2.1h-1.2zM78.7 258.2h1.2v2.1h-1.2zM89.8 258.2h1.2v2.1h-1.2zM118.9 258.2h1.2v2.1h-1.2zM136.0 258.2h1.2v2.1h-1.2zM151.1 258.2h1.2v2.1h-1.2zM71.7 260.2h1.2v2.1h-1.2zM78.7 260.2h1.2v2.1h-1.2zM82.8 260.2h1.2v2.1h-1.2zM86.8 260.2h2.2v2.1h-2.2zM91.8 260.2h1.2v2.1h-1.2zM101.8 260.2h1.2v2.1h-1.2zM114.9 260.2h1.2v2.1h-1.2zM116.9 260.2h1.2v2.1h-1.2zM73.7 262.2h3.2v2.1h-3.2zM78.7 262.2h1.2v2.1h-1.2zM83.8 262.2h1.2v2.1h-1.2zM86.8 262.2h2.2v2.1h-2.2zM92.8 262.2h2.2v2.1h-2.2zM97.8 262.2h1.2v2.1h-1.2zM100.8 262.2h1.2v2.1h-1.2zM113.9 262.2h1.2v2.1h-1.2zM151.1 262.2h1.2v2.1h-1.2zM157.1 262.2h1.2v2.1h-1.2zM72.7 264.2h1.2v2.1h-1.2zM76.7 264.2h3.2v2.1h-3.2zM81.7 264.2h2.2v2.1h-2.2zM85.8 264.2h1.2v2.1h-1.2zM93.8 264.2h1.2v2.1h-1.2zM116.9 264.2h1.2v2.1h-1.2zM131.0 264.2h1.2v2.1h-1.2zM137.0 264.2h1.2v2.1h-1.2zM147.0 264.2h2.2v2.1h-2.2zM151.1 264.2h1.2v2.1h-1.2zM72.7 266.2h1.2v2.1h-1.2zM75.7 266.2h1.2v2.1h-1.2zM78.7 266.2h2.2v2.1h-2.2zM87.8 266.2h1.2v2.1h-1.2zM90.8 266.2h2.2v2.1h-2.2zM94.8 266.2h1.2v2.1h-1.2zM98.8 266.2h1.2v2.1h-1.2zM114.9 266.2h1.2v2.1h-1.2zM120.9 266.2h1.2v2.1h-1.2zM131.0 266.2h1.2v2.1h-1.2zM147.0 266.2h1.2v2.1h-1.2zM155.1 266.2h2.2v2.1h-2.2zM75.7 268.2h2.2v2.1h-2.2zM78.7 268.2h1.2v2.1h-1.2zM89.8 268.2h2.2v2.1h-2.2zM92.8 268.2h1.2v2.1h-1.2zM94.8 268.2h1.2v2.1h-1.2zM105.9 268.2h1.2v2.1h-1.2zM116.9 268.2h1.2v2.1h-1.2zM118.9 268.2h1.2v2.1h-1.2zM131.0 268.2h1.2v2.1h-1.2zM133.0 268.2h1.2v2.1h-1.2zM139.0 268.2h1.2v2.1h-1.2zM142.0 268.2h1.2v2.1h-1.2zM145.0 268.2h1.2v2.1h-1.2zM151.1 268.2h1.2v2.1h-1.2zM154.1 268.2h1.2v2.1h-1.2zM74.7 270.2h1.2v2.1h-1.2zM77.7 270.2h1.2v2.1h-1.2zM82.8 270.2h1.2v2.1h-1.2zM84.8 270.2h1.2v2.1h-1.2zM113.9 270.2h1.2v2.1h-1.2zM119.9 270.2h1.2v2.1h-1.2zM133.0 270.2h1.2v2.1h-1.2zM144.0 270.2h1.2v2.1h-1.2zM73.7 272.1h1.2v2.1h-1.2zM91.8 272.1h1.2v2.1h-1.2zM97.8 272.1h1.2v2.1h-1.2zM100.8 272.1h1.2v2.1h-1.2zM126.0 272.1h1.2v2.1h-1.2zM129.0 272.1h1.2v2.1h-1.2zM134.0 272.1h1.2v2.1h-1.2zM136.0 272.1h1.2v2.1h-1.2zM96.8 274.1h1.2v2.1h-1.2zM99.8 274.1h1.2v2.1h-1.2zM101.8 274.1h1.2v2.1h-1.2zM114.9 274.1h1.2v2.1h-1.2zM121.9 274.1h2.2v2.1h-2.2zM126.0 274.1h1.2v2.1h-1.2zM134.0 274.1h1.2v2.1h-1.2zM142.0 274.1h2.2v2.1h-2.2zM156.1 274.1h1.2v2.1h-1.2zM113.9 276.1h1.2v2.1h-1.2zM132.0 276.1h1.2v2.1h-1.2zM137.0 276.1h1.2v2.1h-1.2zM142.0 276.1h1.2v2.1h-1.2zM157.1 276.1h1.2v2.1h-1.2zM99.8 278.1h2.2v2.1h-2.2zM113.9 278.1h1.2v2.1h-1.2zM127.0 278.1h1.2v2.1h-1.2zM133.0 278.1h1.2v2.1h-1.2zM135.0 278.1h1.2v2.1h-1.2zM137.0 278.1h2.2v2.1h-2.2zM151.1 278.1h1.2v2.1h-1.2zM138.0 280.1h1.2v2.1h-1.2zM154.1 280.1h1.2v2.1h-1.2zM157.1 280.1h1.2v2.1h-1.2zM102.8 282.1h1.2v2.1h-1.2zM130.0 282.1h1.2v2.1h-1.2zM133.0 282.1h2.2v2.1h-2.2zM136.0 282.1h1.2v2.1h-1.2zM122.9 284.1h1.2v2.1h-1.2zM129.0 284.1h1.2v2.1h-1.2zM131.0 284.1h1.2v2.1h-1.2zM134.0 284.1h2.2v2.1h-2.2zM140.0 284.1h1.2v2.1h-1.2zM147.0 284.1h1.2v2.1h-1.2zM121.9 286.1h1.2v2.1h-1.2zM139.0 286.1h1.2v2.1h-1.2zM154.1 286.1h1.2v2.1h-1.2zM93.8 288.0h1.2v2.1h-1.2zM124.9 288.0h1.2v2.1h-1.2zM130.0 288.0h1.2v2.1h-1.2zM135.0 288.0h1.2v2.1h-1.2zM137.0 288.0h1.2v2.1h-1.2zM100.8 290.0h1.2v2.1h-1.2zM122.9 290.0h1.2v2.1h-1.2zM124.9 290.0h1.2v2.1h-1.2zM136.0 292.0h1.2v2.1h-1.2zM141.0 292.0h1.2v2.1h-1.2zM157.1 292.0h1.2v2.1h-1.2zM124.9 294.0h1.2v2.1h-1.2zM134.0 294.0h1.2v2.1h-1.2zM136.0 294.0h1.2v2.1h-1.2zM139.0 294.0h1.2v2.1h-1.2zM144.0 294.0h1.2v2.1h-1.2zM157.1 294.0h1.2v2.1h-1.2zM94.8 296.0h1.2v2.1h-1.2zM101.8 296.0h1.2v2.1h-1.2zM121.9 296.0h2.2v2.1h-2.2zM126.0 296.0h1.2v2.1h-1.2zM132.0 296.0h1.2v2.1h-1.2zM136.0 296.0h1.2v2.1h-1.2zM143.0 296.0h1.2v2.1h-1.2zM97.8 298.0h1.2v2.1h-1.2zM122.9 298.0h1.2v2.1h-1.2zM129.0 298.0h3.2v2.1h-3.2zM144.0 298.0h1.2v2.1h-1.2zM146.0 298.0h1.2v2.1h-1.2zM93.8 300.0h1.2v2.1h-1.2zM121.9 300.0h1.2v2.1h-1.2zM124.9 300.0h1.2v2.1h-1.2zM132.0 300.0h1.2v2.1h-1.2zM134.0 300.0h1.2v2.1h-1.2zM138.0 300.0h1.2v2.1h-1.2zM140.0 300.0h1.2v2.1h-1.2zM143.0 300.0h1.2v2.1h-1.2zM102.8 302.0h1.2v2.1h-1.2zM126.0 302.0h2.2v2.1h-2.2zM129.0 302.0h1.2v2.1h-1.2zM135.0 302.0h1.2v2.1h-1.2zM137.0 302.0h1.2v2.1h-1.2zM139.0 302.0h1.2v2.1h-1.2zM141.0 302.0h1.2v2.1h-1.2zM154.1 302.0h1.2v2.1h-1.2zM95.8 304.0h1.2v2.1h-1.2zM103.8 304.0h1.2v2.1h-1.2zM124.9 304.0h1.2v2.1h-1.2zM127.0 304.0h1.2v2.1h-1.2zM130.0 304.0h2.2v2.1h-2.2zM140.0 304.0h1.2v2.1h-1.2zM142.0 304.0h2.2v2.1h-2.2zM146.0 304.0h1.2v2.1h-1.2zM151.1 304.0h1.2v2.1h-1.2zM155.1 304.0h1.2v2.1h-1.2zM99.8 305.9h1.2v2.1h-1.2zM110.9 305.9h1.2v2.1h-1.2zM122.9 305.9h1.2v2.1h-1.2zM126.0 305.9h1.2v2.1h-1.2zM128.0 305.9h1.2v2.1h-1.2zM135.0 305.9h1.2v2.1h-1.2zM137.0 305.9h1.2v2.1h-1.2zM140.0 305.9h1.2v2.1h-1.2zM102.8 307.9h1.2v2.1h-1.2zM133.0 307.9h1.2v2.1h-1.2zM135.0 307.9h3.2v2.1h-3.2zM139.0 307.9h1.2v2.1h-1.2zM93.8 309.9h1.2v2.1h-1.2zM127.0 309.9h1.2v2.1h-1.2zM130.0 309.9h1.2v2.1h-1.2zM144.0 309.9h1.2v2.1h-1.2zM157.1 309.9h1.2v2.1h-1.2zM140.0 311.9h2.2v2.1h-2.2zM81.7 313.9h1.2v2.1h-1.2zM94.8 313.9h1.2v2.1h-1.2zM128.0 313.9h2.2v2.1h-2.2zM139.0 313.9h1.2v2.1h-1.2zM143.0 313.9h1.2v2.1h-1.2zM93.8 315.9h1.2v2.1h-1.2zM105.9 315.9h1.2v2.1h-1.2zM108.9 315.9h1.2v2.1h-1.2zM122.9 315.9h4.2v2.1h-4.2zM76.7 317.9h1.2v2.1h-1.2zM85.8 317.9h1.2v2.1h-1.2zM87.8 317.9h1.2v2.1h-1.2zM90.8 317.9h1.2v2.1h-1.2zM108.9 317.9h1.2v2.1h-1.2zM115.9 317.9h3.2v2.1h-3.2zM139.0 317.9h1.2v2.1h-1.2zM155.1 317.9h1.2v2.1h-1.2zM79.7 319.9h1.2v2.1h-1.2zM92.8 319.9h1.2v2.1h-1.2zM101.8 319.9h1.2v2.1h-1.2zM115.9 319.9h1.2v2.1h-1.2zM118.9 319.9h1.2v2.1h-1.2zM145.0 319.9h1.2v2.1h-1.2zM152.1 319.9h1.2v2.1h-1.2zM81.7 321.8h1.2v2.1h-1.2zM87.8 321.8h1.2v2.1h-1.2zM107.9 321.8h1.2v2.1h-1.2zM113.9 321.8h1.2v2.1h-1.2zM133.0 321.8h1.2v2.1h-1.2zM136.0 321.8h1.2v2.1h-1.2zM74.7 323.8h1.2v2.1h-1.2zM111.9 323.8h1.2v2.1h-1.2zM119.9 323.8h1.2v2.1h-1.2zM145.0 323.8h1.2v2.1h-1.2zM151.1 323.8h1.2v2.1h-1.2zM155.1 323.8h2.2v2.1h-2.2zM74.7 325.8h1.2v2.1h-1.2zM80.7 325.8h1.2v2.1h-1.2zM83.8 325.8h1.2v2.1h-1.2zM106.9 325.8h1.2v2.1h-1.2zM112.9 325.8h1.2v2.1h-1.2zM132.0 325.8h1.2v2.1h-1.2zM138.0 325.8h1.2v2.1h-1.2zM78.7 327.8h1.2v2.1h-1.2zM83.8 327.8h1.2v2.1h-1.2zM119.9 327.8h2.2v2.1h-2.2zM137.0 327.8h1.2v2.1h-1.2zM139.0 327.8h1.2v2.1h-1.2zM155.1 327.8h1.2v2.1h-1.2zM71.7 329.8h1.2v2.1h-1.2zM78.7 329.8h1.2v2.1h-1.2zM80.7 329.8h1.2v2.1h-1.2zM105.9 329.8h1.2v2.1h-1.2zM110.9 329.8h1.2v2.1h-1.2zM114.9 329.8h1.2v2.1h-1.2zM155.1 329.8h1.2v2.1h-1.2zM157.1 329.8h1.2v2.1h-1.2zM83.8 331.8h1.2v2.1h-1.2zM107.9 331.8h1.2v2.1h-1.2zM112.9 331.8h1.2v2.1h-1.2zM116.9 331.8h1.2v2.1h-1.2zM135.0 331.8h1.2v2.1h-1.2zM151.1 331.8h1.2v2.1h-1.2zM71.7 333.8h1.2v2.1h-1.2zM91.8 333.8h1.2v2.1h-1.2zM96.8 333.8h1.2v2.1h-1.2zM101.8 333.8h2.2v2.1h-2.2zM115.9 333.8h1.2v2.1h-1.2zM136.0 333.8h1.2v2.1h-1.2zM138.0 333.8h1.2v2.1h-1.2zM155.1 333.8h1.2v2.1h-1.2zM157.1 333.8h1.2v2.1h-1.2zM72.7 335.8h1.2v2.1h-1.2zM81.7 335.8h1.2v2.1h-1.2zM104.9 335.8h3.2v2.1h-3.2zM108.9 335.8h1.2v2.1h-1.2zM114.9 335.8h1.2v2.1h-1.2zM116.9 335.8h1.2v2.1h-1.2zM138.0 335.8h1.2v2.1h-1.2zM84.8 337.7h1.2v2.1h-1.2zM96.8 337.7h1.2v2.1h-1.2zM103.8 337.7h1.2v2.1h-1.2zM105.9 337.7h1.2v2.1h-1.2zM110.9 337.7h1.2v2.1h-1.2zM119.9 337.7h2.2v2.1h-2.2zM131.0 337.7h1.2v2.1h-1.2zM142.0 337.7h1.2v2.1h-1.2zM151.1 337.7h1.2v2.1h-1.2zM71.7 339.7h2.2v2.1h-2.2zM78.7 339.7h1.2v2.1h-1.2zM83.8 339.7h1.2v2.1h-1.2zM95.8 339.7h1.2v2.1h-1.2zM98.8 339.7h1.2v2.1h-1.2zM122.9 339.7h1.2v2.1h-1.2zM134.0 339.7h1.2v2.1h-1.2zM137.0 339.7h1.2v2.1h-1.2zM147.0 339.7h2.2v2.1h-2.2zM155.1 339.7h1.2v2.1h-1.2zM157.1 339.7h1.2v2.1h-1.2zM72.7 341.7h2.2v2.1h-2.2zM85.8 341.7h1.2v2.1h-1.2zM96.8 341.7h1.2v2.1h-1.2zM106.9 341.7h1.2v2.1h-1.2zM109.9 341.7h2.2v2.1h-2.2zM124.9 341.7h1.2v2.1h-1.2zM127.0 341.7h1.2v2.1h-1.2zM131.0 341.7h2.2v2.1h-2.2zM143.0 341.7h1.2v2.1h-1.2zM151.1 341.7h1.2v2.1h-1.2zM155.1 341.7h1.2v2.1h-1.2zM73.7 343.7h1.2v2.1h-1.2zM83.8 343.7h1.2v2.1h-1.2zM88.8 343.7h1.2v2.1h-1.2zM95.8 343.7h1.2v2.1h-1.2zM97.8 343.7h1.2v2.1h-1.2zM100.8 343.7h1.2v2.1h-1.2zM113.9 343.7h2.2v2.1h-2.2zM122.9 343.7h1.2v2.1h-1.2zM136.0 343.7h1.2v2.1h-1.2zM138.0 343.7h1.2v2.1h-1.2zM140.0 343.7h1.2v2.1h-1.2zM147.0 343.7h1.2v2.1h-1.2zM155.1 343.7h1.2v2.1h-1.2zM86.8 345.7h1.2v2.1h-1.2zM105.9 345.7h1.2v2.1h-1.2zM108.9 345.7h1.2v2.1h-1.2zM129.0 345.7h1.2v2.1h-1.2zM133.0 345.7h1.2v2.1h-1.2zM136.0 345.7h1.2v2.1h-1.2zM102.8 347.7h1.2v2.1h-1.2zM105.9 347.7h1.2v2.1h-1.2zM120.9 347.7h2.2v2.1h-2.2zM131.0 347.7h1.2v2.1h-1.2zM134.0 347.7h1.2v2.1h-1.2zM136.0 347.7h1.2v2.1h-1.2zM138.0 347.7h3.2v2.1h-3.2zM143.0 347.7h1.2v2.1h-1.2zM72.7 349.7h1.2v2.1h-1.2zM81.7 349.7h1.2v2.1h-1.2zM92.8 349.7h1.2v2.1h-1.2zM100.8 349.7h2.2v2.1h-2.2zM103.8 349.7h1.2v2.1h-1.2zM109.9 349.7h1.2v2.1h-1.2zM122.9 349.7h1.2v2.1h-1.2zM124.9 349.7h1.2v2.1h-1.2zM127.0 349.7h1.2v2.1h-1.2zM133.0 349.7h1.2v2.1h-1.2zM135.0 349.7h1.2v2.1h-1.2zM139.0 349.7h1.2v2.1h-1.2zM144.0 349.7h1.2v2.1h-1.2zM148.1 349.7h1.2v2.1h-1.2zM152.1 349.7h1.2v2.1h-1.2zM156.1 349.7h2.2v2.1h-2.2zM82.8 351.7h1.2v2.1h-1.2zM93.8 351.7h1.2v2.1h-1.2zM103.8 351.7h1.2v2.1h-1.2zM118.9 351.7h1.2v2.1h-1.2zM130.0 351.7h1.2v2.1h-1.2zM137.0 351.7h1.2v2.1h-1.2zM74.7 353.6h1.2v2.1h-1.2zM83.8 353.6h1.2v2.1h-1.2zM86.8 353.6h1.2v2.1h-1.2zM106.9 353.6h2.2v2.1h-2.2zM127.0 353.6h1.2v2.1h-1.2zM129.0 353.6h1.2v2.1h-1.2zM137.0 353.6h1.2v2.1h-1.2zM157.1 353.6h1.2v2.1h-1.2zM113.9 355.6h1.2v2.1h-1.2zM137.0 355.6h1.2v2.1h-1.2zM157.1 355.6h1.2v2.1h-1.2zM77.7 357.6h1.2v2.1h-1.2zM90.8 357.6h1.2v2.1h-1.2zM93.8 357.6h1.2v2.1h-1.2zM105.9 357.6h1.2v2.1h-1.2zM124.9 357.6h1.2v2.1h-1.2zM128.0 357.6h1.2v2.1h-1.2zM137.0 357.6h1.2v2.1h-1.2zM146.0 357.6h1.2v2.1h-1.2zM152.1 357.6h1.2v2.1h-1.2zM157.1 357.6h1.2v2.1h-1.2zM109.9 359.6h1.2v2.1h-1.2zM124.9 359.6h1.2v2.1h-1.2zM134.0 359.6h1.2v2.1h-1.2zM143.0 359.6h2.2v2.1h-2.2zM147.0 359.6h1.2v2.1h-1.2zM150.1 359.6h2.2v2.1h-2.2z"/>
<path shape-rendering="crispEdges" fill="#7ec44e" d="M73.7 230.4h1.2v2.1h-1.2zM88.8 230.4h1.2v2.1h-1.2zM93.8 230.4h1.2v2.1h-1.2zM134.0 230.4h1.2v2.1h-1.2zM76.7 232.4h1.2v2.1h-1.2zM95.8 232.4h1.2v2.1h-1.2zM133.0 232.4h1.2v2.1h-1.2zM143.0 232.4h1.2v2.1h-1.2zM89.8 234.4h1.2v2.1h-1.2zM92.8 234.4h1.2v2.1h-1.2zM94.8 234.4h1.2v2.1h-1.2zM98.8 234.4h1.2v2.1h-1.2zM102.8 234.4h1.2v2.1h-1.2zM116.9 234.4h1.2v2.1h-1.2zM91.8 236.4h1.2v2.1h-1.2zM95.8 236.4h1.2v2.1h-1.2zM98.8 236.4h1.2v2.1h-1.2zM119.9 236.4h1.2v2.1h-1.2zM133.0 236.4h2.2v2.1h-2.2zM136.0 236.4h1.2v2.1h-1.2zM152.1 236.4h1.2v2.1h-1.2zM73.7 238.4h1.2v2.1h-1.2zM85.8 238.4h1.2v2.1h-1.2zM87.8 238.4h1.2v2.1h-1.2zM92.8 238.4h1.2v2.1h-1.2zM99.8 238.4h1.2v2.1h-1.2zM132.0 238.4h1.2v2.1h-1.2zM134.0 238.4h1.2v2.1h-1.2zM90.8 240.3h1.2v2.1h-1.2zM101.8 240.3h1.2v2.1h-1.2zM74.7 242.3h1.2v2.1h-1.2zM85.8 242.3h1.2v2.1h-1.2zM90.8 242.3h2.2v2.1h-2.2zM94.8 242.3h1.2v2.1h-1.2zM97.8 242.3h1.2v2.1h-1.2zM102.8 242.3h1.2v2.1h-1.2zM146.0 242.3h2.2v2.1h-2.2zM83.8 244.3h1.2v2.1h-1.2zM87.8 244.3h1.2v2.1h-1.2zM90.8 244.3h1.2v2.1h-1.2zM98.8 244.3h1.2v2.1h-1.2zM118.9 244.3h1.2v2.1h-1.2zM135.0 244.3h2.2v2.1h-2.2zM85.8 246.3h1.2v2.1h-1.2zM87.8 246.3h1.2v2.1h-1.2zM95.8 246.3h1.2v2.1h-1.2zM99.8 246.3h1.2v2.1h-1.2zM118.9 246.3h1.2v2.1h-1.2zM73.7 248.3h1.2v2.1h-1.2zM86.8 248.3h1.2v2.1h-1.2zM91.8 248.3h1.2v2.1h-1.2zM96.8 248.3h2.2v2.1h-2.2zM100.8 248.3h1.2v2.1h-1.2zM118.9 248.3h1.2v2.1h-1.2zM132.0 248.3h1.2v2.1h-1.2zM154.1 248.3h1.2v2.1h-1.2zM72.7 250.3h1.2v2.1h-1.2zM74.7 250.3h2.2v2.1h-2.2zM81.7 250.3h1.2v2.1h-1.2zM90.8 250.3h1.2v2.1h-1.2zM100.8 250.3h1.2v2.1h-1.2zM117.9 250.3h1.2v2.1h-1.2zM133.0 250.3h2.2v2.1h-2.2zM71.7 252.3h1.2v2.1h-1.2zM76.7 252.3h1.2v2.1h-1.2zM78.7 252.3h1.2v2.1h-1.2zM92.8 252.3h1.2v2.1h-1.2zM94.8 252.3h1.2v2.1h-1.2zM144.0 252.3h1.2v2.1h-1.2zM74.7 254.3h1.2v2.1h-1.2zM76.7 254.3h1.2v2.1h-1.2zM79.7 254.3h3.2v2.1h-3.2zM87.8 254.3h1.2v2.1h-1.2zM91.8 254.3h1.2v2.1h-1.2zM119.9 254.3h1.2v2.1h-1.2zM136.0 254.3h1.2v2.1h-1.2zM139.0 254.3h1.2v2.1h-1.2zM147.0 254.3h1.2v2.1h-1.2zM153.1 254.3h1.2v2.1h-1.2zM73.7 256.2h2.2v2.1h-2.2zM86.8 256.2h1.2v2.1h-1.2zM133.0 256.2h1.2v2.1h-1.2zM72.7 258.2h1.2v2.1h-1.2zM74.7 258.2h1.2v2.1h-1.2zM76.7 258.2h1.2v2.1h-1.2zM79.7 258.2h1.2v2.1h-1.2zM81.7 258.2h2.2v2.1h-2.2zM113.9 258.2h1.2v2.1h-1.2zM72.7 260.2h1.2v2.1h-1.2zM75.7 260.2h3.2v2.1h-3.2zM79.7 260.2h1.2v2.1h-1.2zM81.7 260.2h1.2v2.1h-1.2zM89.8 260.2h1.2v2.1h-1.2zM136.0 260.2h1.2v2.1h-1.2zM147.0 260.2h1.2v2.1h-1.2zM157.1 260.2h1.2v2.1h-1.2zM71.7 262.2h1.2v2.1h-1.2zM80.7 262.2h1.2v2.1h-1.2zM88.8 262.2h1.2v2.1h-1.2zM98.8 262.2h1.2v2.1h-1.2zM114.9 262.2h1.2v2.1h-1.2zM131.0 262.2h1.2v2.1h-1.2zM150.1 262.2h1.2v2.1h-1.2zM73.7 264.2h1.2v2.1h-1.2zM79.7 264.2h1.2v2.1h-1.2zM87.8 264.2h1.2v2.1h-1.2zM91.8 264.2h1.2v2.1h-1.2zM94.8 264.2h1.2v2.1h-1.2zM102.8 264.2h1.2v2.1h-1.2zM81.7 266.2h2.2v2.1h-2.2zM85.8 266.2h1.2v2.1h-1.2zM89.8 266.2h1.2v2.1h-1.2zM92.8 266.2h1.2v2.1h-1.2zM101.8 266.2h1.2v2.1h-1.2zM111.9 266.2h1.2v2.1h-1.2zM113.9 266.2h1.2v2.1h-1.2zM116.9 266.2h2.2v2.1h-2.2zM144.0 266.2h1.2v2.1h-1.2zM151.1 266.2h2.2v2.1h-2.2zM71.7 268.2h1.2v2.1h-1.2zM80.7 268.2h2.2v2.1h-2.2zM85.8 268.2h1.2v2.1h-1.2zM113.9 268.2h1.2v2.1h-1.2zM117.9 268.2h1.2v2.1h-1.2zM132.0 268.2h1.2v2.1h-1.2zM155.1 268.2h1.2v2.1h-1.2zM81.7 270.2h1.2v2.1h-1.2zM92.8 270.2h1.2v2.1h-1.2zM117.9 270.2h1.2v2.1h-1.2zM94.8 272.1h1.2v2.1h-1.2zM96.8 272.1h1.2v2.1h-1.2zM102.8 272.1h1.2v2.1h-1.2zM127.0 272.1h2.2v2.1h-2.2zM124.9 274.1h1.2v2.1h-1.2zM130.0 274.1h1.2v2.1h-1.2zM136.0 274.1h1.2v2.1h-1.2zM140.0 274.1h1.2v2.1h-1.2zM127.0 276.1h2.2v2.1h-2.2zM131.0 276.1h1.2v2.1h-1.2zM133.0 276.1h1.2v2.1h-1.2zM136.0 276.1h1.2v2.1h-1.2zM138.0 276.1h2.2v2.1h-2.2zM102.8 278.1h1.2v2.1h-1.2zM111.9 278.1h1.2v2.1h-1.2zM124.9 278.1h1.2v2.1h-1.2zM128.0 278.1h1.2v2.1h-1.2zM131.0 278.1h1.2v2.1h-1.2zM136.0 278.1h1.2v2.1h-1.2zM139.0 278.1h1.2v2.1h-1.2zM147.0 278.1h1.2v2.1h-1.2zM93.8 280.1h1.2v2.1h-1.2zM101.8 280.1h1.2v2.1h-1.2zM122.9 280.1h1.2v2.1h-1.2zM127.0 280.1h1.2v2.1h-1.2zM134.0 280.1h1.2v2.1h-1.2zM137.0 280.1h1.2v2.1h-1.2zM74.7 282.1h1.2v2.1h-1.2zM121.9 282.1h1.2v2.1h-1.2zM138.0 282.1h1.2v2.1h-1.2zM140.0 282.1h1.2v2.1h-1.2zM144.0 282.1h1.2v2.1h-1.2zM95.8 284.1h1.2v2.1h-1.2zM100.8 284.1h1.2v2.1h-1.2zM136.0 284.1h1.2v2.1h-1.2zM138.0 284.1h1.2v2.1h-1.2zM122.9 286.1h1.2v2.1h-1.2zM128.0 286.1h3.2v2.1h-3.2zM132.0 286.1h1.2v2.1h-1.2zM144.0 286.1h1.2v2.1h-1.2zM121.9 288.0h2.2v2.1h-2.2zM127.0 288.0h2.2v2.1h-2.2zM132.0 288.0h1.2v2.1h-1.2zM147.0 288.0h1.2v2.1h-1.2zM99.8 290.0h1.2v2.1h-1.2zM101.8 290.0h1.2v2.1h-1.2zM133.0 290.0h2.2v2.1h-2.2zM144.0 290.0h1.2v2.1h-1.2zM155.1 290.0h1.2v2.1h-1.2zM122.9 292.0h1.2v2.1h-1.2zM128.0 292.0h1.2v2.1h-1.2zM132.0 292.0h1.2v2.1h-1.2zM139.0 292.0h1.2v2.1h-1.2zM144.0 292.0h1.2v2.1h-1.2zM123.9 294.0h1.2v2.1h-1.2zM127.0 294.0h1.2v2.1h-1.2zM131.0 294.0h1.2v2.1h-1.2zM151.1 294.0h1.2v2.1h-1.2zM131.0 296.0h1.2v2.1h-1.2zM133.0 296.0h2.2v2.1h-2.2zM138.0 296.0h1.2v2.1h-1.2zM140.0 296.0h1.2v2.1h-1.2zM144.0 296.0h1.2v2.1h-1.2zM100.8 298.0h1.2v2.1h-1.2zM132.0 298.0h1.2v2.1h-1.2zM136.0 298.0h1.2v2.1h-1.2zM122.9 300.0h1.2v2.1h-1.2zM100.8 302.0h1.2v2.1h-1.2zM121.9 302.0h2.2v2.1h-2.2zM130.0 302.0h2.2v2.1h-2.2zM133.0 302.0h2.2v2.1h-2.2zM138.0 302.0h1.2v2.1h-1.2zM101.8 304.0h2.2v2.1h-2.2zM122.9 304.0h1.2v2.1h-1.2zM129.0 304.0h1.2v2.1h-1.2zM133.0 304.0h2.2v2.1h-2.2zM101.8 305.9h1.2v2.1h-1.2zM130.0 305.9h2.2v2.1h-2.2zM133.0 305.9h1.2v2.1h-1.2zM122.9 307.9h1.2v2.1h-1.2zM127.0 307.9h3.2v2.1h-3.2zM138.0 307.9h1.2v2.1h-1.2zM143.0 307.9h1.2v2.1h-1.2zM101.8 309.9h1.2v2.1h-1.2zM123.9 309.9h2.2v2.1h-2.2zM129.0 309.9h1.2v2.1h-1.2zM131.0 309.9h4.2v2.1h-4.2zM153.1 309.9h1.2v2.1h-1.2zM100.8 311.9h1.2v2.1h-1.2zM131.0 311.9h2.2v2.1h-2.2zM136.0 311.9h1.2v2.1h-1.2zM139.0 311.9h1.2v2.1h-1.2zM97.8 313.9h1.2v2.1h-1.2zM105.9 313.9h1.2v2.1h-1.2zM121.9 313.9h1.2v2.1h-1.2zM123.9 313.9h1.2v2.1h-1.2zM130.0 313.9h2.2v2.1h-2.2zM133.0 313.9h1.2v2.1h-1.2zM140.0 313.9h1.2v2.1h-1.2zM142.0 313.9h1.2v2.1h-1.2zM128.0 315.9h1.2v2.1h-1.2zM132.0 315.9h1.2v2.1h-1.2zM135.0 315.9h1.2v2.1h-1.2zM141.0 315.9h1.2v2.1h-1.2zM75.7 317.9h1.2v2.1h-1.2zM132.0 317.9h1.2v2.1h-1.2zM72.7 319.9h2.2v2.1h-2.2zM104.9 319.9h3.2v2.1h-3.2zM116.9 319.9h2.2v2.1h-2.2zM132.0 319.9h1.2v2.1h-1.2zM148.1 319.9h1.2v2.1h-1.2zM79.7 321.8h1.2v2.1h-1.2zM83.8 321.8h1.2v2.1h-1.2zM85.8 321.8h1.2v2.1h-1.2zM108.9 321.8h1.2v2.1h-1.2zM110.9 321.8h2.2v2.1h-2.2zM116.9 321.8h1.2v2.1h-1.2zM101.8 323.8h1.2v2.1h-1.2zM104.9 323.8h1.2v2.1h-1.2zM106.9 323.8h2.2v2.1h-2.2zM109.9 323.8h1.2v2.1h-1.2zM112.9 323.8h1.2v2.1h-1.2zM116.9 323.8h1.2v2.1h-1.2zM118.9 323.8h1.2v2.1h-1.2zM139.0 323.8h1.2v2.1h-1.2zM73.7 325.8h1.2v2.1h-1.2zM82.8 325.8h1.2v2.1h-1.2zM105.9 325.8h1.2v2.1h-1.2zM111.9 325.8h1.2v2.1h-1.2zM113.9 325.8h1.2v2.1h-1.2zM119.9 325.8h1.2v2.1h-1.2zM74.7 327.8h1.2v2.1h-1.2zM100.8 327.8h1.2v2.1h-1.2zM103.8 327.8h1.2v2.1h-1.2zM109.9 327.8h1.2v2.1h-1.2zM111.9 327.8h1.2v2.1h-1.2zM113.9 327.8h1.2v2.1h-1.2zM118.9 327.8h1.2v2.1h-1.2zM138.0 327.8h1.2v2.1h-1.2zM74.7 329.8h1.2v2.1h-1.2zM103.8 329.8h1.2v2.1h-1.2zM108.9 329.8h1.2v2.1h-1.2zM118.9 329.8h1.2v2.1h-1.2zM120.9 329.8h1.2v2.1h-1.2zM138.0 329.8h1.2v2.1h-1.2zM104.9 331.8h1.2v2.1h-1.2zM109.9 331.8h1.2v2.1h-1.2zM111.9 331.8h1.2v2.1h-1.2zM115.9 331.8h1.2v2.1h-1.2zM117.9 331.8h1.2v2.1h-1.2zM120.9 331.8h1.2v2.1h-1.2zM134.0 331.8h1.2v2.1h-1.2zM74.7 333.8h1.2v2.1h-1.2zM77.7 333.8h1.2v2.1h-1.2zM110.9 333.8h1.2v2.1h-1.2zM117.9 333.8h1.2v2.1h-1.2zM119.9 333.8h1.2v2.1h-1.2zM154.1 333.8h1.2v2.1h-1.2zM109.9 335.8h1.2v2.1h-1.2zM113.9 335.8h1.2v2.1h-1.2zM115.9 335.8h1.2v2.1h-1.2zM117.9 335.8h1.2v2.1h-1.2zM120.9 335.8h1.2v2.1h-1.2zM75.7 337.7h1.2v2.1h-1.2zM109.9 337.7h1.2v2.1h-1.2zM112.9 337.7h5.2v2.1h-5.2zM134.0 337.7h1.2v2.1h-1.2zM144.0 337.7h1.2v2.1h-1.2zM74.7 339.7h1.2v2.1h-1.2zM86.8 339.7h1.2v2.1h-1.2zM91.8 339.7h1.2v2.1h-1.2zM96.8 339.7h1.2v2.1h-1.2zM103.8 339.7h2.2v2.1h-2.2zM110.9 339.7h2.2v2.1h-2.2zM114.9 339.7h1.2v2.1h-1.2zM119.9 339.7h1.2v2.1h-1.2zM142.0 339.7h1.2v2.1h-1.2zM74.7 341.7h1.2v2.1h-1.2zM87.8 341.7h1.2v2.1h-1.2zM98.8 341.7h1.2v2.1h-1.2zM101.8 341.7h1.2v2.1h-1.2zM103.8 341.7h1.2v2.1h-1.2zM107.9 341.7h1.2v2.1h-1.2zM114.9 341.7h1.2v2.1h-1.2zM119.9 341.7h2.2v2.1h-2.2zM133.0 341.7h1.2v2.1h-1.2zM136.0 341.7h1.2v2.1h-1.2zM93.8 343.7h1.2v2.1h-1.2zM98.8 343.7h1.2v2.1h-1.2zM115.9 343.7h1.2v2.1h-1.2zM118.9 343.7h1.2v2.1h-1.2zM143.0 343.7h1.2v2.1h-1.2zM88.8 345.7h1.2v2.1h-1.2zM93.8 345.7h1.2v2.1h-1.2zM137.0 345.7h1.2v2.1h-1.2zM103.8 347.7h1.2v2.1h-1.2zM116.9 347.7h1.2v2.1h-1.2zM124.9 347.7h1.2v2.1h-1.2zM129.0 347.7h1.2v2.1h-1.2zM153.1 347.7h1.2v2.1h-1.2zM155.1 347.7h1.2v2.1h-1.2zM96.8 349.7h1.2v2.1h-1.2zM104.9 349.7h1.2v2.1h-1.2zM119.9 349.7h1.2v2.1h-1.2zM136.0 349.7h1.2v2.1h-1.2zM102.8 351.7h1.2v2.1h-1.2zM104.9 351.7h1.2v2.1h-1.2zM110.9 351.7h1.2v2.1h-1.2zM128.0 351.7h1.2v2.1h-1.2zM133.0 351.7h1.2v2.1h-1.2zM139.0 351.7h1.2v2.1h-1.2zM146.0 351.7h1.2v2.1h-1.2zM155.1 351.7h1.2v2.1h-1.2zM79.7 353.6h1.2v2.1h-1.2zM122.9 353.6h1.2v2.1h-1.2zM124.9 353.6h1.2v2.1h-1.2zM133.0 353.6h1.2v2.1h-1.2zM150.1 353.6h2.2v2.1h-2.2zM72.7 355.6h1.2v2.1h-1.2zM118.9 355.6h1.2v2.1h-1.2zM128.0 355.6h1.2v2.1h-1.2zM133.0 355.6h1.2v2.1h-1.2zM139.0 355.6h1.2v2.1h-1.2zM144.0 355.6h1.2v2.1h-1.2zM71.7 357.6h1.2v2.1h-1.2zM134.0 357.6h1.2v2.1h-1.2zM147.0 357.6h1.2v2.1h-1.2zM74.7 359.6h1.2v2.1h-1.2zM107.9 359.6h1.2v2.1h-1.2zM133.0 359.6h1.2v2.1h-1.2zM138.0 359.6h1.2v2.1h-1.2zM152.1 359.6h1.2v2.1h-1.2zM155.1 359.6h1.2v2.1h-1.2zM157.1 359.6h1.2v2.1h-1.2z"/>
<path shape-rendering="crispEdges" fill="#b0d035" d="M91.8 230.4h1.2v2.1h-1.2zM94.8 230.4h1.2v2.1h-1.2zM101.8 230.4h1.2v2.1h-1.2zM136.0 230.4h1.2v2.1h-1.2zM86.8 232.4h2.2v2.1h-2.2zM94.8 232.4h1.2v2.1h-1.2zM97.8 232.4h2.2v2.1h-2.2zM102.8 232.4h1.2v2.1h-1.2zM135.0 232.4h1.2v2.1h-1.2zM85.8 234.4h2.2v2.1h-2.2zM90.8 234.4h1.2v2.1h-1.2zM93.8 234.4h1.2v2.1h-1.2zM101.8 234.4h1.2v2.1h-1.2zM118.9 234.4h1.2v2.1h-1.2zM86.8 236.4h2.2v2.1h-2.2zM93.8 236.4h1.2v2.1h-1.2zM96.8 236.4h1.2v2.1h-1.2zM100.8 236.4h1.2v2.1h-1.2zM116.9 236.4h1.2v2.1h-1.2zM120.9 236.4h1.2v2.1h-1.2zM90.8 238.4h2.2v2.1h-2.2zM101.8 238.4h1.2v2.1h-1.2zM120.9 238.4h1.2v2.1h-1.2zM131.0 238.4h1.2v2.1h-1.2zM151.1 238.4h1.2v2.1h-1.2zM85.8 240.3h1.2v2.1h-1.2zM89.8 240.3h1.2v2.1h-1.2zM92.8 240.3h1.2v2.1h-1.2zM94.8 240.3h2.2v2.1h-2.2zM99.8 240.3h2.2v2.1h-2.2zM86.8 242.3h1.2v2.1h-1.2zM88.8 242.3h1.2v2.1h-1.2zM95.8 242.3h1.2v2.1h-1.2zM98.8 242.3h1.2v2.1h-1.2zM101.8 242.3h1.2v2.1h-1.2zM131.0 242.3h1.2v2.1h-1.2zM85.8 244.3h1.2v2.1h-1.2zM91.8 244.3h1.2v2.1h-1.2zM93.8 244.3h1.2v2.1h-1.2zM96.8 244.3h1.2v2.1h-1.2zM100.8 244.3h2.2v2.1h-2.2zM71.7 246.3h1.2v2.1h-1.2zM86.8 246.3h1.2v2.1h-1.2zM94.8 246.3h1.2v2.1h-1.2zM101.8 246.3h1.2v2.1h-1.2zM116.9 246.3h1.2v2.1h-1.2zM85.8 248.3h1.2v2.1h-1.2zM93.8 248.3h1.2v2.1h-1.2zM98.8 248.3h2.2v2.1h-2.2zM101.8 248.3h1.2v2.1h-1.2zM120.9 248.3h1.2v2.1h-1.2zM73.7 250.3h1.2v2.1h-1.2zM83.8 250.3h1.2v2.1h-1.2zM91.8 250.3h1.2v2.1h-1.2zM136.0 252.3h1.2v2.1h-1.2zM71.7 254.3h1.2v2.1h-1.2zM72.7 256.2h1.2v2.1h-1.2zM149.1 256.2h1.2v2.1h-1.2zM83.8 258.2h1.2v2.1h-1.2zM73.7 260.2h1.2v2.1h-1.2zM120.9 260.2h1.2v2.1h-1.2zM71.7 264.2h1.2v2.1h-1.2zM84.8 264.2h1.2v2.1h-1.2zM86.8 264.2h1.2v2.1h-1.2zM73.7 266.2h1.2v2.1h-1.2zM83.8 266.2h1.2v2.1h-1.2zM119.9 266.2h1.2v2.1h-1.2zM148.1 266.2h1.2v2.1h-1.2zM79.7 268.2h1.2v2.1h-1.2zM91.8 268.2h1.2v2.1h-1.2zM119.9 268.2h1.2v2.1h-1.2zM136.0 268.2h1.2v2.1h-1.2zM144.0 268.2h1.2v2.1h-1.2zM147.0 268.2h1.2v2.1h-1.2zM72.7 270.2h1.2v2.1h-1.2zM75.7 270.2h2.2v2.1h-2.2zM83.8 270.2h1.2v2.1h-1.2zM157.1 270.2h1.2v2.1h-1.2zM122.9 272.1h1.2v2.1h-1.2zM130.0 272.1h1.2v2.1h-1.2zM144.0 272.1h1.2v2.1h-1.2zM147.0 272.1h1.2v2.1h-1.2zM133.0 274.1h1.2v2.1h-1.2zM138.0 274.1h1.2v2.1h-1.2zM134.0 278.1h1.2v2.1h-1.2zM142.0 278.1h1.2v2.1h-1.2zM144.0 278.1h1.2v2.1h-1.2zM123.9 280.1h1.2v2.1h-1.2zM131.0 280.1h1.2v2.1h-1.2zM122.9 282.1h1.2v2.1h-1.2zM124.9 282.1h1.2v2.1h-1.2zM131.0 282.1h1.2v2.1h-1.2zM102.8 284.1h1.2v2.1h-1.2zM121.9 284.1h1.2v2.1h-1.2zM126.0 284.1h1.2v2.1h-1.2zM130.0 284.1h1.2v2.1h-1.2zM144.0 284.1h1.2v2.1h-1.2zM93.8 286.1h1.2v2.1h-1.2zM101.8 286.1h1.2v2.1h-1.2zM124.9 286.1h1.2v2.1h-1.2zM140.0 286.1h1.2v2.1h-1.2zM129.0 288.0h1.2v2.1h-1.2zM133.0 288.0h1.2v2.1h-1.2zM126.0 290.0h1.2v2.1h-1.2zM124.9 292.0h1.2v2.1h-1.2zM133.0 292.0h2.2v2.1h-2.2zM130.0 294.0h1.2v2.1h-1.2zM127.0 296.0h1.2v2.1h-1.2zM124.9 298.0h1.2v2.1h-1.2zM133.0 298.0h1.2v2.1h-1.2zM130.0 300.0h1.2v2.1h-1.2zM136.0 302.0h1.2v2.1h-1.2zM142.0 302.0h1.2v2.1h-1.2zM100.8 304.0h1.2v2.1h-1.2zM132.0 304.0h1.2v2.1h-1.2zM136.0 304.0h1.2v2.1h-1.2zM132.0 305.9h1.2v2.1h-1.2zM144.0 305.9h1.2v2.1h-1.2zM124.9 307.9h1.2v2.1h-1.2zM130.0 307.9h1.2v2.1h-1.2zM144.0 307.9h1.2v2.1h-1.2zM122.9 309.9h1.2v2.1h-1.2zM136.0 309.9h1.2v2.1h-1.2zM133.0 311.9h1.2v2.1h-1.2zM144.0 311.9h1.2v2.1h-1.2zM124.9 313.9h1.2v2.1h-1.2zM138.0 313.9h1.2v2.1h-1.2zM131.0 315.9h1.2v2.1h-1.2zM136.0 315.9h1.2v2.1h-1.2zM103.8 317.9h1.2v2.1h-1.2zM107.9 317.9h1.2v2.1h-1.2zM107.9 319.9h1.2v2.1h-1.2zM110.9 319.9h1.2v2.1h-1.2zM119.9 319.9h2.2v2.1h-2.2zM105.9 321.8h2.2v2.1h-2.2zM112.9 321.8h1.2v2.1h-1.2zM115.9 321.8h1.2v2.1h-1.2zM120.9 321.8h1.2v2.1h-1.2zM108.9 323.8h1.2v2.1h-1.2zM110.9 323.8h1.2v2.1h-1.2zM115.9 323.8h1.2v2.1h-1.2zM108.9 325.8h1.2v2.1h-1.2zM118.9 325.8h1.2v2.1h-1.2zM105.9 327.8h1.2v2.1h-1.2zM114.9 327.8h2.2v2.1h-2.2zM106.9 329.8h2.2v2.1h-2.2zM112.9 329.8h1.2v2.1h-1.2zM115.9 329.8h2.2v2.1h-2.2zM119.9 329.8h1.2v2.1h-1.2zM113.9 331.8h2.2v2.1h-2.2zM118.9 331.8h1.2v2.1h-1.2zM73.7 333.8h1.2v2.1h-1.2zM81.7 333.8h1.2v2.1h-1.2zM108.9 333.8h2.2v2.1h-2.2zM111.9 333.8h1.2v2.1h-1.2zM114.9 333.8h1.2v2.1h-1.2zM110.9 335.8h1.2v2.1h-1.2zM73.7 337.7h1.2v2.1h-1.2zM81.7 337.7h2.2v2.1h-2.2zM107.9 337.7h1.2v2.1h-1.2zM118.9 337.7h1.2v2.1h-1.2zM73.7 339.7h1.2v2.1h-1.2zM94.8 339.7h1.2v2.1h-1.2zM99.8 339.7h1.2v2.1h-1.2zM102.8 339.7h1.2v2.1h-1.2zM105.9 339.7h2.2v2.1h-2.2zM120.9 339.7h1.2v2.1h-1.2zM91.8 341.7h1.2v2.1h-1.2zM74.7 343.7h1.2v2.1h-1.2zM87.8 343.7h1.2v2.1h-1.2zM96.8 343.7h1.2v2.1h-1.2zM105.9 343.7h1.2v2.1h-1.2zM119.9 343.7h1.2v2.1h-1.2zM151.1 343.7h1.2v2.1h-1.2zM144.0 347.7h1.2v2.1h-1.2zM114.9 349.7h1.2v2.1h-1.2zM132.0 349.7h1.2v2.1h-1.2zM132.0 351.7h1.2v2.1h-1.2zM134.0 351.7h1.2v2.1h-1.2zM152.1 353.6h1.2v2.1h-1.2zM150.1 355.6h1.2v2.1h-1.2zM109.9 357.6h1.2v2.1h-1.2zM111.9 357.6h1.2v2.1h-1.2zM139.0 357.6h1.2v2.1h-1.2zM123.9 359.6h1.2v2.1h-1.2zM129.0 359.6h1.2v2.1h-1.2z"/>
<path shape-rendering="crispEdges" fill="#cdd828" d="M87.8 230.4h1.2v2.1h-1.2zM102.8 230.4h1.2v2.1h-1.2zM132.0 230.4h1.2v2.1h-1.2zM85.8 232.4h1.2v2.1h-1.2zM88.8 232.4h1.2v2.1h-1.2zM90.8 232.4h1.2v2.1h-1.2zM92.8 232.4h2.2v2.1h-2.2zM96.8 232.4h1.2v2.1h-1.2zM99.8 232.4h3.2v2.1h-3.2zM117.9 232.4h1.2v2.1h-1.2zM136.0 232.4h1.2v2.1h-1.2zM87.8 234.4h1.2v2.1h-1.2zM100.8 234.4h1.2v2.1h-1.2zM85.8 236.4h1.2v2.1h-1.2zM92.8 236.4h1.2v2.1h-1.2zM94.8 236.4h1.2v2.1h-1.2zM97.8 236.4h1.2v2.1h-1.2zM99.8 236.4h1.2v2.1h-1.2zM102.8 236.4h1.2v2.1h-1.2zM132.0 236.4h1.2v2.1h-1.2zM95.8 238.4h1.2v2.1h-1.2zM100.8 238.4h1.2v2.1h-1.2zM118.9 238.4h1.2v2.1h-1.2zM91.8 240.3h1.2v2.1h-1.2zM93.8 240.3h1.2v2.1h-1.2zM92.8 242.3h2.2v2.1h-2.2zM116.9 242.3h1.2v2.1h-1.2zM86.8 244.3h1.2v2.1h-1.2zM92.8 244.3h1.2v2.1h-1.2zM95.8 244.3h1.2v2.1h-1.2zM97.8 244.3h1.2v2.1h-1.2zM99.8 244.3h1.2v2.1h-1.2zM102.8 244.3h1.2v2.1h-1.2zM119.9 244.3h1.2v2.1h-1.2zM100.8 246.3h1.2v2.1h-1.2zM102.8 246.3h1.2v2.1h-1.2zM136.0 246.3h1.2v2.1h-1.2zM90.8 248.3h1.2v2.1h-1.2zM94.8 248.3h1.2v2.1h-1.2zM102.8 248.3h1.2v2.1h-1.2zM77.7 250.3h1.2v2.1h-1.2zM72.7 252.3h1.2v2.1h-1.2zM79.7 252.3h1.2v2.1h-1.2zM132.0 252.3h1.2v2.1h-1.2zM83.8 254.3h1.2v2.1h-1.2zM100.8 254.3h1.2v2.1h-1.2zM78.7 256.2h1.2v2.1h-1.2zM81.7 256.2h1.2v2.1h-1.2zM85.8 256.2h1.2v2.1h-1.2zM87.8 256.2h1.2v2.1h-1.2zM120.9 256.2h1.2v2.1h-1.2zM132.0 256.2h1.2v2.1h-1.2zM147.0 256.2h1.2v2.1h-1.2zM73.7 258.2h1.2v2.1h-1.2zM75.7 258.2h1.2v2.1h-1.2zM77.7 258.2h1.2v2.1h-1.2zM74.7 260.2h1.2v2.1h-1.2zM83.8 260.2h2.2v2.1h-2.2zM92.8 260.2h1.2v2.1h-1.2zM119.9 260.2h1.2v2.1h-1.2zM72.7 262.2h1.2v2.1h-1.2zM81.7 262.2h1.2v2.1h-1.2zM120.9 262.2h1.2v2.1h-1.2zM74.7 264.2h1.2v2.1h-1.2zM83.8 264.2h1.2v2.1h-1.2zM71.7 266.2h1.2v2.1h-1.2zM74.7 266.2h1.2v2.1h-1.2zM80.7 266.2h1.2v2.1h-1.2zM132.0 266.2h1.2v2.1h-1.2zM73.7 268.2h2.2v2.1h-2.2zM77.7 268.2h1.2v2.1h-1.2zM82.8 268.2h2.2v2.1h-2.2zM87.8 268.2h1.2v2.1h-1.2zM134.0 268.2h1.2v2.1h-1.2zM121.9 272.1h1.2v2.1h-1.2zM133.0 272.1h1.2v2.1h-1.2zM131.0 274.1h1.2v2.1h-1.2zM139.0 274.1h1.2v2.1h-1.2zM122.9 276.1h1.2v2.1h-1.2zM124.9 276.1h1.2v2.1h-1.2zM130.0 276.1h1.2v2.1h-1.2zM130.0 278.1h1.2v2.1h-1.2zM124.9 280.1h1.2v2.1h-1.2zM130.0 280.1h1.2v2.1h-1.2zM151.1 280.1h1.2v2.1h-1.2zM132.0 282.1h1.2v2.1h-1.2zM152.1 282.1h1.2v2.1h-1.2zM132.0 284.1h2.2v2.1h-2.2zM139.0 284.1h1.2v2.1h-1.2zM139.0 288.0h1.2v2.1h-1.2zM128.0 298.0h1.2v2.1h-1.2zM134.0 298.0h1.2v2.1h-1.2zM144.0 300.0h1.2v2.1h-1.2zM124.9 302.0h1.2v2.1h-1.2zM132.0 302.0h1.2v2.1h-1.2zM137.0 304.0h2.2v2.1h-2.2zM144.0 304.0h1.2v2.1h-1.2zM111.9 305.9h1.2v2.1h-1.2zM127.0 305.9h1.2v2.1h-1.2zM139.0 305.9h1.2v2.1h-1.2zM134.0 307.9h1.2v2.1h-1.2zM147.0 309.9h1.2v2.1h-1.2zM134.0 311.9h1.2v2.1h-1.2zM132.0 313.9h1.2v2.1h-1.2zM134.0 313.9h1.2v2.1h-1.2zM133.0 315.9h1.2v2.1h-1.2zM105.9 317.9h2.2v2.1h-2.2zM109.9 317.9h6.2v2.1h-6.2zM119.9 317.9h1.2v2.1h-1.2zM103.8 319.9h1.2v2.1h-1.2zM109.9 319.9h1.2v2.1h-1.2zM111.9 319.9h4.2v2.1h-4.2zM155.1 319.9h1.2v2.1h-1.2zM109.9 321.8h1.2v2.1h-1.2zM114.9 321.8h1.2v2.1h-1.2zM118.9 321.8h1.2v2.1h-1.2zM105.9 323.8h1.2v2.1h-1.2zM114.9 323.8h1.2v2.1h-1.2zM120.9 323.8h1.2v2.1h-1.2zM103.8 325.8h1.2v2.1h-1.2zM109.9 325.8h2.2v2.1h-2.2zM114.9 325.8h1.2v2.1h-1.2zM116.9 325.8h2.2v2.1h-2.2zM106.9 327.8h1.2v2.1h-1.2zM110.9 327.8h1.2v2.1h-1.2zM116.9 327.8h2.2v2.1h-2.2zM109.9 329.8h1.2v2.1h-1.2zM111.9 329.8h1.2v2.1h-1.2zM113.9 329.8h1.2v2.1h-1.2zM101.8 331.8h1.2v2.1h-1.2zM103.8 331.8h1.2v2.1h-1.2zM105.9 331.8h2.2v2.1h-2.2zM110.9 331.8h1.2v2.1h-1.2zM119.9 331.8h1.2v2.1h-1.2zM147.0 331.8h1.2v2.1h-1.2zM103.8 333.8h1.2v2.1h-1.2zM105.9 333.8h2.2v2.1h-2.2zM113.9 333.8h1.2v2.1h-1.2zM116.9 333.8h1.2v2.1h-1.2zM118.9 333.8h1.2v2.1h-1.2zM111.9 335.8h1.2v2.1h-1.2zM118.9 335.8h1.2v2.1h-1.2zM108.9 337.7h1.2v2.1h-1.2zM111.9 337.7h1.2v2.1h-1.2zM87.8 339.7h1.2v2.1h-1.2zM83.8 341.7h1.2v2.1h-1.2zM102.8 343.7h1.2v2.1h-1.2zM109.9 343.7h1.2v2.1h-1.2zM116.9 343.7h1.2v2.1h-1.2zM130.0 345.7h1.2v2.1h-1.2zM147.0 345.7h1.2v2.1h-1.2zM155.1 345.7h1.2v2.1h-1.2zM110.9 347.7h1.2v2.1h-1.2zM116.9 349.7h1.2v2.1h-1.2zM134.0 349.7h1.2v2.1h-1.2zM144.0 351.7h1.2v2.1h-1.2zM130.0 357.6h1.2v2.1h-1.2z"/>
<text x="41.0" y="364.9" font-size="6.4" transform="rotate(90 41.0 364.9)">dataset</text>
<text x="48.6" y="364.9" font-size="6.4" transform="rotate(90 48.6 364.9)">cohort</text>
<text x="56.4" y="364.9" font-size="6.4" transform="rotate(90 56.4 364.9)">main cluster</text>
<text x="63.9" y="364.9" font-size="6.4" transform="rotate(90 63.9 364.9)">subcluster</text>
<defs><linearGradient id="gC" x1="0" y1="0" x2="1" y2="0"><stop offset="0.00" stop-color="#dcdc22"/><stop offset="0.16" stop-color="#a4cc3a"/><stop offset="0.26" stop-color="#56bc64"/><stop offset="0.36" stop-color="#22a484"/><stop offset="0.50" stop-color="#1f8a8c"/><stop offset="0.66" stop-color="#2a6a94"/><stop offset="0.80" stop-color="#2e4890"/><stop offset="0.92" stop-color="#302c6c"/><stop offset="1.00" stop-color="#2c1a50"/></linearGradient></defs>
<rect x="77.20" y="383.40" width="77.80" height="3.90" fill="url(#gC)"/>
<text x="80.0" y="381.0" font-size="6.4" transform="rotate(-90 80.0 381.0)">&gt; 1.5</text>
<text x="98.6" y="381.0" font-size="6.4" transform="rotate(-90 98.6 381.0)">0.75</text>
<text x="117.5" y="381.0" font-size="6.4" transform="rotate(-90 117.5 381.0)">0</text>
<text x="137.5" y="381.0" font-size="6.4" transform="rotate(-90 137.5 381.0)">−0.75</text>
<text x="155.9" y="381.0" font-size="6.4" transform="rotate(-90 155.9 381.0)">&lt; −1.5</text>
<text x="116.1" y="397.0" font-size="7.6" text-anchor="middle" textLength="39.8" lengthAdjust="spacingAndGlyphs">tpm (z-score)</text>
<text x="165.0" y="218.5" font-size="6.5">dataset</text>
<rect x="164.90" y="222.75" width="6.50" height="5.50" fill="#1ca8aa"/>
<text x="176.0" y="227.7" font-size="6.5">training</text>
<rect x="164.90" y="230.95" width="6.50" height="5.50" fill="#8a2c9c"/>
<text x="176.0" y="235.9" font-size="6.5">testing</text>
<text x="165.0" y="250.0" font-size="6.5">cohort</text>
<rect x="164.90" y="253.95" width="6.50" height="5.50" fill="#c24a1a"/>
<text x="176.0" y="258.9" font-size="6.5">GMALL</text>
<rect x="164.90" y="261.65" width="6.50" height="5.50" fill="#d63c9a"/>
<text x="176.0" y="266.6" font-size="6.5">MLL</text>
<rect x="164.90" y="269.95" width="6.50" height="5.50" fill="#1c9a3c"/>
<text x="176.0" y="274.9" font-size="6.5">St Jude</text>
<rect x="164.90" y="278.65" width="6.50" height="5.50" fill="#dcbce4"/>
<text x="176.0" y="283.6" font-size="6.5">PMCC</text>
<text x="165.0" y="296.5" font-size="6.5">main cluster</text>
<rect x="164.90" y="301.35" width="6.50" height="5.50" fill="#e0401c"/>
<text x="176.0" y="306.3" font-size="6.5">C1 (multilineage)</text>
<rect x="164.90" y="309.45" width="6.50" height="5.50" fill="#2a2a8c"/>
<text x="176.0" y="314.4" font-size="6.5">C2 (lymphoid)</text>
<rect x="164.90" y="318.15" width="6.50" height="5.50" fill="#d8d8d8"/>
<text x="176.0" y="323.1" font-size="6.5">Unclassified</text>
<text x="165.0" y="336.6" font-size="6.5">subcluster</text>
<rect x="164.90" y="341.35" width="6.50" height="5.50" fill="#f4a01c"/>
<text x="176.0" y="346.3" font-size="6.5">C1a (delHBS1L)</text>
<rect x="164.90" y="349.85" width="6.50" height="5.50" fill="#f8e41c"/>
<text x="176.0" y="354.8" font-size="6.5">C1b (del7)</text>
<rect x="164.90" y="357.95" width="6.50" height="5.50" fill="#acd8e8"/>
<text x="176.0" y="362.9" font-size="6.5">C2a (IKZF1)</text>
<rect x="164.90" y="366.65" width="6.50" height="5.50" fill="#1a8cc4"/>
<text x="176.0" y="371.6" font-size="6.5">C2b (CDKN2A/PAX5)</text>
<rect x="164.90" y="375.15" width="6.50" height="5.50" fill="#d4d4d4"/>
<text x="176.0" y="380.1" font-size="6.5">unclassified</text>
<text x="253.8" y="207.5" font-size="11.5" fill="#000" font-weight="bold">D</text>
<g><path d="M322.7 336.4L324.8 340.1L320.6 340.1Z" fill="#e0441c"/><path d="M342.7 279.8H347.3M345.0 277.5V282.1" stroke="#2a2a8e" stroke-width="0.75" fill="none"/><path d="M328.8 338.5H333.4M331.1 336.2V340.8" stroke="#e0441c" stroke-width="0.75" fill="none"/><circle cx="344.6" cy="341.7" r="1.80" fill="#e0441c"/><rect x="349.5" y="343.8" width="3.2" height="3.2" fill="#e0441c"/><path d="M308.0 274.2H312.6M310.3 271.9V276.5" stroke="#2a2a8e" stroke-width="0.75" fill="none"/><rect x="305.1" y="342.4" width="3.2" height="3.2" fill="#e0441c"/><rect x="346.9" y="241.0" width="3.2" height="3.2" fill="#2a2a8e"/><path d="M347.9 335.2L350.0 339.0L345.8 339.0Z" fill="#e0441c"/><path d="M341.6 242.0H346.2M343.9 239.7V244.3" stroke="#2a2a8e" stroke-width="0.75" fill="none"/><circle cx="320.4" cy="362.1" r="1.80" fill="#e0441c"/><path d="M320.6 284.6H325.2M322.9 282.3V286.9" stroke="#2a2a8e" stroke-width="0.75" fill="none"/><circle cx="323.9" cy="280.3" r="1.80" fill="#2a2a8e"/><circle cx="328.6" cy="277.5" r="1.80" fill="#2a2a8e"/><rect x="311.8" y="346.8" width="3.2" height="3.2" fill="#e0441c"/><path d="M332.7 339.8L334.8 343.5L330.6 343.5Z" fill="#e0441c"/><path d="M304.2 251.0H308.8M306.5 248.7V253.3" stroke="#2a2a8e" stroke-width="0.75" fill="none"/><circle cx="336.7" cy="276.7" r="1.80" fill="#2a2a8e"/><path d="M351.3 243.7H355.9M353.6 241.4V246.0" stroke="#2a2a8e" stroke-width="0.75" fill="none"/><circle cx="312.3" cy="345.6" r="1.80" fill="#e0441c"/><rect x="367.9" y="350.5" width="3.2" height="3.2" fill="#e0441c"/><circle cx="300.7" cy="243.5" r="1.80" fill="#2a2a8e"/><path d="M368.8 349.3L370.9 353.0L366.7 353.0Z" fill="#e0441c"/><circle cx="323.2" cy="358.2" r="1.80" fill="#e0441c"/><path d="M362.8 329.9L364.9 333.7L360.7 333.7Z" fill="#e0441c"/><path d="M350.8 239.4L352.9 243.2L348.7 243.2Z" fill="#2a2a8e"/><circle cx="322.9" cy="363.2" r="1.80" fill="#e0441c"/><circle cx="289.0" cy="238.4" r="1.80" fill="#2a2a8e"/><circle cx="342.1" cy="252.6" r="1.80" fill="#2a2a8e"/><path d="M322.8 342.0L324.9 345.7L320.7 345.7Z" fill="#e0441c"/><circle cx="334.8" cy="280.3" r="1.80" fill="#2a2a8e"/><circle cx="318.0" cy="359.7" r="1.80" fill="#e0441c"/><circle cx="332.5" cy="330.4" r="1.80" fill="#e0441c"/><path d="M362.1 262.7H366.7M364.4 260.4V265.0" stroke="#2a2a8e" stroke-width="0.75" fill="none"/><path d="M347.9 348.7H352.5M350.2 346.4V351.0" stroke="#e0441c" stroke-width="0.75" fill="none"/><path d="M289.2 252.7L291.3 256.5L287.1 256.5Z" fill="#2a2a8e"/><circle cx="366.3" cy="234.9" r="1.80" fill="#2a2a8e"/><circle cx="294.9" cy="245.4" r="1.80" fill="#2a2a8e"/><circle cx="331.7" cy="338.5" r="1.80" fill="#e0441c"/><circle cx="350.8" cy="237.0" r="1.80" fill="#2a2a8e"/><circle cx="365.2" cy="340.2" r="1.80" fill="#e0441c"/><path d="M373.7 259.7H378.3M376.0 257.4V262.0" stroke="#2a2a8e" stroke-width="0.75" fill="none"/><circle cx="338.6" cy="333.5" r="1.80" fill="#e0441c"/><path d="M334.9 267.8L337.0 271.6L332.8 271.6Z" fill="#2a2a8e"/><path d="M356.3 236.5H360.9M358.6 234.2V238.8" stroke="#2a2a8e" stroke-width="0.75" fill="none"/><path d="M374.0 239.5L376.1 243.2L371.9 243.2Z" fill="#2a2a8e"/><path d="M341.5 271.5L343.6 275.3L339.4 275.3Z" fill="#2a2a8e"/><path d="M361.9 341.9L364.0 345.6L359.8 345.6Z" fill="#e0441c"/><rect x="332.9" y="250.1" width="3.2" height="3.2" fill="#2a2a8e"/><circle cx="296.1" cy="247.3" r="1.80" fill="#2a2a8e"/><rect x="350.7" y="238.4" width="3.2" height="3.2" fill="#2a2a8e"/><path d="M306.2 278.6H310.8M308.5 276.3V280.9" stroke="#2a2a8e" stroke-width="0.75" fill="none"/><path d="M314.0 266.3H318.6M316.3 264.0V268.6" stroke="#2a2a8e" stroke-width="0.75" fill="none"/><rect x="337.7" y="325.0" width="3.2" height="3.2" fill="#e0441c"/><path d="M343.5 346.3L345.5 350.0L341.4 350.0Z" fill="#e0441c"/><path d="M358.4 237.4H363.0M360.7 235.1V239.7" stroke="#2a2a8e" stroke-width="0.75" fill="none"/><path d="M370.1 246.5H374.7M372.4 244.2V248.8" stroke="#2a2a8e" stroke-width="0.75" fill="none"/><path d="M344.1 329.7H348.7M346.4 327.4V332.0" stroke="#e0441c" stroke-width="0.75" fill="none"/><path d="M345.2 271.1H349.8M347.5 268.8V273.4" stroke="#2a2a8e" stroke-width="0.75" fill="none"/><circle cx="302.0" cy="350.6" r="1.80" fill="#e0441c"/><circle cx="356.2" cy="238.6" r="1.80" fill="#2a2a8e"/><path d="M342.7 258.6H347.3M345.0 256.3V260.9" stroke="#2a2a8e" stroke-width="0.75" fill="none"/><circle cx="298.4" cy="250.3" r="1.80" fill="#2a2a8e"/><path d="M318.5 260.6L320.6 264.3L316.4 264.3Z" fill="#2a2a8e"/><path d="M356.9 273.9L359.0 277.7L354.9 277.7Z" fill="#2a2a8e"/><rect x="340.8" y="273.3" width="3.2" height="3.2" fill="#2a2a8e"/><circle cx="347.7" cy="236.4" r="1.80" fill="#2a2a8e"/><path d="M334.1 342.3L336.2 346.0L332.0 346.0Z" fill="#e0441c"/><circle cx="338.3" cy="326.7" r="1.80" fill="#e0441c"/><path d="M309.1 361.5H313.7M311.4 359.2V363.8" stroke="#e0441c" stroke-width="0.75" fill="none"/><path d="M315.6 356.6L317.7 360.4L313.5 360.4Z" fill="#e0441c"/><circle cx="367.6" cy="257.4" r="1.80" fill="#2a2a8e"/><circle cx="334.2" cy="275.2" r="1.80" fill="#2a2a8e"/><path d="M340.3 251.7L342.3 255.4L338.2 255.4Z" fill="#2a2a8e"/><path d="M374.8 256.1L376.9 259.9L372.8 259.9Z" fill="#2a2a8e"/><circle cx="296.2" cy="257.6" r="1.80" fill="#2a2a8e"/><circle cx="283.3" cy="247.6" r="1.80" fill="#2a2a8e"/><circle cx="288.6" cy="244.2" r="1.80" fill="#2a2a8e"/><rect x="335.5" y="271.1" width="3.2" height="3.2" fill="#2a2a8e"/><circle cx="303.8" cy="264.6" r="1.80" fill="#2a2a8e"/><path d="M306.1 262.6L308.2 266.3L304.0 266.3Z" fill="#2a2a8e"/><circle cx="331.5" cy="266.7" r="1.80" fill="#2a2a8e"/><path d="M359.0 274.2L361.1 277.9L356.9 277.9Z" fill="#2a2a8e"/><path d="M300.6 355.8L302.7 359.6L298.5 359.6Z" fill="#e0441c"/><circle cx="360.5" cy="326.9" r="1.80" fill="#e0441c"/><path d="M365.9 343.2L368.0 346.9L363.8 346.9Z" fill="#e0441c"/><path d="M326.7 340.3H331.3M329.0 338.0V342.6" stroke="#e0441c" stroke-width="0.75" fill="none"/><circle cx="346.8" cy="260.7" r="1.80" fill="#2a2a8e"/><path d="M352.7 265.3H357.3M355.0 263.0V267.6" stroke="#2a2a8e" stroke-width="0.75" fill="none"/><rect x="357.2" y="243.4" width="3.2" height="3.2" fill="#2a2a8e"/><path d="M354.7 261.9H359.3M357.0 259.6V264.2" stroke="#2a2a8e" stroke-width="0.75" fill="none"/><path d="M297.5 248.6H302.1M299.8 246.3V250.9" stroke="#2a2a8e" stroke-width="0.75" fill="none"/><circle cx="365.5" cy="243.6" r="1.80" fill="#2a2a8e"/><path d="M318.3 358.3H322.9M320.6 356.0V360.6" stroke="#e0441c" stroke-width="0.75" fill="none"/><path d="M354.3 334.6L356.4 338.4L352.2 338.4Z" fill="#e0441c"/><circle cx="314.0" cy="351.0" r="1.80" fill="#e0441c"/><path d="M304.1 259.8L306.2 263.6L302.0 263.6Z" fill="#2a2a8e"/><path d="M328.9 347.4H333.5M331.2 345.1V349.7" stroke="#e0441c" stroke-width="0.75" fill="none"/><circle cx="342.6" cy="252.4" r="1.80" fill="#2a2a8e"/><path d="M312.1 244.7L314.2 248.5L310.0 248.5Z" fill="#2a2a8e"/><path d="M340.7 275.4H345.3M343.0 273.1V277.7" stroke="#2a2a8e" stroke-width="0.75" fill="none"/><circle cx="319.2" cy="264.2" r="1.80" fill="#2a2a8e"/><path d="M325.3 278.3L327.4 282.1L323.2 282.1Z" fill="#2a2a8e"/><path d="M312.6 352.1H317.2M314.9 349.8V354.4" stroke="#e0441c" stroke-width="0.75" fill="none"/><rect x="342.3" y="243.9" width="3.2" height="3.2" fill="#2a2a8e"/><path d="M300.2 251.6H304.8M302.5 249.3V253.9" stroke="#2a2a8e" stroke-width="0.75" fill="none"/><circle cx="329.1" cy="347.0" r="1.80" fill="#e0441c"/><path d="M297.2 248.6H301.8M299.5 246.3V250.9" stroke="#2a2a8e" stroke-width="0.75" fill="none"/><circle cx="320.9" cy="257.8" r="1.80" fill="#2a2a8e"/><circle cx="330.9" cy="272.2" r="1.80" fill="#2a2a8e"/><circle cx="329.9" cy="265.8" r="1.80" fill="#2a2a8e"/><rect x="305.2" y="362.1" width="3.2" height="3.2" fill="#e0441c"/><circle cx="321.4" cy="245.0" r="1.80" fill="#2a2a8e"/><path d="M343.5 243.5H348.1M345.8 241.2V245.8" stroke="#2a2a8e" stroke-width="0.75" fill="none"/><circle cx="326.2" cy="341.7" r="1.80" fill="#e0441c"/><path d="M313.1 255.5H317.7M315.4 253.2V257.8" stroke="#2a2a8e" stroke-width="0.75" fill="none"/><path d="M322.2 269.4H326.8M324.5 267.1V271.7" stroke="#2a2a8e" stroke-width="0.75" fill="none"/><rect x="313.8" y="280.0" width="3.2" height="3.2" fill="#2a2a8e"/><path d="M303.2 274.4H307.8M305.5 272.1V276.7" stroke="#2a2a8e" stroke-width="0.75" fill="none"/><path d="M345.9 343.7L348.0 347.4L343.8 347.4Z" fill="#e0441c"/><path d="M336.4 244.0H341.0M338.7 241.7V246.3" stroke="#2a2a8e" stroke-width="0.75" fill="none"/><path d="M314.4 270.8L316.5 274.6L312.3 274.6Z" fill="#2a2a8e"/><circle cx="351.2" cy="332.6" r="1.80" fill="#e0441c"/><path d="M342.0 334.4L344.1 338.1L339.9 338.1Z" fill="#e0441c"/><path d="M355.7 257.1L357.8 260.9L353.6 260.9Z" fill="#2a2a8e"/><circle cx="378.2" cy="250.4" r="1.80" fill="#2a2a8e"/><rect x="345.7" y="284.7" width="3.2" height="3.2" fill="#e0441c"/><circle cx="312.3" cy="353.2" r="1.80" fill="#e0441c"/><circle cx="322.5" cy="270.0" r="1.80" fill="#2a2a8e"/><circle cx="312.1" cy="268.6" r="1.80" fill="#2a2a8e"/><path d="M373.9 260.2H378.5M376.2 257.9V262.5" stroke="#2a2a8e" stroke-width="0.75" fill="none"/><rect x="368.9" y="267.4" width="3.2" height="3.2" fill="#2a2a8e"/><circle cx="347.3" cy="334.4" r="1.80" fill="#e0441c"/><circle cx="364.1" cy="258.8" r="1.80" fill="#2a2a8e"/><path d="M363.6 351.0H368.2M365.9 348.7V353.3" stroke="#e0441c" stroke-width="0.75" fill="none"/><circle cx="324.0" cy="262.9" r="1.80" fill="#2a2a8e"/><path d="M351.5 243.8H356.1M353.8 241.5V246.1" stroke="#2a2a8e" stroke-width="0.75" fill="none"/><path d="M360.9 268.0L363.0 271.8L358.8 271.8Z" fill="#2a2a8e"/><rect x="307.8" y="273.6" width="3.2" height="3.2" fill="#2a2a8e"/><path d="M367.4 241.1H372.0M369.7 238.8V243.4" stroke="#2a2a8e" stroke-width="0.75" fill="none"/><circle cx="370.0" cy="257.9" r="1.80" fill="#2a2a8e"/><rect x="353.4" y="242.2" width="3.2" height="3.2" fill="#2a2a8e"/><circle cx="364.9" cy="247.7" r="1.80" fill="#2a2a8e"/><rect x="289.5" y="240.0" width="3.2" height="3.2" fill="#2a2a8e"/><path d="M338.7 286.1H343.3M341.0 283.8V288.4" stroke="#2a2a8e" stroke-width="0.75" fill="none"/><path d="M331.7 329.0L333.8 332.7L329.6 332.7Z" fill="#e0441c"/><rect x="343.6" y="339.5" width="3.2" height="3.2" fill="#e0441c"/><path d="M355.4 330.9L357.5 334.6L353.3 334.6Z" fill="#e0441c"/><circle cx="335.2" cy="239.1" r="1.80" fill="#2a2a8e"/><path d="M321.7 340.9H326.3M324.0 338.6V343.2" stroke="#e0441c" stroke-width="0.75" fill="none"/><path d="M364.8 252.3H369.4M367.1 250.0V254.6" stroke="#2a2a8e" stroke-width="0.75" fill="none"/><circle cx="361.3" cy="255.4" r="1.80" fill="#2a2a8e"/><path d="M317.6 355.6H322.2M319.9 353.3V357.9" stroke="#e0441c" stroke-width="0.75" fill="none"/><path d="M311.8 267.6L313.9 271.3L309.7 271.3Z" fill="#2a2a8e"/><path d="M341.2 267.7H345.8M343.5 265.4V270.0" stroke="#2a2a8e" stroke-width="0.75" fill="none"/><path d="M367.5 267.1H372.1M369.8 264.8V269.4" stroke="#2a2a8e" stroke-width="0.75" fill="none"/><path d="M363.5 338.4L365.6 342.2L361.4 342.2Z" fill="#e0441c"/><circle cx="294.7" cy="243.6" r="1.80" fill="#2a2a8e"/><circle cx="341.9" cy="272.9" r="1.80" fill="#2a2a8e"/><path d="M355.7 256.9L357.8 260.6L353.6 260.6Z" fill="#2a2a8e"/><circle cx="284.4" cy="245.9" r="1.80" fill="#2a2a8e"/><circle cx="357.2" cy="267.1" r="1.80" fill="#2a2a8e"/><path d="M343.8 327.2H348.4M346.1 324.9V329.5" stroke="#e0441c" stroke-width="0.75" fill="none"/><circle cx="367.1" cy="235.2" r="1.80" fill="#2a2a8e"/><path d="M341.9 339.3H346.5M344.2 337.0V341.6" stroke="#e0441c" stroke-width="0.75" fill="none"/><path d="M289.7 260.8H294.3M292.0 258.5V263.1" stroke="#2a2a8e" stroke-width="0.75" fill="none"/><path d="M315.2 242.7L317.3 246.5L313.1 246.5Z" fill="#2a2a8e"/><path d="M317.0 270.4H321.6M319.3 268.1V272.7" stroke="#2a2a8e" stroke-width="0.75" fill="none"/><path d="M343.9 338.7L346.0 342.5L341.8 342.5Z" fill="#e0441c"/><circle cx="287.7" cy="247.1" r="1.80" fill="#2a2a8e"/><path d="M279.3 251.8H283.9M281.6 249.5V254.1" stroke="#2a2a8e" stroke-width="0.75" fill="none"/><circle cx="341.3" cy="276.9" r="1.80" fill="#2a2a8e"/><circle cx="315.8" cy="279.2" r="1.80" fill="#2a2a8e"/><circle cx="367.4" cy="342.2" r="1.80" fill="#e0441c"/><path d="M368.9 254.6H373.5M371.2 252.3V256.9" stroke="#2a2a8e" stroke-width="0.75" fill="none"/><circle cx="327.0" cy="341.3" r="1.80" fill="#e0441c"/><path d="M357.9 247.6L360.0 251.3L355.9 251.3Z" fill="#2a2a8e"/><circle cx="319.8" cy="251.3" r="1.80" fill="#2a2a8e"/><path d="M320.5 362.7H325.1M322.8 360.4V365.0" stroke="#e0441c" stroke-width="0.75" fill="none"/><circle cx="307.6" cy="262.1" r="1.80" fill="#2a2a8e"/><path d="M282.5 243.9H287.1M284.8 241.6V246.2" stroke="#2a2a8e" stroke-width="0.75" fill="none"/><path d="M316.6 253.3H321.2M318.9 251.0V255.6" stroke="#2a2a8e" stroke-width="0.75" fill="none"/><circle cx="359.6" cy="250.2" r="1.80" fill="#2a2a8e"/><circle cx="334.8" cy="258.8" r="1.80" fill="#2a2a8e"/><circle cx="359.4" cy="348.0" r="1.80" fill="#e0441c"/><circle cx="337.4" cy="244.9" r="1.80" fill="#2a2a8e"/><circle cx="339.4" cy="272.8" r="1.80" fill="#2a2a8e"/><path d="M357.0 254.1H361.6M359.3 251.8V256.4" stroke="#2a2a8e" stroke-width="0.75" fill="none"/><circle cx="302.2" cy="255.5" r="1.80" fill="#2a2a8e"/><path d="M318.2 348.0L320.2 351.7L316.1 351.7Z" fill="#e0441c"/><path d="M336.5 339.3H341.1M338.8 337.0V341.6" stroke="#e0441c" stroke-width="0.75" fill="none"/><rect x="362.3" y="347.7" width="3.2" height="3.2" fill="#e0441c"/><circle cx="296.8" cy="264.3" r="1.80" fill="#2a2a8e"/><circle cx="302.4" cy="269.6" r="1.80" fill="#2a2a8e"/><path d="M371.7 263.3H376.3M374.0 261.0V265.6" stroke="#2a2a8e" stroke-width="0.75" fill="none"/><circle cx="330.9" cy="347.6" r="1.80" fill="#e0441c"/><path d="M336.4 259.7H341.0M338.7 257.4V262.0" stroke="#2a2a8e" stroke-width="0.75" fill="none"/><path d="M339.2 335.9L341.3 339.6L337.1 339.6Z" fill="#e0441c"/><path d="M339.5 245.3H344.1M341.8 243.0V247.6" stroke="#2a2a8e" stroke-width="0.75" fill="none"/><circle cx="365.8" cy="250.1" r="1.80" fill="#2a2a8e"/><path d="M360.0 349.1L362.1 352.9L358.0 352.9Z" fill="#e0441c"/><path d="M348.3 269.1H352.9M350.6 266.8V271.4" stroke="#2a2a8e" stroke-width="0.75" fill="none"/><circle cx="294.6" cy="250.5" r="1.80" fill="#2a2a8e"/><path d="M306.3 266.5L308.4 270.2L304.2 270.2Z" fill="#2a2a8e"/><rect x="357.5" y="246.2" width="3.2" height="3.2" fill="#2a2a8e"/><path d="M312.9 269.9H317.5M315.2 267.6V272.2" stroke="#2a2a8e" stroke-width="0.75" fill="none"/><path d="M355.8 330.3L357.9 334.1L353.7 334.1Z" fill="#e0441c"/><circle cx="333.5" cy="335.8" r="1.80" fill="#e0441c"/><circle cx="322.7" cy="245.6" r="1.80" fill="#2a2a8e"/><path d="M337.1 280.5H341.7M339.4 278.2V282.8" stroke="#2a2a8e" stroke-width="0.75" fill="none"/><path d="M319.1 352.8H323.7M321.4 350.5V355.1" stroke="#e0441c" stroke-width="0.75" fill="none"/><circle cx="360.5" cy="255.5" r="1.80" fill="#2a2a8e"/><path d="M314.1 273.4H318.7M316.4 271.1V275.7" stroke="#2a2a8e" stroke-width="0.75" fill="none"/><circle cx="343.6" cy="274.4" r="1.80" fill="#2a2a8e"/><path d="M321.9 281.1H326.5M324.2 278.8V283.4" stroke="#2a2a8e" stroke-width="0.75" fill="none"/><circle cx="302.8" cy="247.9" r="1.80" fill="#2a2a8e"/><rect x="310.0" y="359.5" width="3.2" height="3.2" fill="#e0441c"/><path d="M369.6 236.5L371.7 240.2L367.5 240.2Z" fill="#2a2a8e"/><path d="M325.8 276.9L327.9 280.7L323.7 280.7Z" fill="#2a2a8e"/><circle cx="329.2" cy="352.9" r="1.80" fill="#e0441c"/><path d="M338.7 291.0H343.3M341.0 288.7V293.3" stroke="#c4c4c4" stroke-width="0.75" fill="none"/><circle cx="315.0" cy="361.5" r="1.80" fill="#e0441c"/><circle cx="378.8" cy="248.0" r="1.80" fill="#2a2a8e"/><path d="M324.1 284.0H328.7M326.4 281.7V286.3" stroke="#2a2a8e" stroke-width="0.75" fill="none"/><path d="M360.8 260.3L362.9 264.0L358.7 264.0Z" fill="#2a2a8e"/><path d="M378.8 242.8H383.4M381.1 240.5V245.1" stroke="#2a2a8e" stroke-width="0.75" fill="none"/><circle cx="349.9" cy="239.6" r="1.80" fill="#2a2a8e"/><circle cx="342.9" cy="344.6" r="1.80" fill="#e0441c"/><path d="M317.6 345.2H322.2M319.9 342.9V347.5" stroke="#e0441c" stroke-width="0.75" fill="none"/><circle cx="346.1" cy="268.5" r="1.80" fill="#2a2a8e"/><circle cx="328.8" cy="278.0" r="1.80" fill="#2a2a8e"/><circle cx="331.6" cy="354.0" r="1.80" fill="#e0441c"/><path d="M320.9 262.0H325.5M323.2 259.7V264.3" stroke="#2a2a8e" stroke-width="0.75" fill="none"/><circle cx="360.2" cy="326.4" r="1.80" fill="#e0441c"/><path d="M330.5 330.8L332.6 334.6L328.4 334.6Z" fill="#e0441c"/><circle cx="313.8" cy="262.0" r="1.80" fill="#2a2a8e"/><path d="M323.0 257.8H327.6M325.3 255.5V260.1" stroke="#2a2a8e" stroke-width="0.75" fill="none"/><path d="M317.7 266.2H322.3M320.0 263.9V268.5" stroke="#2a2a8e" stroke-width="0.75" fill="none"/><path d="M343.6 240.8H348.2M345.9 238.5V243.1" stroke="#2a2a8e" stroke-width="0.75" fill="none"/><path d="M368.8 259.5H373.4M371.1 257.2V261.8" stroke="#2a2a8e" stroke-width="0.75" fill="none"/><path d="M319.0 248.6H323.6M321.3 246.3V250.9" stroke="#2a2a8e" stroke-width="0.75" fill="none"/><path d="M348.6 236.2H353.2M350.9 233.9V238.5" stroke="#2a2a8e" stroke-width="0.75" fill="none"/><path d="M344.8 268.8H349.4M347.1 266.5V271.1" stroke="#2a2a8e" stroke-width="0.75" fill="none"/><circle cx="284.7" cy="255.3" r="1.80" fill="#2a2a8e"/><path d="M354.8 254.8H359.4M357.1 252.5V257.1" stroke="#2a2a8e" stroke-width="0.75" fill="none"/><circle cx="363.8" cy="328.1" r="1.80" fill="#e0441c"/><path d="M342.6 348.3H347.2M344.9 346.0V350.6" stroke="#e0441c" stroke-width="0.75" fill="none"/><circle cx="312.9" cy="352.6" r="1.80" fill="#e0441c"/><path d="M370.0 247.3H374.6M372.3 245.0V249.6" stroke="#2a2a8e" stroke-width="0.75" fill="none"/><path d="M303.4 274.8H308.0M305.7 272.5V277.1" stroke="#2a2a8e" stroke-width="0.75" fill="none"/><path d="M365.4 238.7H370.0M367.7 236.4V241.0" stroke="#2a2a8e" stroke-width="0.75" fill="none"/><circle cx="308.7" cy="344.3" r="1.80" fill="#e0441c"/><rect x="311.0" y="348.5" width="3.2" height="3.2" fill="#e0441c"/><path d="M350.9 344.0H355.5M353.2 341.7V346.3" stroke="#e0441c" stroke-width="0.75" fill="none"/><path d="M329.5 348.8L331.6 352.6L327.4 352.6Z" fill="#e0441c"/><path d="M336.6 341.8H341.2M338.9 339.5V344.1" stroke="#e0441c" stroke-width="0.75" fill="none"/><circle cx="303.7" cy="266.4" r="1.80" fill="#2a2a8e"/><circle cx="326.2" cy="268.3" r="1.80" fill="#2a2a8e"/><path d="M347.8 272.6L349.9 276.3L345.7 276.3Z" fill="#2a2a8e"/><circle cx="297.0" cy="242.7" r="1.80" fill="#2a2a8e"/><path d="M353.9 347.8H358.5M356.2 345.5V350.1" stroke="#e0441c" stroke-width="0.75" fill="none"/><path d="M347.0 252.0H351.6M349.3 249.7V254.3" stroke="#2a2a8e" stroke-width="0.75" fill="none"/><path d="M301.6 347.2H306.2M303.9 344.9V349.5" stroke="#e0441c" stroke-width="0.75" fill="none"/><rect x="320.5" y="354.1" width="3.2" height="3.2" fill="#e0441c"/><circle cx="371.1" cy="265.9" r="1.80" fill="#2a2a8e"/><circle cx="304.4" cy="357.5" r="1.80" fill="#e0441c"/><circle cx="302.0" cy="257.0" r="1.80" fill="#2a2a8e"/><circle cx="319.1" cy="281.2" r="1.80" fill="#2a2a8e"/><path d="M357.8 264.6H362.4M360.1 262.3V266.9" stroke="#2a2a8e" stroke-width="0.75" fill="none"/><path d="M352.0 277.8H356.6M354.3 275.5V280.1" stroke="#2a2a8e" stroke-width="0.75" fill="none"/><path d="M340.8 285.9H345.4M343.1 283.6V288.2" stroke="#2a2a8e" stroke-width="0.75" fill="none"/><path d="M336.0 337.0H340.6M338.3 334.7V339.3" stroke="#e0441c" stroke-width="0.75" fill="none"/><circle cx="322.0" cy="346.3" r="1.80" fill="#e0441c"/><circle cx="361.1" cy="338.9" r="1.80" fill="#e0441c"/><path d="M322.6 352.5L324.7 356.2L320.5 356.2Z" fill="#e0441c"/><path d="M323.0 279.8H327.6M325.3 277.5V282.1" stroke="#2a2a8e" stroke-width="0.75" fill="none"/><circle cx="306.9" cy="271.9" r="1.80" fill="#2a2a8e"/><path d="M343.5 282.9H348.1M345.8 280.6V285.2" stroke="#2a2a8e" stroke-width="0.75" fill="none"/><path d="M331.0 353.6H335.6M333.3 351.3V355.9" stroke="#e0441c" stroke-width="0.75" fill="none"/><path d="M304.7 348.5L306.8 352.3L302.6 352.3Z" fill="#e0441c"/><circle cx="306.1" cy="264.9" r="1.80" fill="#2a2a8e"/><circle cx="381.6" cy="245.6" r="1.80" fill="#2a2a8e"/><circle cx="323.6" cy="283.3" r="1.80" fill="#2a2a8e"/><circle cx="301.9" cy="261.8" r="1.80" fill="#2a2a8e"/><path d="M322.4 270.8H327.0M324.7 268.5V273.1" stroke="#2a2a8e" stroke-width="0.75" fill="none"/><path d="M357.6 243.6H362.2M359.9 241.3V245.9" stroke="#2a2a8e" stroke-width="0.75" fill="none"/><path d="M354.4 238.3L356.5 242.0L352.3 242.0Z" fill="#2a2a8e"/><path d="M353.9 241.9H358.5M356.2 239.6V244.2" stroke="#2a2a8e" stroke-width="0.75" fill="none"/><path d="M331.3 282.1H335.9M333.6 279.8V284.4" stroke="#2a2a8e" stroke-width="0.75" fill="none"/><path d="M376.6 244.6H381.2M378.9 242.3V246.9" stroke="#2a2a8e" stroke-width="0.75" fill="none"/><path d="M315.9 253.7H320.5M318.2 251.4V256.0" stroke="#2a2a8e" stroke-width="0.75" fill="none"/><path d="M358.1 242.1H362.7M360.4 239.8V244.4" stroke="#2a2a8e" stroke-width="0.75" fill="none"/><path d="M327.5 280.8L329.6 284.5L325.4 284.5Z" fill="#2a2a8e"/><path d="M340.0 267.0H344.6M342.3 264.7V269.3" stroke="#2a2a8e" stroke-width="0.75" fill="none"/><path d="M347.5 282.8H352.1M349.8 280.5V285.1" stroke="#2a2a8e" stroke-width="0.75" fill="none"/><path d="M358.1 333.7H362.7M360.4 331.4V336.0" stroke="#e0441c" stroke-width="0.75" fill="none"/><circle cx="336.9" cy="268.2" r="1.80" fill="#2a2a8e"/><circle cx="344.0" cy="255.0" r="1.80" fill="#2a2a8e"/><circle cx="374.0" cy="239.3" r="1.80" fill="#2a2a8e"/><path d="M337.7 333.3L339.8 337.0L335.6 337.0Z" fill="#e0441c"/><circle cx="339.8" cy="326.2" r="1.80" fill="#e0441c"/><path d="M329.3 347.6H333.9M331.6 345.3V349.9" stroke="#e0441c" stroke-width="0.75" fill="none"/><circle cx="311.0" cy="361.6" r="1.80" fill="#e0441c"/><circle cx="286.4" cy="244.5" r="1.80" fill="#2a2a8e"/><path d="M329.9 247.7H334.5M332.2 245.4V250.0" stroke="#2a2a8e" stroke-width="0.75" fill="none"/><path d="M329.4 280.2H334.0M331.7 277.9V282.5" stroke="#2a2a8e" stroke-width="0.75" fill="none"/><path d="M279.9 243.7H284.5M282.2 241.4V246.0" stroke="#2a2a8e" stroke-width="0.75" fill="none"/><path d="M317.2 269.7H321.8M319.5 267.4V272.0" stroke="#2a2a8e" stroke-width="0.75" fill="none"/><circle cx="322.8" cy="276.8" r="1.80" fill="#2a2a8e"/><path d="M335.8 342.6L337.9 346.4L333.8 346.4Z" fill="#e0441c"/><circle cx="281.9" cy="246.3" r="1.80" fill="#2a2a8e"/><circle cx="368.9" cy="240.4" r="1.80" fill="#2a2a8e"/><path d="M287.2 250.9L289.3 254.7L285.1 254.7Z" fill="#2a2a8e"/><path d="M357.1 259.5L359.2 263.3L355.1 263.3Z" fill="#2a2a8e"/><path d="M317.9 277.3H322.5M320.2 275.0V279.6" stroke="#2a2a8e" stroke-width="0.75" fill="none"/><circle cx="336.2" cy="262.6" r="1.80" fill="#2a2a8e"/><rect x="367.3" y="348.9" width="3.2" height="3.2" fill="#e0441c"/><path d="M362.1 239.4L364.2 243.1L360.0 243.1Z" fill="#2a2a8e"/><circle cx="351.9" cy="268.8" r="1.80" fill="#2a2a8e"/><path d="M340.3 335.3H344.9M342.6 333.0V337.6" stroke="#e0441c" stroke-width="0.75" fill="none"/><path d="M358.3 330.7H362.9M360.6 328.4V333.0" stroke="#e0441c" stroke-width="0.75" fill="none"/><circle cx="284.6" cy="246.1" r="1.80" fill="#2a2a8e"/><path d="M283.8 244.8H288.4M286.1 242.5V247.1" stroke="#2a2a8e" stroke-width="0.75" fill="none"/><path d="M358.2 245.3H362.8M360.5 243.0V247.6" stroke="#2a2a8e" stroke-width="0.75" fill="none"/><circle cx="320.9" cy="265.2" r="1.80" fill="#2a2a8e"/><circle cx="317.1" cy="352.4" r="1.80" fill="#e0441c"/><path d="M307.2 265.2H311.8M309.5 262.9V267.5" stroke="#2a2a8e" stroke-width="0.75" fill="none"/><circle cx="373.7" cy="249.3" r="1.80" fill="#2a2a8e"/><rect x="330.1" y="347.1" width="3.2" height="3.2" fill="#e0441c"/><path d="M305.6 279.0H310.2M307.9 276.7V281.3" stroke="#2a2a8e" stroke-width="0.75" fill="none"/><path d="M299.4 240.7H304.0M301.7 238.4V243.0" stroke="#2a2a8e" stroke-width="0.75" fill="none"/><path d="M361.7 329.9L363.8 333.7L359.6 333.7Z" fill="#e0441c"/><circle cx="342.9" cy="245.9" r="1.80" fill="#2a2a8e"/><circle cx="326.1" cy="345.4" r="1.80" fill="#e0441c"/><circle cx="365.0" cy="342.1" r="1.80" fill="#e0441c"/><path d="M363.0 334.6L365.0 338.4L360.9 338.4Z" fill="#e0441c"/><circle cx="354.8" cy="322.6" r="1.80" fill="#e0441c"/><path d="M299.9 272.1H304.5M302.2 269.8V274.4" stroke="#2a2a8e" stroke-width="0.75" fill="none"/><circle cx="337.1" cy="284.3" r="1.80" fill="#2a2a8e"/><rect x="319.9" y="355.0" width="3.2" height="3.2" fill="#e0441c"/><path d="M354.3 236.8L356.4 240.6L352.2 240.6Z" fill="#2a2a8e"/><path d="M366.6 263.1H371.2M368.9 260.8V265.4" stroke="#2a2a8e" stroke-width="0.75" fill="none"/><path d="M324.8 338.8H329.4M327.1 336.5V341.1" stroke="#e0441c" stroke-width="0.75" fill="none"/><path d="M319.9 263.5H324.5M322.2 261.2V265.8" stroke="#2a2a8e" stroke-width="0.75" fill="none"/><rect x="307.3" y="268.5" width="3.2" height="3.2" fill="#2a2a8e"/><circle cx="355.3" cy="331.0" r="1.80" fill="#e0441c"/><rect x="296.0" y="247.4" width="3.2" height="3.2" fill="#2a2a8e"/><circle cx="378.5" cy="256.4" r="1.80" fill="#2a2a8e"/><path d="M348.7 336.8H353.3M351.0 334.5V339.1" stroke="#e0441c" stroke-width="0.75" fill="none"/><circle cx="372.2" cy="245.8" r="1.80" fill="#2a2a8e"/><path d="M309.5 265.6L311.6 269.3L307.4 269.3Z" fill="#2a2a8e"/><rect x="360.1" y="262.6" width="3.2" height="3.2" fill="#2a2a8e"/><circle cx="290.8" cy="250.6" r="1.80" fill="#2a2a8e"/><circle cx="352.0" cy="246.7" r="1.80" fill="#2a2a8e"/><rect x="296.8" y="238.7" width="3.2" height="3.2" fill="#2a2a8e"/><circle cx="355.0" cy="271.7" r="1.80" fill="#2a2a8e"/><circle cx="355.6" cy="249.3" r="1.80" fill="#2a2a8e"/><circle cx="312.3" cy="251.4" r="1.80" fill="#2a2a8e"/><path d="M303.2 257.2H307.8M305.5 254.9V259.5" stroke="#2a2a8e" stroke-width="0.75" fill="none"/><path d="M318.8 280.9H323.4M321.1 278.6V283.2" stroke="#2a2a8e" stroke-width="0.75" fill="none"/><circle cx="368.2" cy="351.9" r="1.80" fill="#e0441c"/><rect x="365.1" y="341.5" width="3.2" height="3.2" fill="#e0441c"/><circle cx="342.1" cy="285.8" r="1.80" fill="#2a2a8e"/><path d="M309.8 360.2L311.9 364.0L307.7 364.0Z" fill="#e0441c"/><circle cx="297.6" cy="268.1" r="1.80" fill="#2a2a8e"/><path d="M347.9 325.6L350.0 329.3L345.8 329.3Z" fill="#e0441c"/><path d="M353.5 264.6L355.6 268.3L351.4 268.3Z" fill="#2a2a8e"/><path d="M318.3 342.5L320.4 346.3L316.2 346.3Z" fill="#e0441c"/><circle cx="292.5" cy="259.3" r="1.80" fill="#2a2a8e"/><circle cx="347.0" cy="327.0" r="1.80" fill="#e0441c"/><rect x="341.2" y="238.7" width="3.2" height="3.2" fill="#2a2a8e"/><path d="M327.2 239.0L329.3 242.8L325.1 242.8Z" fill="#2a2a8e"/><circle cx="344.0" cy="343.7" r="1.80" fill="#e0441c"/><circle cx="348.1" cy="249.7" r="1.80" fill="#2a2a8e"/><circle cx="315.1" cy="267.3" r="1.80" fill="#2a2a8e"/><path d="M344.1 243.5H348.7M346.4 241.2V245.8" stroke="#2a2a8e" stroke-width="0.75" fill="none"/><path d="M323.8 356.9L325.9 360.6L321.7 360.6Z" fill="#e0441c"/><path d="M352.2 250.0H356.8M354.5 247.7V252.3" stroke="#2a2a8e" stroke-width="0.75" fill="none"/><path d="M317.0 355.6L319.1 359.4L314.9 359.4Z" fill="#e0441c"/><circle cx="289.2" cy="240.2" r="1.80" fill="#2a2a8e"/><path d="M349.3 241.1H353.9M351.6 238.8V243.4" stroke="#2a2a8e" stroke-width="0.75" fill="none"/><circle cx="302.8" cy="360.7" r="1.80" fill="#e0441c"/><path d="M346.3 241.0L348.4 244.8L344.2 244.8Z" fill="#2a2a8e"/><path d="M332.3 267.8H336.9M334.6 265.5V270.1" stroke="#2a2a8e" stroke-width="0.75" fill="none"/><circle cx="305.6" cy="263.0" r="1.80" fill="#2a2a8e"/><path d="M331.6 329.6L333.7 333.4L329.5 333.4Z" fill="#e0441c"/><circle cx="318.1" cy="274.4" r="1.80" fill="#2a2a8e"/><rect x="313.8" y="267.9" width="3.2" height="3.2" fill="#2a2a8e"/><circle cx="331.6" cy="283.7" r="1.80" fill="#2a2a8e"/><path d="M298.0 237.2L300.1 240.9L295.9 240.9Z" fill="#2a2a8e"/><circle cx="353.5" cy="335.9" r="1.80" fill="#e0441c"/><path d="M321.1 357.2L323.2 360.9L319.0 360.9Z" fill="#e0441c"/><path d="M376.2 247.4L378.3 251.1L374.1 251.1Z" fill="#2a2a8e"/><circle cx="322.2" cy="280.4" r="1.80" fill="#2a2a8e"/><circle cx="286.1" cy="249.6" r="1.80" fill="#2a2a8e"/><circle cx="363.9" cy="270.8" r="1.80" fill="#2a2a8e"/><circle cx="322.0" cy="269.1" r="1.80" fill="#2a2a8e"/><circle cx="344.4" cy="266.3" r="1.80" fill="#2a2a8e"/><circle cx="314.6" cy="358.6" r="1.80" fill="#e0441c"/><circle cx="286.6" cy="246.3" r="1.80" fill="#2a2a8e"/><circle cx="345.1" cy="324.3" r="1.80" fill="#e0441c"/><path d="M357.0 236.5L359.1 240.2L354.9 240.2Z" fill="#2a2a8e"/><path d="M342.0 341.1L344.1 344.9L339.9 344.9Z" fill="#e0441c"/><circle cx="377.8" cy="252.4" r="1.80" fill="#2a2a8e"/><circle cx="341.3" cy="239.1" r="1.80" fill="#2a2a8e"/><circle cx="342.6" cy="263.3" r="1.80" fill="#2a2a8e"/><rect x="354.4" y="322.4" width="3.2" height="3.2" fill="#e0441c"/><path d="M314.0 271.0H318.6M316.3 268.7V273.3" stroke="#2a2a8e" stroke-width="0.75" fill="none"/><circle cx="375.2" cy="238.1" r="1.80" fill="#2a2a8e"/><path d="M319.1 343.1L321.2 346.9L317.0 346.9Z" fill="#e0441c"/><circle cx="341.3" cy="238.3" r="1.80" fill="#2a2a8e"/><path d="M346.8 247.6H351.4M349.1 245.3V249.9" stroke="#2a2a8e" stroke-width="0.75" fill="none"/><path d="M311.3 350.9L313.4 354.6L309.2 354.6Z" fill="#e0441c"/><rect x="343.7" y="268.9" width="3.2" height="3.2" fill="#2a2a8e"/></g>
<g><circle cx="451.3" cy="338.6" r="1.8" fill="#f8e22c"/><circle cx="473.6" cy="279.8" r="1.8" fill="#1a8cc4"/><circle cx="459.7" cy="338.5" r="1.8" fill="#eca21c"/><circle cx="473.2" cy="341.7" r="1.8" fill="#eca21c"/><circle cx="479.7" cy="345.4" r="1.8" fill="#eca21c"/><circle cx="438.9" cy="274.2" r="1.5" fill="#d0d0d0"/><circle cx="435.3" cy="344.0" r="1.5" fill="#d0d0d0"/><circle cx="477.1" cy="242.6" r="1.8" fill="#1a8cc4"/><circle cx="476.5" cy="337.4" r="1.8" fill="#eca21c"/><circle cx="472.5" cy="242.0" r="1.8" fill="#1a8cc4"/><circle cx="449.0" cy="362.1" r="1.8" fill="#f8e22c"/><circle cx="451.5" cy="284.6" r="1.8" fill="#1a8cc4"/><circle cx="452.5" cy="280.3" r="1.5" fill="#d0d0d0"/><circle cx="457.2" cy="277.5" r="1.5" fill="#bcdfe4"/><circle cx="442.0" cy="348.4" r="1.8" fill="#f8e22c"/><circle cx="461.3" cy="342.0" r="1.8" fill="#f8e22c"/><circle cx="435.1" cy="251.0" r="1.5" fill="#bcdfe4"/><circle cx="465.3" cy="276.7" r="1.5" fill="#bcdfe4"/><circle cx="482.2" cy="243.7" r="1.8" fill="#1a8cc4"/><circle cx="440.9" cy="345.6" r="1.8" fill="#f8e22c"/><circle cx="498.1" cy="352.1" r="1.8" fill="#eca21c"/><circle cx="429.3" cy="243.5" r="1.5" fill="#bcdfe4"/><circle cx="497.4" cy="351.5" r="1.8" fill="#eca21c"/><circle cx="451.8" cy="358.2" r="1.8" fill="#f8e22c"/><circle cx="491.4" cy="332.1" r="1.8" fill="#eca21c"/><circle cx="479.4" cy="241.6" r="1.8" fill="#1a8cc4"/><circle cx="451.5" cy="363.2" r="1.8" fill="#f8e22c"/><circle cx="417.6" cy="238.4" r="1.5" fill="#bcdfe4"/><circle cx="470.7" cy="252.6" r="1.8" fill="#1a8cc4"/><circle cx="451.4" cy="344.2" r="1.8" fill="#f8e22c"/><circle cx="463.4" cy="280.3" r="1.5" fill="#bcdfe4"/><circle cx="446.6" cy="359.7" r="1.8" fill="#f8e22c"/><circle cx="461.1" cy="330.4" r="1.5" fill="#d0d0d0"/><circle cx="493.0" cy="262.7" r="1.8" fill="#1a8cc4"/><circle cx="478.8" cy="348.7" r="1.8" fill="#eca21c"/><circle cx="417.8" cy="254.9" r="1.5" fill="#d0d0d0"/><circle cx="494.9" cy="234.9" r="1.8" fill="#1a8cc4"/><circle cx="423.5" cy="245.4" r="1.5" fill="#bcdfe4"/><circle cx="460.3" cy="338.5" r="1.8" fill="#eca21c"/><circle cx="479.4" cy="237.0" r="1.8" fill="#1a8cc4"/><circle cx="493.8" cy="340.2" r="1.8" fill="#eca21c"/><circle cx="504.6" cy="259.7" r="1.8" fill="#1a8cc4"/><circle cx="467.2" cy="333.5" r="1.8" fill="#eca21c"/><circle cx="463.5" cy="270.0" r="1.8" fill="#1a8cc4"/><circle cx="487.2" cy="236.5" r="1.8" fill="#1a8cc4"/><circle cx="502.6" cy="241.7" r="1.8" fill="#1a8cc4"/><circle cx="470.1" cy="273.7" r="1.8" fill="#1a8cc4"/><circle cx="490.5" cy="344.1" r="1.8" fill="#eca21c"/><circle cx="463.1" cy="251.7" r="1.5" fill="#bcdfe4"/><circle cx="424.7" cy="247.3" r="1.5" fill="#bcdfe4"/><circle cx="480.9" cy="240.0" r="1.8" fill="#1a8cc4"/><circle cx="437.1" cy="278.6" r="1.5" fill="#bcdfe4"/><circle cx="444.9" cy="266.3" r="1.5" fill="#bcdfe4"/><circle cx="467.9" cy="326.6" r="1.8" fill="#eca21c"/><circle cx="472.1" cy="348.5" r="1.8" fill="#eca21c"/><circle cx="489.3" cy="237.4" r="1.8" fill="#1a8cc4"/><circle cx="501.0" cy="246.5" r="1.8" fill="#1a8cc4"/><circle cx="475.0" cy="329.7" r="1.8" fill="#eca21c"/><circle cx="476.1" cy="271.1" r="1.8" fill="#1a8cc4"/><circle cx="430.6" cy="350.6" r="1.8" fill="#f8e22c"/><circle cx="484.8" cy="238.6" r="1.8" fill="#1a8cc4"/><circle cx="473.6" cy="258.6" r="1.5" fill="#d0d0d0"/><circle cx="427.0" cy="250.3" r="1.5" fill="#d0d0d0"/><circle cx="447.1" cy="262.8" r="1.5" fill="#bcdfe4"/><circle cx="485.5" cy="276.1" r="1.8" fill="#1a8cc4"/><circle cx="471.0" cy="274.9" r="1.8" fill="#1a8cc4"/><circle cx="476.3" cy="236.4" r="1.8" fill="#1a8cc4"/><circle cx="462.7" cy="344.5" r="1.5" fill="#d0d0d0"/><circle cx="466.9" cy="326.7" r="1.8" fill="#eca21c"/><circle cx="440.0" cy="361.5" r="1.8" fill="#f8e22c"/><circle cx="444.2" cy="358.8" r="1.8" fill="#f8e22c"/><circle cx="496.2" cy="257.4" r="1.8" fill="#1a8cc4"/><circle cx="462.8" cy="275.2" r="1.8" fill="#1a8cc4"/><circle cx="468.9" cy="253.9" r="1.8" fill="#1a8cc4"/><circle cx="503.4" cy="258.3" r="1.8" fill="#1a8cc4"/><circle cx="424.8" cy="257.6" r="1.5" fill="#bcdfe4"/><circle cx="411.9" cy="247.6" r="1.5" fill="#bcdfe4"/><circle cx="417.2" cy="244.2" r="1.5" fill="#bcdfe4"/><circle cx="465.7" cy="272.7" r="1.8" fill="#1a8cc4"/><circle cx="432.4" cy="264.6" r="1.5" fill="#bcdfe4"/><circle cx="434.7" cy="264.8" r="1.5" fill="#d0d0d0"/><circle cx="460.1" cy="266.7" r="1.5" fill="#bcdfe4"/><circle cx="487.6" cy="276.4" r="1.8" fill="#1a8cc4"/><circle cx="429.2" cy="358.0" r="1.5" fill="#d0d0d0"/><circle cx="489.1" cy="326.9" r="1.8" fill="#eca21c"/><circle cx="494.5" cy="345.4" r="1.8" fill="#eca21c"/><circle cx="457.6" cy="340.3" r="1.8" fill="#f8e22c"/><circle cx="475.4" cy="260.7" r="1.8" fill="#1a8cc4"/><circle cx="483.6" cy="265.3" r="1.8" fill="#1a8cc4"/><circle cx="487.4" cy="245.0" r="1.8" fill="#1a8cc4"/><circle cx="485.6" cy="261.9" r="1.8" fill="#1a8cc4"/><circle cx="428.4" cy="248.6" r="1.5" fill="#bcdfe4"/><circle cx="494.1" cy="243.6" r="1.8" fill="#1a8cc4"/><circle cx="449.2" cy="358.3" r="1.8" fill="#f8e22c"/><circle cx="482.9" cy="336.8" r="1.5" fill="#d0d0d0"/><circle cx="442.6" cy="351.0" r="1.8" fill="#1a8cc4"/><circle cx="432.7" cy="262.0" r="1.5" fill="#bcdfe4"/><circle cx="459.8" cy="347.4" r="1.8" fill="#f8e22c"/><circle cx="471.2" cy="252.4" r="1.8" fill="#1a8cc4"/><circle cx="440.7" cy="246.9" r="1.5" fill="#bcdfe4"/><circle cx="471.6" cy="275.4" r="1.5" fill="#d0d0d0"/><circle cx="447.8" cy="264.2" r="1.5" fill="#bcdfe4"/><circle cx="453.9" cy="280.5" r="1.8" fill="#1a8cc4"/><circle cx="443.5" cy="352.1" r="1.8" fill="#f8e22c"/><circle cx="472.5" cy="245.5" r="1.8" fill="#1a8cc4"/><circle cx="431.1" cy="251.6" r="1.5" fill="#bcdfe4"/><circle cx="457.7" cy="347.0" r="1.8" fill="#f8e22c"/><circle cx="428.1" cy="248.6" r="1.5" fill="#d0d0d0"/><circle cx="449.5" cy="257.8" r="1.5" fill="#d0d0d0"/><circle cx="459.5" cy="272.2" r="1.8" fill="#1a8cc4"/><circle cx="458.5" cy="265.8" r="1.8" fill="#1a8cc4"/><circle cx="435.4" cy="363.7" r="1.8" fill="#f8e22c"/><circle cx="450.0" cy="245.0" r="1.5" fill="#bcdfe4"/><circle cx="474.4" cy="243.5" r="1.8" fill="#1a8cc4"/><circle cx="454.8" cy="341.7" r="1.8" fill="#f8e22c"/><circle cx="444.0" cy="255.5" r="1.5" fill="#bcdfe4"/><circle cx="453.1" cy="269.4" r="1.5" fill="#bcdfe4"/><circle cx="444.0" cy="281.6" r="1.5" fill="#bcdfe4"/><circle cx="434.1" cy="274.4" r="1.5" fill="#d0d0d0"/><circle cx="474.5" cy="345.9" r="1.5" fill="#d0d0d0"/><circle cx="467.3" cy="244.0" r="1.8" fill="#1a8cc4"/><circle cx="443.0" cy="273.0" r="1.5" fill="#bcdfe4"/><circle cx="479.8" cy="332.6" r="1.8" fill="#eca21c"/><circle cx="470.6" cy="336.6" r="1.8" fill="#eca21c"/><circle cx="484.3" cy="259.3" r="1.8" fill="#1a8cc4"/><circle cx="506.8" cy="250.4" r="1.8" fill="#1a8cc4"/><circle cx="475.9" cy="286.3" r="1.8" fill="#eca21c"/><circle cx="440.9" cy="353.2" r="1.8" fill="#f8e22c"/><circle cx="451.1" cy="270.0" r="1.5" fill="#bcdfe4"/><circle cx="440.7" cy="268.6" r="1.5" fill="#bcdfe4"/><circle cx="504.8" cy="260.2" r="1.8" fill="#1a8cc4"/><circle cx="499.1" cy="269.0" r="1.8" fill="#1a8cc4"/><circle cx="475.9" cy="334.4" r="1.5" fill="#d0d0d0"/><circle cx="492.7" cy="258.8" r="1.8" fill="#1a8cc4"/><circle cx="494.5" cy="351.0" r="1.8" fill="#eca21c"/><circle cx="452.6" cy="262.9" r="1.5" fill="#d0d0d0"/><circle cx="482.4" cy="243.8" r="1.8" fill="#1a8cc4"/><circle cx="489.5" cy="270.2" r="1.8" fill="#1a8cc4"/><circle cx="438.0" cy="275.2" r="1.5" fill="#d0d0d0"/><circle cx="498.3" cy="241.1" r="1.8" fill="#1a8cc4"/><circle cx="498.6" cy="257.9" r="1.8" fill="#1a8cc4"/><circle cx="483.6" cy="243.8" r="1.8" fill="#1a8cc4"/><circle cx="493.5" cy="247.7" r="1.8" fill="#1a8cc4"/><circle cx="419.7" cy="241.6" r="1.5" fill="#bcdfe4"/><circle cx="469.6" cy="286.1" r="1.8" fill="#1a8cc4"/><circle cx="460.3" cy="331.2" r="1.8" fill="#eca21c"/><circle cx="473.8" cy="341.1" r="1.8" fill="#eca21c"/><circle cx="484.0" cy="333.1" r="1.8" fill="#eca21c"/><circle cx="463.8" cy="239.1" r="1.5" fill="#bcdfe4"/><circle cx="452.6" cy="340.9" r="1.8" fill="#f8e22c"/><circle cx="495.7" cy="252.3" r="1.8" fill="#1a8cc4"/><circle cx="489.9" cy="255.4" r="1.8" fill="#1a8cc4"/><circle cx="448.5" cy="355.6" r="1.8" fill="#f8e22c"/><circle cx="440.4" cy="269.8" r="1.5" fill="#bcdfe4"/><circle cx="472.1" cy="267.7" r="1.8" fill="#1a8cc4"/><circle cx="498.4" cy="267.1" r="1.8" fill="#1a8cc4"/><circle cx="492.1" cy="340.6" r="1.8" fill="#eca21c"/><circle cx="423.3" cy="243.6" r="1.5" fill="#bcdfe4"/><circle cx="470.5" cy="272.9" r="1.8" fill="#1a8cc4"/><circle cx="484.3" cy="259.1" r="1.8" fill="#1a8cc4"/><circle cx="413.0" cy="245.9" r="1.5" fill="#bcdfe4"/><circle cx="485.8" cy="267.1" r="1.8" fill="#1a8cc4"/><circle cx="474.7" cy="327.2" r="1.8" fill="#eca21c"/><circle cx="495.7" cy="235.2" r="1.8" fill="#1a8cc4"/><circle cx="472.8" cy="339.3" r="1.8" fill="#eca21c"/><circle cx="420.6" cy="260.8" r="1.5" fill="#bcdfe4"/><circle cx="443.8" cy="244.9" r="1.5" fill="#bcdfe4"/><circle cx="447.9" cy="270.4" r="1.5" fill="#bcdfe4"/><circle cx="472.5" cy="340.9" r="1.8" fill="#eca21c"/><circle cx="416.3" cy="247.1" r="1.5" fill="#bcdfe4"/><circle cx="410.2" cy="251.8" r="1.5" fill="#bcdfe4"/><circle cx="469.9" cy="276.9" r="1.5" fill="#d0d0d0"/><circle cx="444.4" cy="279.2" r="1.5" fill="#bcdfe4"/><circle cx="496.0" cy="342.2" r="1.8" fill="#eca21c"/><circle cx="499.8" cy="254.6" r="1.8" fill="#1a8cc4"/><circle cx="455.6" cy="341.3" r="1.8" fill="#f8e22c"/><circle cx="486.5" cy="249.8" r="1.8" fill="#1a8cc4"/><circle cx="448.4" cy="251.3" r="1.5" fill="#bcdfe4"/><circle cx="451.4" cy="362.7" r="1.8" fill="#f8e22c"/><circle cx="436.2" cy="262.1" r="1.5" fill="#bcdfe4"/><circle cx="413.4" cy="243.9" r="1.5" fill="#bcdfe4"/><circle cx="447.5" cy="253.3" r="1.5" fill="#bcdfe4"/><circle cx="488.2" cy="250.2" r="1.8" fill="#1a8cc4"/><circle cx="463.4" cy="258.8" r="1.8" fill="#1a8cc4"/><circle cx="488.0" cy="348.0" r="1.8" fill="#eca21c"/><circle cx="466.0" cy="244.9" r="1.5" fill="#bcdfe4"/><circle cx="468.0" cy="272.8" r="1.8" fill="#1a8cc4"/><circle cx="487.9" cy="254.1" r="1.8" fill="#1a8cc4"/><circle cx="430.8" cy="255.5" r="1.5" fill="#bcdfe4"/><circle cx="446.8" cy="350.2" r="1.8" fill="#f8e22c"/><circle cx="467.4" cy="339.3" r="1.8" fill="#eca21c"/><circle cx="492.5" cy="349.3" r="1.8" fill="#eca21c"/><circle cx="425.4" cy="264.3" r="1.5" fill="#d0d0d0"/><circle cx="431.0" cy="269.6" r="1.5" fill="#bcdfe4"/><circle cx="502.6" cy="263.3" r="1.8" fill="#1a8cc4"/><circle cx="459.5" cy="347.6" r="1.8" fill="#f8e22c"/><circle cx="467.3" cy="259.7" r="1.8" fill="#1a8cc4"/><circle cx="467.8" cy="338.1" r="1.8" fill="#eca21c"/><circle cx="470.4" cy="245.3" r="1.8" fill="#1a8cc4"/><circle cx="494.4" cy="250.1" r="1.8" fill="#1a8cc4"/><circle cx="488.6" cy="351.3" r="1.8" fill="#eca21c"/><circle cx="479.2" cy="269.1" r="1.8" fill="#1a8cc4"/><circle cx="423.2" cy="250.5" r="1.5" fill="#bcdfe4"/><circle cx="434.9" cy="268.7" r="1.5" fill="#bcdfe4"/><circle cx="487.7" cy="247.8" r="1.8" fill="#1a8cc4"/><circle cx="443.8" cy="269.9" r="1.5" fill="#bcdfe4"/><circle cx="484.4" cy="332.5" r="1.8" fill="#eca21c"/><circle cx="462.1" cy="335.8" r="1.8" fill="#eca21c"/><circle cx="451.3" cy="245.6" r="1.5" fill="#bcdfe4"/><circle cx="468.0" cy="280.5" r="1.8" fill="#1a8cc4"/><circle cx="450.0" cy="352.8" r="1.8" fill="#f8e22c"/><circle cx="489.1" cy="255.5" r="1.8" fill="#1a8cc4"/><circle cx="445.0" cy="273.4" r="1.5" fill="#bcdfe4"/><circle cx="472.2" cy="274.4" r="1.8" fill="#1a8cc4"/><circle cx="452.8" cy="281.1" r="1.8" fill="#1a8cc4"/><circle cx="431.4" cy="247.9" r="1.5" fill="#bcdfe4"/><circle cx="440.2" cy="361.1" r="1.5" fill="#d0d0d0"/><circle cx="498.2" cy="238.7" r="1.8" fill="#1a8cc4"/><circle cx="454.4" cy="279.1" r="1.8" fill="#1a8cc4"/><circle cx="457.8" cy="352.9" r="1.8" fill="#f8e22c"/><circle cx="469.6" cy="291.0" r="1.5" fill="#d0d0d0"/><circle cx="443.6" cy="361.5" r="1.8" fill="#f8e22c"/><circle cx="507.4" cy="248.0" r="1.8" fill="#1a8cc4"/><circle cx="455.0" cy="284.0" r="1.8" fill="#1a8cc4"/><circle cx="489.4" cy="262.5" r="1.8" fill="#1a8cc4"/><circle cx="509.7" cy="242.8" r="1.8" fill="#1a8cc4"/><circle cx="478.5" cy="239.6" r="1.8" fill="#1a8cc4"/><circle cx="471.5" cy="344.6" r="1.8" fill="#eca21c"/><circle cx="448.5" cy="345.2" r="1.8" fill="#f8e22c"/><circle cx="474.7" cy="268.5" r="1.8" fill="#1a8cc4"/><circle cx="457.4" cy="278.0" r="1.5" fill="#bcdfe4"/><circle cx="460.2" cy="354.0" r="1.8" fill="#f8e22c"/><circle cx="451.8" cy="262.0" r="1.5" fill="#bcdfe4"/><circle cx="488.8" cy="326.4" r="1.8" fill="#eca21c"/><circle cx="459.1" cy="333.0" r="1.8" fill="#eca21c"/><circle cx="442.4" cy="262.0" r="1.5" fill="#bcdfe4"/><circle cx="453.9" cy="257.8" r="1.5" fill="#bcdfe4"/><circle cx="448.6" cy="266.2" r="1.5" fill="#bcdfe4"/><circle cx="474.5" cy="240.8" r="1.8" fill="#1a8cc4"/><circle cx="499.7" cy="259.5" r="1.8" fill="#1a8cc4"/><circle cx="449.9" cy="248.6" r="1.5" fill="#d0d0d0"/><circle cx="479.5" cy="236.2" r="1.8" fill="#1a8cc4"/><circle cx="475.7" cy="268.8" r="1.8" fill="#1a8cc4"/><circle cx="413.3" cy="255.3" r="1.5" fill="#bcdfe4"/><circle cx="485.7" cy="254.8" r="1.8" fill="#1a8cc4"/><circle cx="492.4" cy="328.1" r="1.8" fill="#eca21c"/><circle cx="473.5" cy="348.3" r="1.8" fill="#eca21c"/><circle cx="441.5" cy="352.6" r="1.8" fill="#f8e22c"/><circle cx="500.9" cy="247.3" r="1.8" fill="#1a8cc4"/><circle cx="434.3" cy="274.8" r="1.5" fill="#bcdfe4"/><circle cx="496.3" cy="238.7" r="1.8" fill="#1a8cc4"/><circle cx="437.3" cy="344.3" r="1.8" fill="#f8e22c"/><circle cx="441.2" cy="350.1" r="1.8" fill="#f8e22c"/><circle cx="481.8" cy="344.0" r="1.8" fill="#eca21c"/><circle cx="458.1" cy="351.0" r="1.8" fill="#f8e22c"/><circle cx="467.5" cy="341.8" r="1.8" fill="#eca21c"/><circle cx="432.3" cy="266.4" r="1.5" fill="#bcdfe4"/><circle cx="454.8" cy="268.3" r="1.5" fill="#bcdfe4"/><circle cx="476.4" cy="274.8" r="1.8" fill="#1a8cc4"/><circle cx="425.6" cy="242.7" r="1.5" fill="#bcdfe4"/><circle cx="484.8" cy="347.8" r="1.8" fill="#eca21c"/><circle cx="477.9" cy="252.0" r="1.8" fill="#1a8cc4"/><circle cx="432.5" cy="347.2" r="1.8" fill="#f8e22c"/><circle cx="450.7" cy="355.7" r="1.8" fill="#f8e22c"/><circle cx="499.7" cy="265.9" r="1.8" fill="#1a8cc4"/><circle cx="433.0" cy="357.5" r="1.8" fill="#f8e22c"/><circle cx="430.6" cy="257.0" r="1.5" fill="#bcdfe4"/><circle cx="447.7" cy="281.2" r="1.5" fill="#d0d0d0"/><circle cx="488.7" cy="264.6" r="1.8" fill="#1a8cc4"/><circle cx="482.9" cy="277.8" r="1.8" fill="#1a8cc4"/><circle cx="471.7" cy="285.9" r="1.8" fill="#1a8cc4"/><circle cx="466.9" cy="337.0" r="1.8" fill="#eca21c"/><circle cx="450.6" cy="346.3" r="1.8" fill="#f8e22c"/><circle cx="489.7" cy="338.9" r="1.8" fill="#eca21c"/><circle cx="451.2" cy="354.7" r="1.8" fill="#f8e22c"/><circle cx="453.9" cy="279.8" r="1.8" fill="#1a8cc4"/><circle cx="435.5" cy="271.9" r="1.5" fill="#bcdfe4"/><circle cx="474.4" cy="282.9" r="1.8" fill="#1a8cc4"/><circle cx="461.9" cy="353.6" r="1.8" fill="#eca21c"/><circle cx="433.3" cy="350.7" r="1.8" fill="#f8e22c"/><circle cx="434.7" cy="264.9" r="1.5" fill="#bcdfe4"/><circle cx="510.2" cy="245.6" r="1.5" fill="#d0d0d0"/><circle cx="452.2" cy="283.3" r="1.8" fill="#1a8cc4"/><circle cx="430.5" cy="261.8" r="1.5" fill="#bcdfe4"/><circle cx="453.3" cy="270.8" r="1.5" fill="#bcdfe4"/><circle cx="488.5" cy="243.6" r="1.8" fill="#1a8cc4"/><circle cx="483.0" cy="240.5" r="1.8" fill="#1a8cc4"/><circle cx="484.8" cy="241.9" r="1.8" fill="#1a8cc4"/><circle cx="462.2" cy="282.1" r="1.5" fill="#bcdfe4"/><circle cx="507.5" cy="244.6" r="1.8" fill="#1a8cc4"/><circle cx="446.8" cy="253.7" r="1.5" fill="#bcdfe4"/><circle cx="489.0" cy="242.1" r="1.8" fill="#1a8cc4"/><circle cx="456.1" cy="283.0" r="1.8" fill="#1a8cc4"/><circle cx="470.9" cy="267.0" r="1.8" fill="#1a8cc4"/><circle cx="478.4" cy="282.8" r="1.8" fill="#1a8cc4"/><circle cx="489.0" cy="333.7" r="1.8" fill="#eca21c"/><circle cx="465.5" cy="268.2" r="1.5" fill="#bcdfe4"/><circle cx="472.6" cy="255.0" r="1.8" fill="#1a8cc4"/><circle cx="502.6" cy="239.3" r="1.8" fill="#1a8cc4"/><circle cx="466.3" cy="335.5" r="1.8" fill="#eca21c"/><circle cx="468.4" cy="326.2" r="1.8" fill="#eca21c"/><circle cx="460.2" cy="347.6" r="1.8" fill="#f8e22c"/><circle cx="439.6" cy="361.6" r="1.8" fill="#f8e22c"/><circle cx="415.0" cy="244.5" r="1.5" fill="#bcdfe4"/><circle cx="460.8" cy="247.7" r="1.8" fill="#1a8cc4"/><circle cx="460.3" cy="280.2" r="1.8" fill="#1a8cc4"/><circle cx="410.8" cy="243.7" r="1.5" fill="#bcdfe4"/><circle cx="448.1" cy="269.7" r="1.5" fill="#d0d0d0"/><circle cx="451.4" cy="276.8" r="1.8" fill="#1a8cc4"/><circle cx="464.4" cy="344.8" r="1.8" fill="#eca21c"/><circle cx="410.5" cy="246.3" r="1.5" fill="#bcdfe4"/><circle cx="497.5" cy="240.4" r="1.8" fill="#1a8cc4"/><circle cx="415.8" cy="253.1" r="1.5" fill="#bcdfe4"/><circle cx="485.7" cy="261.7" r="1.8" fill="#1a8cc4"/><circle cx="448.8" cy="277.3" r="1.8" fill="#1a8cc4"/><circle cx="464.8" cy="262.6" r="1.8" fill="#1a8cc4"/><circle cx="497.5" cy="350.5" r="1.8" fill="#eca21c"/><circle cx="490.7" cy="241.6" r="1.8" fill="#1a8cc4"/><circle cx="480.5" cy="268.8" r="1.8" fill="#1a8cc4"/><circle cx="471.2" cy="335.3" r="1.8" fill="#eca21c"/><circle cx="489.2" cy="330.7" r="1.8" fill="#eca21c"/><circle cx="413.2" cy="246.1" r="1.5" fill="#bcdfe4"/><circle cx="414.7" cy="244.8" r="1.5" fill="#bcdfe4"/><circle cx="489.1" cy="245.3" r="1.8" fill="#1a8cc4"/><circle cx="449.5" cy="265.2" r="1.5" fill="#d0d0d0"/><circle cx="445.7" cy="352.4" r="1.8" fill="#f8e22c"/><circle cx="438.1" cy="265.2" r="1.5" fill="#bcdfe4"/><circle cx="502.3" cy="249.3" r="1.8" fill="#1a8cc4"/><circle cx="460.3" cy="348.7" r="1.8" fill="#f8e22c"/><circle cx="436.5" cy="279.0" r="1.5" fill="#bcdfe4"/><circle cx="430.3" cy="240.7" r="1.5" fill="#bcdfe4"/><circle cx="490.3" cy="332.1" r="1.8" fill="#eca21c"/><circle cx="471.5" cy="245.9" r="1.8" fill="#1a8cc4"/><circle cx="454.7" cy="345.4" r="1.8" fill="#f8e22c"/><circle cx="493.6" cy="342.1" r="1.8" fill="#eca21c"/><circle cx="491.6" cy="336.8" r="1.8" fill="#eca21c"/><circle cx="483.4" cy="322.6" r="1.8" fill="#eca21c"/><circle cx="430.8" cy="272.1" r="1.5" fill="#bcdfe4"/><circle cx="465.7" cy="284.3" r="1.8" fill="#1a8cc4"/><circle cx="450.1" cy="356.6" r="1.8" fill="#f8e22c"/><circle cx="482.9" cy="239.0" r="1.8" fill="#1a8cc4"/><circle cx="497.5" cy="263.1" r="1.8" fill="#1a8cc4"/><circle cx="455.7" cy="338.8" r="1.8" fill="#eca21c"/><circle cx="450.8" cy="263.5" r="1.5" fill="#d0d0d0"/><circle cx="437.5" cy="270.1" r="1.5" fill="#bcdfe4"/><circle cx="483.9" cy="331.0" r="1.8" fill="#eca21c"/><circle cx="426.2" cy="249.0" r="1.5" fill="#bcdfe4"/><circle cx="507.1" cy="256.4" r="1.8" fill="#1a8cc4"/><circle cx="479.6" cy="336.8" r="1.8" fill="#eca21c"/><circle cx="500.8" cy="245.8" r="1.8" fill="#1a8cc4"/><circle cx="438.1" cy="267.8" r="1.5" fill="#bcdfe4"/><circle cx="490.3" cy="264.2" r="1.8" fill="#1a8cc4"/><circle cx="419.4" cy="250.6" r="1.5" fill="#bcdfe4"/><circle cx="480.6" cy="246.7" r="1.8" fill="#1a8cc4"/><circle cx="427.0" cy="240.3" r="1.5" fill="#bcdfe4"/><circle cx="483.6" cy="271.7" r="1.8" fill="#1a8cc4"/><circle cx="484.2" cy="249.3" r="1.8" fill="#1a8cc4"/><circle cx="440.9" cy="251.4" r="1.5" fill="#bcdfe4"/><circle cx="434.1" cy="257.2" r="1.5" fill="#bcdfe4"/><circle cx="449.7" cy="280.9" r="1.8" fill="#1a8cc4"/><circle cx="496.8" cy="351.9" r="1.8" fill="#eca21c"/><circle cx="495.3" cy="343.1" r="1.8" fill="#eca21c"/><circle cx="470.7" cy="285.8" r="1.8" fill="#1a8cc4"/><circle cx="438.4" cy="362.4" r="1.8" fill="#f8e22c"/><circle cx="426.2" cy="268.1" r="1.5" fill="#bcdfe4"/><circle cx="476.5" cy="327.8" r="1.8" fill="#eca21c"/><circle cx="482.1" cy="266.8" r="1.8" fill="#1a8cc4"/><circle cx="446.9" cy="344.7" r="1.8" fill="#f8e22c"/><circle cx="421.1" cy="259.3" r="1.5" fill="#bcdfe4"/><circle cx="475.6" cy="327.0" r="1.8" fill="#eca21c"/><circle cx="471.4" cy="240.3" r="1.8" fill="#1a8cc4"/><circle cx="455.8" cy="241.2" r="1.5" fill="#bcdfe4"/><circle cx="472.6" cy="343.7" r="1.8" fill="#eca21c"/><circle cx="476.7" cy="249.7" r="1.8" fill="#1a8cc4"/><circle cx="443.7" cy="267.3" r="1.5" fill="#d0d0d0"/><circle cx="475.0" cy="243.5" r="1.8" fill="#1a8cc4"/><circle cx="452.4" cy="359.1" r="1.8" fill="#f8e22c"/><circle cx="483.1" cy="250.0" r="1.8" fill="#1a8cc4"/><circle cx="445.6" cy="357.8" r="1.8" fill="#f8e22c"/><circle cx="417.8" cy="240.2" r="1.5" fill="#bcdfe4"/><circle cx="480.2" cy="241.1" r="1.8" fill="#1a8cc4"/><circle cx="431.4" cy="360.7" r="1.8" fill="#f8e22c"/><circle cx="474.9" cy="243.2" r="1.8" fill="#1a8cc4"/><circle cx="463.2" cy="267.8" r="1.8" fill="#1a8cc4"/><circle cx="434.2" cy="263.0" r="1.5" fill="#bcdfe4"/><circle cx="460.2" cy="331.8" r="1.8" fill="#eca21c"/><circle cx="446.7" cy="274.4" r="1.8" fill="#1a8cc4"/><circle cx="444.0" cy="269.5" r="1.5" fill="#bcdfe4"/><circle cx="460.2" cy="283.7" r="1.5" fill="#bcdfe4"/><circle cx="426.6" cy="239.4" r="1.5" fill="#d0d0d0"/><circle cx="482.1" cy="335.9" r="1.8" fill="#eca21c"/><circle cx="449.7" cy="359.4" r="1.8" fill="#f8e22c"/><circle cx="504.8" cy="249.6" r="1.8" fill="#1a8cc4"/><circle cx="450.8" cy="280.4" r="1.8" fill="#eca21c"/><circle cx="414.7" cy="249.6" r="1.5" fill="#bcdfe4"/><circle cx="492.5" cy="270.8" r="1.8" fill="#1a8cc4"/><circle cx="450.6" cy="269.1" r="1.5" fill="#bcdfe4"/><circle cx="473.0" cy="266.3" r="1.8" fill="#1a8cc4"/><circle cx="443.2" cy="358.6" r="1.8" fill="#f8e22c"/><circle cx="415.2" cy="246.3" r="1.5" fill="#bcdfe4"/><circle cx="473.7" cy="324.3" r="1.8" fill="#eca21c"/><circle cx="485.6" cy="238.7" r="1.8" fill="#1a8cc4"/><circle cx="470.6" cy="343.3" r="1.8" fill="#eca21c"/><circle cx="506.4" cy="252.4" r="1.8" fill="#1a8cc4"/><circle cx="469.9" cy="239.1" r="1.8" fill="#1a8cc4"/><circle cx="471.2" cy="263.3" r="1.8" fill="#1a8cc4"/><circle cx="484.6" cy="324.0" r="1.8" fill="#eca21c"/><circle cx="444.9" cy="271.0" r="1.5" fill="#bcdfe4"/><circle cx="503.8" cy="238.1" r="1.8" fill="#1a8cc4"/><circle cx="447.7" cy="345.3" r="1.8" fill="#f8e22c"/><circle cx="469.9" cy="238.3" r="1.8" fill="#1a8cc4"/><circle cx="477.7" cy="247.6" r="1.8" fill="#1a8cc4"/><circle cx="439.9" cy="353.1" r="1.8" fill="#f8e22c"/><circle cx="473.9" cy="270.5" r="1.8" fill="#1a8cc4"/></g>
<line x1="277.70" y1="231.10" x2="277.70" y2="370.70" stroke="#222" stroke-width="1.1"/>
<line x1="277.20" y1="370.20" x2="384.40" y2="370.20" stroke="#222" stroke-width="1.1"/>
<line x1="406.30" y1="231.10" x2="406.30" y2="370.70" stroke="#222" stroke-width="1.1"/>
<line x1="405.80" y1="370.20" x2="513.30" y2="370.20" stroke="#222" stroke-width="1.1"/>
<text x="272.9" y="301.2" font-size="8.8" text-anchor="middle" textLength="23.6" lengthAdjust="spacingAndGlyphs" transform="rotate(-90 272.9 301.2)">UMAP 2</text>
<text x="401.6" y="300.6" font-size="8.8" text-anchor="middle" textLength="23.6" lengthAdjust="spacingAndGlyphs" transform="rotate(-90 401.6 300.6)">UMAP 2</text>
<text x="330.6" y="380.8" font-size="8.8" text-anchor="middle" textLength="23.4" lengthAdjust="spacingAndGlyphs">UMAP 1</text>
<text x="459.6" y="380.8" font-size="8.8" text-anchor="middle" textLength="23.4" lengthAdjust="spacingAndGlyphs">UMAP 1</text>
<text x="285.4" y="391.1" font-size="6.5">main cluster</text>
<circle cx="287.4" cy="399.4" r="2.3" fill="#e0441c"/>
<text x="293.1" y="401.6" font-size="6.5">C1 (multilineage)</text>
<circle cx="287.4" cy="409.2" r="2.3" fill="#2a2a8e"/>
<text x="293.1" y="411.4" font-size="6.5">C2 (lymphoid)</text>
<circle cx="287.4" cy="419.2" r="2.3" fill="#d4d4d4"/>
<text x="293.1" y="421.4" font-size="6.5">unclassified</text>
<text x="348.0" y="391.1" font-size="6.5">cohort</text>
<circle cx="350.4" cy="399.3" r="2.25" fill="#111"/>
<text x="355.7" y="401.5" font-size="6.5">GMALL</text>
<path d="M350.4 406.4L353.0 411.1L347.8 411.1Z" fill="#111"/>
<text x="355.7" y="411.4" font-size="6.5">MLL</text>
<rect x="348.4" y="417.2" width="4.0" height="4.0" fill="#111"/>
<text x="355.7" y="421.4" font-size="6.5">PMCC</text>
<path d="M347.5 429.2H353.3M350.4 426.3V432.1" stroke="#111" stroke-width="0.94" fill="none"/>
<text x="355.7" y="431.4" font-size="6.5">St Jude</text>
<text x="425.0" y="391.1" font-size="6.5">subcluster</text>
<circle cx="427.6" cy="399.7" r="2.3" fill="#d8a022"/>
<text x="432.7" y="401.9" font-size="6.5">C1a (delHBS1L)</text>
<circle cx="427.6" cy="409.2" r="2.3" fill="#f8e030"/>
<text x="432.7" y="411.4" font-size="6.5">C1b (del7)</text>
<circle cx="427.6" cy="419.7" r="2.3" fill="#a8d8d8"/>
<text x="432.7" y="421.9" font-size="6.5">C2a (IKZF1)</text>
<circle cx="427.6" cy="429.5" r="2.3" fill="#1a7aa8"/>
<text x="432.7" y="431.7" font-size="6.5">C2b (CDKN2A/PAX5)</text>
<circle cx="427.6" cy="439.2" r="2.3" fill="#d0d0d0"/>
<text x="432.7" y="441.4" font-size="6.5">unclassified</text>
<text x="7.5" y="468.1" font-size="11.5" fill="#000" font-weight="bold">E</text>
<text x="86.9" y="478.8" font-size="6.5">main cluster</text>
<text x="212.8" y="478.8" font-size="6.5">subcluster</text>
<circle cx="90.0" cy="487.0" r="2.8" fill="#e0401c"/>
<text x="95.9" y="489.2" font-size="6.5">C1 (multilineage)</text>
<circle cx="156.5" cy="487.0" r="2.8" fill="#2a2a8c"/>
<text x="162.4" y="489.2" font-size="6.5">C2 (lymphoid)</text>
<circle cx="215.6" cy="487.0" r="2.8" fill="#f4a01c" stroke="#c86a10" stroke-width="0.8"/>
<text x="221.5" y="489.2" font-size="6.5">C1a (delHBS1L)</text>
<circle cx="279.3" cy="487.0" r="2.8" fill="#f8e01c" stroke="#c8901c" stroke-width="0.8"/>
<text x="285.2" y="489.2" font-size="6.5">C1b (del7)</text>
<circle cx="327.6" cy="487.0" r="2.8" fill="#c0d8f0" stroke="#5a6ab0" stroke-width="0.8"/>
<text x="333.5" y="489.2" font-size="6.5">C2a (IKZF1)</text>
<circle cx="379.0" cy="487.0" r="2.8" fill="#1a88c8" stroke="#1a5a90" stroke-width="0.8"/>
<text x="384.9" y="489.2" font-size="6.5">C2b (CDKN2A/PAX5)</text>
<rect x="57.80" y="497.20" width="224.20" height="7.70" fill="#e0401c"/>
<rect x="282.00" y="497.20" width="199.00" height="7.70" fill="#2c2a8a"/>
<rect x="57.80" y="504.90" width="49.20" height="8.00" fill="#f8a800"/>
<rect x="107.00" y="504.90" width="12.50" height="8.00" fill="#f8e010"/>
<rect x="119.50" y="504.90" width="37.50" height="8.00" fill="#f8a800"/>
<rect x="157.00" y="504.90" width="12.50" height="8.00" fill="#f8e010"/>
<rect x="169.50" y="504.90" width="12.50" height="8.00" fill="#f8a800"/>
<rect x="182.00" y="504.90" width="12.50" height="8.00" fill="#f8e010"/>
<rect x="194.50" y="504.90" width="12.50" height="8.00" fill="#f8a800"/>
<rect x="207.00" y="504.90" width="25.00" height="8.00" fill="#f8e010"/>
<rect x="232.00" y="504.90" width="37.50" height="8.00" fill="#f8a800"/>
<rect x="269.50" y="504.90" width="12.50" height="8.00" fill="#f8e010"/>
<rect x="282.00" y="504.90" width="25.00" height="8.00" fill="#acd8ec"/>
<rect x="307.00" y="504.90" width="25.00" height="8.00" fill="#1890c4"/>
<rect x="332.00" y="504.90" width="87.50" height="8.00" fill="#acd8ec"/>
<rect x="419.50" y="504.90" width="50.00" height="8.00" fill="#1890c4"/>
<rect x="469.50" y="504.90" width="11.50" height="8.00" fill="#acd8ec"/>
<rect x="281.00" y="497.00" width="1.00" height="16.20" fill="#ffffff"/>
<rect x="56.50" y="515.30" width="425.00" height="22.70" fill="#fcfcc4"/>
<rect x="58.45" y="515.30" width="9.60" height="22.70" fill="#c8cc00"/>
<rect x="70.95" y="515.30" width="9.60" height="22.70" fill="#c8cc00"/>
<rect x="83.45" y="515.30" width="9.60" height="22.70" fill="#c8cc00"/>
<rect x="95.95" y="515.30" width="9.60" height="22.70" fill="#c8cc00"/>
<rect x="108.45" y="515.30" width="9.60" height="22.70" fill="#c8cc00"/>
<rect x="120.95" y="515.30" width="9.60" height="22.70" fill="#c8cc00"/>
<rect x="133.45" y="515.30" width="9.60" height="22.70" fill="#c8cc00"/>
<rect x="145.95" y="515.30" width="9.60" height="22.70" fill="#c8cc00"/>
<rect x="158.45" y="515.30" width="9.60" height="22.70" fill="#c8cc00"/>
<rect x="170.95" y="515.30" width="9.60" height="22.70" fill="#c8cc00"/>
<rect x="183.45" y="515.30" width="9.60" height="22.70" fill="#c8cc00"/>
<rect x="195.95" y="515.30" width="9.60" height="22.70" fill="#c8cc00"/>
<rect x="208.45" y="515.30" width="9.60" height="22.70" fill="#c8cc00"/>
<rect x="220.95" y="515.30" width="9.60" height="22.70" fill="#c8cc00"/>
<rect x="233.45" y="515.30" width="9.60" height="22.70" fill="#c8cc00"/>
<rect x="245.95" y="515.30" width="9.60" height="22.70" fill="#c8cc00"/>
<rect x="258.45" y="515.30" width="9.60" height="22.70" fill="#c8cc00"/>
<rect x="270.95" y="515.30" width="9.60" height="22.70" fill="#c8cc00"/>
<rect x="283.45" y="515.30" width="9.60" height="22.70" fill="#c8cc00"/>
<rect x="295.95" y="515.30" width="9.60" height="22.70" fill="#c8cc00"/>
<rect x="308.45" y="515.30" width="9.60" height="22.70" fill="#c8cc00"/>
<rect x="320.95" y="515.30" width="9.60" height="22.70" fill="#c8cc00"/>
<rect x="333.45" y="515.30" width="9.60" height="22.70" fill="#c8cc00"/>
<rect x="345.95" y="515.30" width="9.60" height="22.70" fill="#c8cc00"/>
<rect x="358.45" y="515.30" width="9.60" height="22.70" fill="#c8cc00"/>
<rect x="370.95" y="515.30" width="9.60" height="22.70" fill="#c8cc00"/>
<rect x="383.45" y="515.30" width="9.60" height="22.70" fill="#c8cc00"/>
<rect x="395.95" y="515.30" width="9.60" height="22.70" fill="#c8cc00"/>
<rect x="408.45" y="515.30" width="9.60" height="22.70" fill="#c8cc00"/>
<rect x="420.95" y="515.30" width="9.60" height="22.70" fill="#c8cc00"/>
<rect x="433.45" y="515.30" width="9.60" height="22.70" fill="#c8cc00"/>
<rect x="445.95" y="515.30" width="9.60" height="22.70" fill="#c8cc00"/>
<rect x="458.45" y="515.30" width="9.60" height="22.70" fill="#c8cc00"/>
<rect x="470.95" y="515.30" width="9.60" height="22.70" fill="#c8cc00"/>
<rect x="56.5" y="515.3" width="425" height="22.7" fill="none" stroke="#1a1a1a" stroke-width="1.1"/>
<line x1="281.50" y1="515.30" x2="281.50" y2="538.00" stroke="#111" stroke-width="1.0"/>
<path d="M63.5 538.0v2.6M75.5 538.0v2.6M88.5 538.0v2.6M100.5 538.0v2.6M113.5 538.0v2.6M125.5 538.0v2.6M138.5 538.0v2.6M150.5 538.0v2.6M163.5 538.0v2.6M175.5 538.0v2.6M188.5 538.0v2.6M200.5 538.0v2.6M213.5 538.0v2.6M225.5 538.0v2.6M238.5 538.0v2.6M250.5 538.0v2.6M263.5 538.0v2.6M275.5 538.0v2.6M288.5 538.0v2.6M300.5 538.0v2.6M313.5 538.0v2.6M325.5 538.0v2.6M338.5 538.0v2.6M350.5 538.0v2.6M363.5 538.0v2.6M375.5 538.0v2.6M388.5 538.0v2.6M400.5 538.0v2.6M413.5 538.0v2.6M425.5 538.0v2.6M438.5 538.0v2.6M450.5 538.0v2.6M463.5 538.0v2.6M475.5 538.0v2.6" stroke="#1a1a1a" stroke-width="0.75" fill="none"/>
<path d="M481.5 538.5h3.1M481.5 532.5h3.1M481.5 526.5h3.1M481.5 520.5h3.1" stroke="#1a1a1a" stroke-width="0.9" fill="none"/>
<text x="487.8" y="523.1" font-size="6.2">75</text>
<text x="487.8" y="528.8" font-size="6.2">50</text>
<text x="487.8" y="534.4" font-size="6.2">25</text>
<text x="487.8" y="540.1" font-size="6.2">0</text>
<text x="53.5" y="524.8" font-size="6.3" text-anchor="end">B precursor</text>
<text x="53.5" y="532.3" font-size="6.3" text-anchor="end">cells</text>
<rect x="58.45" y="544.60" width="9.60" height="21.80" fill="#ee7aa2"/>
<rect x="70.95" y="544.60" width="9.60" height="21.80" fill="#ee7aa2"/>
<rect x="83.45" y="544.60" width="9.60" height="21.80" fill="#ee7aa2"/>
<rect x="95.95" y="544.60" width="9.60" height="21.80" fill="#ee7aa2"/>
<rect x="108.45" y="545.91" width="9.60" height="20.49" fill="#ee7aa2"/>
<rect x="120.95" y="545.91" width="9.60" height="20.49" fill="#ee7aa2"/>
<rect x="133.45" y="546.34" width="9.60" height="20.06" fill="#ee7aa2"/>
<rect x="145.95" y="547.00" width="9.60" height="19.40" fill="#ee7aa2"/>
<rect x="158.45" y="548.74" width="9.60" height="17.66" fill="#ee7aa2"/>
<rect x="170.95" y="548.74" width="9.60" height="17.66" fill="#ee7aa2"/>
<rect x="183.45" y="551.14" width="9.60" height="15.26" fill="#ee7aa2"/>
<rect x="195.95" y="552.45" width="9.60" height="13.95" fill="#ee7aa2"/>
<rect x="208.45" y="553.10" width="9.60" height="13.30" fill="#ee7aa2"/>
<rect x="220.95" y="554.19" width="9.60" height="12.21" fill="#ee7aa2"/>
<rect x="233.45" y="554.41" width="9.60" height="11.99" fill="#ee7aa2"/>
<rect x="245.95" y="556.15" width="9.60" height="10.25" fill="#ee7aa2"/>
<rect x="258.45" y="560.73" width="9.60" height="5.67" fill="#ee7aa2"/>
<rect x="270.95" y="561.39" width="9.60" height="5.01" fill="#ee7aa2"/>
<rect x="283.45" y="562.69" width="9.60" height="3.71" fill="#ee7aa2"/>
<rect x="295.95" y="564.22" width="9.60" height="2.18" fill="#ee7aa2"/>
<rect x="308.45" y="564.44" width="9.60" height="1.96" fill="#ee7aa2"/>
<rect x="56.5" y="544.6" width="425" height="21.8" fill="none" stroke="#1a1a1a" stroke-width="1.1"/>
<line x1="281.50" y1="544.60" x2="281.50" y2="566.40" stroke="#111" stroke-width="1.0"/>
<path d="M63.5 566.4v2.6M75.5 566.4v2.6M88.5 566.4v2.6M100.5 566.4v2.6M113.5 566.4v2.6M125.5 566.4v2.6M138.5 566.4v2.6M150.5 566.4v2.6M163.5 566.4v2.6M175.5 566.4v2.6M188.5 566.4v2.6M200.5 566.4v2.6M213.5 566.4v2.6M225.5 566.4v2.6M238.5 566.4v2.6M250.5 566.4v2.6M263.5 566.4v2.6M275.5 566.4v2.6M288.5 566.4v2.6M300.5 566.4v2.6M313.5 566.4v2.6M325.5 566.4v2.6M338.5 566.4v2.6M350.5 566.4v2.6M363.5 566.4v2.6M375.5 566.4v2.6M388.5 566.4v2.6M400.5 566.4v2.6M413.5 566.4v2.6M425.5 566.4v2.6M438.5 566.4v2.6M450.5 566.4v2.6M463.5 566.4v2.6M475.5 566.4v2.6" stroke="#1a1a1a" stroke-width="0.75" fill="none"/>
<path d="M481.5 566.5h3.1M481.5 560.5h3.1M481.5 555.5h3.1M481.5 550.5h3.1" stroke="#1a1a1a" stroke-width="0.9" fill="none"/>
<text x="487.8" y="552.1" font-size="6.2">75</text>
<text x="487.8" y="557.6" font-size="6.2">50</text>
<text x="487.8" y="563.1" font-size="6.2">25</text>
<text x="487.8" y="568.5" font-size="6.2">0</text>
<text x="53.5" y="554.0" font-size="6.3" text-anchor="end">Myeloid</text>
<text x="53.5" y="561.6" font-size="6.3" text-anchor="end">cells</text>
<rect x="56.5" y="573.8" width="425" height="22.5" fill="none" stroke="#1a1a1a" stroke-width="1.1"/>
<line x1="281.50" y1="573.80" x2="281.50" y2="596.30" stroke="#111" stroke-width="1.0"/>
<path d="M63.5 596.3v2.6M75.5 596.3v2.6M88.5 596.3v2.6M100.5 596.3v2.6M113.5 596.3v2.6M125.5 596.3v2.6M138.5 596.3v2.6M150.5 596.3v2.6M163.5 596.3v2.6M175.5 596.3v2.6M188.5 596.3v2.6M200.5 596.3v2.6M213.5 596.3v2.6M225.5 596.3v2.6M238.5 596.3v2.6M250.5 596.3v2.6M263.5 596.3v2.6M275.5 596.3v2.6M288.5 596.3v2.6M300.5 596.3v2.6M313.5 596.3v2.6M325.5 596.3v2.6M338.5 596.3v2.6M350.5 596.3v2.6M363.5 596.3v2.6M375.5 596.3v2.6M388.5 596.3v2.6M400.5 596.3v2.6M413.5 596.3v2.6M425.5 596.3v2.6M438.5 596.3v2.6M450.5 596.3v2.6M463.5 596.3v2.6M475.5 596.3v2.6" stroke="#1a1a1a" stroke-width="0.75" fill="none"/>
<path d="M481.5 596.5h3.1M481.5 590.5h3.1M481.5 585.5h3.1M481.5 579.5h3.1" stroke="#1a1a1a" stroke-width="0.9" fill="none"/>
<text x="487.8" y="581.5" font-size="6.2">75</text>
<text x="487.8" y="587.1" font-size="6.2">50</text>
<text x="487.8" y="592.8" font-size="6.2">25</text>
<text x="487.8" y="598.4" font-size="6.2">0</text>
<text x="53.5" y="583.2" font-size="6.3" text-anchor="end">Mature B</text>
<text x="53.5" y="590.8" font-size="6.3" text-anchor="end">cells</text>
<rect x="56.5" y="604.3" width="425" height="22.7" fill="none" stroke="#1a1a1a" stroke-width="1.1"/>
<line x1="281.50" y1="604.30" x2="281.50" y2="627.00" stroke="#111" stroke-width="1.0"/>
<path d="M63.5 627.0v2.6M75.5 627.0v2.6M88.5 627.0v2.6M100.5 627.0v2.6M113.5 627.0v2.6M125.5 627.0v2.6M138.5 627.0v2.6M150.5 627.0v2.6M163.5 627.0v2.6M175.5 627.0v2.6M188.5 627.0v2.6M200.5 627.0v2.6M213.5 627.0v2.6M225.5 627.0v2.6M238.5 627.0v2.6M250.5 627.0v2.6M263.5 627.0v2.6M275.5 627.0v2.6M288.5 627.0v2.6M300.5 627.0v2.6M313.5 627.0v2.6M325.5 627.0v2.6M338.5 627.0v2.6M350.5 627.0v2.6M363.5 627.0v2.6M375.5 627.0v2.6M388.5 627.0v2.6M400.5 627.0v2.6M413.5 627.0v2.6M425.5 627.0v2.6M438.5 627.0v2.6M450.5 627.0v2.6M463.5 627.0v2.6M475.5 627.0v2.6" stroke="#1a1a1a" stroke-width="0.75" fill="none"/>
<path d="M481.5 627.5h3.1M481.5 621.5h3.1M481.5 615.5h3.1M481.5 609.5h3.1" stroke="#1a1a1a" stroke-width="0.9" fill="none"/>
<text x="487.8" y="612.1" font-size="6.2">75</text>
<text x="487.8" y="617.8" font-size="6.2">50</text>
<text x="487.8" y="623.4" font-size="6.2">25</text>
<text x="487.8" y="629.1" font-size="6.2">0</text>
<text x="53.5" y="617.7" font-size="6.3" text-anchor="end">T cells</text>
<text x="53.3" y="502.9" font-size="6.3" text-anchor="end">main cluster</text>
<text x="53.3" y="510.6" font-size="6.3" text-anchor="end">subcluster</text>
<circle cx="350.50" cy="562.20" r="0.75" fill="#333"/>
<circle cx="425.50" cy="561.90" r="0.75" fill="#333"/>
<circle cx="113.20" cy="590.80" r="0.75" fill="#333"/>
<path d="M174.40 590.10L175.60 592.90L176.80 590.10M175.60 592.70V594.30" stroke="#222" stroke-width="0.8" fill="none"/>
<path d="M424.40 590.10L425.60 592.90L426.80 590.10M425.60 592.70V594.30" stroke="#222" stroke-width="0.8" fill="none"/>
<path d="M449.40 590.10L450.60 592.90L451.80 590.10M450.60 592.70V594.30" stroke="#222" stroke-width="0.8" fill="none"/>
<path d="M474.40 590.10L475.60 592.90L476.80 590.10M475.60 592.70V594.30" stroke="#222" stroke-width="0.8" fill="none"/>
<rect x="145.20" y="594.90" width="10.40" height="1.40" fill="#1c9a4c"/>
<rect x="233.10" y="588.20" width="9.70" height="8.10" fill="#1c9a4c"/>
<rect x="283.20" y="593.80" width="9.50" height="2.50" fill="#1c9a4c"/>
<rect x="395.20" y="593.60" width="9.70" height="2.70" fill="#1c9a4c"/>
<circle cx="112.80" cy="622.20" r="0.75" fill="#333"/>
<circle cx="287.60" cy="621.20" r="0.75" fill="#333"/>
<text x="65.2" y="633.7" font-size="5.5" text-anchor="end" transform="rotate(-90 65.2 633.7)">R-21-01191</text>
<text x="77.7" y="633.7" font-size="5.5" text-anchor="end" transform="rotate(-90 77.7 633.7)">21ORD12094</text>
<text x="90.2" y="633.7" font-size="5.5" text-anchor="end" transform="rotate(-90 90.2 633.7)">Z-10-09069</text>
<text x="102.7" y="633.7" font-size="5.5" text-anchor="end" transform="rotate(-90 102.7 633.7)">I29997</text>
<text x="115.2" y="633.7" font-size="5.5" text-anchor="end" transform="rotate(-90 115.2 633.7)">J33015</text>
<text x="127.7" y="633.7" font-size="5.5" text-anchor="end" transform="rotate(-90 127.7 633.7)">Z-10-00400</text>
<text x="140.2" y="633.7" font-size="5.5" text-anchor="end" transform="rotate(-90 140.2 633.7)">I29783</text>
<text x="152.7" y="633.7" font-size="5.5" text-anchor="end" transform="rotate(-90 152.7 633.7)">J35913</text>
<text x="165.2" y="633.7" font-size="5.5" text-anchor="end" transform="rotate(-90 165.2 633.7)">J33026</text>
<text x="177.7" y="633.7" font-size="5.5" text-anchor="end" transform="rotate(-90 177.7 633.7)">21ORD12125</text>
<text x="190.2" y="633.7" font-size="5.5" text-anchor="end" transform="rotate(-90 190.2 633.7)">J35911</text>
<text x="202.7" y="633.7" font-size="5.5" text-anchor="end" transform="rotate(-90 202.7 633.7)">Z-11-03429</text>
<text x="215.2" y="633.7" font-size="5.5" text-anchor="end" transform="rotate(-90 215.2 633.7)">Z-10-01207</text>
<text x="227.7" y="633.7" font-size="5.5" text-anchor="end" transform="rotate(-90 227.7 633.7)">Z-06-01166</text>
<text x="240.2" y="633.7" font-size="5.5" text-anchor="end" transform="rotate(-90 240.2 633.7)">J35908</text>
<text x="252.7" y="633.7" font-size="5.5" text-anchor="end" transform="rotate(-90 252.7 633.7)">21ORD12091</text>
<text x="265.2" y="633.7" font-size="5.5" text-anchor="end" transform="rotate(-90 265.2 633.7)">J33035</text>
<text x="277.7" y="633.7" font-size="5.5" text-anchor="end" transform="rotate(-90 277.7 633.7)">I29977</text>
<text x="290.2" y="633.7" font-size="5.5" text-anchor="end" transform="rotate(-90 290.2 633.7)">I29964</text>
<text x="302.7" y="633.7" font-size="5.5" text-anchor="end" transform="rotate(-90 302.7 633.7)">J33014</text>
<text x="315.2" y="633.7" font-size="5.5" text-anchor="end" transform="rotate(-90 315.2 633.7)">R-21-01904</text>
<text x="327.7" y="633.7" font-size="5.5" text-anchor="end" transform="rotate(-90 327.7 633.7)">I29943</text>
<text x="340.2" y="633.7" font-size="5.5" text-anchor="end" transform="rotate(-90 340.2 633.7)">Z-10-01793</text>
<text x="352.7" y="633.7" font-size="5.5" text-anchor="end" transform="rotate(-90 352.7 633.7)">21ORD12025</text>
<text x="365.2" y="633.7" font-size="5.5" text-anchor="end" transform="rotate(-90 365.2 633.7)">21ORD12009</text>
<text x="377.7" y="633.7" font-size="5.5" text-anchor="end" transform="rotate(-90 377.7 633.7)">I29978</text>
<text x="390.2" y="633.7" font-size="5.5" text-anchor="end" transform="rotate(-90 390.2 633.7)">J33012</text>
<text x="402.7" y="633.7" font-size="5.5" text-anchor="end" transform="rotate(-90 402.7 633.7)">Z-08-06609</text>
<text x="415.2" y="633.7" font-size="5.5" text-anchor="end" transform="rotate(-90 415.2 633.7)">I29787</text>
<text x="427.7" y="633.7" font-size="5.5" text-anchor="end" transform="rotate(-90 427.7 633.7)">I29980</text>
<text x="440.2" y="633.7" font-size="5.5" text-anchor="end" transform="rotate(-90 440.2 633.7)">21ORD12089</text>
<text x="452.7" y="633.7" font-size="5.5" text-anchor="end" transform="rotate(-90 452.7 633.7)">I29970</text>
<text x="465.2" y="633.7" font-size="5.5" text-anchor="end" transform="rotate(-90 465.2 633.7)">21ORD12108</text>
<text x="477.7" y="633.7" font-size="5.5" text-anchor="end" transform="rotate(-90 477.7 633.7)">21ORD12015</text>
<text x="500.8" y="571.4" font-size="7.0" text-anchor="middle" fill="#333" textLength="80.5" lengthAdjust="spacingAndGlyphs" transform="rotate(90 500.8 571.4)"><tspan font-style="italic">BCR::ABL1</tspan>-FISH + cells (%)</text>
<rect x="0.5" y="0.5" width="519" height="678" fill="none" stroke="#555" stroke-width="1"/>
</svg></body></html>
